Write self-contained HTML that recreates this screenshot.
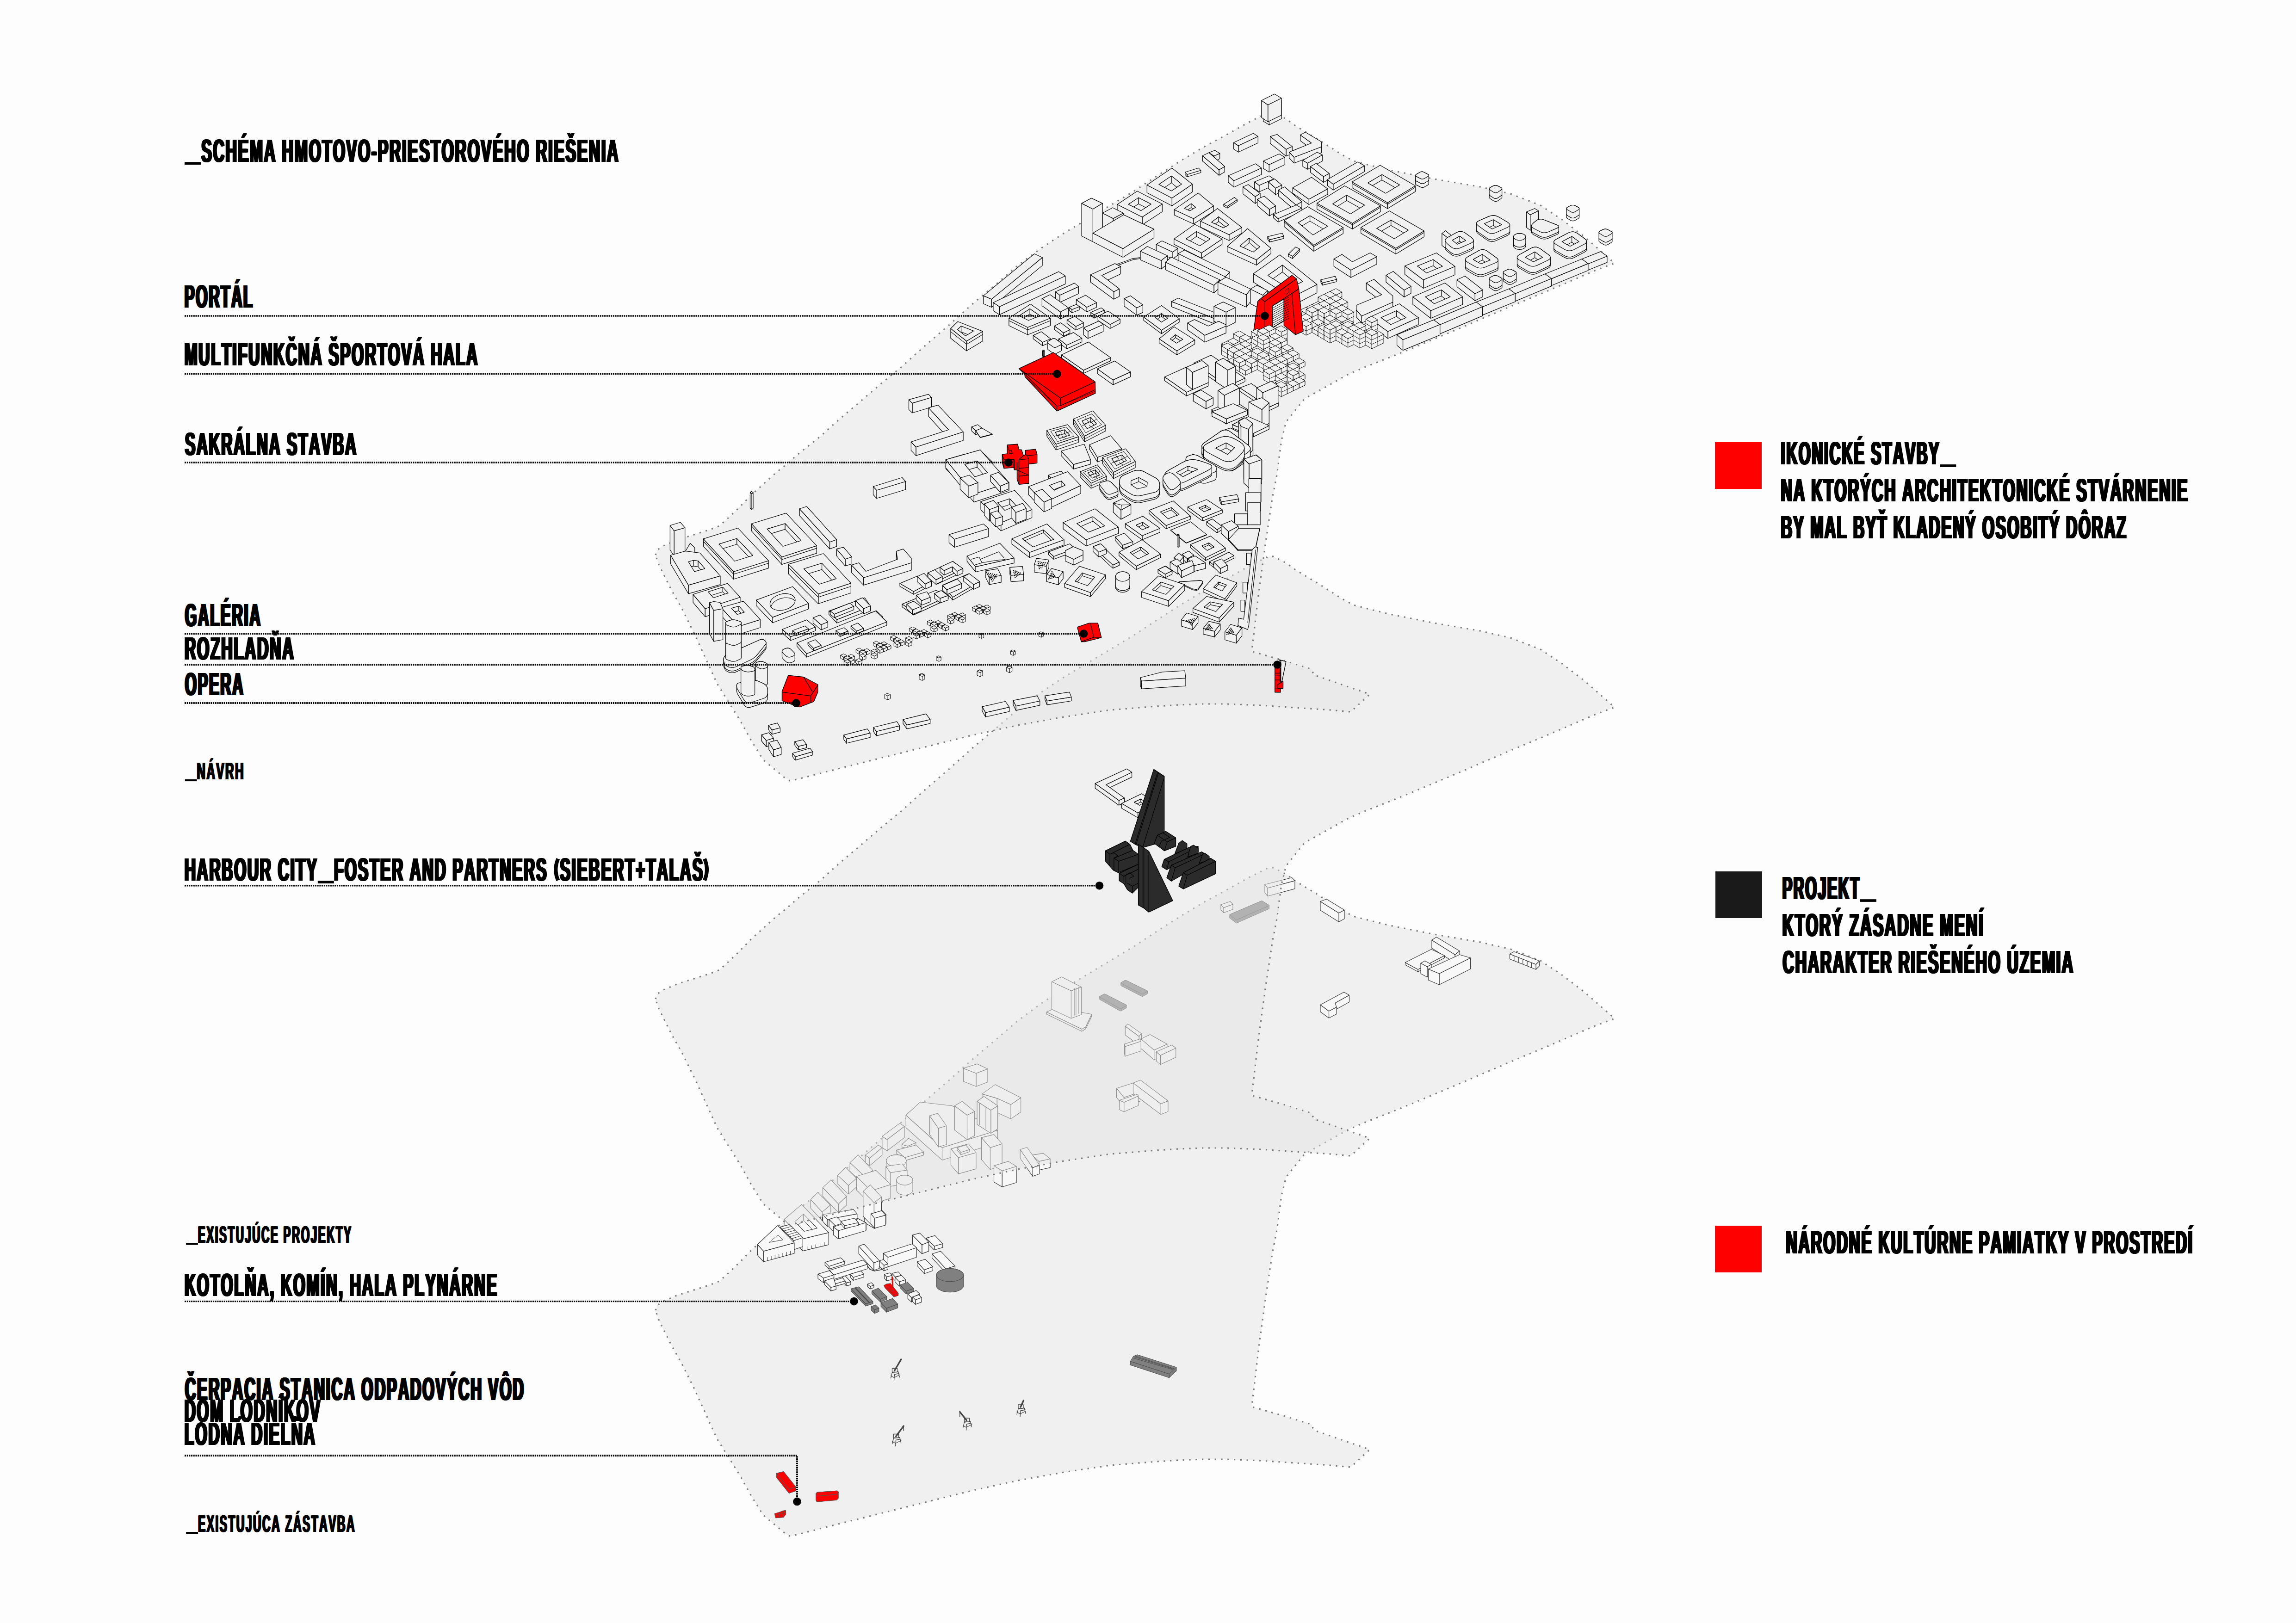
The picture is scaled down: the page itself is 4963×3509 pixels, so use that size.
<!DOCTYPE html><html><head><meta charset="utf-8"><title>Schema</title><style>html,body{margin:0;padding:0;background:#fff}svg{display:block}</style></head><body><svg xmlns="http://www.w3.org/2000/svg" width="4963" height="3509" viewBox="0 0 4963 3509" font-family="Liberation Sans, sans-serif" font-weight="bold" style="font-kerning:none" text-rendering="geometricPrecision">
<rect width="4963" height="3509" fill="#fdfdfd"/>
<g stroke-linejoin="round">
<polygon points="1417,2833 1421,2822 1432,2814 1465,2800 1500,2789 1535,2778 1555,2770 1575,2752 1600,2728 1625,2702 1650,2680 1675,2657 1700,2637 1725,2615 1750,2595 1775,2575 1800,2552 1835,2522 1870,2492 1905,2462 1950,2425 2000,2380 2050,2337 2100,2292 2150,2250 2200,2207 2250,2170 2300,2137 2350,2107 2400,2077 2450,2047 2500,2014 2550,1982 2600,1952 2650,1925 2700,1897 2740,1877 2752,1876 2780,1890 2800,1905 2850,1935 2900,1967 2925,1981 3000,2000 3100,2020 3200,2037 3265,2052 3330,2077 3375,2107 3425,2145 3490,2202 3450,2217 3350,2260 3250,2302 3150,2345 3050,2387 2950,2427 2915,2442 2820,2495 2780,2545 2770,2585 2760,2660 2750,2711 2735,2811 2720,2921 2707,3031 2707,3042 2775,3061 2835,3080 2840,3092 2900,3113 2961,3134 2940,3153 2920,3172 2875,3168 2800,3163 2725,3158 2650,3155 2600,3155 2548,3157 2500,3160 2400,3168 2300,3183 2200,3201 2100,3223 2000,3248 1900,3273 1800,3298 1750,3311 1718,3319 1707,3321 1698,3316 1680,3301 1650,3276 1625,3236 1600,3191 1575,3151 1550,3111 1525,3056 1500,3001 1475,2951 1450,2906 1425,2856" fill="rgb(227,227,227)" fill-opacity="0.5" stroke="none"/><polygon points="1417,2833 1421,2822 1432,2814 1465,2800 1500,2789 1535,2778 1555,2770 1575,2752 1600,2728 1625,2702 1650,2680 1675,2657 1700,2637 1725,2615 1750,2595 1775,2575 1800,2552 1835,2522 1870,2492 1905,2462 1950,2425 2000,2380 2050,2337 2100,2292 2150,2250 2200,2207 2250,2170 2300,2137 2350,2107 2400,2077 2450,2047 2500,2014 2550,1982 2600,1952 2650,1925 2700,1897 2740,1877 2752,1876 2780,1890 2800,1905 2850,1935 2900,1967 2925,1981 3000,2000 3100,2020 3200,2037 3265,2052 3330,2077 3375,2107 3425,2145 3490,2202 3450,2217 3350,2260 3250,2302 3150,2345 3050,2387 2950,2427 2915,2442 2820,2495 2780,2545 2770,2585 2760,2660 2750,2711 2735,2811 2720,2921 2707,3031 2707,3042 2775,3061 2835,3080 2840,3092 2900,3113 2961,3134 2940,3153 2920,3172 2875,3168 2800,3163 2725,3158 2650,3155 2600,3155 2548,3157 2500,3160 2400,3168 2300,3183 2200,3201 2100,3223 2000,3248 1900,3273 1800,3298 1750,3311 1718,3319 1707,3321 1698,3316 1680,3301 1650,3276 1625,3236 1600,3191 1575,3151 1550,3111 1525,3056 1500,3001 1475,2951 1450,2906 1425,2856" fill="none" stroke="#7a7a7a" stroke-width="3.2" stroke-dasharray="3.2 10.6" stroke-linejoin="round"/>
<polygon points="2799,1904 2740,1920 2740,1937.5 2799,1921.5" fill="#f8f8f8" stroke="#333" stroke-width="1.1" /><polygon points="2740,1920 2734,1912.5 2734,1930 2740,1937.5" fill="#f8f8f8" stroke="#333" stroke-width="1.1" /><polygon points="2734,1912.5 2792.5,1897.5 2799,1904 2740,1920" fill="#f8f8f8" stroke="#333" stroke-width="1.1" />
<polygon points="2665,1955 2645,1962.5 2645,1973.5 2665,1966" fill="#f8f8f8" stroke="#333" stroke-width="1.1" /><polygon points="2645,1962.5 2639,1956 2639,1967 2645,1973.5" fill="#f8f8f8" stroke="#333" stroke-width="1.1" /><polygon points="2639,1956 2659,1949 2665,1955 2645,1962.5" fill="#f8f8f8" stroke="#333" stroke-width="1.1" />
<polygon points="2658,1977.5 2657.9,1977.7 2657.9,1984.7 2658,1984.9 2658.3,1985.1 2671.7,1995.4 2672,1995.6 2672.4,1995.7 2672.7,1995.8 2673.1,1995.7 2673.4,1995.6 2743.1,1964.9 2743.4,1964.7 2743.5,1964.6 2743.5,1964.4 2743.5,1957.4 2743.4,1957.2 2743.1,1957 2728.4,1948 2728,1947.8 2727.7,1947.7 2727.3,1947.7 2726.9,1947.8 2726.6,1947.9 2658.4,1977.1 2658.1,1977.3" fill="#808080" stroke="#4d4d4d" stroke-width="1" stroke-linejoin="round"/><polygon points="2658.3,1978.1 2658,1977.9 2657.9,1977.7 2658,1977.5 2658.1,1977.3 2658.4,1977.1 2726.6,1947.9 2726.9,1947.8 2727.3,1947.7 2727.7,1947.7 2728,1947.8 2728.4,1948 2743.1,1957 2743.4,1957.2 2743.5,1957.4 2743.5,1957.6 2743.4,1957.7 2743.1,1957.9 2673.4,1988.6 2673.1,1988.7 2672.7,1988.8 2672.4,1988.7 2672,1988.6 2671.7,1988.4" fill="#808080" stroke="#4d4d4d" stroke-width="1" stroke-linejoin="round"/>
<polygon points="2906,1967.5 2894,1974 2894,1993 2906,1986.5" fill="#f8f8f8" stroke="#333" stroke-width="1.1" /><polygon points="2894,1974 2854,1949 2854,1968 2894,1993" fill="#f8f8f8" stroke="#333" stroke-width="1.1" /><polygon points="2854,1949 2867.5,1944 2906,1967.5 2894,1974" fill="#f8f8f8" stroke="#333" stroke-width="1.1" />
<polygon points="3155,2056 3145,2064 3145,2081.5 3155,2073.5" fill="#f8f8f8" stroke="#333" stroke-width="1.1" /><polygon points="3145,2064 3095,2032.5 3095,2050 3145,2081.5" fill="#f8f8f8" stroke="#333" stroke-width="1.1" /><polygon points="3095,2032.5 3105,2026 3155,2056 3145,2064" fill="#f8f8f8" stroke="#333" stroke-width="1.1" />
<polygon points="3122.5,2066 3065,2096 3065,2101 3122.5,2071" fill="#f8f8f8" stroke="#333" stroke-width="1.1" /><polygon points="3065,2096 3037.5,2081 3037.5,2086 3065,2101" fill="#f8f8f8" stroke="#333" stroke-width="1.1" /><polygon points="3037.5,2081 3094,2052.5 3122.5,2066 3065,2096" fill="#f8f8f8" stroke="#333" stroke-width="1.1" />
<polygon points="3327.5,2077.5 3320,2085 3320,2096 3327.5,2088.5" fill="#f8f8f8" stroke="#333" stroke-width="1.1" /><polygon points="3320,2085 3263.5,2062.5 3263.5,2073.5 3320,2096" fill="#f8f8f8" stroke="#333" stroke-width="1.1" /><polygon points="3263.5,2062.5 3272.5,2057.5 3327.5,2077.5 3320,2085" fill="#f8f8f8" stroke="#333" stroke-width="1.1" />
<line x1="3272.9" y1="2066.2" x2="3272.9" y2="2077.2" stroke="#333" stroke-width="1"/>
<line x1="3282.3" y1="2070" x2="3282.3" y2="2081" stroke="#333" stroke-width="1"/>
<line x1="3291.8" y1="2073.8" x2="3291.8" y2="2084.8" stroke="#333" stroke-width="1"/>
<line x1="3301.2" y1="2077.5" x2="3301.2" y2="2088.5" stroke="#333" stroke-width="1"/>
<line x1="3310.6" y1="2081.2" x2="3310.6" y2="2092.2" stroke="#333" stroke-width="1"/>
<polygon points="3094,2085 3085,2090 3085,2112.5 3094,2107.5" fill="#f8f8f8" stroke="#333" stroke-width="1.1" /><polygon points="3085,2090 3071,2082.5 3071,2105 3085,2112.5" fill="#f8f8f8" stroke="#333" stroke-width="1.1" /><polygon points="3071,2082.5 3080,2077.5 3094,2085 3085,2090" fill="#f8f8f8" stroke="#333" stroke-width="1.1" />
<polygon points="3178.5,2071 3111,2105 3111,2129 3178.5,2095" fill="#f8f8f8" stroke="#333" stroke-width="1.1" /><polygon points="3111,2105 3087.5,2095 3087.5,2119 3111,2129" fill="#f8f8f8" stroke="#333" stroke-width="1.1" /><polygon points="3087.5,2095 3155,2064 3178.5,2071 3111,2105" fill="#f8f8f8" stroke="#333" stroke-width="1.1" />
<polygon points="2423.6,2124.2 2423,2124.6 2422.8,2125 2422.8,2130.2 2422.8,2130.6 2423.1,2131 2423.6,2131.4 2467.6,2154 2468.3,2154.3 2469.1,2154.5 2469.8,2154.4 2470.5,2154.3 2471.1,2153.9 2479.6,2149 2480.2,2148.6 2480.4,2148.3 2480.4,2143 2480.4,2142.6 2480.1,2142.3 2479.6,2141.9 2434.5,2119.8 2433.8,2119.5 2433.1,2119.4 2432.4,2119.4 2431.7,2119.6 2431,2119.9" fill="#808080" stroke="#4d4d4d" stroke-width="1" stroke-linejoin="round"/><polygon points="2423.6,2126.1 2423.1,2125.7 2422.8,2125.4 2422.8,2125 2423,2124.6 2423.6,2124.2 2431,2119.9 2431.7,2119.6 2432.4,2119.4 2433.1,2119.4 2433.8,2119.5 2434.5,2119.8 2479.6,2141.9 2480.1,2142.3 2480.4,2142.6 2480.4,2143 2480.2,2143.4 2479.6,2143.8 2471.1,2148.7 2470.5,2149 2469.8,2149.2 2469.1,2149.2 2468.3,2149.1 2467.6,2148.8" fill="#808080" stroke="#4d4d4d" stroke-width="1" stroke-linejoin="round"/>
<polygon points="2377.5,2154 2377,2154.4 2376.7,2154.8 2376.7,2155.2 2376.7,2160.4 2376.9,2160.8 2377.5,2161.2 2420.5,2185.4 2421.2,2185.7 2421.9,2185.9 2422.6,2185.9 2423.3,2185.7 2424,2185.4 2434.2,2179.6 2434.7,2179.2 2435,2178.8 2435,2173.6 2435,2173.2 2434.7,2172.8 2434.1,2172.5 2389.5,2149.6 2388.8,2149.3 2388.1,2149.1 2387.4,2149.1 2386.6,2149.3 2385.9,2149.6" fill="#808080" stroke="#4d4d4d" stroke-width="1" stroke-linejoin="round"/><polygon points="2377.5,2155.9 2376.9,2155.5 2376.7,2155.2 2376.7,2154.8 2377,2154.4 2377.5,2154 2385.9,2149.6 2386.6,2149.3 2387.4,2149.1 2388.1,2149.1 2388.8,2149.3 2389.5,2149.6 2434.1,2172.5 2434.7,2172.8 2435,2173.2 2435,2173.6 2434.7,2174 2434.2,2174.4 2424,2180.1 2423.3,2180.5 2422.6,2180.6 2421.9,2180.6 2421.2,2180.5 2420.5,2180.2" fill="#808080" stroke="#4d4d4d" stroke-width="1" stroke-linejoin="round"/>
<polygon points="2916.5,2151.5 2886,2168.5 2886,2183.5 2916.5,2166.5" fill="#f8f8f8" stroke="#333" stroke-width="1.1" /><polygon points="2889,2177.5 2872.5,2186 2872.5,2201 2889,2192.5" fill="#f8f8f8" stroke="#333" stroke-width="1.1" /><polygon points="2872.5,2186 2854,2172.5 2854,2187.5 2872.5,2201" fill="#f8f8f8" stroke="#333" stroke-width="1.1" /><polygon points="2854,2172.5 2905,2145 2916.5,2151.5 2886,2168.5 2889,2177.5 2872.5,2186" fill="#f8f8f8" stroke="#333" stroke-width="1.1" />
<polygon points="2359.8,2192.7 2346.9,2219.9 2346.9,2224.5 2359.8,2197.3" fill="#f8f8f8" stroke="#333" stroke-width="1.1" /><polygon points="2346.9,2219.9 2338.5,2225.1 2338.5,2229.7 2346.9,2224.5" fill="#f8f8f8" stroke="#333" stroke-width="1.1" /><polygon points="2338.5,2225.1 2262.4,2188.1 2262.4,2192.7 2338.5,2229.7" fill="#f8f8f8" stroke="#333" stroke-width="1.1" /><polygon points="2262.4,2188.1 2281.9,2179 2359.8,2192.7 2346.9,2219.9 2338.5,2225.1" fill="#f8f8f8" stroke="#333" stroke-width="1.1" />
<polygon points="2337.4,2134 2315.4,2142 2315.4,2201.7 2337.4,2193.7" fill="#f8f8f8" stroke="#333" stroke-width="1.1" /><polygon points="2315.4,2142 2273.5,2122.5 2273.5,2182.2 2315.4,2201.7" fill="#f8f8f8" stroke="#333" stroke-width="1.1" /><polygon points="2273.5,2122.5 2294.9,2112 2337.4,2134 2315.4,2142" fill="#f8f8f8" stroke="#333" stroke-width="1.1" />
<polygon points="2467.3,2234.6 2462.1,2240.8 2462.1,2259.7 2467.3,2253.4" fill="#f8f8f8" stroke="#333" stroke-width="1.1" /><polygon points="2462.1,2240.8 2432.3,2218.8 2432.3,2237.7 2462.1,2259.7" fill="#f8f8f8" stroke="#333" stroke-width="1.1" /><polygon points="2432.3,2218.8 2438,2213.6 2467.3,2234.6 2462.1,2240.8" fill="#f8f8f8" stroke="#333" stroke-width="1.1" />
<line x1="2322.8" y1="2136.6" x2="2322.8" y2="2195.5" stroke="#333" stroke-width="0.9"/>
<line x1="2325.9" y1="2135.5" x2="2325.9" y2="2194" stroke="#333" stroke-width="0.9"/>
<line x1="2331.1" y1="2133.6" x2="2331.1" y2="2191.6" stroke="#333" stroke-width="0.9"/>
<polygon points="2522.8,2257.6 2494.6,2270.2 2494.6,2291.1 2522.8,2278.6" fill="#f8f8f8" stroke="#333" stroke-width="1.1" /><polygon points="2494.6,2270.2 2466.3,2246.1 2466.3,2267 2494.6,2291.1" fill="#f8f8f8" stroke="#333" stroke-width="1.1" /><polygon points="2466.3,2246.1 2486.2,2236.7 2522.8,2257.6 2494.6,2270.2" fill="#f8f8f8" stroke="#333" stroke-width="1.1" />
<polygon points="2466.3,2251.3 2431.7,2262.8 2431.7,2283.8 2466.3,2272.3" fill="#f8f8f8" stroke="#333" stroke-width="1.1" /><polygon points="2431.7,2262.8 2430.7,2257.2 2430.7,2278.1 2431.7,2283.8" fill="#f8f8f8" stroke="#333" stroke-width="1.1" /><polygon points="2430.7,2257.2 2465.2,2246.1 2466.3,2251.3 2431.7,2262.8" fill="#f8f8f8" stroke="#333" stroke-width="1.1" />
<polygon points="2541.7,2266 2508.2,2281.7 2508.2,2301.6 2541.7,2285.9" fill="#f8f8f8" stroke="#333" stroke-width="1.1" /><polygon points="2508.2,2281.7 2499.4,2274 2499.4,2293.9 2508.2,2301.6" fill="#f8f8f8" stroke="#333" stroke-width="1.1" /><polygon points="2499.4,2274 2533.3,2259.3 2541.7,2266 2508.2,2281.7" fill="#f8f8f8" stroke="#333" stroke-width="1.1" />
<polygon points="2135,2311.1 2109.9,2320.5 2109.9,2348.9 2135,2339.5" fill="#f8f8f8" stroke="#333" stroke-width="1.1" /><polygon points="2109.9,2320.5 2082.4,2309.7 2082.4,2338.1 2109.9,2348.9" fill="#f8f8f8" stroke="#333" stroke-width="1.1" /><polygon points="2082.4,2309.7 2112.1,2300.3 2135,2311.1 2109.9,2320.5" fill="#f8f8f8" stroke="#333" stroke-width="1.1" />
<polygon points="2466.3,2360.3 2429.6,2372.8 2429.6,2392.7 2466.3,2380.2" fill="#f8f8f8" stroke="#333" stroke-width="1.1" /><polygon points="2429.6,2372.8 2413.5,2352.9 2413.5,2372.8 2429.6,2392.7" fill="#f8f8f8" stroke="#333" stroke-width="1.1" /><polygon points="2413.5,2352.9 2449.5,2341.4 2466.3,2360.3 2429.6,2372.8" fill="#f8f8f8" stroke="#333" stroke-width="1.1" />
<polygon points="2524.9,2380.2 2509.2,2386.5 2509.2,2409.5 2524.9,2403.2" fill="#f8f8f8" stroke="#333" stroke-width="1.1" /><polygon points="2509.2,2386.5 2449.5,2341.4 2449.5,2364.5 2509.2,2409.5" fill="#f8f8f8" stroke="#333" stroke-width="1.1" /><polygon points="2449.5,2341.4 2465.2,2335.1 2524.9,2380.2 2509.2,2386.5" fill="#f8f8f8" stroke="#333" stroke-width="1.1" />
<polygon points="2460.4,2369.7 2429.6,2383.3 2429.6,2403.8 2460.4,2390.2" fill="#f8f8f8" stroke="#333" stroke-width="1.1" /><polygon points="2429.6,2383.3 2419.8,2378.7 2419.8,2399.2 2429.6,2403.8" fill="#f8f8f8" stroke="#333" stroke-width="1.1" /><polygon points="2419.8,2378.7 2459.6,2365.5 2460.4,2369.7 2429.6,2383.3" fill="#f8f8f8" stroke="#333" stroke-width="1.1" />
<polygon points="2155.3,2374.6 2122.9,2365.1 2122.9,2396.2 2155.3,2405.6" fill="#f8f8f8" stroke="#333" stroke-width="1.1" /><polygon points="2206.6,2373.2 2185,2388.1 2185,2419.1 2206.6,2404.3" fill="#f8f8f8" stroke="#333" stroke-width="1.1" /><polygon points="2185,2388.1 2155.3,2374.6 2155.3,2405.6 2185,2419.1" fill="#f8f8f8" stroke="#333" stroke-width="1.1" /><polygon points="2122.9,2365.1 2151.2,2344.9 2206.6,2373.2 2185,2388.1 2155.3,2374.6" fill="#f8f8f8" stroke="#333" stroke-width="1.1" />
<polygon points="1979.8,2401.8 1977,2403 1974.8,2404.5 1973.5,2406.4 1973,2408.3 1973,2432.6 1973.5,2434.6 1974.8,2436.4 1977,2438 1979.8,2439.2 1983,2439.9 1986.5,2440.2 1990,2439.9 1993.3,2439.2 1996.1,2438 1998.2,2436.4 1999.6,2434.6 2000,2432.6 2000,2408.3 1999.6,2406.4 1998.2,2404.5 1996.1,2403 1993.3,2401.8 1990,2401 1986.5,2400.8 1983,2401" fill="#f8f8f8" stroke="#333" stroke-width="1.1" stroke-linejoin="round"/><polygon points="2000,2408.3 1999.6,2410.3 1998.2,2412.1 1996.1,2413.7 1993.3,2414.9 1990,2415.6 1986.5,2415.9 1983,2415.6 1979.8,2414.9 1977,2413.7 1974.8,2412.1 1973.5,2410.3 1973,2408.3 1973.5,2406.4 1974.8,2404.5 1977,2403 1979.8,2401.8 1983,2401 1986.5,2400.8 1990,2401 1993.3,2401.8 1996.1,2403 1998.2,2404.5 1999.6,2406.4" fill="#f8f8f8" stroke="#333" stroke-width="1.1" stroke-linejoin="round"/>
<polygon points="2156.6,2443.4 2036.5,2481.2 2036.5,2508.2 2156.6,2470.4" fill="#f8f8f8" stroke="#333" stroke-width="1.1" /><polygon points="2036.5,2481.2 1958.2,2411 1958.2,2438 2036.5,2508.2" fill="#f8f8f8" stroke="#333" stroke-width="1.1" /><polygon points="1958.2,2411 1989.2,2382.7 2058.1,2390.8 2156.6,2443.4 2036.5,2481.2" fill="#f8f8f8" stroke="#333" stroke-width="1.1" />
<polygon points="2156.6,2390.8 2141.8,2400.2 2141.8,2450.2 2156.6,2440.7" fill="#f8f8f8" stroke="#333" stroke-width="1.1" /><polygon points="2141.8,2400.2 2112.1,2381.3 2112.1,2431.3 2141.8,2450.2" fill="#f8f8f8" stroke="#333" stroke-width="1.1" /><polygon points="2112.1,2381.3 2126.9,2370.5 2156.6,2390.8 2141.8,2400.2" fill="#f8f8f8" stroke="#333" stroke-width="1.1" />
<line x1="2068.9" y1="2394.8" x2="2068.9" y2="2443.4" stroke="#333" stroke-width="0.9"/>
<line x1="2074.3" y1="2397.5" x2="2074.3" y2="2448.8" stroke="#333" stroke-width="0.9"/>
<line x1="2095.9" y1="2408.3" x2="2095.9" y2="2459.6" stroke="#333" stroke-width="0.9"/>
<line x1="2101.3" y1="2405.6" x2="2101.3" y2="2456.9" stroke="#333" stroke-width="0.9"/>
<line x1="2014.9" y1="2416.4" x2="2014.9" y2="2456.9" stroke="#333" stroke-width="0.9"/>
<line x1="2020.3" y1="2419.1" x2="2020.3" y2="2462.3" stroke="#333" stroke-width="0.9"/>
<line x1="2117.5" y1="2384" x2="2117.5" y2="2432.6" stroke="#333" stroke-width="0.9"/>
<line x1="2131" y1="2393.5" x2="2131" y2="2440.7" stroke="#333" stroke-width="0.9"/>
<polygon points="1954.9,2435.3 1917.6,2463.7 1917.6,2488 1954.9,2459.6" fill="#f8f8f8" stroke="#333" stroke-width="1.1" /><polygon points="1917.6,2463.7 1906.8,2456.9 1906.8,2481.2 1917.6,2488" fill="#f8f8f8" stroke="#333" stroke-width="1.1" /><polygon points="1906.8,2456.9 1944.7,2428.6 1954.9,2435.3 1917.6,2463.7" fill="#f8f8f8" stroke="#333" stroke-width="1.1" />
<polygon points="1979.8,2470.4 1962.2,2478 1962.2,2483.4 1979.8,2475.8" fill="#f8f8f8" stroke="#333" stroke-width="1.1" /><polygon points="1962.2,2478 1949.5,2474.5 1949.5,2479.9 1962.2,2483.4" fill="#f8f8f8" stroke="#333" stroke-width="1.1" /><polygon points="1949.5,2474.5 1963.6,2461 1979.8,2470.4 1962.2,2478" fill="#f8f8f8" stroke="#333" stroke-width="1.1" />
<polygon points="2106.7,2402.9 2090.5,2411 2090.5,2463.7 2106.7,2455.6" fill="#f8f8f8" stroke="#333" stroke-width="1.1" /><polygon points="2090.5,2411 2063.5,2390.8 2063.5,2443.4 2090.5,2463.7" fill="#f8f8f8" stroke="#333" stroke-width="1.1" /><polygon points="2063.5,2390.8 2079.7,2381.3 2106.7,2402.9 2090.5,2411" fill="#f8f8f8" stroke="#333" stroke-width="1.1" />
<polygon points="1996.5,2490.7 1955.5,2502.8 1955.5,2509.6 1996.5,2497.4" fill="#f8f8f8" stroke="#333" stroke-width="1.1" /><polygon points="1955.5,2502.8 1937.9,2486.6 1937.9,2493.4 1955.5,2509.6" fill="#f8f8f8" stroke="#333" stroke-width="1.1" /><polygon points="1937.9,2486.6 1979.8,2475.8 1996.5,2490.7 1955.5,2502.8" fill="#f8f8f8" stroke="#333" stroke-width="1.1" />
<polygon points="2045.9,2434 2028.4,2439.4 2028.4,2479.9 2045.9,2474.5" fill="#f8f8f8" stroke="#333" stroke-width="1.1" /><polygon points="2028.4,2439.4 2009.5,2412.4 2009.5,2452.9 2028.4,2479.9" fill="#f8f8f8" stroke="#333" stroke-width="1.1" /><polygon points="2009.5,2412.4 2027,2407 2045.9,2434 2028.4,2439.4" fill="#f8f8f8" stroke="#333" stroke-width="1.1" />
<polygon points="1906.8,2481.2 1879.8,2504.2 1879.8,2520.4 1906.8,2497.4" fill="#f8f8f8" stroke="#333" stroke-width="1.1" /><polygon points="1879.8,2504.2 1870.4,2497.4 1870.4,2513.6 1879.8,2520.4" fill="#f8f8f8" stroke="#333" stroke-width="1.1" /><polygon points="1870.4,2497.4 1898.7,2475.8 1906.8,2481.2 1879.8,2504.2" fill="#f8f8f8" stroke="#333" stroke-width="1.1" />
<polygon points="1930.6,2500.3 1927.8,2501.5 1925.7,2503.1 1924.3,2504.9 1923.9,2506.9 1923.9,2509.6 1924.3,2511.5 1925.7,2513.4 1927.8,2514.9 1930.6,2516.1 1933.9,2516.9 1937.4,2517.1 1940.9,2516.9 1944.1,2516.1 1946.9,2514.9 1949.1,2513.4 1950.4,2511.5 1950.9,2509.6 1950.9,2506.9 1950.4,2504.9 1949.1,2503.1 1946.9,2501.5 1944.1,2500.3 1940.9,2499.6 1937.4,2499.3 1933.9,2499.6" fill="#f8f8f8" stroke="#333" stroke-width="1.1" stroke-linejoin="round"/><polygon points="1950.9,2506.9 1950.4,2508.8 1949.1,2510.7 1946.9,2512.2 1944.1,2513.4 1940.9,2514.2 1937.4,2514.4 1933.9,2514.2 1930.6,2513.4 1927.8,2512.2 1925.7,2510.7 1924.3,2508.8 1923.9,2506.9 1924.3,2504.9 1925.7,2503.1 1927.8,2501.5 1930.6,2500.3 1933.9,2499.6 1937.4,2499.3 1940.9,2499.6 1944.1,2500.3 1946.9,2501.5 1949.1,2503.1 1950.4,2504.9" fill="#f8f8f8" stroke="#333" stroke-width="1.1" stroke-linejoin="round"/>
<polygon points="2270.1,2505.5 2245.8,2510.9 2245.8,2529.8 2270.1,2524.4" fill="#f8f8f8" stroke="#333" stroke-width="1.1" /><polygon points="2245.8,2510.9 2230.9,2497.4 2230.9,2516.3 2245.8,2529.8" fill="#f8f8f8" stroke="#333" stroke-width="1.1" /><polygon points="2230.9,2497.4 2255.2,2493.4 2270.1,2505.5 2245.8,2510.9" fill="#f8f8f8" stroke="#333" stroke-width="1.1" />
<polygon points="2247.1,2519 2232.3,2524.4 2232.3,2543.3 2247.1,2537.9" fill="#f8f8f8" stroke="#333" stroke-width="1.1" /><polygon points="2232.3,2524.4 2205.2,2485.3 2205.2,2504.2 2232.3,2543.3" fill="#f8f8f8" stroke="#333" stroke-width="1.1" /><polygon points="2205.2,2485.3 2220.1,2480.7 2247.1,2519 2232.3,2524.4" fill="#f8f8f8" stroke="#333" stroke-width="1.1" />
<polygon points="2166.1,2473.1 2140.4,2481.2 2140.4,2528.5 2166.1,2520.4" fill="#f8f8f8" stroke="#333" stroke-width="1.1" /><polygon points="2140.4,2481.2 2121.5,2459.6 2121.5,2506.9 2140.4,2528.5" fill="#f8f8f8" stroke="#333" stroke-width="1.1" /><polygon points="2121.5,2459.6 2148.5,2452.9 2166.1,2473.1 2140.4,2481.2" fill="#f8f8f8" stroke="#333" stroke-width="1.1" />
<polygon points="1926.6,2498.4 1922.1,2500.4 1918.6,2503.1 1916.5,2506.2 1915.8,2509.6 1915.8,2525.8 1916.5,2529.1 1918.6,2532.3 1922.1,2535 1926.6,2537 1931.8,2538.3 1937.4,2538.7 1943,2538.3 1948.2,2537 1952.6,2535 1956.1,2532.3 1958.2,2529.1 1959,2525.8 1959,2509.6 1958.2,2506.2 1956.1,2503.1 1952.6,2500.4 1948.2,2498.4 1943,2497.1 1937.4,2496.6 1931.8,2497.1" fill="#f8f8f8" stroke="#333" stroke-width="1.1" stroke-linejoin="round"/><polygon points="1959,2509.6 1958.2,2512.9 1956.1,2516.1 1952.6,2518.7 1948.2,2520.8 1943,2522.1 1937.4,2522.5 1931.8,2522.1 1926.6,2520.8 1922.1,2518.7 1918.6,2516.1 1916.5,2512.9 1915.8,2509.6 1916.5,2506.2 1918.6,2503.1 1922.1,2500.4 1926.6,2498.4 1931.8,2497.1 1937.4,2496.6 1943,2497.1 1948.2,2498.4 1952.6,2500.4 1956.1,2503.1 1958.2,2506.2" fill="#f8f8f8" stroke="#333" stroke-width="1.1" stroke-linejoin="round"/>
<polygon points="2109.9,2492 2071.6,2502.8 2071.6,2537.9 2109.9,2527.1" fill="#f8f8f8" stroke="#333" stroke-width="1.1" /><polygon points="2071.6,2502.8 2055.4,2483.9 2055.4,2519 2071.6,2537.9" fill="#f8f8f8" stroke="#333" stroke-width="1.1" /><polygon points="2055.4,2483.9 2093.2,2473.1 2109.9,2492 2071.6,2502.8" fill="#f8f8f8" stroke="#333" stroke-width="1.1" />
<polygon points="1886.6,2530.4 1869,2543.3 1869,2562.2 1886.6,2549.3" fill="#f8f8f8" stroke="#333" stroke-width="1.1" /><polygon points="1869,2543.3 1837.2,2513.6 1837.2,2532.5 1869,2562.2" fill="#f8f8f8" stroke="#333" stroke-width="1.1" /><polygon points="1837.2,2513.6 1855,2496.9 1886.6,2530.4 1869,2543.3" fill="#f8f8f8" stroke="#333" stroke-width="1.1" />
<polygon points="2095.9,2485.3 2077,2491.5 2077,2496.4 2095.9,2490.1" fill="#f8f8f8" stroke="#333" stroke-width="1.1" /><polygon points="2077,2491.5 2068.9,2481.2 2068.9,2486.1 2077,2496.4" fill="#f8f8f8" stroke="#333" stroke-width="1.1" /><polygon points="2068.9,2481.2 2087.8,2475.8 2095.9,2485.3 2077,2491.5" fill="#f8f8f8" stroke="#333" stroke-width="1.1" />
<polygon points="1960.9,2529.8 1924.4,2535.2 1924.4,2564.9 1960.9,2559.5" fill="#f8f8f8" stroke="#333" stroke-width="1.1" /><polygon points="1924.4,2535.2 1914.9,2521.7 1914.9,2551.4 1924.4,2564.9" fill="#f8f8f8" stroke="#333" stroke-width="1.1" /><polygon points="1914.9,2521.7 1950.1,2516.3 1960.9,2529.8 1924.4,2535.2" fill="#f8f8f8" stroke="#333" stroke-width="1.1" />
<polygon points="1851.5,2547.4 1833.9,2562.8 1833.9,2581.7 1851.5,2566.3" fill="#f8f8f8" stroke="#333" stroke-width="1.1" /><polygon points="1833.9,2562.8 1811,2541.2 1811,2560.1 1833.9,2581.7" fill="#f8f8f8" stroke="#333" stroke-width="1.1" /><polygon points="1811,2541.2 1828,2523.9 1851.5,2547.4 1833.9,2562.8" fill="#f8f8f8" stroke="#333" stroke-width="1.1" />
<polygon points="2197.1,2521.7 2166.1,2531.2 2166.1,2566.3 2197.1,2556.8" fill="#f8f8f8" stroke="#333" stroke-width="1.1" /><polygon points="2166.1,2531.2 2148.5,2520.4 2148.5,2555.5 2166.1,2566.3" fill="#f8f8f8" stroke="#333" stroke-width="1.1" /><polygon points="2148.5,2520.4 2179.6,2510.9 2197.1,2521.7 2166.1,2531.2" fill="#f8f8f8" stroke="#333" stroke-width="1.1" />
<polygon points="1946.7,2542.1 1943,2543.8 1940.3,2546 1938.5,2548.6 1937.9,2551.4 1937.9,2573 1938.5,2575.8 1940.3,2578.4 1943,2580.7 1946.7,2582.4 1950.9,2583.5 1955.5,2583.8 1960,2583.5 1964.2,2582.4 1967.9,2580.7 1970.7,2578.4 1972.4,2575.8 1973,2573 1973,2551.4 1972.4,2548.6 1970.7,2546 1967.9,2543.8 1964.2,2542.1 1960,2541 1955.5,2540.6 1950.9,2541" fill="#f8f8f8" stroke="#333" stroke-width="1.1" stroke-linejoin="round"/><polygon points="1973,2551.4 1972.4,2554.2 1970.7,2556.8 1967.9,2559.1 1964.2,2560.8 1960,2561.9 1955.5,2562.2 1950.9,2561.9 1946.7,2560.8 1943,2559.1 1940.3,2556.8 1938.5,2554.2 1937.9,2551.4 1938.5,2548.6 1940.3,2546 1943,2543.8 1946.7,2542.1 1950.9,2541 1955.5,2540.6 1960,2541 1964.2,2542.1 1967.9,2543.8 1970.7,2546 1972.4,2548.6" fill="#f8f8f8" stroke="#333" stroke-width="1.1" stroke-linejoin="round"/>
<polygon points="1925.2,2560.9 1882.5,2574.4 1882.5,2604.1 1925.2,2590.6" fill="#f8f8f8" stroke="#333" stroke-width="1.1" /><polygon points="1882.5,2574.4 1851.5,2543.3 1851.5,2573 1882.5,2604.1" fill="#f8f8f8" stroke="#333" stroke-width="1.1" /><polygon points="1851.5,2543.3 1893.3,2530.4 1925.2,2560.9 1882.5,2574.4" fill="#f8f8f8" stroke="#333" stroke-width="1.1" />
<polygon points="1829.9,2586.5 1812.3,2602.8 1812.3,2621.7 1829.9,2605.5" fill="#f8f8f8" stroke="#333" stroke-width="1.1" /><polygon points="1812.3,2602.8 1778.6,2567.6 1778.6,2586.5 1812.3,2621.7" fill="#f8f8f8" stroke="#333" stroke-width="1.1" /><polygon points="1778.6,2567.6 1796.1,2550.9 1829.9,2586.5 1812.3,2602.8" fill="#f8f8f8" stroke="#333" stroke-width="1.1" />
<polygon points="1794.8,2605.5 1777.2,2620.3 1777.2,2639.2 1794.8,2624.4" fill="#f8f8f8" stroke="#333" stroke-width="1.1" /><polygon points="1777.2,2620.3 1752.4,2593.3 1752.4,2612.2 1777.2,2639.2" fill="#f8f8f8" stroke="#333" stroke-width="1.1" /><polygon points="1752.4,2593.3 1767.8,2577.9 1794.8,2605.5 1777.2,2620.3" fill="#f8f8f8" stroke="#333" stroke-width="1.1" />
<polygon points="1852.8,2624.4 1788,2636.5 1788,2651.4 1852.8,2639.2" fill="#f8f8f8" stroke="#333" stroke-width="1.1" /><polygon points="1788,2636.5 1778.6,2625.7 1778.6,2640.6 1788,2651.4" fill="#f8f8f8" stroke="#333" stroke-width="1.1" /><polygon points="1778.6,2625.7 1844.7,2614.9 1852.8,2624.4 1788,2636.5" fill="#f8f8f8" stroke="#333" stroke-width="1.1" />
<polygon points="1915.1,2625.6 1890,2636.5 1890,2656.1 1915.1,2645.2" fill="#f8f8f8" stroke="#333" stroke-width="1.2" /><polygon points="1890,2636.5 1868.3,2623.5 1868.3,2643.1 1890,2656.1" fill="#f8f8f8" stroke="#333" stroke-width="1.2" /><polygon points="1868.3,2623.5 1903.1,2613.7 1915.1,2625.6 1890,2636.5" fill="#f8f8f8" stroke="#333" stroke-width="1.2" />
<polygon points="1823.1,2646 1806.9,2651.4 1806.9,2667.6 1823.1,2662.2" fill="#f8f8f8" stroke="#333" stroke-width="1.1" /><polygon points="1806.9,2651.4 1792.1,2636.5 1792.1,2652.7 1806.9,2667.6" fill="#f8f8f8" stroke="#333" stroke-width="1.1" /><polygon points="1792.1,2636.5 1808.3,2631.1 1823.1,2646 1806.9,2651.4" fill="#f8f8f8" stroke="#333" stroke-width="1.1" />
<polygon points="1872.2,2644.2 1811.6,2662.7 1811.6,2677.9 1872.2,2659.4" fill="#f8f8f8" stroke="#333" stroke-width="1.2" /><polygon points="1811.6,2662.7 1801.8,2650.7 1801.8,2665.9 1811.6,2677.9" fill="#f8f8f8" stroke="#333" stroke-width="1.2" /><polygon points="1801.8,2650.7 1854.1,2634.4 1872.2,2644.2 1811.6,2662.7" fill="#f8f8f8" stroke="#333" stroke-width="1.2" />
<polygon points="1905.5,2587.9 1889.3,2600.1 1889.3,2654.1 1905.5,2641.9" fill="#f8f8f8" stroke="#333" stroke-width="1.1" /><polygon points="1889.3,2600.1 1865.8,2575.7 1865.8,2629.8 1889.3,2654.1" fill="#f8f8f8" stroke="#333" stroke-width="1.1" /><polygon points="1865.8,2575.7 1881.2,2561.7 1905.5,2587.9 1889.3,2600.1" fill="#f8f8f8" stroke="#333" stroke-width="1.1" />
<polygon points="1854.1,2640.9 1825.8,2649.2 1825.8,2652.4 1854.1,2644.2" fill="#f8f8f8" stroke="#333" stroke-width="1.2" /><polygon points="1825.8,2649.2 1820.3,2643.1 1820.3,2646.3 1825.8,2652.4" fill="#f8f8f8" stroke="#333" stroke-width="1.2" /><polygon points="1820.3,2643.1 1848.7,2635.4 1854.1,2640.9 1825.8,2649.2" fill="#f8f8f8" stroke="#333" stroke-width="1.2" />
<polygon points="1871.7,2643.3 1812.3,2660.8 1812.3,2678.4 1871.7,2660.8" fill="#f8f8f8" stroke="#333" stroke-width="1.1" /><polygon points="1812.3,2660.8 1801.5,2652.7 1801.5,2670.3 1812.3,2678.4" fill="#f8f8f8" stroke="#333" stroke-width="1.1" /><polygon points="1801.5,2652.7 1855.5,2635.2 1871.7,2643.3 1812.3,2660.8" fill="#f8f8f8" stroke="#333" stroke-width="1.1" />
<polygon points="1791.3,2664.9 1735.4,2678.4 1735.4,2704.6 1791.3,2691.1" fill="#f8f8f8" stroke="#333" stroke-width="1.1" /><polygon points="1735.4,2678.4 1694.9,2636.5 1694.9,2662.7 1735.4,2704.6" fill="#f8f8f8" stroke="#333" stroke-width="1.1" /><polygon points="1694.9,2636.5 1732.7,2604.1 1791.3,2664.9 1735.4,2678.4" fill="#f8f8f8" stroke="#333" stroke-width="1.1" /><polygon points="1718,2641.2 1736.9,2625 1766.2,2655.4 1738.3,2662.2" fill="#f8f8f8" stroke="#333" stroke-width="1.1" /><polygon points="1718,2641.2 1725.2,2648.6 1736.9,2638.5 1736.9,2625" fill="#f8f8f8" stroke="#333" stroke-width="1" /><polygon points="1736.9,2625 1736.9,2638.5 1755.7,2658 1766.2,2655.4" fill="#f8f8f8" stroke="#333" stroke-width="1" />
<polygon points="1735.4,2675.7 1715.8,2682.3 1715.8,2701.9 1735.4,2695.3" fill="#f8f8f8" stroke="#333" stroke-width="1.2" /><polygon points="1715.8,2682.3 1686.4,2652.9 1686.4,2672.5 1715.8,2701.9" fill="#f8f8f8" stroke="#333" stroke-width="1.2" /><polygon points="1686.4,2652.9 1707.1,2647.4 1735.4,2675.7 1715.8,2682.3" fill="#f8f8f8" stroke="#333" stroke-width="1.2" />
<polygon points="1914.4,2627.1 1890.6,2633.8 1890.6,2655.4 1914.4,2648.7" fill="#f8f8f8" stroke="#333" stroke-width="1.1" /><polygon points="1890.6,2633.8 1882.5,2624.4 1882.5,2646 1890.6,2655.4" fill="#f8f8f8" stroke="#333" stroke-width="1.1" /><polygon points="1882.5,2624.4 1905.5,2617.6 1914.4,2627.1 1890.6,2633.8" fill="#f8f8f8" stroke="#333" stroke-width="1.1" />
<polygon points="1855.5,2643.3 1825.8,2650 1825.8,2656 1855.5,2649.2" fill="#f8f8f8" stroke="#333" stroke-width="1.1" /><polygon points="1825.8,2650 1817.7,2640.6 1817.7,2646.5 1825.8,2656" fill="#f8f8f8" stroke="#333" stroke-width="1.1" /><polygon points="1817.7,2640.6 1847.4,2633.8 1855.5,2643.3 1825.8,2650" fill="#f8f8f8" stroke="#333" stroke-width="1.1" />
<polygon points="2037.7,2688.8 2019.6,2694.2 2019.6,2702.5 2037.7,2697.1" fill="#f8f8f8" stroke="#333" stroke-width="1.2" /><polygon points="2019.6,2694.2 2002.2,2676.8 2002.2,2685.1 2019.6,2702.5" fill="#f8f8f8" stroke="#333" stroke-width="1.2" /><polygon points="2002.2,2676.8 2021.1,2671.4 2037.7,2688.8 2019.6,2694.2" fill="#f8f8f8" stroke="#333" stroke-width="1.2" />
<polygon points="2007.6,2685.5 1992.8,2691 1992.8,2710.6 2007.6,2705.1" fill="#f8f8f8" stroke="#333" stroke-width="1.2" /><polygon points="1992.8,2691 1972.4,2670.3 1972.4,2689.9 1992.8,2710.6" fill="#f8f8f8" stroke="#333" stroke-width="1.2" /><polygon points="1972.4,2670.3 1988,2665.9 2007.6,2685.5 1992.8,2691" fill="#f8f8f8" stroke="#333" stroke-width="1.2" />
<line x1="1690.6" y1="2657.1" x2="1711.2" y2="2651.5" stroke="#333" stroke-width="1"/>
<line x1="1694.8" y1="2661.3" x2="1715.2" y2="2655.5" stroke="#333" stroke-width="1"/>
<line x1="1699" y1="2665.5" x2="1719.2" y2="2659.6" stroke="#333" stroke-width="1"/>
<line x1="1703.2" y1="2669.7" x2="1723.3" y2="2663.6" stroke="#333" stroke-width="1"/>
<line x1="1707.4" y1="2673.9" x2="1727.3" y2="2667.6" stroke="#333" stroke-width="1"/>
<line x1="1711.6" y1="2678.1" x2="1731.4" y2="2671.7" stroke="#333" stroke-width="1"/>
<polygon points="1716.9,2687.1 1650.5,2705.1 1650.5,2728 1716.9,2709.9" fill="#f8f8f8" stroke="#333" stroke-width="1.2" /><polygon points="1650.5,2705.1 1637.4,2690.5 1637.4,2713.4 1650.5,2728" fill="#f8f8f8" stroke="#333" stroke-width="1.2" /><polygon points="1637.4,2690.5 1681,2649.6 1716.9,2687.1 1650.5,2705.1" fill="#f8f8f8" stroke="#333" stroke-width="1.2" />
<line x1="1744.7" y1="2695" x2="1744.7" y2="2702.3" stroke="#333" stroke-width="1"/>
<line x1="1754" y1="2692.8" x2="1754" y2="2700.1" stroke="#333" stroke-width="1"/>
<line x1="1763.3" y1="2690.5" x2="1763.3" y2="2697.8" stroke="#333" stroke-width="1"/>
<line x1="1772.6" y1="2688.3" x2="1772.6" y2="2695.6" stroke="#333" stroke-width="1"/>
<line x1="1781.9" y1="2686" x2="1781.9" y2="2693.3" stroke="#333" stroke-width="1"/>
<polygon points="1981.1,2697.5 1919.4,2718.2 1919.4,2738.9 1981.1,2718.2" fill="#f8f8f8" stroke="#333" stroke-width="1.2" /><polygon points="1919.4,2718.2 1909.6,2709.5 1909.6,2730.2 1919.4,2738.9" fill="#f8f8f8" stroke="#333" stroke-width="1.2" /><polygon points="1909.6,2709.5 1971.7,2689.2 1981.1,2697.5 1919.4,2718.2" fill="#f8f8f8" stroke="#333" stroke-width="1.2" />
<polygon points="1900.9,2725.8 1888.9,2730.2 1888.9,2746.5 1900.9,2742.2" fill="#f8f8f8" stroke="#333" stroke-width="1.2" /><polygon points="1888.9,2730.2 1856.3,2694.2 1856.3,2710.6 1888.9,2746.5" fill="#f8f8f8" stroke="#333" stroke-width="1.2" /><polygon points="1856.3,2694.2 1867.8,2689.9 1900.9,2725.8 1888.9,2730.2" fill="#f8f8f8" stroke="#333" stroke-width="1.2" />
<polygon points="1662.5,2686.2 1681.4,2670.3 1693,2680.5" fill="#f8f8f8" stroke="#333" stroke-width="1" />
<line x1="1658.8" y1="2718.1" x2="1658.8" y2="2725.7" stroke="#333" stroke-width="1"/>
<line x1="1667.1" y1="2715.9" x2="1667.1" y2="2723.5" stroke="#333" stroke-width="1"/>
<line x1="1675.4" y1="2713.6" x2="1675.4" y2="2721.2" stroke="#333" stroke-width="1"/>
<line x1="1683.7" y1="2711.3" x2="1683.7" y2="2719" stroke="#333" stroke-width="1"/>
<line x1="1692" y1="2709.1" x2="1692" y2="2716.7" stroke="#333" stroke-width="1"/>
<line x1="1700.3" y1="2706.8" x2="1700.3" y2="2714.4" stroke="#333" stroke-width="1"/>
<line x1="1708.6" y1="2704.6" x2="1708.6" y2="2712.2" stroke="#333" stroke-width="1"/>
<polygon points="2064.3,2737.1 2044.7,2743.2 2044.7,2752 2064.3,2745.9" fill="#f8f8f8" stroke="#333" stroke-width="1.2" /><polygon points="2044.7,2743.2 2014.6,2711 2014.6,2719.7 2044.7,2752" fill="#f8f8f8" stroke="#333" stroke-width="1.2" /><polygon points="2014.6,2711 2033.3,2705.1 2064.3,2737.1 2044.7,2743.2" fill="#f8f8f8" stroke="#333" stroke-width="1.2" />
<polygon points="1825.8,2726.9 1792,2737.8 1792,2743.9 1825.8,2733" fill="#f8f8f8" stroke="#333" stroke-width="1.2" /><polygon points="1792,2737.8 1783.3,2729.1 1783.3,2735.2 1792,2743.9" fill="#f8f8f8" stroke="#333" stroke-width="1.2" /><polygon points="1783.3,2729.1 1817.1,2719.3 1825.8,2726.9 1792,2737.8" fill="#f8f8f8" stroke="#333" stroke-width="1.2" />
<polygon points="1919.4,2732.4 1910.7,2735.6 1910.7,2747.6 1919.4,2744.3" fill="#f8f8f8" stroke="#333" stroke-width="1.2" /><polygon points="1910.7,2735.6 1900.9,2725.8 1900.9,2737.8 1910.7,2747.6" fill="#f8f8f8" stroke="#333" stroke-width="1.2" /><polygon points="1900.9,2725.8 1909.6,2723.2 1919.4,2732.4 1910.7,2735.6" fill="#f8f8f8" stroke="#333" stroke-width="1.2" />
<polygon points="2016.3,2738.9 1997.8,2745.4 1997.8,2753.7 2016.3,2747.2" fill="#f8f8f8" stroke="#333" stroke-width="1.2" /><polygon points="1997.8,2745.4 1982.6,2728 1982.6,2736.3 1997.8,2753.7" fill="#f8f8f8" stroke="#333" stroke-width="1.2" /><polygon points="1982.6,2728 2000,2722.6 2016.3,2738.9 1997.8,2745.4" fill="#f8f8f8" stroke="#333" stroke-width="1.2" />
<polyline points="1874.8,2736.7 1880.2,2744.3 1890,2748 1903.1,2745.4 1919.4,2738.9" fill="none" stroke="#333" stroke-width="1.5"/>
<polygon points="1874.8,2733.4 1802.5,2756.3 1802.5,2766.1 1874.8,2743.2" fill="#f8f8f8" stroke="#333" stroke-width="1.2" /><polygon points="1802.5,2756.3 1793.1,2746.5 1793.1,2756.3 1802.5,2766.1" fill="#f8f8f8" stroke="#333" stroke-width="1.2" /><polygon points="1793.1,2746.5 1866.1,2724.1 1874.8,2733.4 1802.5,2756.3" fill="#f8f8f8" stroke="#333" stroke-width="1.2" />
<polygon points="1867.2,2754.6 1844.3,2761.8 1844.3,2768.3 1867.2,2761.1" fill="#f8f8f8" stroke="#333" stroke-width="1.2" /><polygon points="1844.3,2761.8 1838.2,2754.6 1838.2,2761.1 1844.3,2768.3" fill="#f8f8f8" stroke="#333" stroke-width="1.2" /><polygon points="1838.2,2754.6 1860.6,2748 1867.2,2754.6 1844.3,2761.8" fill="#f8f8f8" stroke="#333" stroke-width="1.2" />
<polygon points="1948.8,2757.4 1935.3,2760.7 1935.3,2769.4 1948.8,2766.1" fill="#f8f8f8" stroke="#333" stroke-width="1.2" /><polygon points="1935.3,2760.7 1928.1,2753 1928.1,2761.8 1935.3,2769.4" fill="#f8f8f8" stroke="#333" stroke-width="1.2" /><polygon points="1928.1,2753 1941.9,2749.8 1948.8,2757.4 1935.3,2760.7" fill="#f8f8f8" stroke="#333" stroke-width="1.2" />
<polygon points="1928.1,2757.4 1916.2,2760.7 1916.2,2769.4 1928.1,2766.1" fill="#f8f8f8" stroke="#333" stroke-width="1.2" /><polygon points="1916.2,2760.7 1911.8,2755.2 1911.8,2763.9 1916.2,2769.4" fill="#f8f8f8" stroke="#333" stroke-width="1.2" /><polygon points="1911.8,2755.2 1923.8,2752 1928.1,2757.4 1916.2,2760.7" fill="#f8f8f8" stroke="#333" stroke-width="1.2" />
<polygon points="1802.5,2756.3 1780.1,2763.3 1780.1,2773.1 1802.5,2766.1" fill="#f8f8f8" stroke="#333" stroke-width="1.2" /><polygon points="1780.1,2763.3 1768.1,2754.6 1768.1,2764.4 1780.1,2773.1" fill="#f8f8f8" stroke="#333" stroke-width="1.2" /><polygon points="1768.1,2754.6 1793.1,2747.2 1802.5,2756.3 1780.1,2763.3" fill="#f8f8f8" stroke="#333" stroke-width="1.2" />
<polygon points="1838.9,2771.1 1829.1,2773.7 1829.1,2780.3 1838.9,2777.6" fill="#f8f8f8" stroke="#333" stroke-width="1.2" /><polygon points="1829.1,2773.7 1820.3,2760.7 1820.3,2767.2 1829.1,2780.3" fill="#f8f8f8" stroke="#333" stroke-width="1.2" /><polygon points="1820.3,2760.7 1826.9,2758.5 1838.9,2771.1 1829.1,2773.7" fill="#f8f8f8" stroke="#333" stroke-width="1.2" />
<polygon points="1957.5,2766.8 1944,2771.1 1944,2780.9 1957.5,2776.6" fill="#f8f8f8" stroke="#333" stroke-width="1.2" /><polygon points="1944,2771.1 1934.7,2761.8 1934.7,2771.6 1944,2780.9" fill="#f8f8f8" stroke="#333" stroke-width="1.2" /><polygon points="1934.7,2761.8 1948.8,2757.4 1957.5,2766.8 1944,2771.1" fill="#f8f8f8" stroke="#333" stroke-width="1.2" />
<polygon points="1826.9,2769.4 1806.2,2775.5 1806.2,2780.9 1826.9,2774.8" fill="#f8f8f8" stroke="#333" stroke-width="1.2" /><polygon points="1806.2,2775.5 1800.7,2769.4 1800.7,2774.8 1806.2,2780.9" fill="#f8f8f8" stroke="#333" stroke-width="1.2" /><polygon points="1800.7,2769.4 1821.4,2762.8 1826.9,2769.4 1806.2,2775.5" fill="#f8f8f8" stroke="#333" stroke-width="1.2" />
<polygon points="2038.7,2744.5 2032.6,2746.7 2027.9,2749.7 2025,2753.1 2024,2756.7 2024,2779.6 2025,2783.3 2027.9,2786.7 2032.6,2789.6 2038.7,2791.9 2045.8,2793.3 2053.4,2793.8 2061,2793.3 2068.1,2791.9 2074.2,2789.6 2078.8,2786.7 2081.8,2783.3 2082.8,2779.6 2082.8,2756.7 2081.8,2753.1 2078.8,2749.7 2074.2,2746.7 2068.1,2744.5 2061,2743.1 2053.4,2742.6 2045.8,2743.1" fill="#808080" stroke="#4d4d4d" stroke-width="1.1" stroke-linejoin="round"/><polygon points="2082.8,2756.7 2081.8,2760.4 2078.8,2763.8 2074.2,2766.8 2068.1,2769 2061,2770.4 2053.4,2770.9 2045.8,2770.4 2038.7,2769 2032.6,2766.8 2027.9,2763.8 2025,2760.4 2024,2756.7 2025,2753.1 2027.9,2749.7 2032.6,2746.7 2038.7,2744.5 2045.8,2743.1 2053.4,2742.6 2061,2743.1 2068.1,2744.5 2074.2,2746.7 2078.8,2749.7 2081.8,2753.1" fill="#808080" stroke="#4d4d4d" stroke-width="1.1" stroke-linejoin="round"/>
<polygon points="1807.3,2780.3 1796,2783.5 1796,2791.1 1807.3,2787.9" fill="#f8f8f8" stroke="#333" stroke-width="1.2" /><polygon points="1796,2783.5 1782.2,2769.4 1782.2,2777 1796,2791.1" fill="#f8f8f8" stroke="#333" stroke-width="1.2" /><polygon points="1782.2,2769.4 1801.8,2762.8 1807.3,2780.3 1796,2783.5" fill="#f8f8f8" stroke="#333" stroke-width="1.2" />
<polygon points="1888.9,2778.5 1880.9,2781.4 1880.9,2786.8 1888.9,2784" fill="#f8f8f8" stroke="#333" stroke-width="1.2" /><polygon points="1880.9,2781.4 1875.2,2776.3 1875.2,2781.8 1880.9,2786.8" fill="#f8f8f8" stroke="#333" stroke-width="1.2" /><polygon points="1875.2,2776.3 1883.5,2773.3 1888.9,2778.5 1880.9,2781.4" fill="#f8f8f8" stroke="#333" stroke-width="1.2" />
<polygon points="1975,2785.7 1958.6,2791.6 1958.6,2797.7 1975,2791.8" fill="#808080" stroke="#4d4d4d" stroke-width="1.1" /><polygon points="1958.6,2791.6 1945.6,2778.1 1945.6,2784.2 1958.6,2797.7" fill="#808080" stroke="#4d4d4d" stroke-width="1.1" /><polygon points="1945.6,2778.1 1961.9,2772.6 1975,2785.7 1958.6,2791.6" fill="#808080" stroke="#4d4d4d" stroke-width="1.1" />
<polygon points="1916.6,2803.1 1903.1,2809 1903.1,2815.1 1916.6,2809.2" fill="#808080" stroke="#4d4d4d" stroke-width="1.1" /><polygon points="1903.1,2809 1884.6,2791.1 1884.6,2797.2 1903.1,2815.1" fill="#808080" stroke="#4d4d4d" stroke-width="1.1" /><polygon points="1884.6,2791.1 1898.7,2785.1 1916.6,2803.1 1903.1,2809" fill="#808080" stroke="#4d4d4d" stroke-width="1.1" />
<polygon points="1910.7,2779.2 1916.2,2775.9 1924.9,2774.8 1941.9,2795.9 1941.9,2800.9 1932.5,2804.2 1912.9,2784.6" fill="#ff0000" stroke="#555" stroke-width="1" />
<polyline points="1912.9,2780.3 1930.3,2798.8 1941.9,2795.9" fill="none" stroke="#555" stroke-width="0.9"/>
<polyline points="1930.3,2798.8 1932.5,2804.2" fill="none" stroke="#555" stroke-width="0.9"/>
<polyline points="1918.3,2778.1 1935.8,2797.2" fill="none" stroke="#555" stroke-width="0.9"/>
<polyline points="1917.3,2785.7 1924.9,2782.4" fill="none" stroke="#555" stroke-width="0.9"/>
<polyline points="1923.8,2792.2 1931.8,2789.4" fill="none" stroke="#555" stroke-width="0.9"/>
<polygon points="1927.7,2760.7 1929.9,2760.2 1930.8,2782.4 1928.6,2782.9" fill="#ff0000" stroke="#a00" stroke-width="0.8" />
<polygon points="1886.8,2814 1871.5,2819 1871.5,2823.8 1886.8,2818.8" fill="#808080" stroke="#4d4d4d" stroke-width="1.1" /><polygon points="1871.5,2819 1839.5,2786.4 1839.5,2791.1 1871.5,2823.8" fill="#808080" stroke="#4d4d4d" stroke-width="1.1" /><polygon points="1839.5,2786.4 1856.3,2782 1886.8,2814 1871.5,2819" fill="#808080" stroke="#4d4d4d" stroke-width="1.1" />
<polygon points="1988,2797.7 1970.2,2805.3 1970.2,2815.1 1988,2807.5" fill="#f8f8f8" stroke="#333" stroke-width="1.2" /><polygon points="1970.2,2805.3 1962.3,2797.7 1962.3,2807.5 1970.2,2815.1" fill="#f8f8f8" stroke="#333" stroke-width="1.2" /><polygon points="1962.3,2797.7 1980.4,2790.1 1988,2797.7 1970.2,2805.3" fill="#f8f8f8" stroke="#333" stroke-width="1.2" />
<polygon points="1992,2805.3 1978.9,2810.3 1978.9,2820.1 1992,2815.1" fill="#f8f8f8" stroke="#333" stroke-width="1.2" /><polygon points="1978.9,2810.3 1972.8,2804.2 1972.8,2814 1978.9,2820.1" fill="#f8f8f8" stroke="#333" stroke-width="1.2" /><polygon points="1972.8,2804.2 1985.9,2799.4 1992,2805.3 1978.9,2810.3" fill="#f8f8f8" stroke="#333" stroke-width="1.2" />
<polygon points="1940.6,2819.5 1916.2,2828.6 1916.2,2836.9 1940.6,2827.7" fill="#808080" stroke="#4d4d4d" stroke-width="1.1" /><polygon points="1916.2,2828.6 1904.2,2816.2 1904.2,2824.5 1916.2,2836.9" fill="#808080" stroke="#4d4d4d" stroke-width="1.1" /><polygon points="1904.2,2816.2 1929.2,2807.5 1940.6,2819.5 1916.2,2828.6" fill="#808080" stroke="#4d4d4d" stroke-width="1.1" />
<line x1="1848.2" y1="2784.2" x2="1879.1" y2="2816.4" stroke="#4d4d4d" stroke-width="2.5"/>
<polygon points="1899.8,2828.2 1890.5,2832.1 1890.5,2839.7 1899.8,2835.8" fill="#808080" stroke="#4d4d4d" stroke-width="1.1" /><polygon points="1890.5,2832.1 1883.1,2824.9 1883.1,2832.5 1890.5,2839.7" fill="#808080" stroke="#4d4d4d" stroke-width="1.1" /><polygon points="1883.1,2824.9 1892.2,2821.2 1899.8,2828.2 1890.5,2832.1" fill="#808080" stroke="#4d4d4d" stroke-width="1.1" />
<polygon points="2543,2956.1 2527.3,2970.7 2527.3,2978.7 2543,2964.1" fill="#808080" stroke="#4d4d4d" stroke-width="1" /><polygon points="2527.3,2970.7 2443.3,2943.2 2443.3,2951.2 2527.3,2978.7" fill="#808080" stroke="#4d4d4d" stroke-width="1" /><polygon points="2443.3,2943.2 2450,2932.1 2458.3,2928.9 2543,2956.1 2527.3,2970.7" fill="#808080" stroke="#4d4d4d" stroke-width="1" />
<line x1="2450" y1="2936.2" x2="2535.7" y2="2961.3" stroke="#4d4d4d" stroke-width="1"/>
<line x1="2451.4" y1="2933.4" x2="2536.4" y2="2959.9" stroke="#4d4d4d" stroke-width="1"/>
<line x1="2452.8" y1="2931.7" x2="2537.8" y2="2958.9" stroke="#4d4d4d" stroke-width="1"/>
<g stroke="#444" fill="none" stroke-width="1.3" stroke-linecap="round"><polyline points="1925.5,2979.5 1928.5,2967.5 1941.5,2965.5 1944.5,2977.5"/><polyline points="1932.5,2984.5 1933.5,2971.5 1943.5,2969.5"/><polyline points="1925.5,2974.5 1932.5,2978.5 1944.5,2972.5"/><rect x="1928.5" y="2958.5" width="11" height="8" fill="#f1f1f1"/><line x1="1933.5" y1="2963.5" x2="1947.8" y2="2939" stroke-width="3.4"/></g>
<g stroke="#444" fill="none" stroke-width="1.3" stroke-linecap="round"><polyline points="2198,3058 2201,3046 2214,3044 2217,3056"/><polyline points="2205,3063 2206,3050 2216,3048"/><polyline points="2198,3053 2205,3057 2217,3051"/><rect x="2201" y="3037" width="11" height="8" fill="#f1f1f1"/><line x1="2206" y1="3042" x2="2212.5" y2="3028" stroke-width="3.4"/></g>
<g stroke="#444" fill="none" stroke-width="1.3" stroke-linecap="round"><polyline points="2081.5,3087 2084.5,3075 2097.5,3073 2100.5,3085"/><polyline points="2088.5,3092 2089.5,3079 2099.5,3077"/><polyline points="2081.5,3082 2088.5,3086 2100.5,3080"/><rect x="2084.5" y="3066" width="11" height="8" fill="#f1f1f1"/><line x1="2089.5" y1="3071" x2="2074.8" y2="3052.5" stroke-width="3.4"/><line x1="2074.8" y1="3052.5" x2="2074.8" y2="3062.5" stroke-width="1.5"/></g>
<g stroke="#444" fill="none" stroke-width="1.3" stroke-linecap="round"><polyline points="1928.6,3121.5 1931.6,3109.5 1944.6,3107.5 1947.6,3119.5"/><polyline points="1935.6,3126.5 1936.6,3113.5 1946.6,3111.5"/><polyline points="1928.6,3116.5 1935.6,3120.5 1947.6,3114.5"/><rect x="1931.6" y="3100.5" width="11" height="8" fill="#f1f1f1"/><line x1="1936.6" y1="3105.5" x2="1953.3" y2="3083" stroke-width="3.4"/><line x1="1953.3" y1="3083" x2="1953.3" y2="3093" stroke-width="1.5"/></g>
<polygon points="1720.5,3214.8 1705.5,3219.8 1705.5,3228.5 1720.5,3223.5" fill="#ff0000" stroke="#555" stroke-width="1.1" /><polygon points="1705.5,3219.8 1678.3,3185.4 1678.3,3194.1 1705.5,3228.5" fill="#ff0000" stroke="#555" stroke-width="1.1" /><polygon points="1678.3,3185.4 1693.8,3181.5 1720.5,3214.8 1705.5,3219.8" fill="#ff0000" stroke="#555" stroke-width="1.1" />
<polygon points="1766.3,3226.9 1765.6,3227.3 1765,3227.7 1764.7,3227.9 1764.2,3228.5 1763.8,3229.1 1763.7,3229.7 1763.7,3242.1 1763.7,3242.8 1763.9,3243.5 1764.6,3245.3 1765,3246 1765.4,3246.5 1766,3246.8 1766.6,3247 1767.4,3247 1806.6,3243.5 1807.4,3243.4 1808.1,3243.1 1808.8,3242.8 1809.4,3242.3 1809.9,3241.8 1811.6,3239.9 1812,3239.2 1812.2,3238.7 1812.2,3226.2 1812.1,3225.7 1811.8,3225.1 1811.4,3224.6 1811.2,3224.5 1810.6,3224 1810,3223.6 1809.3,3223.4 1808.5,3223.3 1807.8,3223.3 1768.5,3226.3 1767.7,3226.4 1767,3226.6" fill="#ff0000" stroke="#555" stroke-width="1.1" stroke-linejoin="round"/><polygon points="1763.9,3231.1 1763.7,3230.4 1763.7,3229.7 1763.8,3229.1 1764.2,3228.5 1764.7,3227.9 1765,3227.7 1765.6,3227.3 1766.3,3226.9 1767,3226.6 1767.7,3226.4 1768.5,3226.3 1807.8,3223.3 1808.5,3223.3 1809.3,3223.4 1810,3223.6 1810.6,3224 1811.2,3224.5 1811.4,3224.6 1811.8,3225.1 1812.1,3225.7 1812.2,3226.2 1812,3226.8 1811.6,3227.4 1809.9,3229.4 1809.4,3229.9 1808.8,3230.4 1808.1,3230.7 1807.4,3230.9 1806.6,3231.1 1767.4,3234.6 1766.6,3234.6 1766,3234.4 1765.4,3234.1 1765,3233.6 1764.6,3232.9" fill="#ff0000" stroke="#555" stroke-width="1.1" stroke-linejoin="round"/>
<polygon points="1674.4,3272.5 1683.8,3269.7 1692.2,3266.4 1698.3,3265.3 1698.8,3274.2 1693.3,3280.8 1676.6,3281.9" fill="#ff0000" stroke="#555" stroke-width="1" />
<polyline points="1683.8,3269.7 1685,3281.9" fill="none" stroke="#555" stroke-width="0.9"/>
<polyline points="1692.2,3266.4 1693.3,3280.8" fill="none" stroke="#555" stroke-width="0.9"/>
<polyline points="1674.4,3276.4 1698.3,3269.7" fill="none" stroke="#555" stroke-width="0.9"/>
<polygon points="1417,2160 1421,2149 1432,2141 1465,2127 1500,2116 1535,2105 1555,2097 1575,2079 1600,2055 1625,2029 1650,2007 1675,1984 1700,1964 1725,1942 1750,1922 1775,1902 1800,1879 1835,1849 1870,1819 1905,1789 1950,1752 2000,1707 2050,1664 2100,1619 2150,1577 2200,1534 2250,1497 2300,1464 2350,1434 2400,1404 2450,1374 2500,1341 2550,1309 2600,1279 2650,1252 2700,1224 2740,1204 2752,1203 2780,1217 2800,1232 2850,1262 2900,1294 2925,1308 3000,1327 3100,1347 3200,1364 3265,1379 3330,1404 3375,1434 3425,1472 3490,1529 3450,1544 3350,1587 3250,1629 3150,1672 3050,1714 2950,1754 2915,1769 2820,1822 2780,1872 2770,1912 2760,1987 2750,2038 2735,2138 2720,2248 2707,2358 2707,2369 2775,2388 2835,2407 2840,2419 2900,2440 2961,2461 2940,2480 2920,2499 2875,2495 2800,2490 2725,2485 2650,2482 2600,2482 2548,2484 2500,2487 2400,2495 2300,2510 2200,2528 2100,2550 2000,2575 1900,2600 1800,2625 1750,2638 1718,2646 1707,2648 1698,2643 1680,2628 1650,2603 1625,2563 1600,2518 1575,2478 1550,2438 1525,2383 1500,2328 1475,2278 1450,2233 1425,2183" fill="rgb(227,227,227)" fill-opacity="0.5" stroke="none"/><polygon points="1417,2160 1421,2149 1432,2141 1465,2127 1500,2116 1535,2105 1555,2097 1575,2079 1600,2055 1625,2029 1650,2007 1675,1984 1700,1964 1725,1942 1750,1922 1775,1902 1800,1879 1835,1849 1870,1819 1905,1789 1950,1752 2000,1707 2050,1664 2100,1619 2150,1577 2200,1534 2250,1497 2300,1464 2350,1434 2400,1404 2450,1374 2500,1341 2550,1309 2600,1279 2650,1252 2700,1224 2740,1204 2752,1203 2780,1217 2800,1232 2850,1262 2900,1294 2925,1308 3000,1327 3100,1347 3200,1364 3265,1379 3330,1404 3375,1434 3425,1472 3490,1529 3450,1544 3350,1587 3250,1629 3150,1672 3050,1714 2950,1754 2915,1769 2820,1822 2780,1872 2770,1912 2760,1987 2750,2038 2735,2138 2720,2248 2707,2358 2707,2369 2775,2388 2835,2407 2840,2419 2900,2440 2961,2461 2940,2480 2920,2499 2875,2495 2800,2490 2725,2485 2650,2482 2600,2482 2548,2484 2500,2487 2400,2495 2300,2510 2200,2528 2100,2550 2000,2575 1900,2600 1800,2625 1750,2638 1718,2646 1707,2648 1698,2643 1680,2628 1650,2603 1625,2563 1600,2518 1575,2478 1550,2438 1525,2383 1500,2328 1475,2278 1450,2233 1425,2183" fill="none" stroke="#7a7a7a" stroke-width="3.2" stroke-dasharray="3.2 10.6" stroke-linejoin="round"/>
<polygon points="2446.6,1669.8 2390.6,1696.5 2390.6,1706.8 2446.6,1680.1" fill="#f1f1f1" stroke="#000" stroke-width="1.2" /><polygon points="2430.5,1725.2 2418.6,1730.6 2418.6,1740.9 2430.5,1735.5" fill="#f1f1f1" stroke="#000" stroke-width="1.2" /><polygon points="2418.6,1730.6 2367.3,1693.9 2367.3,1704.3 2418.6,1740.9" fill="#f1f1f1" stroke="#000" stroke-width="1.2" /><polygon points="2367.3,1693.9 2435.8,1662.2 2446.6,1669.8 2390.6,1696.5 2430.5,1725.2 2418.6,1730.6" fill="#f1f1f1" stroke="#000" stroke-width="1.2" />
<polygon points="2495.1,1734.9 2459.6,1757.5 2459.6,1767.9 2495.1,1745.2" fill="#f1f1f1" stroke="#000" stroke-width="1.2" /><polygon points="2459.6,1757.5 2424.6,1737 2424.6,1747.4 2459.6,1767.9" fill="#f1f1f1" stroke="#000" stroke-width="1.2" /><polygon points="2424.6,1737 2468.2,1715.9 2495.1,1734.9 2459.6,1757.5" fill="#f1f1f1" stroke="#000" stroke-width="1.2" /><polygon points="2451.8,1734.4 2466.1,1727.4 2475,1733.7 2463.3,1741.2" fill="#f1f1f1" stroke="#000" stroke-width="1.2" /><polygon points="2451.8,1734.4 2457.8,1737.9 2466.1,1733.9 2466.1,1727.4" fill="#f1f1f1" stroke="#000" stroke-width="1.1" /><polygon points="2466.1,1727.4 2466.1,1733.9 2470.2,1736.8 2475,1733.7" fill="#f1f1f1" stroke="#000" stroke-width="1.1" />
<polygon points="2494.1,1663.3 2516.7,1678.4 2516.7,1798.5 2495.1,1825.4 2472.5,1831.9 2455.3,1826.5 2443.4,1819" fill="#2b2b2b" stroke="#000" stroke-width="1.4" />
<polyline points="2504.4,1670.2 2455.7,1825.9" fill="none" stroke="#000" stroke-width="1.2"/>
<polyline points="2502.7,1668.5 2453.5,1825" fill="none" stroke="#000" stroke-width="1.2"/>
<polyline points="2516.7,1681 2470.4,1830.8" fill="none" stroke="#000" stroke-width="1.2"/>
<polyline points="2506.6,1672.3 2516.7,1679.2" fill="none" stroke="#000" stroke-width="1.2"/>
<polygon points="2495.1,1823.3 2501.6,1806 2519.9,1797.4 2541.5,1811.4 2541.5,1829.8 2516.7,1839.5" fill="#2b2b2b" stroke="#000" stroke-width="1.4" />
<polyline points="2501.6,1806 2523.2,1820.1 2541.5,1811.4" fill="none" stroke="#000" stroke-width="1.2"/>
<polyline points="2523.2,1820.1 2516.7,1839.5" fill="none" stroke="#000" stroke-width="1.2"/>
<polyline points="2513.5,1800.6 2528.6,1810.4 2510.2,1819 2505.9,1829.8" fill="none" stroke="#000" stroke-width="1.2"/>
<polygon points="2389.5,1839.5 2432.6,1818.5 2442.3,1825.4 2448.8,1838.4 2460.6,1847 2460.6,1868.6 2417.5,1886.9 2406.7,1881.5 2398.1,1871.8 2389.5,1862.1" fill="#2b2b2b" stroke="#000" stroke-width="1.4" />
<polyline points="2389.5,1839.5 2399.2,1847 2442.3,1825.4" fill="none" stroke="#000" stroke-width="1.2"/>
<polyline points="2399.2,1847 2399.2,1872.5" fill="none" stroke="#000" stroke-width="1.2"/>
<polyline points="2407.8,1855.6 2448.8,1838.4" fill="none" stroke="#000" stroke-width="1.2"/>
<polyline points="2407.8,1855.6 2407.8,1881.5" fill="none" stroke="#000" stroke-width="1.2"/>
<polyline points="2399.2,1847 2407.8,1843.8 2416.4,1850.2 2407.8,1855.6" fill="none" stroke="#000" stroke-width="1.2"/>
<polyline points="2418.2,1862.1 2460.6,1847" fill="none" stroke="#000" stroke-width="1.2"/>
<polyline points="2418.2,1862.1 2418.2,1886.9" fill="none" stroke="#000" stroke-width="1.2"/>
<polyline points="2407.8,1855.6 2418.2,1862.1" fill="none" stroke="#000" stroke-width="1.2"/>
<polygon points="2419.2,1888 2460.6,1868.6 2460.6,1918.2 2447.7,1931.1 2436.9,1923.6 2429.4,1910.6 2419.2,1904.2" fill="#2b2b2b" stroke="#000" stroke-width="1.4" />
<polyline points="2419.2,1888 2429.4,1894.4 2460.6,1879.4" fill="none" stroke="#000" stroke-width="1.2"/>
<polyline points="2429.4,1894.4 2429.4,1910.6" fill="none" stroke="#000" stroke-width="1.2"/>
<polyline points="2433.7,1891.2 2442.3,1886.9 2450.9,1894.4 2442.3,1898.8 2442.3,1907.4" fill="none" stroke="#000" stroke-width="1.2"/>
<polyline points="2433.7,1891.2 2433.7,1911.7" fill="none" stroke="#000" stroke-width="1.2"/>
<polyline points="2436.9,1909.5 2447.7,1916 2460.6,1909.5" fill="none" stroke="#000" stroke-width="1.2"/>
<polyline points="2447.7,1916 2447.7,1931.1" fill="none" stroke="#000" stroke-width="1.2"/>
<polygon points="2539.4,1845.9 2548,1823.3 2555.5,1817.3 2565.7,1824.4 2565.7,1836.2" fill="#2b2b2b" stroke="#000" stroke-width="1.4" />
<polygon points="2511.3,1874 2516.7,1857.8 2570.6,1831.9 2590,1829.8 2590,1841.6 2522.1,1880.4" fill="#2b2b2b" stroke="#000" stroke-width="1.4" />
<polyline points="2516.7,1857.8 2526.4,1863.2 2571.7,1840.5" fill="none" stroke="#000" stroke-width="1.2"/>
<polyline points="2526.4,1863.2 2522.1,1880.4" fill="none" stroke="#000" stroke-width="1.2"/>
<polygon points="2567.4,1852.4 2573.9,1829.8 2580.3,1827.2 2590,1834.1 2590,1844.9" fill="#2b2b2b" stroke="#000" stroke-width="1.4" />
<polygon points="2522.1,1897.7 2531.8,1870.7 2597.6,1841.6 2613.7,1852.4 2613.7,1857.8 2531.8,1905.2" fill="#2b2b2b" stroke="#000" stroke-width="1.4" />
<polyline points="2531.8,1870.7 2540.4,1876.1 2601.9,1847" fill="none" stroke="#000" stroke-width="1.2"/>
<polyline points="2540.4,1876.1 2531.8,1905.2" fill="none" stroke="#000" stroke-width="1.2"/>
<polygon points="2592.2,1866.4 2599.7,1847 2604,1844.4 2613.7,1851.3 2613.7,1859.9" fill="#2b2b2b" stroke="#000" stroke-width="1.4" />
<polygon points="2548,1916 2557.7,1886.9 2617,1855.6 2627.8,1862.1 2627.8,1889.1 2557.7,1922" fill="#2b2b2b" stroke="#000" stroke-width="1.4" />
<polyline points="2557.7,1886.9 2566.3,1892.3 2627.8,1862.1" fill="none" stroke="#000" stroke-width="1.2"/>
<polyline points="2566.3,1892.3 2557.7,1922" fill="none" stroke="#000" stroke-width="1.2"/>
<polygon points="2460.6,1825.4 2472.5,1833 2483.3,1840.5 2535,1947.3 2483.3,1972.1 2472.5,1963.5 2460.6,1957" fill="#2b2b2b" stroke="#000" stroke-width="1.4" />
<polyline points="2472.5,1833 2472.5,1963.5" fill="none" stroke="#000" stroke-width="1.2"/>
<polyline points="2483.3,1840.5 2483.3,1972.1" fill="none" stroke="#000" stroke-width="1.2"/>
<polyline points="2470.4,1831.9 2470.4,1962.4" fill="none" stroke="#000" stroke-width="0.8"/>
<polygon points="1417,1200 1421,1189 1432,1181 1465,1167 1500,1156 1535,1145 1555,1137 1575,1119 1600,1095 1625,1069 1650,1047 1675,1024 1700,1004 1725,982 1750,962 1775,942 1800,919 1835,889 1870,859 1905,829 1950,792 2000,747 2050,704 2100,659 2150,617 2200,574 2250,537 2300,504 2350,474 2400,444 2450,414 2500,381 2550,349 2600,319 2650,292 2700,264 2740,244 2752,243 2780,257 2800,272 2850,302 2900,334 2925,348 3000,367 3100,387 3200,404 3265,419 3330,444 3375,474 3425,512 3490,569 3450,584 3350,627 3250,669 3150,712 3050,754 2950,794 2915,809 2820,862 2780,912 2770,952 2760,1027 2750,1078 2735,1178 2720,1288 2707,1398 2707,1409 2775,1428 2835,1447 2840,1459 2900,1480 2961,1501 2940,1520 2920,1539 2875,1535 2800,1530 2725,1525 2650,1522 2600,1522 2548,1524 2500,1527 2400,1535 2300,1550 2200,1568 2100,1590 2000,1615 1900,1640 1800,1665 1750,1678 1718,1686 1707,1688 1698,1683 1680,1668 1650,1643 1625,1603 1600,1558 1575,1518 1550,1478 1525,1423 1500,1368 1475,1318 1450,1273 1425,1223" fill="rgb(227,227,227)" fill-opacity="0.5" stroke="none"/><polygon points="1417,1200 1421,1189 1432,1181 1465,1167 1500,1156 1535,1145 1555,1137 1575,1119 1600,1095 1625,1069 1650,1047 1675,1024 1700,1004 1725,982 1750,962 1775,942 1800,919 1835,889 1870,859 1905,829 1950,792 2000,747 2050,704 2100,659 2150,617 2200,574 2250,537 2300,504 2350,474 2400,444 2450,414 2500,381 2550,349 2600,319 2650,292 2700,264 2740,244 2752,243 2780,257 2800,272 2850,302 2900,334 2925,348 3000,367 3100,387 3200,404 3265,419 3330,444 3375,474 3425,512 3490,569 3450,584 3350,627 3250,669 3150,712 3050,754 2950,794 2915,809 2820,862 2780,912 2770,952 2760,1027 2750,1078 2735,1178 2720,1288 2707,1398 2707,1409 2775,1428 2835,1447 2840,1459 2900,1480 2961,1501 2940,1520 2920,1539 2875,1535 2800,1530 2725,1525 2650,1522 2600,1522 2548,1524 2500,1527 2400,1535 2300,1550 2200,1568 2100,1590 2000,1615 1900,1640 1800,1665 1750,1678 1718,1686 1707,1688 1698,1683 1680,1668 1650,1643 1625,1603 1600,1558 1575,1518 1550,1478 1525,1423 1500,1368 1475,1318 1450,1273 1425,1223" fill="none" stroke="#7a7a7a" stroke-width="3.2" stroke-dasharray="3.2 10.6" stroke-linejoin="round"/>
<polyline points="2412.5,571.7 2432.4,565 2447.3,559.2 2464.7,556.8" fill="none" stroke="#000" stroke-width="1.2"/>
<polyline points="2416.3,573.6 2434.9,566.7 2449.8,561.2 2464.7,559.2" fill="none" stroke="#000" stroke-width="1.2"/>
<polygon points="2770,217.3 2743.3,230.7 2743.3,270 2770,256.7" fill="#f1f1f1" stroke="#000" stroke-width="1.2" /><polygon points="2743.3,230.7 2730.7,222.7 2730.7,262 2743.3,270" fill="#f1f1f1" stroke="#000" stroke-width="1.2" /><polygon points="2730.7,222.7 2757.3,210 2770,217.3 2743.3,230.7" fill="#f1f1f1" stroke="#000" stroke-width="1.2" />
<polygon points="2770,212.3 2740.7,226.7 2740.7,263.3 2770,249" fill="#f1f1f1" stroke="#000" stroke-width="1.2" /><polygon points="2740.7,226.7 2726.7,217.3 2726.7,254 2740.7,263.3" fill="#f1f1f1" stroke="#000" stroke-width="1.2" /><polygon points="2726.7,217.3 2755,203.3 2770,212.3 2740.7,226.7" fill="#f1f1f1" stroke="#000" stroke-width="1.2" />
<polygon points="2719.3,295 2676.7,315 2676.7,329 2719.3,309" fill="#f1f1f1" stroke="#000" stroke-width="1.2" /><polygon points="2676.7,315 2666.7,308.3 2666.7,322.3 2676.7,329" fill="#f1f1f1" stroke="#000" stroke-width="1.2" /><polygon points="2666.7,308.3 2709.3,288.3 2719.3,295 2676.7,315" fill="#f1f1f1" stroke="#000" stroke-width="1.2" />
<polygon points="2793.3,316.7 2780,322.7 2780,337.7 2793.3,331.7" fill="#f1f1f1" stroke="#000" stroke-width="1.2" /><polygon points="2780,322.7 2745.7,295 2745.7,310 2780,337.7" fill="#f1f1f1" stroke="#000" stroke-width="1.2" /><polygon points="2745.7,295 2760.7,290.7 2793.3,316.7 2780,322.7" fill="#f1f1f1" stroke="#000" stroke-width="1.2" />
<polygon points="2835,309.3 2810.7,291.7 2810.7,304.3 2835,322" fill="#f1f1f1" stroke="#000" stroke-width="1.2" /><polygon points="2856.7,317.3 2797.3,340 2797.3,352.7 2856.7,330" fill="#f1f1f1" stroke="#000" stroke-width="1.2" /><polygon points="2797.3,340 2786.7,329 2786.7,341.7 2797.3,352.7" fill="#f1f1f1" stroke="#000" stroke-width="1.2" /><polygon points="2810.7,291.7 2821.7,285.7 2856.7,306.7 2856.7,317.3 2797.3,340 2786.7,329 2835,309.3" fill="#f1f1f1" stroke="#000" stroke-width="1.2" />
<polygon points="2636.7,331.7 2624,337.3 2624,349 2636.7,343.3" fill="#f1f1f1" stroke="#000" stroke-width="1.2" /><polygon points="2624,337.3 2613.3,330 2613.3,341.7 2624,349" fill="#f1f1f1" stroke="#000" stroke-width="1.2" /><polygon points="2613.3,330 2626,325 2636.7,331.7 2624,337.3" fill="#f1f1f1" stroke="#000" stroke-width="1.2" />
<polygon points="2858.3,335 2826.7,352.7 2826.7,366 2858.3,348.3" fill="#f1f1f1" stroke="#000" stroke-width="1.2" /><polygon points="2826.7,352.7 2816,346.7 2816,360 2826.7,366" fill="#f1f1f1" stroke="#000" stroke-width="1.2" /><polygon points="2816,346.7 2847.3,329 2858.3,335 2826.7,352.7" fill="#f1f1f1" stroke="#000" stroke-width="1.2" />
<polygon points="2647.3,360 2635,367.3 2635,379 2647.3,371.7" fill="#f1f1f1" stroke="#000" stroke-width="1.2" /><polygon points="2635,367.3 2599.3,336.7 2599.3,348.3 2635,379" fill="#f1f1f1" stroke="#000" stroke-width="1.2" /><polygon points="2599.3,336.7 2613.3,330 2647.3,360 2635,367.3" fill="#f1f1f1" stroke="#000" stroke-width="1.2" />
<polygon points="2777.3,340 2743.3,356 2743.3,372 2777.3,356" fill="#f1f1f1" stroke="#000" stroke-width="1.2" /><polygon points="2743.3,356 2730.7,348.3 2730.7,364.3 2743.3,372" fill="#f1f1f1" stroke="#000" stroke-width="1.2" /><polygon points="2730.7,348.3 2765,332.7 2777.3,340 2743.3,356" fill="#f1f1f1" stroke="#000" stroke-width="1.2" />
<polygon points="2595.7,368.3 2566,377.3 2566,382.3 2595.7,373.3" fill="#f1f1f1" stroke="#000" stroke-width="1.2" /><polygon points="2566,377.3 2561.7,372.3 2561.7,377.3 2566,382.3" fill="#f1f1f1" stroke="#000" stroke-width="1.2" /><polygon points="2561.7,372.3 2590.7,363.3 2595.7,368.3 2566,377.3" fill="#f1f1f1" stroke="#000" stroke-width="1.2" />
<polygon points="2873.3,375 2860.7,381.7 2860.7,394.3 2873.3,387.7" fill="#f1f1f1" stroke="#000" stroke-width="1.2" /><polygon points="2860.7,381.7 2832.7,360 2832.7,372.7 2860.7,394.3" fill="#f1f1f1" stroke="#000" stroke-width="1.2" /><polygon points="2832.7,360 2845,353.3 2873.3,375 2860.7,381.7" fill="#f1f1f1" stroke="#000" stroke-width="1.2" />
<polygon points="2726.7,363.3 2667.3,390.7 2667.3,404.7 2726.7,377.3" fill="#f1f1f1" stroke="#000" stroke-width="1.2" /><polygon points="2667.3,390.7 2655,380 2655,394 2667.3,404.7" fill="#f1f1f1" stroke="#000" stroke-width="1.2" /><polygon points="2655,380 2714,354 2726.7,363.3 2667.3,390.7" fill="#f1f1f1" stroke="#000" stroke-width="1.2" />
<polygon points="2949.3,358.3 2881.7,398.3 2881.7,411 2949.3,371" fill="#f1f1f1" stroke="#000" stroke-width="1.2" /><polygon points="2881.7,398.3 2869.3,388.3 2869.3,401 2881.7,411" fill="#f1f1f1" stroke="#000" stroke-width="1.2" /><polygon points="2869.3,388.3 2935,350 2949.3,358.3 2881.7,398.3" fill="#f1f1f1" stroke="#000" stroke-width="1.2" />
<polygon points="3070.7,371.7 3069,372.5 3061.7,376.8 3060.3,377.8 3059.6,378.8 3059.6,397.1 3059.6,398.1 3060.4,399 3061.8,399.9 3070.5,404.4 3072.3,405.1 3074.1,405.4 3075.8,405.4 3077.6,404.9 3079.3,404.1 3086.4,399.9 3087.7,398.9 3088.4,397.9 3088.4,379.6 3088.4,378.6 3087.7,377.6 3086.2,376.7 3077.8,372.3 3076,371.6 3074.2,371.2 3072.5,371.3" fill="#f1f1f1" stroke="#000" stroke-width="1.2" stroke-linejoin="round"/><line x1="3061.8" y1="391.6" x2="3060.4" y2="390.7" stroke="#000" stroke-width="1.2" stroke-linecap="round"/><line x1="3060.4" y1="390.7" x2="3059.6" y2="389.7" stroke="#000" stroke-width="1.2" stroke-linecap="round"/><line x1="3059.6" y1="389.7" x2="3059.6" y2="388.8" stroke="#000" stroke-width="1.2" stroke-linecap="round"/><line x1="3088.4" y1="389.6" x2="3087.7" y2="390.5" stroke="#000" stroke-width="1.2" stroke-linecap="round"/><line x1="3087.7" y1="390.5" x2="3086.4" y2="391.6" stroke="#000" stroke-width="1.2" stroke-linecap="round"/><line x1="3086.4" y1="391.6" x2="3079.3" y2="395.8" stroke="#000" stroke-width="1.2" stroke-linecap="round"/><line x1="3079.3" y1="395.8" x2="3077.6" y2="396.6" stroke="#000" stroke-width="1.2" stroke-linecap="round"/><line x1="3077.6" y1="396.6" x2="3075.8" y2="397" stroke="#000" stroke-width="1.2" stroke-linecap="round"/><line x1="3075.8" y1="397" x2="3074.1" y2="397.1" stroke="#000" stroke-width="1.2" stroke-linecap="round"/><line x1="3074.1" y1="397.1" x2="3072.3" y2="396.8" stroke="#000" stroke-width="1.2" stroke-linecap="round"/><line x1="3072.3" y1="396.8" x2="3070.5" y2="396.1" stroke="#000" stroke-width="1.2" stroke-linecap="round"/><line x1="3070.5" y1="396.1" x2="3061.8" y2="391.6" stroke="#000" stroke-width="1.2" stroke-linecap="round"/><polygon points="3061.8,381.6 3060.4,380.7 3059.6,379.7 3059.6,378.8 3060.3,377.8 3061.7,376.8 3069,372.5 3070.7,371.7 3072.5,371.3 3074.2,371.2 3076,371.6 3077.8,372.3 3086.2,376.7 3087.7,377.6 3088.4,378.6 3088.4,379.6 3087.7,380.5 3086.4,381.6 3079.3,385.8 3077.6,386.6 3075.8,387 3074.1,387.1 3072.3,386.8 3070.5,386.1" fill="#f1f1f1" stroke="#000" stroke-width="1.2" stroke-linejoin="round"/>
<polygon points="2753.3,386.7 2721.7,400.7 2721.7,414.7 2753.3,400.7" fill="#f1f1f1" stroke="#000" stroke-width="1.2" /><polygon points="2721.7,400.7 2711.7,393.3 2711.7,407.3 2721.7,414.7" fill="#f1f1f1" stroke="#000" stroke-width="1.2" /><polygon points="2711.7,393.3 2743.3,380 2753.3,386.7 2721.7,400.7" fill="#f1f1f1" stroke="#000" stroke-width="1.2" />
<polygon points="3059.3,401.7 2999.3,438.3 2999.3,451 3059.3,414.3" fill="#f1f1f1" stroke="#000" stroke-width="1.2" /><line x1="3059.3" y1="405" x2="2999.3" y2="441.7" stroke="#000" stroke-width="1.2"/><polygon points="2999.3,438.3 2922.7,393.3 2922.7,406 2999.3,451" fill="#f1f1f1" stroke="#000" stroke-width="1.2" /><line x1="2999.3" y1="441.7" x2="2922.7" y2="396.7" stroke="#000" stroke-width="1.2"/><polygon points="2922.7,393.3 2983.3,357.3 3059.3,401.7 2999.3,438.3" fill="#f1f1f1" stroke="#000" stroke-width="1.2" /><polygon points="2956.9,395.5 2987.2,377.5 3025.2,399.7 2995.2,418" fill="#f1f1f1" stroke="#000" stroke-width="1.2" /><polygon points="2956.9,395.5 2966.8,401.3 2987.2,389.2 2987.2,377.5" fill="#f1f1f1" stroke="#000" stroke-width="1.1" /><polygon points="2987.2,377.5 2987.2,389.2 3015.5,405.6 3025.2,399.7" fill="#f1f1f1" stroke="#000" stroke-width="1.1" />
<polygon points="2770.7,400 2757.3,406.7 2757.3,420.7 2770.7,414" fill="#f1f1f1" stroke="#000" stroke-width="1.2" /><polygon points="2757.3,406.7 2741.7,393.3 2741.7,407.3 2757.3,420.7" fill="#f1f1f1" stroke="#000" stroke-width="1.2" /><polygon points="2741.7,393.3 2755,386.7 2770.7,400 2757.3,406.7" fill="#f1f1f1" stroke="#000" stroke-width="1.2" />
<polygon points="2577.3,398.3 2533.3,428.3 2533.3,445 2577.3,415" fill="#f1f1f1" stroke="#000" stroke-width="1.2" /><polygon points="2533.3,428.3 2479.3,400 2479.3,416.7 2533.3,445" fill="#f1f1f1" stroke="#000" stroke-width="1.2" /><polygon points="2479.3,400 2533.3,363.3 2577.3,398.3 2533.3,428.3" fill="#f1f1f1" stroke="#000" stroke-width="1.2" /><polygon points="2505.1,398.8 2532.1,380.4 2554.1,397.9 2532.1,412.9" fill="#f1f1f1" stroke="#000" stroke-width="1.2" /><polygon points="2505.1,398.8 2517.5,405.3 2532.1,395.4 2532.1,380.4" fill="#f1f1f1" stroke="#000" stroke-width="1.1" /><polygon points="2532.1,380.4 2532.1,395.4 2543.9,404.8 2554.1,397.9" fill="#f1f1f1" stroke="#000" stroke-width="1.1" />
<polygon points="2870,408.3 2829.3,430.7 2829.3,442.3 2870,420" fill="#f1f1f1" stroke="#000" stroke-width="1.2" /><polygon points="2829.3,430.7 2794.3,406 2794.3,417.7 2829.3,442.3" fill="#f1f1f1" stroke="#000" stroke-width="1.2" /><polygon points="2794.3,406 2835,383.3 2870,408.3 2829.3,430.7" fill="#f1f1f1" stroke="#000" stroke-width="1.2" />
<polygon points="2724,418.3 2713.3,425 2713.3,440 2724,433.3" fill="#f1f1f1" stroke="#000" stroke-width="1.2" /><polygon points="2713.3,425 2686.7,404 2686.7,419 2713.3,440" fill="#f1f1f1" stroke="#000" stroke-width="1.2" /><polygon points="2686.7,404 2698.3,399 2724,418.3 2713.3,425" fill="#f1f1f1" stroke="#000" stroke-width="1.2" />
<polygon points="3229.4,401.3 3227.3,402.1 3221.8,405 3220.1,406.2 3219.2,407.3 3219.1,408.5 3219.1,427.1 3219.9,428.4 3221.5,429.7 3228,433.9 3230.1,434.9 3232.1,435.4 3234.1,435.4 3236.1,434.9 3238.1,433.8 3244.2,429.7 3245.8,428.4 3246.6,427.2 3246.6,408.6 3246.5,407.4 3245.6,406.2 3243.9,405.1 3237.9,402.1 3235.8,401.2 3233.7,400.8 3231.5,400.8" fill="#f1f1f1" stroke="#000" stroke-width="1.2" stroke-linejoin="round"/><line x1="3221.5" y1="423.5" x2="3219.9" y2="422.2" stroke="#000" stroke-width="1.2" stroke-linecap="round"/><line x1="3219.9" y1="422.2" x2="3219.1" y2="420.9" stroke="#000" stroke-width="1.2" stroke-linecap="round"/><line x1="3246.6" y1="421" x2="3245.8" y2="422.2" stroke="#000" stroke-width="1.2" stroke-linecap="round"/><line x1="3245.8" y1="422.2" x2="3244.2" y2="423.5" stroke="#000" stroke-width="1.2" stroke-linecap="round"/><line x1="3244.2" y1="423.5" x2="3238.1" y2="427.6" stroke="#000" stroke-width="1.2" stroke-linecap="round"/><line x1="3238.1" y1="427.6" x2="3236.1" y2="428.6" stroke="#000" stroke-width="1.2" stroke-linecap="round"/><line x1="3236.1" y1="428.6" x2="3234.1" y2="429.2" stroke="#000" stroke-width="1.2" stroke-linecap="round"/><line x1="3234.1" y1="429.2" x2="3232.1" y2="429.2" stroke="#000" stroke-width="1.2" stroke-linecap="round"/><line x1="3232.1" y1="429.2" x2="3230.1" y2="428.7" stroke="#000" stroke-width="1.2" stroke-linecap="round"/><line x1="3230.1" y1="428.7" x2="3228" y2="427.7" stroke="#000" stroke-width="1.2" stroke-linecap="round"/><line x1="3228" y1="427.7" x2="3221.5" y2="423.5" stroke="#000" stroke-width="1.2" stroke-linecap="round"/><polygon points="3221.5,411 3219.9,409.8 3219.1,408.5 3219.2,407.3 3220.1,406.2 3221.8,405 3227.3,402.1 3229.4,401.3 3231.5,400.8 3233.7,400.8 3235.8,401.2 3237.9,402.1 3243.9,405.1 3245.6,406.2 3246.5,407.4 3246.6,408.6 3245.8,409.8 3244.2,411.1 3238.1,415.2 3236.1,416.2 3234.1,416.8 3232.1,416.8 3230.1,416.3 3228,415.2" fill="#f1f1f1" stroke="#000" stroke-width="1.2" stroke-linejoin="round"/>
<polygon points="2814,436 2801.7,443.3 2801.7,456.7 2814,449.3" fill="#f1f1f1" stroke="#000" stroke-width="1.2" /><polygon points="2801.7,443.3 2763.3,410.7 2763.3,424 2801.7,456.7" fill="#f1f1f1" stroke="#000" stroke-width="1.2" /><polygon points="2763.3,410.7 2776.7,404 2814,436 2801.7,443.3" fill="#f1f1f1" stroke="#000" stroke-width="1.2" />
<polygon points="2674.3,431.7 2652.7,446 2652.7,450 2674.3,435.7" fill="#f1f1f1" stroke="#000" stroke-width="1.2" /><polygon points="2652.7,446 2645,441.7 2645,445.7 2652.7,450" fill="#f1f1f1" stroke="#000" stroke-width="1.2" /><polygon points="2645,441.7 2668.3,426.7 2674.3,431.7 2652.7,446" fill="#f1f1f1" stroke="#000" stroke-width="1.2" />
<polygon points="2757.3,445 2744,452.7 2744,466.7 2757.3,459" fill="#f1f1f1" stroke="#000" stroke-width="1.2" /><polygon points="2744,452.7 2717.7,430.7 2717.7,444.7 2744,466.7" fill="#f1f1f1" stroke="#000" stroke-width="1.2" /><polygon points="2717.7,430.7 2732.7,424 2757.3,445 2744,452.7" fill="#f1f1f1" stroke="#000" stroke-width="1.2" />
<polygon points="2984,445 2923.3,482.7 2923.3,495.3 2984,457.7" fill="#f1f1f1" stroke="#000" stroke-width="1.2" /><line x1="2984" y1="448.3" x2="2923.3" y2="486" stroke="#000" stroke-width="1.2"/><polygon points="2923.3,482.7 2846.7,439.3 2846.7,452 2923.3,495.3" fill="#f1f1f1" stroke="#000" stroke-width="1.2" /><line x1="2923.3" y1="486" x2="2846.7" y2="442.7" stroke="#000" stroke-width="1.2"/><polygon points="2846.7,439.3 2906.7,401.7 2984,445 2923.3,482.7" fill="#f1f1f1" stroke="#000" stroke-width="1.2" /><polygon points="2880.9,440.8 2910.9,421.9 2949.6,443.6 2919.2,462.4" fill="#f1f1f1" stroke="#000" stroke-width="1.2" /><polygon points="2880.9,440.8 2890.7,446.3 2910.9,433.6 2910.9,421.9" fill="#f1f1f1" stroke="#000" stroke-width="1.1" /><polygon points="2910.9,421.9 2910.9,433.6 2939.7,449.7 2949.6,443.6" fill="#f1f1f1" stroke="#000" stroke-width="1.1" />
<polygon points="2512.3,441 2469,469.3 2469,486 2512.3,457.7" fill="#f1f1f1" stroke="#000" stroke-width="1.2" /><polygon points="2469,469.3 2415,442 2415,458.7 2469,486" fill="#f1f1f1" stroke="#000" stroke-width="1.2" /><polygon points="2415,442 2458.3,413.3 2512.3,441 2469,469.3" fill="#f1f1f1" stroke="#000" stroke-width="1.2" /><polygon points="2439.3,441.7 2461,427.4 2488,441.2 2466.3,455.4" fill="#f1f1f1" stroke="#000" stroke-width="1.2" /><polygon points="2439.3,441.7 2450.8,447.5 2461,440.7 2461,427.4" fill="#f1f1f1" stroke="#000" stroke-width="1.1" /><polygon points="2461,427.4 2461,440.7 2476.6,448.7 2488,441.2" fill="#f1f1f1" stroke="#000" stroke-width="1.1" />
<polygon points="2623.3,445 2580,472.7 2580,484.3 2623.3,456.7" fill="#f1f1f1" stroke="#000" stroke-width="1.2" /><polygon points="2580,472.7 2538.3,453.3 2538.3,465 2580,484.3" fill="#f1f1f1" stroke="#000" stroke-width="1.2" /><polygon points="2538.3,453.3 2590,417.3 2623.3,445 2580,472.7" fill="#f1f1f1" stroke="#000" stroke-width="1.2" /><polygon points="2560.4,450.5 2574.9,440.4 2584.2,448.2 2572.1,455.9" fill="#f1f1f1" stroke="#000" stroke-width="1.2" /><polygon points="2560.4,450.5 2567.6,453.8 2574.9,448.8 2574.9,440.4" fill="#f1f1f1" stroke="#000" stroke-width="1.1" /><polygon points="2574.9,440.4 2574.9,448.8 2578.6,451.8 2584.2,448.2" fill="#f1f1f1" stroke="#000" stroke-width="1.1" />
<polygon points="2814,450 2762.7,472.7 2762.7,480 2814,457.3" fill="#f1f1f1" stroke="#000" stroke-width="1.2" /><polygon points="2762.7,472.7 2752.7,464 2752.7,471.3 2762.7,480" fill="#f1f1f1" stroke="#000" stroke-width="1.2" /><polygon points="2752.7,464 2801.7,443.3 2814,450 2762.7,472.7" fill="#f1f1f1" stroke="#000" stroke-width="1.2" />
<polygon points="3386,451.4 3386,470 3386.8,471.2 3388.4,472.5 3394.8,476.2 3396.8,477.2 3398.9,477.7 3400.9,477.7 3403,477.2 3405.1,476.2 3411.2,472.5 3412.8,471.3 3413.6,470 3413.6,451.4 3413.6,450.2 3412.7,449.1 3411,447.9 3405.2,444.9 3403.1,444 3401,443.5 3398.9,443.5 3396.7,444 3394.6,444.8 3388.6,448 3386.9,449.1 3386,450.2" fill="#f1f1f1" stroke="#000" stroke-width="1.2" stroke-linejoin="round"/><line x1="3388.4" y1="466.2" x2="3386.8" y2="465" stroke="#000" stroke-width="1.2" stroke-linecap="round"/><line x1="3386.8" y1="465" x2="3386" y2="463.8" stroke="#000" stroke-width="1.2" stroke-linecap="round"/><line x1="3413.6" y1="463.8" x2="3412.8" y2="465" stroke="#000" stroke-width="1.2" stroke-linecap="round"/><line x1="3412.8" y1="465" x2="3411.2" y2="466.3" stroke="#000" stroke-width="1.2" stroke-linecap="round"/><line x1="3411.2" y1="466.3" x2="3405.1" y2="470" stroke="#000" stroke-width="1.2" stroke-linecap="round"/><line x1="3405.1" y1="470" x2="3403" y2="471" stroke="#000" stroke-width="1.2" stroke-linecap="round"/><line x1="3403" y1="471" x2="3400.9" y2="471.5" stroke="#000" stroke-width="1.2" stroke-linecap="round"/><line x1="3400.9" y1="471.5" x2="3398.9" y2="471.5" stroke="#000" stroke-width="1.2" stroke-linecap="round"/><line x1="3398.9" y1="471.5" x2="3396.8" y2="471" stroke="#000" stroke-width="1.2" stroke-linecap="round"/><line x1="3396.8" y1="471" x2="3394.8" y2="470" stroke="#000" stroke-width="1.2" stroke-linecap="round"/><line x1="3394.8" y1="470" x2="3388.4" y2="466.2" stroke="#000" stroke-width="1.2" stroke-linecap="round"/><polygon points="3388.4,453.8 3386.8,452.6 3386,451.4 3386,450.2 3386.9,449.1 3388.6,448 3394.6,444.8 3396.7,444 3398.9,443.5 3401,443.5 3403.1,444 3405.2,444.9 3411,447.9 3412.7,449.1 3413.6,450.2 3413.6,451.4 3412.8,452.6 3411.2,453.9 3405.1,457.6 3403,458.6 3400.9,459.1 3398.9,459.1 3396.8,458.6 3394.8,457.6" fill="#f1f1f1" stroke="#000" stroke-width="1.2" stroke-linejoin="round"/>
<polygon points="3325.4,455.7 3307.6,464.4 3307.6,497.9 3325.4,489.2" fill="#f1f1f1" stroke="#000" stroke-width="1.2" /><polygon points="3307.6,464.4 3299.6,458.2 3299.6,491.7 3307.6,497.9" fill="#f1f1f1" stroke="#000" stroke-width="1.2" /><polygon points="3299.6,458.2 3317.5,450.8 3325.4,455.7 3307.6,464.4" fill="#f1f1f1" stroke="#000" stroke-width="1.2" />
<polygon points="2428.2,460.7 2406.3,472.4 2406.3,504.6 2428.2,493" fill="#f1f1f1" stroke="#000" stroke-width="1.2" /><polygon points="2406.3,472.4 2383.2,460.7 2383.2,493 2406.3,504.6" fill="#f1f1f1" stroke="#000" stroke-width="1.2" /><polygon points="2383.2,460.7 2405.1,449 2428.2,460.7 2406.3,472.4" fill="#f1f1f1" stroke="#000" stroke-width="1.2" />
<polygon points="2684.3,491.7 2656.7,507.3 2656.7,520 2684.3,504.3" fill="#f1f1f1" stroke="#000" stroke-width="1.2" /><polygon points="2656.7,507.3 2595,478.3 2595,491 2656.7,520" fill="#f1f1f1" stroke="#000" stroke-width="1.2" /><polygon points="2595,478.3 2631.7,450.7 2684.3,491.7 2656.7,507.3" fill="#f1f1f1" stroke="#000" stroke-width="1.2" /><polygon points="2618.9,480.5 2634.3,468.8 2656.4,486.1 2644.8,492.6" fill="#f1f1f1" stroke="#000" stroke-width="1.2" /><polygon points="2618.9,480.5 2627,484.3 2634.3,478.8 2634.3,468.8" fill="#f1f1f1" stroke="#000" stroke-width="1.1" /><polygon points="2634.3,468.8 2634.3,478.8 2649,490.3 2656.4,486.1" fill="#f1f1f1" stroke="#000" stroke-width="1.1" />
<polygon points="2903.3,491.7 2840,530 2840,543.3 2903.3,505" fill="#f1f1f1" stroke="#000" stroke-width="1.2" /><line x1="2903.3" y1="495" x2="2840" y2="533.3" stroke="#000" stroke-width="1.2"/><polygon points="2840,530 2776,476.7 2776,490 2840,543.3" fill="#f1f1f1" stroke="#000" stroke-width="1.2" /><line x1="2840" y1="533.3" x2="2776" y2="480" stroke="#000" stroke-width="1.2"/><polygon points="2776,476.7 2826.7,446.7 2903.3,491.7 2840,530" fill="#f1f1f1" stroke="#000" stroke-width="1.2" /><polygon points="2806.2,481.5 2831.6,466.5 2869.9,489 2838.2,508.1" fill="#f1f1f1" stroke="#000" stroke-width="1.2" /><polygon points="2806.2,481.5 2814.4,488.3 2831.6,478.1 2831.6,466.5" fill="#f1f1f1" stroke="#000" stroke-width="1.1" /><polygon points="2831.6,466.5 2831.6,478.1 2860.1,494.9 2869.9,489" fill="#f1f1f1" stroke="#000" stroke-width="1.1" />
<polygon points="3218.4,467.9 3197.4,477 3193.9,479 3191.9,481.2 3191.7,483.5 3191.7,500.9 3193.1,503.4 3196.2,506.1 3213.4,518.3 3217.3,520.6 3221.4,521.9 3225.5,522.3 3229.7,521.7 3234.1,520.2 3258.2,509.1 3261.7,507.1 3263.5,505 3263.6,502.7 3263.6,485.3 3262,483 3258.8,480.6 3239.7,469.3 3235.5,467.3 3231.3,466.1 3227.1,465.9 3222.7,466.5" fill="#f1f1f1" stroke="#000" stroke-width="1.2" stroke-linejoin="round"/><line x1="3196.2" y1="502.4" x2="3193.1" y2="499.7" stroke="#000" stroke-width="1.2" stroke-linecap="round"/><line x1="3193.1" y1="499.7" x2="3191.7" y2="497.2" stroke="#000" stroke-width="1.2" stroke-linecap="round"/><line x1="3263.6" y1="499" x2="3263.5" y2="501.2" stroke="#000" stroke-width="1.2" stroke-linecap="round"/><line x1="3263.5" y1="501.2" x2="3261.7" y2="503.4" stroke="#000" stroke-width="1.2" stroke-linecap="round"/><line x1="3261.7" y1="503.4" x2="3258.2" y2="505.4" stroke="#000" stroke-width="1.2" stroke-linecap="round"/><line x1="3258.2" y1="505.4" x2="3234.1" y2="516.5" stroke="#000" stroke-width="1.2" stroke-linecap="round"/><line x1="3234.1" y1="516.5" x2="3229.7" y2="518" stroke="#000" stroke-width="1.2" stroke-linecap="round"/><line x1="3229.7" y1="518" x2="3225.5" y2="518.6" stroke="#000" stroke-width="1.2" stroke-linecap="round"/><line x1="3225.5" y1="518.6" x2="3221.4" y2="518.2" stroke="#000" stroke-width="1.2" stroke-linecap="round"/><line x1="3221.4" y1="518.2" x2="3217.3" y2="516.9" stroke="#000" stroke-width="1.2" stroke-linecap="round"/><line x1="3217.3" y1="516.9" x2="3213.4" y2="514.6" stroke="#000" stroke-width="1.2" stroke-linecap="round"/><line x1="3213.4" y1="514.6" x2="3196.2" y2="502.4" stroke="#000" stroke-width="1.2" stroke-linecap="round"/><polygon points="3196.2,488.7 3193.1,486 3191.7,483.5 3191.9,481.2 3193.9,479 3197.4,477 3218.4,467.9 3222.7,466.5 3227.1,465.9 3231.3,466.1 3235.5,467.3 3239.7,469.3 3258.8,480.6 3262,483 3263.6,485.3 3263.5,487.6 3261.7,489.7 3258.2,491.8 3234.1,502.8 3229.7,504.4 3225.5,504.9 3221.4,504.6 3217.3,503.2 3213.4,500.9" fill="#f1f1f1" stroke="#000" stroke-width="1.2" stroke-linejoin="round"/>
<polygon points="3208.7,483.5 3228.1,475.1 3245.9,485.7 3225.3,495.2" fill="#f1f1f1" stroke="#000" stroke-width="1.2" /><polygon points="3208.7,483.5 3219.6,491.2 3228.1,487.5 3228.1,475.1" fill="#f1f1f1" stroke="#000" stroke-width="1.1" /><polygon points="3228.1,475.1 3228.1,487.5 3234.2,491.1 3245.9,485.7" fill="#f1f1f1" stroke="#000" stroke-width="1.1" />
<polygon points="3326.2,474.3 3322.9,475.6 3319.8,477.8 3314,482.8 3311.6,485.3 3310.5,487.6 3310.5,501.3 3310.7,503.5 3312.3,505.6 3315.2,507.5 3328.5,514.4 3332,515.9 3335.6,516.7 3339.3,516.9 3342.9,516.3 3346.6,515.1 3364.9,507.3 3367.8,505.7 3369.3,504.2 3369.3,490.6 3369.3,489 3367.8,487.5 3364.8,486.1 3336.7,475 3333.1,474 3329.6,473.7" fill="#f1f1f1" stroke="#000" stroke-width="1.2" stroke-linejoin="round"/><line x1="3315.2" y1="503.8" x2="3312.3" y2="501.9" stroke="#000" stroke-width="1.2" stroke-linecap="round"/><line x1="3312.3" y1="501.9" x2="3310.7" y2="499.8" stroke="#000" stroke-width="1.2" stroke-linecap="round"/><line x1="3310.7" y1="499.8" x2="3310.5" y2="497.6" stroke="#000" stroke-width="1.2" stroke-linecap="round"/><line x1="3369.3" y1="500.5" x2="3367.8" y2="502" stroke="#000" stroke-width="1.2" stroke-linecap="round"/><line x1="3367.8" y1="502" x2="3364.9" y2="503.6" stroke="#000" stroke-width="1.2" stroke-linecap="round"/><line x1="3364.9" y1="503.6" x2="3346.6" y2="511.4" stroke="#000" stroke-width="1.2" stroke-linecap="round"/><line x1="3346.6" y1="511.4" x2="3342.9" y2="512.6" stroke="#000" stroke-width="1.2" stroke-linecap="round"/><line x1="3342.9" y1="512.6" x2="3339.3" y2="513.2" stroke="#000" stroke-width="1.2" stroke-linecap="round"/><line x1="3339.3" y1="513.2" x2="3335.6" y2="513" stroke="#000" stroke-width="1.2" stroke-linecap="round"/><line x1="3335.6" y1="513" x2="3332" y2="512.2" stroke="#000" stroke-width="1.2" stroke-linecap="round"/><line x1="3332" y1="512.2" x2="3328.5" y2="510.7" stroke="#000" stroke-width="1.2" stroke-linecap="round"/><line x1="3328.5" y1="510.7" x2="3315.2" y2="503.8" stroke="#000" stroke-width="1.2" stroke-linecap="round"/><polygon points="3315.2,493.8 3312.3,491.9 3310.7,489.9 3310.5,487.6 3311.6,485.3 3314,482.8 3319.8,477.8 3322.9,475.6 3326.2,474.3 3329.6,473.7 3333.1,474 3336.7,475 3364.8,486.1 3367.8,487.5 3369.3,489 3369.3,490.6 3367.8,492.1 3364.9,493.6 3346.6,501.5 3342.9,502.7 3339.3,503.2 3335.6,503.1 3332,502.3 3328.5,500.8" fill="#f1f1f1" stroke="#000" stroke-width="1.2" stroke-linejoin="round"/>
<polygon points="3078.3,499.3 3017.3,536.7 3017.3,549.3 3078.3,512" fill="#f1f1f1" stroke="#000" stroke-width="1.2" /><line x1="3078.3" y1="502.7" x2="3017.3" y2="540" stroke="#000" stroke-width="1.2"/><polygon points="3017.3,536.7 2941.7,491.7 2941.7,504.3 3017.3,549.3" fill="#f1f1f1" stroke="#000" stroke-width="1.2" /><line x1="3017.3" y1="540" x2="2941.7" y2="495" stroke="#000" stroke-width="1.2"/><polygon points="2941.7,491.7 3003.3,456 3078.3,499.3 3017.3,536.7" fill="#f1f1f1" stroke="#000" stroke-width="1.2" /><polygon points="2975.9,493.8 3006.8,476 3044.2,497.6 3013.8,516.3" fill="#f1f1f1" stroke="#000" stroke-width="1.2" /><polygon points="2975.9,493.8 2985.9,499.7 3006.8,487.6 3006.8,476" fill="#f1f1f1" stroke="#000" stroke-width="1.1" /><polygon points="3006.8,476 3006.8,487.6 3034.4,503.6 3044.2,497.6" fill="#f1f1f1" stroke="#000" stroke-width="1.1" />
<polygon points="2383.2,439.6 2362.4,452 2362.4,522.8 2383.2,510.3" fill="#f1f1f1" stroke="#000" stroke-width="1.2" /><polygon points="2362.4,452 2338.1,439.6 2338.1,510.3 2362.4,522.8" fill="#f1f1f1" stroke="#000" stroke-width="1.2" /><polygon points="2338.1,439.6 2359.2,428.4 2383.2,439.6 2362.4,452" fill="#f1f1f1" stroke="#000" stroke-width="1.2" />
<polygon points="2775,510.7 2744,518.3 2744,523.3 2775,515.7" fill="#f1f1f1" stroke="#000" stroke-width="1.2" /><polygon points="2744,518.3 2740,511.7 2740,516.7 2744,523.3" fill="#f1f1f1" stroke="#000" stroke-width="1.2" /><polygon points="2740,511.7 2771.7,504 2775,510.7 2744,518.3" fill="#f1f1f1" stroke="#000" stroke-width="1.2" />
<polygon points="2494.5,495.4 2427.4,537.6 2427.4,556.3 2494.5,514.1" fill="#f1f1f1" stroke="#000" stroke-width="1.2" /><polygon points="2427.4,537.6 2362.4,504.1 2362.4,522.8 2427.4,556.3" fill="#f1f1f1" stroke="#000" stroke-width="1.2" /><polygon points="2362.4,504.1 2428.7,464.4 2494.5,495.4 2427.4,537.6" fill="#f1f1f1" stroke="#000" stroke-width="1.2" />
<polygon points="3467,495.6 3464.8,496.4 3458.9,499.4 3457.2,500.5 3456.3,501.7 3456.2,502.8 3456.2,521.5 3457,522.7 3458.7,523.9 3465.8,528.3 3467.9,529.3 3469.9,529.8 3472,529.8 3474,529.3 3476.1,528.4 3482.4,524.6 3484,523.4 3484.9,522.2 3484.9,503.5 3484.8,502.4 3484,501.2 3482.3,500.1 3475.5,496.5 3473.4,495.6 3471.2,495.1 3469.1,495.1" fill="#f1f1f1" stroke="#000" stroke-width="1.2" stroke-linejoin="round"/><line x1="3458.7" y1="517.7" x2="3457" y2="516.5" stroke="#000" stroke-width="1.2" stroke-linecap="round"/><line x1="3457" y1="516.5" x2="3456.2" y2="515.3" stroke="#000" stroke-width="1.2" stroke-linecap="round"/><line x1="3484.9" y1="516" x2="3484" y2="517.2" stroke="#000" stroke-width="1.2" stroke-linecap="round"/><line x1="3484" y1="517.2" x2="3482.4" y2="518.4" stroke="#000" stroke-width="1.2" stroke-linecap="round"/><line x1="3482.4" y1="518.4" x2="3476.1" y2="522.2" stroke="#000" stroke-width="1.2" stroke-linecap="round"/><line x1="3476.1" y1="522.2" x2="3474" y2="523.1" stroke="#000" stroke-width="1.2" stroke-linecap="round"/><line x1="3474" y1="523.1" x2="3472" y2="523.6" stroke="#000" stroke-width="1.2" stroke-linecap="round"/><line x1="3472" y1="523.6" x2="3469.9" y2="523.6" stroke="#000" stroke-width="1.2" stroke-linecap="round"/><line x1="3469.9" y1="523.6" x2="3467.9" y2="523.1" stroke="#000" stroke-width="1.2" stroke-linecap="round"/><line x1="3467.9" y1="523.1" x2="3465.8" y2="522.1" stroke="#000" stroke-width="1.2" stroke-linecap="round"/><line x1="3465.8" y1="522.1" x2="3458.7" y2="517.7" stroke="#000" stroke-width="1.2" stroke-linecap="round"/><polygon points="3458.7,505.3 3457,504 3456.2,502.8 3456.3,501.7 3457.2,500.5 3458.9,499.4 3464.8,496.4 3467,495.6 3469.1,495.1 3471.2,495.1 3473.4,495.6 3475.5,496.5 3482.3,500.1 3484,501.2 3484.8,502.4 3484.9,503.5 3484,504.7 3482.4,506 3476.1,509.7 3474,510.7 3472,511.2 3469.9,511.2 3467.9,510.7 3465.8,509.7" fill="#f1f1f1" stroke="#000" stroke-width="1.2" stroke-linejoin="round"/>
<polygon points="2641.7,516.7 2597.3,546.7 2597.3,558.3 2641.7,528.3" fill="#f1f1f1" stroke="#000" stroke-width="1.2" /><polygon points="2597.3,546.7 2537.7,516.7 2537.7,528.3 2597.3,558.3" fill="#f1f1f1" stroke="#000" stroke-width="1.2" /><polygon points="2537.7,516.7 2582.7,485 2641.7,516.7 2597.3,546.7" fill="#f1f1f1" stroke="#000" stroke-width="1.2" /><polygon points="2563.8,516.5 2586.2,500.6 2615.8,516.5 2593.6,531.5" fill="#f1f1f1" stroke="#000" stroke-width="1.2" /><polygon points="2563.8,516.5 2572.6,520.9 2586.2,511.3 2586.2,500.6" fill="#f1f1f1" stroke="#000" stroke-width="1.1" /><polygon points="2586.2,500.6 2586.2,511.3 2607,522.4 2615.8,516.5" fill="#f1f1f1" stroke="#000" stroke-width="1.1" />
<polygon points="3278.1,505.6 3275.4,506.8 3273.3,508.4 3272,510.1 3271.6,512.1 3271.6,531.9 3272,533.9 3273.3,535.7 3275.4,537.2 3278.1,538.4 3281.3,539.1 3284.7,539.4 3288.1,539.1 3291.3,538.4 3294,537.2 3296.1,535.7 3297.4,533.9 3297.9,531.9 3297.9,512.1 3297.4,510.1 3296.1,508.4 3294,506.8 3291.3,505.6 3288.1,504.9 3284.7,504.6 3281.3,504.9" fill="#f1f1f1" stroke="#000" stroke-width="1.2" stroke-linejoin="round"/><line x1="3297.9" y1="527" x2="3297.4" y2="528.9" stroke="#000" stroke-width="1.2" stroke-linecap="round"/><line x1="3297.4" y1="528.9" x2="3296.1" y2="530.7" stroke="#000" stroke-width="1.2" stroke-linecap="round"/><line x1="3296.1" y1="530.7" x2="3294" y2="532.2" stroke="#000" stroke-width="1.2" stroke-linecap="round"/><line x1="3294" y1="532.2" x2="3291.3" y2="533.4" stroke="#000" stroke-width="1.2" stroke-linecap="round"/><line x1="3291.3" y1="533.4" x2="3288.1" y2="534.2" stroke="#000" stroke-width="1.2" stroke-linecap="round"/><line x1="3288.1" y1="534.2" x2="3284.7" y2="534.4" stroke="#000" stroke-width="1.2" stroke-linecap="round"/><line x1="3284.7" y1="534.4" x2="3281.3" y2="534.2" stroke="#000" stroke-width="1.2" stroke-linecap="round"/><line x1="3281.3" y1="534.2" x2="3278.1" y2="533.4" stroke="#000" stroke-width="1.2" stroke-linecap="round"/><line x1="3278.1" y1="533.4" x2="3275.4" y2="532.2" stroke="#000" stroke-width="1.2" stroke-linecap="round"/><line x1="3275.4" y1="532.2" x2="3273.3" y2="530.7" stroke="#000" stroke-width="1.2" stroke-linecap="round"/><line x1="3273.3" y1="530.7" x2="3272" y2="528.9" stroke="#000" stroke-width="1.2" stroke-linecap="round"/><line x1="3272" y1="528.9" x2="3271.6" y2="527" stroke="#000" stroke-width="1.2" stroke-linecap="round"/><polygon points="3297.9,512.1 3297.4,514 3296.1,515.8 3294,517.3 3291.3,518.5 3288.1,519.3 3284.7,519.5 3281.3,519.3 3278.1,518.5 3275.4,517.3 3273.3,515.8 3272,514 3271.6,512.1 3272,510.1 3273.3,508.4 3275.4,506.8 3278.1,505.6 3281.3,504.9 3284.7,504.6 3288.1,504.9 3291.3,505.6 3294,506.8 3296.1,508.4 3297.4,510.1" fill="#f1f1f1" stroke="#000" stroke-width="1.2" stroke-linejoin="round"/>
<polygon points="3140,511.1 3132.5,516.5 3132.5,542.6 3140,537.1" fill="#f1f1f1" stroke="#000" stroke-width="1.2" /><polygon points="3132.5,516.5 3116.9,504.6 3116.9,530.7 3132.5,542.6" fill="#f1f1f1" stroke="#000" stroke-width="1.2" /><polygon points="3116.9,504.6 3124.3,498.7 3140,511.1 3132.5,516.5" fill="#f1f1f1" stroke="#000" stroke-width="1.2" />
<polygon points="3129.4,513.2 3126,515.6 3124.1,518.2 3123.9,520.9 3123.9,537 3125.2,539.9 3128.1,542.9 3135.8,549.3 3139.5,551.9 3143.4,553.5 3147.4,554 3151.6,553.6 3156,552.2 3179.4,542 3183,539.9 3184.9,537.7 3185.2,535.3 3185.2,519.2 3183.8,516.6 3180.8,513.8 3168.2,504.4 3164.3,502 3160.4,500.7 3156.4,500.4 3152.3,501.2 3148.1,503" fill="#f1f1f1" stroke="#000" stroke-width="1.2" stroke-linejoin="round"/><line x1="3128.1" y1="539.1" x2="3125.2" y2="536.1" stroke="#000" stroke-width="1.2" stroke-linecap="round"/><line x1="3125.2" y1="536.1" x2="3123.9" y2="533.3" stroke="#000" stroke-width="1.2" stroke-linecap="round"/><line x1="3185.2" y1="531.6" x2="3184.9" y2="534" stroke="#000" stroke-width="1.2" stroke-linecap="round"/><line x1="3184.9" y1="534" x2="3183" y2="536.2" stroke="#000" stroke-width="1.2" stroke-linecap="round"/><line x1="3183" y1="536.2" x2="3179.4" y2="538.2" stroke="#000" stroke-width="1.2" stroke-linecap="round"/><line x1="3179.4" y1="538.2" x2="3156" y2="548.5" stroke="#000" stroke-width="1.2" stroke-linecap="round"/><line x1="3156" y1="548.5" x2="3151.6" y2="549.9" stroke="#000" stroke-width="1.2" stroke-linecap="round"/><line x1="3151.6" y1="549.9" x2="3147.4" y2="550.3" stroke="#000" stroke-width="1.2" stroke-linecap="round"/><line x1="3147.4" y1="550.3" x2="3143.4" y2="549.7" stroke="#000" stroke-width="1.2" stroke-linecap="round"/><line x1="3143.4" y1="549.7" x2="3139.5" y2="548.2" stroke="#000" stroke-width="1.2" stroke-linecap="round"/><line x1="3139.5" y1="548.2" x2="3135.8" y2="545.6" stroke="#000" stroke-width="1.2" stroke-linecap="round"/><line x1="3135.8" y1="545.6" x2="3128.1" y2="539.1" stroke="#000" stroke-width="1.2" stroke-linecap="round"/><polygon points="3128.1,526.7 3125.2,523.7 3123.9,520.9 3124.1,518.2 3126,515.6 3129.4,513.2 3148.1,503 3152.3,501.2 3156.4,500.4 3160.4,500.7 3164.3,502 3168.2,504.4 3180.8,513.8 3183.8,516.6 3185.2,519.2 3184.9,521.6 3183,523.8 3179.4,525.8 3156,536.1 3151.6,537.5 3147.4,537.9 3143.4,537.3 3139.5,535.7 3135.8,533.2" fill="#f1f1f1" stroke="#000" stroke-width="1.2" stroke-linejoin="round"/>
<polygon points="3139.5,519.3 3155.4,510.6 3168.1,520.1 3149.9,528.1" fill="#f1f1f1" stroke="#000" stroke-width="1.2" /><polygon points="3139.5,519.3 3147.5,526.1 3155.4,521.8 3155.4,510.6" fill="#f1f1f1" stroke="#000" stroke-width="1.1" /><polygon points="3155.4,510.6 3155.4,521.8 3158.7,524.2 3168.1,520.1" fill="#f1f1f1" stroke="#000" stroke-width="1.1" />
<polygon points="3359,521.7 3358.9,524 3358.9,541.4 3360.6,543.8 3363.9,546.2 3381.6,556.4 3385.8,558.4 3389.9,559.4 3394.1,559.5 3398.4,558.7 3402.6,556.9 3424,545.7 3427.5,543.4 3429.3,541 3429.5,538.5 3429.5,521.1 3428,518.4 3425,515.7 3410.4,505 3406.4,502.7 3402.5,501.4 3398.4,501.1 3394.3,501.8 3390,503.5 3364.1,517.2 3360.7,519.4" fill="#f1f1f1" stroke="#000" stroke-width="1.2" stroke-linejoin="round"/><line x1="3363.9" y1="542.4" x2="3360.6" y2="540" stroke="#000" stroke-width="1.2" stroke-linecap="round"/><line x1="3360.6" y1="540" x2="3358.9" y2="537.7" stroke="#000" stroke-width="1.2" stroke-linecap="round"/><line x1="3429.5" y1="534.7" x2="3429.3" y2="537.3" stroke="#000" stroke-width="1.2" stroke-linecap="round"/><line x1="3429.3" y1="537.3" x2="3427.5" y2="539.7" stroke="#000" stroke-width="1.2" stroke-linecap="round"/><line x1="3427.5" y1="539.7" x2="3424" y2="542" stroke="#000" stroke-width="1.2" stroke-linecap="round"/><line x1="3424" y1="542" x2="3402.6" y2="553.2" stroke="#000" stroke-width="1.2" stroke-linecap="round"/><line x1="3402.6" y1="553.2" x2="3398.4" y2="554.9" stroke="#000" stroke-width="1.2" stroke-linecap="round"/><line x1="3398.4" y1="554.9" x2="3394.1" y2="555.8" stroke="#000" stroke-width="1.2" stroke-linecap="round"/><line x1="3394.1" y1="555.8" x2="3389.9" y2="555.7" stroke="#000" stroke-width="1.2" stroke-linecap="round"/><line x1="3389.9" y1="555.7" x2="3385.8" y2="554.7" stroke="#000" stroke-width="1.2" stroke-linecap="round"/><line x1="3385.8" y1="554.7" x2="3381.6" y2="552.7" stroke="#000" stroke-width="1.2" stroke-linecap="round"/><line x1="3381.6" y1="552.7" x2="3363.9" y2="542.4" stroke="#000" stroke-width="1.2" stroke-linecap="round"/><polygon points="3363.9,528.8 3360.6,526.4 3358.9,524 3359,521.7 3360.7,519.4 3364.1,517.2 3390,503.5 3394.3,501.8 3398.4,501.1 3402.5,501.4 3406.4,502.7 3410.4,505 3425,515.7 3428,518.4 3429.5,521.1 3429.3,523.6 3427.5,526 3424,528.3 3402.6,539.5 3398.4,541.3 3394.1,542.1 3389.9,542 3385.8,541 3381.6,539.1" fill="#f1f1f1" stroke="#000" stroke-width="1.2" stroke-linejoin="round"/>
<polygon points="3376.4,522.4 3397.7,511.2 3413,522.4 3393.8,532.5" fill="#f1f1f1" stroke="#000" stroke-width="1.2" /><polygon points="3376.4,522.4 3387.6,528.9 3397.7,523.7 3397.7,511.2" fill="#f1f1f1" stroke="#000" stroke-width="1.1" /><polygon points="3397.7,511.2 3397.7,523.7 3403.1,527.6 3413,522.4" fill="#f1f1f1" stroke="#000" stroke-width="1.1" />
<polygon points="2747.3,536.7 2716,561.7 2716,573.3 2747.3,548.3" fill="#f1f1f1" stroke="#000" stroke-width="1.2" /><polygon points="2716,561.7 2652.7,532.7 2652.7,544.3 2716,573.3" fill="#f1f1f1" stroke="#000" stroke-width="1.2" /><polygon points="2652.7,532.7 2696.7,494.3 2747.3,536.7 2716,561.7" fill="#f1f1f1" stroke="#000" stroke-width="1.2" /><polygon points="2680.4,531.9 2700.2,514.7 2723,533.7 2708.9,545" fill="#f1f1f1" stroke="#000" stroke-width="1.2" /><polygon points="2680.4,531.9 2688,535.4 2700.2,524.7 2700.2,514.7" fill="#f1f1f1" stroke="#000" stroke-width="1.1" /><polygon points="2700.2,514.7 2700.2,524.7 2716.9,538.6 2723,533.7" fill="#f1f1f1" stroke="#000" stroke-width="1.1" />
<polygon points="2546,536.7 2535,545 2535,560 2546,551.7" fill="#f1f1f1" stroke="#000" stroke-width="1.2" /><polygon points="2535,545 2499.3,528.3 2499.3,543.3 2535,560" fill="#f1f1f1" stroke="#000" stroke-width="1.2" /><polygon points="2499.3,528.3 2511.7,520.7 2546,536.7 2535,545" fill="#f1f1f1" stroke="#000" stroke-width="1.2" />
<polygon points="2809.3,538.3 2794,554 2794,559 2809.3,543.3" fill="#f1f1f1" stroke="#000" stroke-width="1.2" /><polygon points="2794,554 2785,549.3 2785,554.3 2794,559" fill="#f1f1f1" stroke="#000" stroke-width="1.2" /><polygon points="2785,549.3 2800.7,534 2809.3,538.3 2794,554" fill="#f1f1f1" stroke="#000" stroke-width="1.2" />
<polygon points="2523.3,552.7 2510,563.3 2510,581.7 2523.3,571" fill="#f1f1f1" stroke="#000" stroke-width="1.2" /><polygon points="2510,563.3 2465,543.3 2465,561.7 2510,581.7" fill="#f1f1f1" stroke="#000" stroke-width="1.2" /><polygon points="2465,543.3 2480,532.7 2523.3,552.7 2510,563.3" fill="#f1f1f1" stroke="#000" stroke-width="1.2" />
<polygon points="3473.9,553.8 3432.2,570.7 3432.2,584.3 3473.9,567.4" fill="#f1f1f1" stroke="#000" stroke-width="1.2" /><polygon points="3432.2,570.7 3419.3,560 3419.3,573.6 3432.2,584.3" fill="#f1f1f1" stroke="#000" stroke-width="1.2" /><polygon points="3419.3,560 3460.2,543.9 3473.9,553.8 3432.2,570.7" fill="#f1f1f1" stroke="#000" stroke-width="1.2" />
<polygon points="3279.5,555.1 3279.5,557.5 3279.5,574.9 3281.1,577.3 3284.4,579.7 3302.2,590 3306.3,591.9 3310.5,593 3314.8,593.2 3319,592.4 3323.3,590.8 3345.7,580.1 3349.2,577.9 3351,575.6 3351.3,573.2 3351.3,555.8 3349.8,553.2 3346.8,550.4 3329.7,538 3325.8,535.7 3321.8,534.4 3317.7,534.2 3313.6,534.9 3309.5,536.7 3284.6,550.5 3281.2,552.8" fill="#f1f1f1" stroke="#000" stroke-width="1.2" stroke-linejoin="round"/><line x1="3284.4" y1="575.9" x2="3281.1" y2="573.5" stroke="#000" stroke-width="1.2" stroke-linecap="round"/><line x1="3281.1" y1="573.5" x2="3279.5" y2="571.2" stroke="#000" stroke-width="1.2" stroke-linecap="round"/><line x1="3351.3" y1="569.5" x2="3351" y2="571.9" stroke="#000" stroke-width="1.2" stroke-linecap="round"/><line x1="3351" y1="571.9" x2="3349.2" y2="574.2" stroke="#000" stroke-width="1.2" stroke-linecap="round"/><line x1="3349.2" y1="574.2" x2="3345.7" y2="576.4" stroke="#000" stroke-width="1.2" stroke-linecap="round"/><line x1="3345.7" y1="576.4" x2="3323.3" y2="587.1" stroke="#000" stroke-width="1.2" stroke-linecap="round"/><line x1="3323.3" y1="587.1" x2="3319" y2="588.7" stroke="#000" stroke-width="1.2" stroke-linecap="round"/><line x1="3319" y1="588.7" x2="3314.8" y2="589.4" stroke="#000" stroke-width="1.2" stroke-linecap="round"/><line x1="3314.8" y1="589.4" x2="3310.5" y2="589.3" stroke="#000" stroke-width="1.2" stroke-linecap="round"/><line x1="3310.5" y1="589.3" x2="3306.3" y2="588.2" stroke="#000" stroke-width="1.2" stroke-linecap="round"/><line x1="3306.3" y1="588.2" x2="3302.2" y2="586.2" stroke="#000" stroke-width="1.2" stroke-linecap="round"/><line x1="3302.2" y1="586.2" x2="3284.4" y2="575.9" stroke="#000" stroke-width="1.2" stroke-linecap="round"/><polygon points="3284.4,562.3 3281.1,559.9 3279.5,557.5 3279.5,555.1 3281.2,552.8 3284.6,550.5 3309.5,536.7 3313.6,534.9 3317.7,534.2 3321.8,534.4 3325.8,535.7 3329.7,538 3346.8,550.4 3349.8,553.2 3351.3,555.8 3351,558.2 3349.2,560.5 3345.7,562.7 3323.3,573.4 3319,575 3314.8,575.8 3310.5,575.6 3306.3,574.5 3302.2,572.6" fill="#f1f1f1" stroke="#000" stroke-width="1.2" stroke-linejoin="round"/>
<polygon points="3297,556 3317.7,544.6 3334.1,556.6 3314.3,566.1" fill="#f1f1f1" stroke="#000" stroke-width="1.2" /><polygon points="3297,556 3308,562.4 3317.7,557 3317.7,544.6" fill="#f1f1f1" stroke="#000" stroke-width="1.1" /><polygon points="3317.7,544.6 3317.7,557 3323.8,561.5 3334.1,556.6" fill="#f1f1f1" stroke="#000" stroke-width="1.1" />
<polygon points="2976,555 2920,584 2920,600 2976,571" fill="#f1f1f1" stroke="#000" stroke-width="1.2" /><polygon points="2920,584 2883.3,560 2883.3,576 2920,600" fill="#f1f1f1" stroke="#000" stroke-width="1.2" /><polygon points="2883.3,560 2900.7,550 2923.3,566 2961.7,546.7 2976,555 2920,584" fill="#f1f1f1" stroke="#000" stroke-width="1.2" />
<polygon points="3195.4,542.4 3172.8,555.3 3169.4,557.7 3167.7,560 3167.7,562.4 3167.7,581.1 3169.4,583.5 3172.7,585.9 3188.4,594.9 3192.6,596.9 3196.9,598.1 3201.2,598.3 3205.5,597.8 3209.9,596.3 3232.4,586.9 3236,585 3238,582.9 3238.2,580.5 3238.2,561.9 3236.9,559.4 3233.8,556.7 3215.5,543.4 3211.6,541.1 3207.6,539.9 3203.6,539.7 3199.5,540.5" fill="#f1f1f1" stroke="#000" stroke-width="1.2" stroke-linejoin="round"/><line x1="3172.7" y1="581.6" x2="3169.4" y2="579.2" stroke="#000" stroke-width="1.2" stroke-linecap="round"/><line x1="3169.4" y1="579.2" x2="3167.7" y2="576.8" stroke="#000" stroke-width="1.2" stroke-linecap="round"/><line x1="3238.2" y1="576.3" x2="3238" y2="578.6" stroke="#000" stroke-width="1.2" stroke-linecap="round"/><line x1="3238" y1="578.6" x2="3236" y2="580.8" stroke="#000" stroke-width="1.2" stroke-linecap="round"/><line x1="3236" y1="580.8" x2="3232.4" y2="582.7" stroke="#000" stroke-width="1.2" stroke-linecap="round"/><line x1="3232.4" y1="582.7" x2="3209.9" y2="592.1" stroke="#000" stroke-width="1.2" stroke-linecap="round"/><line x1="3209.9" y1="592.1" x2="3205.5" y2="593.5" stroke="#000" stroke-width="1.2" stroke-linecap="round"/><line x1="3205.5" y1="593.5" x2="3201.2" y2="594.1" stroke="#000" stroke-width="1.2" stroke-linecap="round"/><line x1="3201.2" y1="594.1" x2="3196.9" y2="593.8" stroke="#000" stroke-width="1.2" stroke-linecap="round"/><line x1="3196.9" y1="593.8" x2="3192.6" y2="592.7" stroke="#000" stroke-width="1.2" stroke-linecap="round"/><line x1="3192.6" y1="592.7" x2="3188.4" y2="590.7" stroke="#000" stroke-width="1.2" stroke-linecap="round"/><line x1="3188.4" y1="590.7" x2="3172.7" y2="581.6" stroke="#000" stroke-width="1.2" stroke-linecap="round"/><polygon points="3172.7,567.2 3169.4,564.8 3167.7,562.4 3167.7,560 3169.4,557.7 3172.8,555.3 3195.4,542.4 3199.5,540.5 3203.6,539.7 3207.6,539.9 3211.6,541.1 3215.5,543.4 3233.8,556.7 3236.9,559.4 3238.2,561.9 3238,564.2 3236,566.4 3232.4,568.3 3209.9,577.7 3205.5,579.1 3201.2,579.7 3196.9,579.4 3192.6,578.3 3188.4,576.3" fill="#f1f1f1" stroke="#000" stroke-width="1.2" stroke-linejoin="round"/>
<polygon points="3184.5,561.1 3204,549.9 3221,562.2 3200.9,570.6" fill="#f1f1f1" stroke="#000" stroke-width="1.2" /><polygon points="3184.5,561.1 3195.3,567.3 3204,562.3 3204,549.9" fill="#f1f1f1" stroke="#000" stroke-width="1.1" /><polygon points="3204,549.9 3204,562.3 3210.1,566.7 3221,562.2" fill="#f1f1f1" stroke="#000" stroke-width="1.1" />
<polygon points="2658.3,588.3 2648.3,598.3 2648.3,613.3 2658.3,603.3" fill="#f1f1f1" stroke="#000" stroke-width="1.2" /><polygon points="2648.3,598.3 2546.7,548.3 2546.7,563.3 2648.3,613.3" fill="#f1f1f1" stroke="#000" stroke-width="1.2" /><polygon points="2546.7,548.3 2560,540.7 2658.3,588.3 2648.3,598.3" fill="#f1f1f1" stroke="#000" stroke-width="1.2" />
<polygon points="3145,576 3076.7,605 3076.7,623.3 3145,594.3" fill="#f1f1f1" stroke="#000" stroke-width="1.2" /><polygon points="3076.7,605 3036.7,575 3036.7,593.3 3076.7,623.3" fill="#f1f1f1" stroke="#000" stroke-width="1.2" /><polygon points="3036.7,575 3105,546.7 3145,576 3076.7,605" fill="#f1f1f1" stroke="#000" stroke-width="1.2" /><polygon points="3063.8,575.3 3097.9,561.2 3117.9,575.8 3083.8,590.3" fill="#f1f1f1" stroke="#000" stroke-width="1.2" /><polygon points="3063.8,575.3 3075.2,583.9 3097.9,574.5 3097.9,561.2" fill="#f1f1f1" stroke="#000" stroke-width="1.1" /><polygon points="3097.9,561.2 3097.9,574.5 3106.4,580.7 3117.9,575.8" fill="#f1f1f1" stroke="#000" stroke-width="1.1" />
<polygon points="3432.9,569.9 3352.8,602.9 3352.8,617.8 3432.9,584.8" fill="#f1f1f1" stroke="#000" stroke-width="1.2" /><polygon points="3352.8,602.9 3339.8,592.3 3339.8,607.2 3352.8,617.8" fill="#f1f1f1" stroke="#000" stroke-width="1.2" /><polygon points="3339.8,592.3 3419.3,560 3432.9,569.9 3352.8,602.9" fill="#f1f1f1" stroke="#000" stroke-width="1.2" />
<polygon points="2636.7,605 2624,616.7 2624,633.3 2636.7,621.7" fill="#f1f1f1" stroke="#000" stroke-width="1.2" /><polygon points="2624,616.7 2519.3,566.7 2519.3,583.3 2624,633.3" fill="#f1f1f1" stroke="#000" stroke-width="1.2" /><polygon points="2519.3,566.7 2531.7,556 2636.7,605 2624,616.7" fill="#f1f1f1" stroke="#000" stroke-width="1.2" />
<polygon points="3260.1,582.4 3258,583.2 3252.2,586 3250.4,587 3249.5,588.1 3249.4,589.3 3249.4,606.7 3250.1,608 3251.7,609.3 3258.4,613.7 3260.4,614.8 3262.4,615.4 3264.4,615.5 3266.5,615 3268.5,614 3275.1,610.2 3276.7,609 3277.6,607.8 3277.6,590.4 3277.5,589.2 3276.7,588.1 3275,586.9 3268.6,583.5 3266.5,582.5 3264.4,582 3262.3,582" fill="#f1f1f1" stroke="#000" stroke-width="1.2" stroke-linejoin="round"/><line x1="3251.7" y1="604.3" x2="3250.1" y2="603" stroke="#000" stroke-width="1.2" stroke-linecap="round"/><line x1="3250.1" y1="603" x2="3249.4" y2="601.7" stroke="#000" stroke-width="1.2" stroke-linecap="round"/><line x1="3277.6" y1="602.8" x2="3276.7" y2="604" stroke="#000" stroke-width="1.2" stroke-linecap="round"/><line x1="3276.7" y1="604" x2="3275.1" y2="605.2" stroke="#000" stroke-width="1.2" stroke-linecap="round"/><line x1="3275.1" y1="605.2" x2="3268.5" y2="609.1" stroke="#000" stroke-width="1.2" stroke-linecap="round"/><line x1="3268.5" y1="609.1" x2="3266.5" y2="610" stroke="#000" stroke-width="1.2" stroke-linecap="round"/><line x1="3266.5" y1="610" x2="3264.4" y2="610.5" stroke="#000" stroke-width="1.2" stroke-linecap="round"/><line x1="3264.4" y1="610.5" x2="3262.4" y2="610.4" stroke="#000" stroke-width="1.2" stroke-linecap="round"/><line x1="3262.4" y1="610.4" x2="3260.4" y2="609.9" stroke="#000" stroke-width="1.2" stroke-linecap="round"/><line x1="3260.4" y1="609.9" x2="3258.4" y2="608.8" stroke="#000" stroke-width="1.2" stroke-linecap="round"/><line x1="3258.4" y1="608.8" x2="3251.7" y2="604.3" stroke="#000" stroke-width="1.2" stroke-linecap="round"/><polygon points="3251.7,591.9 3250.1,590.6 3249.4,589.3 3249.5,588.1 3250.4,587 3252.2,586 3258,583.2 3260.1,582.4 3262.3,582 3264.4,582 3266.5,582.5 3268.6,583.5 3275,586.9 3276.7,588.1 3277.5,589.2 3277.6,590.4 3276.7,591.6 3275.1,592.8 3268.5,596.7 3266.5,597.6 3264.4,598.1 3262.4,598 3260.4,597.4 3258.4,596.4" fill="#f1f1f1" stroke="#000" stroke-width="1.2" stroke-linejoin="round"/>
<polygon points="2889.3,604 2858.3,611.7 2858.3,616.7 2889.3,609" fill="#f1f1f1" stroke="#000" stroke-width="1.2" /><polygon points="2858.3,611.7 2855,605 2855,610 2858.3,616.7" fill="#f1f1f1" stroke="#000" stroke-width="1.2" /><polygon points="2855,605 2886,597.3 2889.3,604 2858.3,611.7" fill="#f1f1f1" stroke="#000" stroke-width="1.2" />
<polygon points="2422.5,576.1 2381.5,595.5 2381.5,611.6 2422.5,592.3" fill="#f1f1f1" stroke="#000" stroke-width="1.2" /><polygon points="2419.5,624.5 2407.6,630.7 2407.6,646.9 2419.5,640.7" fill="#f1f1f1" stroke="#000" stroke-width="1.2" /><polygon points="2407.6,630.7 2357.4,594 2357.4,610.1 2407.6,646.9" fill="#f1f1f1" stroke="#000" stroke-width="1.2" /><polygon points="2357.4,594 2410,569.9 2422.5,576.1 2381.5,595.5 2419.5,624.5 2407.6,630.7" fill="#f1f1f1" stroke="#000" stroke-width="1.2" />
<polygon points="2253.1,556.8 2143.2,646.9 2143.2,664.3 2253.1,574.1" fill="#f1f1f1" stroke="#000" stroke-width="1.2" /><polygon points="2143.2,646.9 2125.8,639.4 2125.8,656.8 2143.2,664.3" fill="#f1f1f1" stroke="#000" stroke-width="1.2" /><polygon points="2125.8,639.4 2235.8,548.8 2253.1,556.8 2143.2,646.9" fill="#f1f1f1" stroke="#000" stroke-width="1.2" />
<polygon points="2846.7,615 2791.7,643.3 2791.7,661.7 2846.7,633.3" fill="#f1f1f1" stroke="#000" stroke-width="1.2" /><polygon points="2791.7,643.3 2709.3,591.7 2709.3,610 2791.7,661.7" fill="#f1f1f1" stroke="#000" stroke-width="1.2" /><polygon points="2709.3,591.7 2766.7,551 2846.7,615 2791.7,643.3" fill="#f1f1f1" stroke="#000" stroke-width="1.2" /><polygon points="2740.5,595.5 2772,573.2 2816,608.4 2785.8,623.9" fill="#f1f1f1" stroke="#000" stroke-width="1.2" /><polygon points="2740.5,595.5 2751.7,602.6 2772,588.2 2772,573.2" fill="#f1f1f1" stroke="#000" stroke-width="1.1" /><polygon points="2772,573.2 2772,588.2 2804.6,614.2 2816,608.4" fill="#f1f1f1" stroke="#000" stroke-width="1.1" />
<polygon points="3229.4,595.9 3227.2,596.7 3221.8,599.5 3220.1,600.6 3219.2,601.7 3219.1,602.9 3219.1,620.3 3219.9,621.5 3221.5,622.8 3228,627 3230.1,628.1 3232.1,628.6 3234.2,628.7 3236.2,628.2 3238.3,627.3 3244.3,623.8 3245.9,622.6 3246.8,621.4 3246.8,604 3246.8,602.9 3245.9,601.7 3244.2,600.5 3237.8,596.9 3235.7,596 3233.6,595.5 3231.5,595.4" fill="#f1f1f1" stroke="#000" stroke-width="1.2" stroke-linejoin="round"/><line x1="3221.5" y1="617.8" x2="3219.9" y2="616.6" stroke="#000" stroke-width="1.2" stroke-linecap="round"/><line x1="3219.9" y1="616.6" x2="3219.1" y2="615.3" stroke="#000" stroke-width="1.2" stroke-linecap="round"/><line x1="3246.8" y1="616.5" x2="3245.9" y2="617.6" stroke="#000" stroke-width="1.2" stroke-linecap="round"/><line x1="3245.9" y1="617.6" x2="3244.3" y2="618.8" stroke="#000" stroke-width="1.2" stroke-linecap="round"/><line x1="3244.3" y1="618.8" x2="3238.3" y2="622.3" stroke="#000" stroke-width="1.2" stroke-linecap="round"/><line x1="3238.3" y1="622.3" x2="3236.2" y2="623.2" stroke="#000" stroke-width="1.2" stroke-linecap="round"/><line x1="3236.2" y1="623.2" x2="3234.2" y2="623.7" stroke="#000" stroke-width="1.2" stroke-linecap="round"/><line x1="3234.2" y1="623.7" x2="3232.1" y2="623.6" stroke="#000" stroke-width="1.2" stroke-linecap="round"/><line x1="3232.1" y1="623.6" x2="3230.1" y2="623.1" stroke="#000" stroke-width="1.2" stroke-linecap="round"/><line x1="3230.1" y1="623.1" x2="3228" y2="622" stroke="#000" stroke-width="1.2" stroke-linecap="round"/><line x1="3228" y1="622" x2="3221.5" y2="617.8" stroke="#000" stroke-width="1.2" stroke-linecap="round"/><polygon points="3221.5,605.4 3219.9,604.2 3219.1,602.9 3219.2,601.7 3220.1,600.6 3221.8,599.5 3227.2,596.7 3229.4,595.9 3231.5,595.4 3233.6,595.5 3235.7,596 3237.8,596.9 3244.2,600.5 3245.9,601.7 3246.8,602.9 3246.8,604 3245.9,605.2 3244.3,606.4 3238.3,609.9 3236.2,610.8 3234.2,611.3 3232.1,611.2 3230.1,610.7 3228,609.6" fill="#f1f1f1" stroke="#000" stroke-width="1.2" stroke-linejoin="round"/>
<polygon points="3050,619.3 3035,627.3 3035,642.3 3050,634.3" fill="#f1f1f1" stroke="#000" stroke-width="1.2" /><polygon points="3035,627.3 2996,595 2996,610 3035,642.3" fill="#f1f1f1" stroke="#000" stroke-width="1.2" /><polygon points="2996,595 3011.7,586.7 3050,619.3 3035,627.3" fill="#f1f1f1" stroke="#000" stroke-width="1.2" />
<polygon points="3353.5,602.2 3274.5,635.2 3274.5,651.6 3353.5,618.6" fill="#f1f1f1" stroke="#000" stroke-width="1.2" /><polygon points="3274.5,635.2 3261.6,624.5 3261.6,640.9 3274.5,651.6" fill="#f1f1f1" stroke="#000" stroke-width="1.2" /><polygon points="3261.6,624.5 3339.8,592.3 3353.5,602.2 3274.5,635.2" fill="#f1f1f1" stroke="#000" stroke-width="1.2" />
<polygon points="3205,626.7 3188.3,635 3188.3,650 3205,641.7" fill="#f1f1f1" stroke="#000" stroke-width="1.2" /><polygon points="3188.3,635 3149.3,605 3149.3,620 3188.3,650" fill="#f1f1f1" stroke="#000" stroke-width="1.2" /><polygon points="3149.3,605 3166.7,596.7 3205,626.7 3188.3,635" fill="#f1f1f1" stroke="#000" stroke-width="1.2" />
<polygon points="2331.4,619.6 2290.9,638.2 2290.9,653.6 2331.4,635" fill="#f1f1f1" stroke="#000" stroke-width="1.2" /><polygon points="2290.9,638.2 2281.7,630.7 2281.7,646.1 2290.9,653.6" fill="#f1f1f1" stroke="#000" stroke-width="1.2" /><polygon points="2281.7,630.7 2322.7,612.1 2331.4,619.6 2290.9,638.2" fill="#f1f1f1" stroke="#000" stroke-width="1.2" />
<polygon points="2302.8,596.5 2160.5,663 2160.5,680.4 2302.8,613.9" fill="#f1f1f1" stroke="#000" stroke-width="1.2" /><polygon points="2160.5,663 2146.9,654.3 2146.9,671.7 2160.5,680.4" fill="#f1f1f1" stroke="#000" stroke-width="1.2" /><polygon points="2146.9,654.3 2288.4,587.3 2302.8,596.5 2160.5,663" fill="#f1f1f1" stroke="#000" stroke-width="1.2" />
<polygon points="2703.3,625 2694,637.3 2694,664 2703.3,651.7" fill="#f1f1f1" stroke="#000" stroke-width="1.2" /><polygon points="2694,637.3 2632.7,610 2632.7,636.7 2694,664" fill="#f1f1f1" stroke="#000" stroke-width="1.2" /><polygon points="2632.7,610 2650,599.3 2703.3,625 2694,637.3" fill="#f1f1f1" stroke="#000" stroke-width="1.2" />
<polygon points="3161.7,641.7 3092.7,671.7 3092.7,688.3 3161.7,658.3" fill="#f1f1f1" stroke="#000" stroke-width="1.2" /><polygon points="3092.7,671.7 3054,641.7 3054,658.3 3092.7,688.3" fill="#f1f1f1" stroke="#000" stroke-width="1.2" /><polygon points="3054,641.7 3123.3,611.7 3161.7,641.7 3092.7,671.7" fill="#f1f1f1" stroke="#000" stroke-width="1.2" /><polygon points="3081,641.7 3115.6,626.7 3134.8,641.7 3100.3,656.7" fill="#f1f1f1" stroke="#000" stroke-width="1.2" /><polygon points="3081,641.7 3092,650.2 3115.6,640 3115.6,626.7" fill="#f1f1f1" stroke="#000" stroke-width="1.1" /><polygon points="3115.6,626.7 3115.6,640 3123.8,646.4 3134.8,641.7" fill="#f1f1f1" stroke="#000" stroke-width="1.1" />
<polygon points="2740,628.3 2730,638.3 2730,670 2740,660" fill="#f1f1f1" stroke="#000" stroke-width="1.2" /><polygon points="2730,638.3 2702.7,625 2702.7,656.7 2730,670" fill="#f1f1f1" stroke="#000" stroke-width="1.2" /><polygon points="2702.7,625 2716.7,616.7 2740,628.3 2730,638.3" fill="#f1f1f1" stroke="#000" stroke-width="1.2" />
<polygon points="2900.7,631.6 2887.8,637.8 2887.8,666.1 2900.7,659.9" fill="#f1f1f1" stroke="#000" stroke-width="1" /><polygon points="2887.8,637.8 2874.9,630.1 2874.9,658.4 2887.8,666.1" fill="#f1f1f1" stroke="#000" stroke-width="1" /><polygon points="2874.9,630.1 2887.8,623.9 2900.7,631.6 2887.8,637.8" fill="#f1f1f1" stroke="#000" stroke-width="1" />
<polyline points="2874.9,639.5 2887.8,647.2 2900.7,641" fill="none" stroke="#000" stroke-width="0.9"/>
<polyline points="2874.9,648.9 2887.8,656.6 2900.7,650.4" fill="none" stroke="#000" stroke-width="0.9"/>
<polygon points="2986.7,637.3 2953.3,611.7 2953.3,626.7 2986.7,652.3" fill="#f1f1f1" stroke="#000" stroke-width="1.2" /><polygon points="3010.7,653.3 2943.3,683.3 2943.3,698.3 3010.7,668.3" fill="#f1f1f1" stroke="#000" stroke-width="1.2" /><polygon points="2943.3,683.3 2931.7,670 2931.7,685 2943.3,698.3" fill="#f1f1f1" stroke="#000" stroke-width="1.2" /><polygon points="2953.3,611.7 2970,604 3010.7,640 3010.7,653.3 2943.3,683.3 2931.7,670 2931.7,660 2986.7,637.3" fill="#f1f1f1" stroke="#000" stroke-width="1.2" />
<polygon points="2370.3,654.3 2349.2,664.3 2349.2,674.2 2370.3,664.3" fill="#f1f1f1" stroke="#000" stroke-width="1.2" /><polygon points="2349.2,664.3 2326.4,648.1 2326.4,658.1 2349.2,674.2" fill="#f1f1f1" stroke="#000" stroke-width="1.2" /><polygon points="2326.4,648.1 2346.7,638.2 2370.3,654.3 2349.2,664.3" fill="#f1f1f1" stroke="#000" stroke-width="1.2" />
<polygon points="3275.3,634.5 3203.8,663.8 3203.8,681.6 3275.3,652.3" fill="#f1f1f1" stroke="#000" stroke-width="1.2" /><polygon points="3203.8,663.8 3190.9,653.1 3190.9,671 3203.8,681.6" fill="#f1f1f1" stroke="#000" stroke-width="1.2" /><polygon points="3190.9,653.1 3261.6,624.5 3275.3,634.5 3203.8,663.8" fill="#f1f1f1" stroke="#000" stroke-width="1.2" />
<polygon points="2887.8,637.8 2874.9,644 2874.9,672.3 2887.8,666.1" fill="#f1f1f1" stroke="#000" stroke-width="1" /><polygon points="2874.9,644 2862,636.3 2862,664.6 2874.9,672.3" fill="#f1f1f1" stroke="#000" stroke-width="1" /><polygon points="2862,636.3 2874.9,630.1 2887.8,637.8 2874.9,644" fill="#f1f1f1" stroke="#000" stroke-width="1" />
<polyline points="2862,645.7 2874.9,653.4 2887.8,647.2" fill="none" stroke="#000" stroke-width="0.9"/>
<polyline points="2862,655.1 2874.9,662.8 2887.8,656.6" fill="none" stroke="#000" stroke-width="0.9"/>
<polygon points="2470.4,659.3 2457.2,665.5 2457.2,681.6 2470.4,675.4" fill="#f1f1f1" stroke="#000" stroke-width="1.2" /><polygon points="2457.2,665.5 2429.9,645.6 2429.9,661.8 2457.2,681.6" fill="#f1f1f1" stroke="#000" stroke-width="1.2" /><polygon points="2429.9,645.6 2443.6,639.4 2470.4,659.3 2457.2,665.5" fill="#f1f1f1" stroke="#000" stroke-width="1.2" />
<polygon points="2333.1,663 2317,669.2 2317,676.2 2333.1,670" fill="#f1f1f1" stroke="#000" stroke-width="1.2" /><polygon points="2317,669.2 2311.2,664.3 2311.2,671.2 2317,676.2" fill="#f1f1f1" stroke="#000" stroke-width="1.2" /><polygon points="2311.2,664.3 2326.9,658.1 2333.1,663 2317,669.2" fill="#f1f1f1" stroke="#000" stroke-width="1.2" />
<polygon points="2309.5,665.5 2292.1,674.2 2292.1,689.6 2309.5,680.9" fill="#f1f1f1" stroke="#000" stroke-width="1.2" /><polygon points="2292.1,674.2 2252.4,645.6 2252.4,661 2292.1,689.6" fill="#f1f1f1" stroke="#000" stroke-width="1.2" /><polygon points="2252.4,645.6 2269.8,637 2309.5,665.5 2292.1,674.2" fill="#f1f1f1" stroke="#000" stroke-width="1.2" />
<polygon points="2874.9,644 2862,650.2 2862,678.5 2874.9,672.3" fill="#f1f1f1" stroke="#000" stroke-width="1" /><polygon points="2862,650.2 2849.1,642.5 2849.1,670.8 2862,678.5" fill="#f1f1f1" stroke="#000" stroke-width="1" /><polygon points="2849.1,642.5 2862,636.3 2874.9,644 2862,650.2" fill="#f1f1f1" stroke="#000" stroke-width="1" />
<polyline points="2849.1,651.9 2862,659.6 2874.9,653.4" fill="none" stroke="#000" stroke-width="0.9"/>
<polyline points="2849.1,661.4 2862,669 2874.9,662.8" fill="none" stroke="#000" stroke-width="0.9"/>
<polygon points="2900.7,645.5 2887.8,651.7 2887.8,680 2900.7,673.8" fill="#f1f1f1" stroke="#000" stroke-width="1" /><polygon points="2887.8,651.7 2874.9,644 2874.9,672.3 2887.8,680" fill="#f1f1f1" stroke="#000" stroke-width="1" /><polygon points="2874.9,644 2887.8,637.8 2900.7,645.5 2887.8,651.7" fill="#f1f1f1" stroke="#000" stroke-width="1" />
<polyline points="2874.9,653.4 2887.8,661.1 2900.7,654.9" fill="none" stroke="#000" stroke-width="0.9"/>
<polyline points="2874.9,662.8 2887.8,670.5 2900.7,664.3" fill="none" stroke="#000" stroke-width="0.9"/>
<polygon points="2639,681 2624.1,688.4 2624.1,699.6 2639,692.1" fill="#f1f1f1" stroke="#000" stroke-width="1.2" /><polygon points="2624.1,688.4 2532.3,651.9 2532.3,663.1 2624.1,699.6" fill="#f1f1f1" stroke="#000" stroke-width="1.2" /><polygon points="2532.3,651.9 2546.7,644.5 2639,681 2624.1,688.4" fill="#f1f1f1" stroke="#000" stroke-width="1.2" />
<polygon points="2862,659.6 2849.1,665.8 2849.1,684.7 2862,678.5" fill="#f1f1f1" stroke="#000" stroke-width="1" /><polygon points="2849.1,665.8 2836.1,658.1 2836.1,677 2849.1,684.7" fill="#f1f1f1" stroke="#000" stroke-width="1" /><polygon points="2836.1,658.1 2849.1,651.9 2862,659.6 2849.1,665.8" fill="#f1f1f1" stroke="#000" stroke-width="1" />
<polyline points="2836.1,667.6 2849.1,675.3 2862,669" fill="none" stroke="#000" stroke-width="0.9"/>
<polygon points="2887.8,651.7 2874.9,657.9 2874.9,686.2 2887.8,680" fill="#f1f1f1" stroke="#000" stroke-width="1" /><polygon points="2874.9,657.9 2862,650.2 2862,678.5 2874.9,686.2" fill="#f1f1f1" stroke="#000" stroke-width="1" /><polygon points="2862,650.2 2874.9,644 2887.8,651.7 2874.9,657.9" fill="#f1f1f1" stroke="#000" stroke-width="1" />
<polyline points="2862,659.6 2874.9,667.3 2887.8,661.1" fill="none" stroke="#000" stroke-width="0.9"/>
<polyline points="2862,669 2874.9,676.7 2887.8,670.5" fill="none" stroke="#000" stroke-width="0.9"/>
<polygon points="2387.2,670.5 2364.9,680.4 2364.9,687.8 2387.2,677.9" fill="#f1f1f1" stroke="#000" stroke-width="1.2" /><polygon points="2364.9,680.4 2357.9,675.4 2357.9,682.9 2364.9,687.8" fill="#f1f1f1" stroke="#000" stroke-width="1.2" /><polygon points="2357.9,675.4 2380.3,665.5 2387.2,670.5 2364.9,680.4" fill="#f1f1f1" stroke="#000" stroke-width="1.2" />
<polygon points="2913.6,653.2 2900.7,659.4 2900.7,687.7 2913.6,681.5" fill="#f1f1f1" stroke="#000" stroke-width="1" /><polygon points="2900.7,659.4 2887.8,651.7 2887.8,680 2900.7,687.7" fill="#f1f1f1" stroke="#000" stroke-width="1" /><polygon points="2887.8,651.7 2900.7,645.5 2913.6,653.2 2900.7,659.4" fill="#f1f1f1" stroke="#000" stroke-width="1" />
<polyline points="2887.8,661.1 2900.7,668.8 2913.6,662.6" fill="none" stroke="#000" stroke-width="0.9"/>
<polyline points="2887.8,670.5 2900.7,678.2 2913.6,672" fill="none" stroke="#000" stroke-width="0.9"/>
<polygon points="2849.1,665.8 2836.1,672 2836.1,690.9 2849.1,684.7" fill="#f1f1f1" stroke="#000" stroke-width="1" /><polygon points="2836.1,672 2823.2,664.3 2823.2,683.2 2836.1,690.9" fill="#f1f1f1" stroke="#000" stroke-width="1" /><polygon points="2823.2,664.3 2836.1,658.1 2849.1,665.8 2836.1,672" fill="#f1f1f1" stroke="#000" stroke-width="1" />
<polyline points="2823.2,673.8 2836.1,681.5 2849.1,675.3" fill="none" stroke="#000" stroke-width="0.9"/>
<polygon points="2874.9,657.9 2862,664.1 2862,692.4 2874.9,686.2" fill="#f1f1f1" stroke="#000" stroke-width="1" /><polygon points="2862,664.1 2849.1,656.4 2849.1,684.7 2862,692.4" fill="#f1f1f1" stroke="#000" stroke-width="1" /><polygon points="2849.1,656.4 2862,650.2 2874.9,657.9 2862,664.1" fill="#f1f1f1" stroke="#000" stroke-width="1" />
<polyline points="2849.1,665.8 2862,673.5 2874.9,667.3" fill="none" stroke="#000" stroke-width="0.9"/>
<polyline points="2849.1,675.3 2862,682.9 2874.9,676.7" fill="none" stroke="#000" stroke-width="0.9"/>
<polygon points="2900.7,659.4 2887.8,665.6 2887.8,693.9 2900.7,687.7" fill="#f1f1f1" stroke="#000" stroke-width="1" /><polygon points="2887.8,665.6 2874.9,657.9 2874.9,686.2 2887.8,693.9" fill="#f1f1f1" stroke="#000" stroke-width="1" /><polygon points="2874.9,657.9 2887.8,651.7 2900.7,659.4 2887.8,665.6" fill="#f1f1f1" stroke="#000" stroke-width="1" />
<polyline points="2874.9,667.3 2887.8,675 2900.7,668.8" fill="none" stroke="#000" stroke-width="0.9"/>
<polyline points="2874.9,676.7 2887.8,684.4 2900.7,678.2" fill="none" stroke="#000" stroke-width="0.9"/>
<polygon points="2836.1,672 2823.2,678.2 2823.2,697.1 2836.1,690.9" fill="#f1f1f1" stroke="#000" stroke-width="1" /><polygon points="2823.2,678.2 2810.3,670.5 2810.3,689.4 2823.2,697.1" fill="#f1f1f1" stroke="#000" stroke-width="1" /><polygon points="2810.3,670.5 2823.2,664.3 2836.1,672 2823.2,678.2" fill="#f1f1f1" stroke="#000" stroke-width="1" />
<polyline points="2810.3,680 2823.2,687.7 2836.1,681.5" fill="none" stroke="#000" stroke-width="0.9"/>
<polygon points="2862,664.1 2849.1,670.3 2849.1,698.6 2862,692.4" fill="#f1f1f1" stroke="#000" stroke-width="1" /><polygon points="2849.1,670.3 2836.1,662.6 2836.1,690.9 2849.1,698.6" fill="#f1f1f1" stroke="#000" stroke-width="1" /><polygon points="2836.1,662.6 2849.1,656.4 2862,664.1 2849.1,670.3" fill="#f1f1f1" stroke="#000" stroke-width="1" />
<polyline points="2836.1,672 2849.1,679.7 2862,673.5" fill="none" stroke="#000" stroke-width="0.9"/>
<polyline points="2836.1,681.5 2849.1,689.2 2862,682.9" fill="none" stroke="#000" stroke-width="0.9"/>
<polygon points="2887.8,675 2874.9,681.2 2874.9,700.1 2887.8,693.9" fill="#f1f1f1" stroke="#000" stroke-width="1" /><polygon points="2874.9,681.2 2862,673.5 2862,692.4 2874.9,700.1" fill="#f1f1f1" stroke="#000" stroke-width="1" /><polygon points="2862,673.5 2874.9,667.3 2887.8,675 2874.9,681.2" fill="#f1f1f1" stroke="#000" stroke-width="1" />
<polyline points="2862,682.9 2874.9,690.6 2887.8,684.4" fill="none" stroke="#000" stroke-width="0.9"/>
<polygon points="2913.6,667.1 2900.7,673.3 2900.7,701.6 2913.6,695.4" fill="#f1f1f1" stroke="#000" stroke-width="1" /><polygon points="2900.7,673.3 2887.8,665.6 2887.8,693.9 2900.7,701.6" fill="#f1f1f1" stroke="#000" stroke-width="1" /><polygon points="2887.8,665.6 2900.7,659.4 2913.6,667.1 2900.7,673.3" fill="#f1f1f1" stroke="#000" stroke-width="1" />
<polyline points="2887.8,675 2900.7,682.7 2913.6,676.5" fill="none" stroke="#000" stroke-width="0.9"/>
<polyline points="2887.8,684.4 2900.7,692.1 2913.6,685.9" fill="none" stroke="#000" stroke-width="0.9"/>
<polygon points="2549.1,689.1 2510.6,713.9 2510.6,721.4 2549.1,696.5" fill="#f1f1f1" stroke="#000" stroke-width="1.2" /><polygon points="2510.6,713.9 2472.1,685.4 2472.1,692.8 2510.6,721.4" fill="#f1f1f1" stroke="#000" stroke-width="1.2" /><polygon points="2472.1,685.4 2510.6,660.5 2549.1,689.1 2510.6,713.9" fill="#f1f1f1" stroke="#000" stroke-width="1.2" /><polygon points="2497.1,686.6 2510.6,677.9 2524.1,687.9 2510.6,696.6" fill="#f1f1f1" stroke="#000" stroke-width="1.2" /><polygon points="2497.1,686.6 2501.6,689.9 2510.6,684.1 2510.6,677.9" fill="#f1f1f1" stroke="#000" stroke-width="1.1" /><polygon points="2510.6,677.9 2510.6,684.1 2519.6,690.8 2524.1,687.9" fill="#f1f1f1" stroke="#000" stroke-width="1.1" />
<polygon points="2421.2,690.3 2399.6,701.5 2399.6,710.2 2421.2,699" fill="#f1f1f1" stroke="#000" stroke-width="1.2" /><polygon points="2399.6,701.5 2373.3,684.1 2373.3,692.8 2399.6,710.2" fill="#f1f1f1" stroke="#000" stroke-width="1.2" /><polygon points="2373.3,684.1 2395.2,672.5 2421.2,690.3 2399.6,701.5" fill="#f1f1f1" stroke="#000" stroke-width="1.2" />
<polygon points="2670.1,664.8 2650.2,674.8 2650.2,707 2670.1,697.1" fill="#f1f1f1" stroke="#000" stroke-width="1.2" /><polygon points="2650.2,674.8 2624.1,662.3 2624.1,694.6 2650.2,707" fill="#f1f1f1" stroke="#000" stroke-width="1.2" /><polygon points="2624.1,662.3 2644,652.9 2670.1,664.8 2650.2,674.8" fill="#f1f1f1" stroke="#000" stroke-width="1.2" />
<polygon points="3204.5,663 3111.9,702.2 3111.9,722.1 3204.5,682.9" fill="#f1f1f1" stroke="#000" stroke-width="1.2" /><polygon points="3111.9,702.2 3099,691.6 3099,711.4 3111.9,722.1" fill="#f1f1f1" stroke="#000" stroke-width="1.2" /><polygon points="3099,691.6 3190.9,653.1 3204.5,663 3111.9,702.2" fill="#f1f1f1" stroke="#000" stroke-width="1.2" />
<polygon points="2849.1,670.3 2836.1,676.5 2836.1,704.8 2849.1,698.6" fill="#f1f1f1" stroke="#000" stroke-width="1" /><polygon points="2836.1,676.5 2823.2,668.8 2823.2,697.1 2836.1,704.8" fill="#f1f1f1" stroke="#000" stroke-width="1" /><polygon points="2823.2,668.8 2836.1,662.6 2849.1,670.3 2836.1,676.5" fill="#f1f1f1" stroke="#000" stroke-width="1" />
<polyline points="2823.2,678.2 2836.1,685.9 2849.1,679.7" fill="none" stroke="#000" stroke-width="0.9"/>
<polyline points="2823.2,687.7 2836.1,695.4 2849.1,689.2" fill="none" stroke="#000" stroke-width="0.9"/>
<polygon points="2874.9,671.8 2862,678 2862,706.3 2874.9,700.1" fill="#f1f1f1" stroke="#000" stroke-width="1" /><polygon points="2862,678 2849.1,670.3 2849.1,698.6 2862,706.3" fill="#f1f1f1" stroke="#000" stroke-width="1" /><polygon points="2849.1,670.3 2862,664.1 2874.9,671.8 2862,678" fill="#f1f1f1" stroke="#000" stroke-width="1" />
<polyline points="2849.1,679.7 2862,687.4 2874.9,681.2" fill="none" stroke="#000" stroke-width="0.9"/>
<polyline points="2849.1,689.2 2862,696.9 2874.9,690.6" fill="none" stroke="#000" stroke-width="0.9"/>
<polygon points="2900.7,673.3 2887.8,679.5 2887.8,707.8 2900.7,701.6" fill="#f1f1f1" stroke="#000" stroke-width="1" /><polygon points="2887.8,679.5 2874.9,671.8 2874.9,700.1 2887.8,707.8" fill="#f1f1f1" stroke="#000" stroke-width="1" /><polygon points="2874.9,671.8 2887.8,665.6 2900.7,673.3 2887.8,679.5" fill="#f1f1f1" stroke="#000" stroke-width="1" />
<polyline points="2874.9,681.2 2887.8,688.9 2900.7,682.7" fill="none" stroke="#000" stroke-width="0.9"/>
<polyline points="2874.9,690.6 2887.8,698.3 2900.7,692.1" fill="none" stroke="#000" stroke-width="0.9"/>
<polygon points="2270.5,687.8 2221.4,707.7 2221.4,723.8 2270.5,704" fill="#f1f1f1" stroke="#000" stroke-width="1.2" /><line x1="2270.5" y1="693.3" x2="2221.4" y2="713.2" stroke="#000" stroke-width="1.2"/><polygon points="2221.4,707.7 2180.9,687.8 2180.9,704 2221.4,723.8" fill="#f1f1f1" stroke="#000" stroke-width="1.2" /><line x1="2221.4" y1="713.2" x2="2180.9" y2="693.3" stroke="#000" stroke-width="1.2"/><polygon points="2180.9,687.8 2227.6,657.6 2270.5,687.8 2221.4,707.7" fill="#f1f1f1" stroke="#000" stroke-width="1.2" /><polygon points="2203,682.8 2226.3,667.7 2247.8,682.8 2223.2,692.7" fill="#f1f1f1" stroke="#000" stroke-width="1.2" /><polygon points="2203,682.8 2212.8,687.6 2226.3,678.8 2226.3,667.7" fill="#f1f1f1" stroke="#000" stroke-width="1.1" /><polygon points="2226.3,667.7 2226.3,678.8 2237.7,686.9 2247.8,682.8" fill="#f1f1f1" stroke="#000" stroke-width="1.1" />
<polygon points="3066,686.7 3000,716.7 3000,731.7 3066,701.7" fill="#f1f1f1" stroke="#000" stroke-width="1.2" /><polygon points="3000,716.7 2958.3,686.7 2958.3,701.7 3000,731.7" fill="#f1f1f1" stroke="#000" stroke-width="1.2" /><polygon points="2958.3,686.7 3025,656.7 3066,686.7 3000,716.7" fill="#f1f1f1" stroke="#000" stroke-width="1.2" /><polygon points="2985.3,686.7 3018.7,671.7 3039.2,686.7 3006.2,701.7" fill="#f1f1f1" stroke="#000" stroke-width="1.2" /><polygon points="2985.3,686.7 2996.2,694.5 3018.7,684.3 3018.7,671.7" fill="#f1f1f1" stroke="#000" stroke-width="1.1" /><polygon points="3018.7,671.7 3018.7,684.3 3028.5,691.5 3039.2,686.7" fill="#f1f1f1" stroke="#000" stroke-width="1.1" />
<polygon points="2926.5,674.8 2913.6,681 2913.6,709.3 2926.5,703.1" fill="#f1f1f1" stroke="#000" stroke-width="1" /><polygon points="2913.6,681 2900.7,673.3 2900.7,701.6 2913.6,709.3" fill="#f1f1f1" stroke="#000" stroke-width="1" /><polygon points="2900.7,673.3 2913.6,667.1 2926.5,674.8 2913.6,681" fill="#f1f1f1" stroke="#000" stroke-width="1" />
<polyline points="2900.7,682.7 2913.6,690.4 2926.5,684.2" fill="none" stroke="#000" stroke-width="0.9"/>
<polyline points="2900.7,692.1 2913.6,699.8 2926.5,693.6" fill="none" stroke="#000" stroke-width="0.9"/>
<polygon points="2342.3,697.8 2325.6,705.7 2325.6,713.7 2342.3,705.7" fill="#f1f1f1" stroke="#000" stroke-width="1.2" /><polygon points="2325.6,705.7 2306.5,691.6 2306.5,699.5 2325.6,713.7" fill="#f1f1f1" stroke="#000" stroke-width="1.2" /><polygon points="2306.5,691.6 2323.2,684.1 2342.3,697.8 2325.6,705.7" fill="#f1f1f1" stroke="#000" stroke-width="1.2" />
<polygon points="2836.1,685.9 2823.2,692.1 2823.2,711 2836.1,704.8" fill="#f1f1f1" stroke="#000" stroke-width="1" /><polygon points="2823.2,692.1 2810.3,684.4 2810.3,703.3 2823.2,711" fill="#f1f1f1" stroke="#000" stroke-width="1" /><polygon points="2810.3,684.4 2823.2,678.2 2836.1,685.9 2823.2,692.1" fill="#f1f1f1" stroke="#000" stroke-width="1" />
<polyline points="2810.3,693.9 2823.2,701.6 2836.1,695.4" fill="none" stroke="#000" stroke-width="0.9"/>
<polygon points="2862,696.9 2849.1,703.1 2849.1,712.5 2862,706.3" fill="#f1f1f1" stroke="#000" stroke-width="1" /><polygon points="2849.1,703.1 2836.1,695.4 2836.1,704.8 2849.1,712.5" fill="#f1f1f1" stroke="#000" stroke-width="1" /><polygon points="2836.1,695.4 2849.1,689.2 2862,696.9 2849.1,703.1" fill="#f1f1f1" stroke="#000" stroke-width="1" />
<polygon points="2887.8,688.9 2874.9,695.1 2874.9,714 2887.8,707.8" fill="#f1f1f1" stroke="#000" stroke-width="1" /><polygon points="2874.9,695.1 2862,687.4 2862,706.3 2874.9,714" fill="#f1f1f1" stroke="#000" stroke-width="1" /><polygon points="2862,687.4 2874.9,681.2 2887.8,688.9 2874.9,695.1" fill="#f1f1f1" stroke="#000" stroke-width="1" />
<polyline points="2862,696.9 2874.9,704.5 2887.8,698.3" fill="none" stroke="#000" stroke-width="0.9"/>
<polygon points="2913.6,690.4 2900.7,696.6 2900.7,715.5 2913.6,709.3" fill="#f1f1f1" stroke="#000" stroke-width="1" /><polygon points="2900.7,696.6 2887.8,688.9 2887.8,707.8 2900.7,715.5" fill="#f1f1f1" stroke="#000" stroke-width="1" /><polygon points="2887.8,688.9 2900.7,682.7 2913.6,690.4 2900.7,696.6" fill="#f1f1f1" stroke="#000" stroke-width="1" />
<polyline points="2887.8,698.3 2900.7,706 2913.6,699.8" fill="none" stroke="#000" stroke-width="0.9"/>
<polygon points="2849.1,703.1 2836.1,709.3 2836.1,718.7 2849.1,712.5" fill="#f1f1f1" stroke="#000" stroke-width="1" /><polygon points="2836.1,709.3 2823.2,701.6 2823.2,711 2836.1,718.7" fill="#f1f1f1" stroke="#000" stroke-width="1" /><polygon points="2823.2,701.6 2836.1,695.4 2849.1,703.1 2836.1,709.3" fill="#f1f1f1" stroke="#000" stroke-width="1" />
<polygon points="2900.7,706 2887.8,712.2 2887.8,721.7 2900.7,715.5" fill="#f1f1f1" stroke="#000" stroke-width="1" /><polygon points="2887.8,712.2 2874.9,704.5 2874.9,714 2887.8,721.7" fill="#f1f1f1" stroke="#000" stroke-width="1" /><polygon points="2874.9,704.5 2887.8,698.3 2900.7,706 2887.8,712.2" fill="#f1f1f1" stroke="#000" stroke-width="1" />
<polygon points="2312.7,712.7 2298.8,719.6 2298.8,727.1 2312.7,720.1" fill="#f1f1f1" stroke="#000" stroke-width="1.2" /><polygon points="2298.8,719.6 2279.2,704.7 2279.2,712.2 2298.8,727.1" fill="#f1f1f1" stroke="#000" stroke-width="1.2" /><polygon points="2279.2,704.7 2292.9,697.8 2312.7,712.7 2298.8,719.6" fill="#f1f1f1" stroke="#000" stroke-width="1.2" />
<polygon points="2926.5,698.1 2913.6,704.3 2913.6,723.2 2926.5,717" fill="#f1f1f1" stroke="#000" stroke-width="1" /><polygon points="2913.6,704.3 2900.7,696.6 2900.7,715.5 2913.6,723.2" fill="#f1f1f1" stroke="#000" stroke-width="1" /><polygon points="2900.7,696.6 2913.6,690.4 2926.5,698.1 2913.6,704.3" fill="#f1f1f1" stroke="#000" stroke-width="1" />
<polyline points="2900.7,706 2913.6,713.7 2926.5,707.5" fill="none" stroke="#000" stroke-width="0.9"/>
<polygon points="2952.3,709 2939.4,715.2 2939.4,724.7 2952.3,718.5" fill="#f1f1f1" stroke="#000" stroke-width="1" /><polygon points="2939.4,715.2 2926.5,707.5 2926.5,717 2939.4,724.7" fill="#f1f1f1" stroke="#000" stroke-width="1" /><polygon points="2926.5,707.5 2939.4,701.3 2952.3,709 2939.4,715.2" fill="#f1f1f1" stroke="#000" stroke-width="1" />
<polygon points="2650.2,705 2604.3,724.9 2604.3,739.8 2650.2,719.9" fill="#f1f1f1" stroke="#000" stroke-width="1.2" /><polygon points="2604.3,724.9 2567,698.3 2567,713.2 2604.3,739.8" fill="#f1f1f1" stroke="#000" stroke-width="1.2" /><polygon points="2567,698.3 2581.9,690.9 2611.7,705 2634.1,694.6 2650.2,702.1 2650.2,705 2604.3,724.9" fill="#f1f1f1" stroke="#000" stroke-width="1.2" />
<polygon points="2836.1,699.8 2823.2,706 2823.2,724.9 2836.1,718.7" fill="#f1f1f1" stroke="#000" stroke-width="1" /><polygon points="2823.2,706 2810.3,698.3 2810.3,717.2 2823.2,724.9" fill="#f1f1f1" stroke="#000" stroke-width="1" /><polygon points="2810.3,698.3 2823.2,692.1 2836.1,699.8 2823.2,706" fill="#f1f1f1" stroke="#000" stroke-width="1" />
<polyline points="2810.3,707.8 2823.2,715.5 2836.1,709.3" fill="none" stroke="#000" stroke-width="0.9"/>
<polygon points="2750.4,661.5 2775.4,646.5 2775.4,693.1 2750.4,708.7" fill="#f1f1f1" stroke="#000" stroke-width="1.4" />
<polyline points="2750.4,666.5 2775.4,652.6" fill="none" stroke="#000" stroke-width="1"/>
<polyline points="2750.4,671.2 2775.4,657.3" fill="none" stroke="#000" stroke-width="1"/>
<polyline points="2750.4,675.8 2775.4,662" fill="none" stroke="#000" stroke-width="1"/>
<polyline points="2750.4,680.5 2775.4,666.6" fill="none" stroke="#000" stroke-width="1"/>
<polyline points="2750.4,685.1 2775.4,671.3" fill="none" stroke="#000" stroke-width="1"/>
<polyline points="2750.4,689.8 2775.4,675.9" fill="none" stroke="#000" stroke-width="1"/>
<polyline points="2750.4,694.5 2775.4,680.6" fill="none" stroke="#000" stroke-width="1"/>
<polyline points="2750.4,699.1 2775.4,685.3" fill="none" stroke="#000" stroke-width="1"/>
<polyline points="2750.4,703.8 2775.4,689.9" fill="none" stroke="#000" stroke-width="1"/>
<polyline points="2750.4,708.4 2775.4,694.6" fill="none" stroke="#000" stroke-width="1"/>
<polygon points="2725.4,645.4 2792.6,595.3 2802.5,602.7 2805.3,614.4 2807.5,624.4 2817,716.4 2800.3,723.6 2775.4,703.7 2775.4,646.5 2750.4,661.5 2750.4,727.5 2733.8,734.2 2707.7,730.8 2717.7,658.7 2718.8,651.5" fill="#ff0000" stroke="#000" stroke-width="1.4" />
<polyline points="2725.4,645.4 2733.8,652.1 2802.5,602.7" fill="none" stroke="#000" stroke-width="1.3"/>
<polyline points="2733.8,652.1 2733.8,734.2" fill="none" stroke="#000" stroke-width="1.3"/>
<polyline points="2750.4,661.5 2792.6,634.3 2800.3,723.6" fill="none" stroke="#000" stroke-width="1.3"/>
<polyline points="2792.6,634.3 2807.5,624.4" fill="none" stroke="#000" stroke-width="1.3"/>
<polyline points="2775.4,647.6 2786.5,642.1" fill="none" stroke="#000" stroke-width="1"/>
<polyline points="2775.4,652.8 2786.5,647.2" fill="none" stroke="#000" stroke-width="1"/>
<polyline points="2775.4,657.9 2786.5,652.3" fill="none" stroke="#000" stroke-width="1"/>
<polyline points="2775.4,663 2786.5,657.4" fill="none" stroke="#000" stroke-width="1"/>
<polyline points="2775.4,668.1 2786.5,662.5" fill="none" stroke="#000" stroke-width="1"/>
<polyline points="2775.4,673.2 2786.5,667.6" fill="none" stroke="#000" stroke-width="1"/>
<polyline points="2775.4,678.3 2786.5,672.7" fill="none" stroke="#000" stroke-width="1"/>
<polyline points="2775.4,683.4 2786.5,677.8" fill="none" stroke="#000" stroke-width="1"/>
<polyline points="2775.4,688.5 2786.5,682.9" fill="none" stroke="#000" stroke-width="1"/>
<polyline points="2775.4,693.6 2786.5,688" fill="none" stroke="#000" stroke-width="1"/>
<polyline points="2779.2,627.7 2785.3,623.2 2786.5,632.1 2779.8,636.6 2779.2,627.7" fill="none" stroke="#000" stroke-width="1"/>
<polygon points="2978.2,691.6 2965.2,697.8 2965.2,726.1 2978.2,719.9" fill="#f1f1f1" stroke="#000" stroke-width="1" /><polygon points="2965.2,697.8 2952.3,690.1 2952.3,718.5 2965.2,726.1" fill="#f1f1f1" stroke="#000" stroke-width="1" /><polygon points="2952.3,690.1 2965.2,683.9 2978.2,691.6 2965.2,697.8" fill="#f1f1f1" stroke="#000" stroke-width="1" />
<polyline points="2952.3,699.6 2965.2,707.3 2978.2,701.1" fill="none" stroke="#000" stroke-width="0.9"/>
<polyline points="2952.3,709 2965.2,716.7 2978.2,710.5" fill="none" stroke="#000" stroke-width="0.9"/>
<polygon points="2862,710.8 2849.1,717 2849.1,726.4 2862,720.2" fill="#f1f1f1" stroke="#000" stroke-width="1" /><polygon points="2849.1,717 2836.1,709.3 2836.1,718.7 2849.1,726.4" fill="#f1f1f1" stroke="#000" stroke-width="1" /><polygon points="2836.1,709.3 2849.1,703.1 2862,710.8 2849.1,717" fill="#f1f1f1" stroke="#000" stroke-width="1" />
<polygon points="2384.7,701.5 2351.7,716.4 2351.7,731.8 2384.7,716.9" fill="#f1f1f1" stroke="#000" stroke-width="1.2" /><polygon points="2351.7,716.4 2342.3,708.9 2342.3,724.3 2351.7,731.8" fill="#f1f1f1" stroke="#000" stroke-width="1.2" /><polygon points="2342.3,708.9 2375.3,694.1 2384.7,701.5 2351.7,716.4" fill="#f1f1f1" stroke="#000" stroke-width="1.2" />
<polygon points="2887.8,712.2 2874.9,718.5 2874.9,727.9 2887.8,721.7" fill="#f1f1f1" stroke="#000" stroke-width="1" /><polygon points="2874.9,718.5 2862,710.8 2862,720.2 2874.9,727.9" fill="#f1f1f1" stroke="#000" stroke-width="1" /><polygon points="2862,710.8 2874.9,704.5 2887.8,712.2 2874.9,718.5" fill="#f1f1f1" stroke="#000" stroke-width="1" />
<polygon points="2913.6,704.3 2900.7,710.5 2900.7,729.4 2913.6,723.2" fill="#f1f1f1" stroke="#000" stroke-width="1" /><polygon points="2900.7,710.5 2887.8,702.8 2887.8,721.7 2900.7,729.4" fill="#f1f1f1" stroke="#000" stroke-width="1" /><polygon points="2887.8,702.8 2900.7,696.6 2913.6,704.3 2900.7,710.5" fill="#f1f1f1" stroke="#000" stroke-width="1" />
<polyline points="2887.8,712.2 2900.7,719.9 2913.6,713.7" fill="none" stroke="#000" stroke-width="0.9"/>
<polygon points="2939.4,715.2 2926.5,721.4 2926.5,730.9 2939.4,724.7" fill="#f1f1f1" stroke="#000" stroke-width="1" /><polygon points="2926.5,721.4 2913.6,713.7 2913.6,723.2 2926.5,730.9" fill="#f1f1f1" stroke="#000" stroke-width="1" /><polygon points="2913.6,713.7 2926.5,707.5 2939.4,715.2 2926.5,721.4" fill="#f1f1f1" stroke="#000" stroke-width="1" />
<polygon points="2965.2,707.3 2952.3,713.5 2952.3,732.4 2965.2,726.1" fill="#f1f1f1" stroke="#000" stroke-width="1" /><polygon points="2952.3,713.5 2939.4,705.8 2939.4,724.7 2952.3,732.4" fill="#f1f1f1" stroke="#000" stroke-width="1" /><polygon points="2939.4,705.8 2952.3,699.6 2965.2,707.3 2952.3,713.5" fill="#f1f1f1" stroke="#000" stroke-width="1" />
<polyline points="2939.4,715.2 2952.3,722.9 2965.2,716.7" fill="none" stroke="#000" stroke-width="0.9"/>
<polygon points="2874.9,709 2862,715.2 2862,734.1 2874.9,727.9" fill="#f1f1f1" stroke="#000" stroke-width="1" /><polygon points="2862,715.2 2849.1,707.5 2849.1,726.4 2862,734.1" fill="#f1f1f1" stroke="#000" stroke-width="1" /><polygon points="2849.1,707.5 2862,701.3 2874.9,709 2862,715.2" fill="#f1f1f1" stroke="#000" stroke-width="1" />
<polyline points="2849.1,717 2862,724.7 2874.9,718.5" fill="none" stroke="#000" stroke-width="0.9"/>
<polygon points="2900.7,701.1 2887.8,707.3 2887.8,735.6 2900.7,729.4" fill="#f1f1f1" stroke="#000" stroke-width="1" /><polygon points="2887.8,707.3 2874.9,699.6 2874.9,727.9 2887.8,735.6" fill="#f1f1f1" stroke="#000" stroke-width="1" /><polygon points="2874.9,699.6 2887.8,693.4 2900.7,701.1 2887.8,707.3" fill="#f1f1f1" stroke="#000" stroke-width="1" />
<polyline points="2874.9,709 2887.8,716.7 2900.7,710.5" fill="none" stroke="#000" stroke-width="0.9"/>
<polyline points="2874.9,718.5 2887.8,726.1 2900.7,719.9" fill="none" stroke="#000" stroke-width="0.9"/>
<polygon points="2926.5,702.6 2913.6,708.8 2913.6,737.1 2926.5,730.9" fill="#f1f1f1" stroke="#000" stroke-width="1" /><polygon points="2913.6,708.8 2900.7,701.1 2900.7,729.4 2913.6,737.1" fill="#f1f1f1" stroke="#000" stroke-width="1" /><polygon points="2900.7,701.1 2913.6,694.9 2926.5,702.6 2913.6,708.8" fill="#f1f1f1" stroke="#000" stroke-width="1" />
<polyline points="2900.7,710.5 2913.6,718.2 2926.5,712" fill="none" stroke="#000" stroke-width="0.9"/>
<polyline points="2900.7,719.9 2913.6,727.6 2926.5,721.4" fill="none" stroke="#000" stroke-width="0.9"/>
<polygon points="2952.3,704.1 2939.4,710.3 2939.4,738.6 2952.3,732.4" fill="#f1f1f1" stroke="#000" stroke-width="1" /><polygon points="2939.4,710.3 2926.5,702.6 2926.5,730.9 2939.4,738.6" fill="#f1f1f1" stroke="#000" stroke-width="1" /><polygon points="2926.5,702.6 2939.4,696.4 2952.3,704.1 2939.4,710.3" fill="#f1f1f1" stroke="#000" stroke-width="1" />
<polyline points="2926.5,712 2939.4,719.7 2952.3,713.5" fill="none" stroke="#000" stroke-width="0.9"/>
<polyline points="2926.5,721.4 2939.4,729.1 2952.3,722.9" fill="none" stroke="#000" stroke-width="0.9"/>
<polygon points="2769.4,713.6 2756.5,719.8 2756.5,738.7 2769.4,732.5" fill="#f1f1f1" stroke="#000" stroke-width="1" /><polygon points="2756.5,719.8 2743.5,712.1 2743.5,731 2756.5,738.7" fill="#f1f1f1" stroke="#000" stroke-width="1" /><polygon points="2743.5,712.1 2756.5,705.9 2769.4,713.6 2756.5,719.8" fill="#f1f1f1" stroke="#000" stroke-width="1" />
<polyline points="2743.5,721.6 2756.5,729.3 2769.4,723" fill="none" stroke="#000" stroke-width="0.9"/>
<polygon points="2978.2,724.4 2965.2,730.6 2965.2,740 2978.2,733.8" fill="#f1f1f1" stroke="#000" stroke-width="1" /><polygon points="2965.2,730.6 2952.3,722.9 2952.3,732.4 2965.2,740" fill="#f1f1f1" stroke="#000" stroke-width="1" /><polygon points="2952.3,722.9 2965.2,716.7 2978.2,724.4 2965.2,730.6" fill="#f1f1f1" stroke="#000" stroke-width="1" />
<polygon points="2887.8,707.3 2874.9,713.5 2874.9,741.8 2887.8,735.6" fill="#f1f1f1" stroke="#000" stroke-width="1" /><polygon points="2874.9,713.5 2862,705.8 2862,734.1 2874.9,741.8" fill="#f1f1f1" stroke="#000" stroke-width="1" /><polygon points="2862,705.8 2874.9,699.6 2887.8,707.3 2874.9,713.5" fill="#f1f1f1" stroke="#000" stroke-width="1" />
<polyline points="2862,715.2 2874.9,722.9 2887.8,716.7" fill="none" stroke="#000" stroke-width="0.9"/>
<polyline points="2862,724.7 2874.9,732.4 2887.8,726.1" fill="none" stroke="#000" stroke-width="0.9"/>
<polygon points="3112.7,701.5 3032.5,734.5 3032.5,757.4 3112.7,724.3" fill="#f1f1f1" stroke="#000" stroke-width="1.2" /><polygon points="3032.5,734.5 3019.6,723.8 3019.6,746.7 3032.5,757.4" fill="#f1f1f1" stroke="#000" stroke-width="1.2" /><polygon points="3019.6,723.8 3099,691.6 3112.7,701.5 3032.5,734.5" fill="#f1f1f1" stroke="#000" stroke-width="1.2" />
<polygon points="2124.1,716.4 2089.3,737.5 2089.3,758.6 2124.1,737.5" fill="#f1f1f1" stroke="#000" stroke-width="1.2" /><line x1="2124.1" y1="723.3" x2="2089.3" y2="744.4" stroke="#000" stroke-width="1.2"/><polygon points="2089.3,737.5 2055,710.2 2055,731.3 2089.3,758.6" fill="#f1f1f1" stroke="#000" stroke-width="1.2" /><line x1="2089.3" y1="744.4" x2="2055" y2="717.1" stroke="#000" stroke-width="1.2"/><polygon points="2055,710.2 2070.4,695.3 2124.1,716.4 2089.3,737.5" fill="#f1f1f1" stroke="#000" stroke-width="1.2" /><polygon points="2069.9,712.5 2077.6,705.1 2104.4,715.6 2087,726.2" fill="#f1f1f1" stroke="#000" stroke-width="1.2" /><polygon points="2069.9,712.5 2076.9,718.1 2077.6,717.5 2077.6,705.1" fill="#f1f1f1" stroke="#000" stroke-width="1.1" /><polygon points="2077.6,705.1 2077.6,717.5 2092,723.2 2104.4,715.6" fill="#f1f1f1" stroke="#000" stroke-width="1.1" />
<polygon points="2271,732.5 2253.6,740 2253.6,747.4 2271,740" fill="#f1f1f1" stroke="#000" stroke-width="1.2" /><polygon points="2253.6,740 2233.3,725.1 2233.3,732.5 2253.6,747.4" fill="#f1f1f1" stroke="#000" stroke-width="1.2" /><polygon points="2233.3,725.1 2250.7,717.1 2271,732.5 2253.6,740" fill="#f1f1f1" stroke="#000" stroke-width="1.2" />
<polygon points="2913.6,718.2 2900.7,724.4 2900.7,743.3 2913.6,737.1" fill="#f1f1f1" stroke="#000" stroke-width="1" /><polygon points="2900.7,724.4 2887.8,716.7 2887.8,735.6 2900.7,743.3" fill="#f1f1f1" stroke="#000" stroke-width="1" /><polygon points="2887.8,716.7 2900.7,710.5 2913.6,718.2 2900.7,724.4" fill="#f1f1f1" stroke="#000" stroke-width="1" />
<polyline points="2887.8,726.1 2900.7,733.8 2913.6,727.6" fill="none" stroke="#000" stroke-width="0.9"/>
<polygon points="2730.6,718.3 2717.7,724.5 2717.7,743.4 2730.6,737.2" fill="#f1f1f1" stroke="#000" stroke-width="1" /><polygon points="2717.7,724.5 2704.8,716.8 2704.8,735.7 2717.7,743.4" fill="#f1f1f1" stroke="#000" stroke-width="1" /><polygon points="2704.8,716.8 2717.7,710.6 2730.6,718.3 2717.7,724.5" fill="#f1f1f1" stroke="#000" stroke-width="1" />
<polyline points="2704.8,726.3 2717.7,734 2730.6,727.8" fill="none" stroke="#000" stroke-width="0.9"/>
<polygon points="2939.4,710.3 2926.5,716.5 2926.5,744.8 2939.4,738.6" fill="#f1f1f1" stroke="#000" stroke-width="1" /><polygon points="2926.5,716.5 2913.6,708.8 2913.6,737.1 2926.5,744.8" fill="#f1f1f1" stroke="#000" stroke-width="1" /><polygon points="2913.6,708.8 2926.5,702.6 2939.4,710.3 2926.5,716.5" fill="#f1f1f1" stroke="#000" stroke-width="1" />
<polyline points="2913.6,718.2 2926.5,725.9 2939.4,719.7" fill="none" stroke="#000" stroke-width="0.9"/>
<polyline points="2913.6,727.6 2926.5,735.3 2939.4,729.1" fill="none" stroke="#000" stroke-width="0.9"/>
<polygon points="2756.5,710.4 2743.5,716.6 2743.5,744.9 2756.5,738.7" fill="#f1f1f1" stroke="#000" stroke-width="1" /><polygon points="2743.5,716.6 2730.6,708.9 2730.6,737.2 2743.5,744.9" fill="#f1f1f1" stroke="#000" stroke-width="1" /><polygon points="2730.6,708.9 2743.5,702.7 2756.5,710.4 2743.5,716.6" fill="#f1f1f1" stroke="#000" stroke-width="1" />
<polyline points="2730.6,718.3 2743.5,726 2756.5,719.8" fill="none" stroke="#000" stroke-width="0.9"/>
<polyline points="2730.6,727.8 2743.5,735.5 2756.5,729.3" fill="none" stroke="#000" stroke-width="0.9"/>
<polygon points="2965.2,721.2 2952.3,727.4 2952.3,746.3 2965.2,740" fill="#f1f1f1" stroke="#000" stroke-width="1" /><polygon points="2952.3,727.4 2939.4,719.7 2939.4,738.6 2952.3,746.3" fill="#f1f1f1" stroke="#000" stroke-width="1" /><polygon points="2939.4,719.7 2952.3,713.5 2965.2,721.2 2952.3,727.4" fill="#f1f1f1" stroke="#000" stroke-width="1" />
<polyline points="2939.4,729.1 2952.3,736.8 2965.2,730.6" fill="none" stroke="#000" stroke-width="0.9"/>
<polygon points="2782.3,711.9 2769.4,718.1 2769.4,746.4 2782.3,740.2" fill="#f1f1f1" stroke="#000" stroke-width="1" /><polygon points="2769.4,718.1 2756.5,710.4 2756.5,738.7 2769.4,746.4" fill="#f1f1f1" stroke="#000" stroke-width="1" /><polygon points="2756.5,710.4 2769.4,704.2 2782.3,711.9 2769.4,718.1" fill="#f1f1f1" stroke="#000" stroke-width="1" />
<polyline points="2756.5,719.8 2769.4,727.5 2782.3,721.3" fill="none" stroke="#000" stroke-width="0.9"/>
<polyline points="2756.5,729.3 2769.4,736.9 2782.3,730.7" fill="none" stroke="#000" stroke-width="0.9"/>
<polygon points="2338.6,731.3 2305.8,746.2 2305.8,754.1 2338.6,739.2" fill="#f1f1f1" stroke="#000" stroke-width="1.2" /><polygon points="2305.8,746.2 2288.4,732.5 2288.4,740.5 2305.8,754.1" fill="#f1f1f1" stroke="#000" stroke-width="1.2" /><polygon points="2288.4,732.5 2320.7,718.9 2338.6,731.3 2305.8,746.2" fill="#f1f1f1" stroke="#000" stroke-width="1.2" />
<polygon points="2991.1,722.7 2978.2,728.9 2978.2,747.7 2991.1,741.5" fill="#f1f1f1" stroke="#000" stroke-width="1" /><polygon points="2978.2,728.9 2965.2,721.2 2965.2,740 2978.2,747.7" fill="#f1f1f1" stroke="#000" stroke-width="1" /><polygon points="2965.2,721.2 2978.2,715 2991.1,722.7 2978.2,728.9" fill="#f1f1f1" stroke="#000" stroke-width="1" />
<polyline points="2965.2,730.6 2978.2,738.3 2991.1,732.1" fill="none" stroke="#000" stroke-width="0.9"/>
<polygon points="2691.9,723 2679,729.3 2679,748.1 2691.9,741.9" fill="#f1f1f1" stroke="#000" stroke-width="1" /><polygon points="2679,729.3 2666.1,721.6 2666.1,740.4 2679,748.1" fill="#f1f1f1" stroke="#000" stroke-width="1" /><polygon points="2666.1,721.6 2679,715.3 2691.9,723 2679,729.3" fill="#f1f1f1" stroke="#000" stroke-width="1" />
<polyline points="2666.1,731 2679,738.7 2691.9,732.5" fill="none" stroke="#000" stroke-width="0.9"/>
<polygon points="2582.6,735 2544.1,758.6 2544.1,767.3 2582.6,743.7" fill="#f1f1f1" stroke="#000" stroke-width="1.2" /><polygon points="2544.1,758.6 2505.6,732.5 2505.6,741.2 2544.1,767.3" fill="#f1f1f1" stroke="#000" stroke-width="1.2" /><polygon points="2505.6,732.5 2537.9,706.5 2582.6,735 2544.1,758.6" fill="#f1f1f1" stroke="#000" stroke-width="1.2" /><polygon points="2529.6,732.9 2540.9,723.8 2556.6,733.8 2543.1,742.1" fill="#f1f1f1" stroke="#000" stroke-width="1.2" /><polygon points="2529.6,732.9 2533.8,735.8 2540.9,730 2540.9,723.8" fill="#f1f1f1" stroke="#000" stroke-width="1.1" /><polygon points="2540.9,723.8 2540.9,730 2551.6,736.8 2556.6,733.8" fill="#f1f1f1" stroke="#000" stroke-width="1.1" />
<polygon points="2717.7,734 2704.8,740.2 2704.8,749.6 2717.7,743.4" fill="#f1f1f1" stroke="#000" stroke-width="1" /><polygon points="2704.8,740.2 2691.9,732.5 2691.9,741.9 2704.8,749.6" fill="#f1f1f1" stroke="#000" stroke-width="1" /><polygon points="2691.9,732.5 2704.8,726.3 2717.7,734 2704.8,740.2" fill="#f1f1f1" stroke="#000" stroke-width="1" />
<polygon points="2926.5,725.9 2913.6,732.1 2913.6,751 2926.5,744.8" fill="#f1f1f1" stroke="#000" stroke-width="1" /><polygon points="2913.6,732.1 2900.7,724.4 2900.7,743.3 2913.6,751" fill="#f1f1f1" stroke="#000" stroke-width="1" /><polygon points="2900.7,724.4 2913.6,718.2 2926.5,725.9 2913.6,732.1" fill="#f1f1f1" stroke="#000" stroke-width="1" />
<polyline points="2900.7,733.8 2913.6,741.5 2926.5,735.3" fill="none" stroke="#000" stroke-width="0.9"/>
<polygon points="2743.5,716.6 2730.6,722.8 2730.6,751.1 2743.5,744.9" fill="#f1f1f1" stroke="#000" stroke-width="1" /><polygon points="2730.6,722.8 2717.7,715.1 2717.7,743.4 2730.6,751.1" fill="#f1f1f1" stroke="#000" stroke-width="1" /><polygon points="2717.7,715.1 2730.6,708.9 2743.5,716.6 2730.6,722.8" fill="#f1f1f1" stroke="#000" stroke-width="1" />
<polyline points="2717.7,724.5 2730.6,732.2 2743.5,726" fill="none" stroke="#000" stroke-width="0.9"/>
<polyline points="2717.7,734 2730.6,741.7 2743.5,735.5" fill="none" stroke="#000" stroke-width="0.9"/>
<polygon points="2952.3,718 2939.4,724.2 2939.4,752.5 2952.3,746.3" fill="#f1f1f1" stroke="#000" stroke-width="1" /><polygon points="2939.4,724.2 2926.5,716.5 2926.5,744.8 2939.4,752.5" fill="#f1f1f1" stroke="#000" stroke-width="1" /><polygon points="2926.5,716.5 2939.4,710.3 2952.3,718 2939.4,724.2" fill="#f1f1f1" stroke="#000" stroke-width="1" />
<polyline points="2926.5,725.9 2939.4,733.6 2952.3,727.4" fill="none" stroke="#000" stroke-width="0.9"/>
<polyline points="2926.5,735.3 2939.4,743 2952.3,736.8" fill="none" stroke="#000" stroke-width="0.9"/>
<polygon points="2769.4,727.5 2756.5,733.7 2756.5,752.6 2769.4,746.4" fill="#f1f1f1" stroke="#000" stroke-width="1" /><polygon points="2756.5,733.7 2743.5,726 2743.5,744.9 2756.5,752.6" fill="#f1f1f1" stroke="#000" stroke-width="1" /><polygon points="2743.5,726 2756.5,719.8 2769.4,727.5 2756.5,733.7" fill="#f1f1f1" stroke="#000" stroke-width="1" />
<polyline points="2743.5,735.5 2756.5,743.2 2769.4,736.9" fill="none" stroke="#000" stroke-width="0.9"/>
<polygon points="2978.2,719.4 2965.2,725.7 2965.2,754 2978.2,747.7" fill="#f1f1f1" stroke="#000" stroke-width="1" /><polygon points="2965.2,725.7 2952.3,718 2952.3,746.3 2965.2,754" fill="#f1f1f1" stroke="#000" stroke-width="1" /><polygon points="2952.3,718 2965.2,711.7 2978.2,719.4 2965.2,725.7" fill="#f1f1f1" stroke="#000" stroke-width="1" />
<polyline points="2952.3,727.4 2965.2,735.1 2978.2,728.9" fill="none" stroke="#000" stroke-width="0.9"/>
<polyline points="2952.3,736.8 2965.2,744.5 2978.2,738.3" fill="none" stroke="#000" stroke-width="0.9"/>
<polygon points="2679,738.7 2666.1,744.9 2666.1,754.3 2679,748.1" fill="#f1f1f1" stroke="#000" stroke-width="1" /><polygon points="2666.1,744.9 2653.2,737.2 2653.2,746.6 2666.1,754.3" fill="#f1f1f1" stroke="#000" stroke-width="1" /><polygon points="2653.2,737.2 2666.1,731 2679,738.7 2666.1,744.9" fill="#f1f1f1" stroke="#000" stroke-width="1" />
<polygon points="2704.8,730.7 2691.9,736.9 2691.9,755.8 2704.8,749.6" fill="#f1f1f1" stroke="#000" stroke-width="1" /><polygon points="2691.9,736.9 2679,729.3 2679,748.1 2691.9,755.8" fill="#f1f1f1" stroke="#000" stroke-width="1" /><polygon points="2679,729.3 2691.9,723 2704.8,730.7 2691.9,736.9" fill="#f1f1f1" stroke="#000" stroke-width="1" />
<polyline points="2679,738.7 2691.9,746.4 2704.8,740.2" fill="none" stroke="#000" stroke-width="0.9"/>
<polygon points="2730.6,732.2 2717.7,738.4 2717.7,757.3 2730.6,751.1" fill="#f1f1f1" stroke="#000" stroke-width="1" /><polygon points="2717.7,738.4 2704.8,730.7 2704.8,749.6 2717.7,757.3" fill="#f1f1f1" stroke="#000" stroke-width="1" /><polygon points="2704.8,730.7 2717.7,724.5 2730.6,732.2 2717.7,738.4" fill="#f1f1f1" stroke="#000" stroke-width="1" />
<polyline points="2704.8,740.2 2717.7,747.9 2730.6,741.7" fill="none" stroke="#000" stroke-width="0.9"/>
<polygon points="2756.5,733.7 2743.5,739.9 2743.5,758.8 2756.5,752.6" fill="#f1f1f1" stroke="#000" stroke-width="1" /><polygon points="2743.5,739.9 2730.6,732.2 2730.6,751.1 2743.5,758.8" fill="#f1f1f1" stroke="#000" stroke-width="1" /><polygon points="2730.6,732.2 2743.5,726 2756.5,733.7 2743.5,739.9" fill="#f1f1f1" stroke="#000" stroke-width="1" />
<polyline points="2730.6,741.7 2743.5,749.4 2756.5,743.2" fill="none" stroke="#000" stroke-width="0.9"/>
<polygon points="2782.3,735.2 2769.4,741.4 2769.4,760.3 2782.3,754.1" fill="#f1f1f1" stroke="#000" stroke-width="1" /><polygon points="2769.4,741.4 2756.5,733.7 2756.5,752.6 2769.4,760.3" fill="#f1f1f1" stroke="#000" stroke-width="1" /><polygon points="2756.5,733.7 2769.4,727.5 2782.3,735.2 2769.4,741.4" fill="#f1f1f1" stroke="#000" stroke-width="1" />
<polyline points="2756.5,743.2 2769.4,750.8 2782.3,744.6" fill="none" stroke="#000" stroke-width="0.9"/>
<polygon points="2666.1,744.9 2653.2,751.1 2653.2,760.5 2666.1,754.3" fill="#f1f1f1" stroke="#000" stroke-width="1" /><polygon points="2653.2,751.1 2640.3,743.4 2640.3,752.8 2653.2,760.5" fill="#f1f1f1" stroke="#000" stroke-width="1" /><polygon points="2640.3,743.4 2653.2,737.2 2666.1,744.9 2653.2,751.1" fill="#f1f1f1" stroke="#000" stroke-width="1" />
<polygon points="2691.9,746.4 2679,752.6 2679,762 2691.9,755.8" fill="#f1f1f1" stroke="#000" stroke-width="1" /><polygon points="2679,752.6 2666.1,744.9 2666.1,754.3 2679,762" fill="#f1f1f1" stroke="#000" stroke-width="1" /><polygon points="2666.1,744.9 2679,738.7 2691.9,746.4 2679,752.6" fill="#f1f1f1" stroke="#000" stroke-width="1" />
<polygon points="2276.4,731.9 2275,732.6 2265.8,738 2264.7,738.8 2264.1,739.6 2264.1,740.5 2264.1,754.1 2264.6,755 2265.6,756 2276.5,763.7 2277.8,764.5 2279.1,764.9 2280.5,765 2281.9,764.8 2283.3,764.2 2292.8,759.2 2293.9,758.4 2294.6,757.6 2294.6,756.8 2294.6,743.1 2294.1,742.3 2293.1,741.3 2281.7,732.9 2280.4,732.1 2279.1,731.7 2277.7,731.7" fill="#f1f1f1" stroke="#000" stroke-width="1.2" stroke-linejoin="round"/><polygon points="2265.6,742.3 2264.6,741.4 2264.1,740.5 2264.1,739.6 2264.7,738.8 2265.8,738 2275,732.6 2276.4,731.9 2277.7,731.7 2279.1,731.7 2280.4,732.1 2281.7,732.9 2293.1,741.3 2294.1,742.3 2294.6,743.1 2294.6,744 2293.9,744.8 2292.8,745.6 2283.3,750.5 2281.9,751.1 2280.5,751.4 2279.1,751.3 2277.8,750.8 2276.5,750.1" fill="#f1f1f1" stroke="#000" stroke-width="1.2" stroke-linejoin="round"/>
<polygon points="2717.7,747.9 2704.8,754.1 2704.8,763.5 2717.7,757.3" fill="#f1f1f1" stroke="#000" stroke-width="1" /><polygon points="2704.8,754.1 2691.9,746.4 2691.9,755.8 2704.8,763.5" fill="#f1f1f1" stroke="#000" stroke-width="1" /><polygon points="2691.9,746.4 2704.8,740.2 2717.7,747.9 2704.8,754.1" fill="#f1f1f1" stroke="#000" stroke-width="1" />
<polygon points="2743.5,730.5 2730.6,736.7 2730.6,765 2743.5,758.8" fill="#f1f1f1" stroke="#000" stroke-width="1" /><polygon points="2730.6,736.7 2717.7,729 2717.7,757.3 2730.6,765" fill="#f1f1f1" stroke="#000" stroke-width="1" /><polygon points="2717.7,729 2730.6,722.8 2743.5,730.5 2730.6,736.7" fill="#f1f1f1" stroke="#000" stroke-width="1" />
<polyline points="2717.7,738.4 2730.6,746.1 2743.5,739.9" fill="none" stroke="#000" stroke-width="0.9"/>
<polyline points="2717.7,747.9 2730.6,755.6 2743.5,749.4" fill="none" stroke="#000" stroke-width="0.9"/>
<polygon points="2769.4,741.4 2756.5,747.6 2756.5,766.5 2769.4,760.3" fill="#f1f1f1" stroke="#000" stroke-width="1" /><polygon points="2756.5,747.6 2743.5,739.9 2743.5,758.8 2756.5,766.5" fill="#f1f1f1" stroke="#000" stroke-width="1" /><polygon points="2743.5,739.9 2756.5,733.7 2769.4,741.4 2756.5,747.6" fill="#f1f1f1" stroke="#000" stroke-width="1" />
<polyline points="2743.5,749.4 2756.5,757.1 2769.4,750.8" fill="none" stroke="#000" stroke-width="0.9"/>
<polygon points="2795.2,752.3 2782.3,758.5 2782.3,768 2795.2,761.8" fill="#f1f1f1" stroke="#000" stroke-width="1" /><polygon points="2782.3,758.5 2769.4,750.8 2769.4,760.3 2782.3,768" fill="#f1f1f1" stroke="#000" stroke-width="1" /><polygon points="2769.4,750.8 2782.3,744.6 2795.2,752.3 2782.3,758.5" fill="#f1f1f1" stroke="#000" stroke-width="1" />
<polygon points="2679,752.6 2666.1,758.8 2666.1,768.2 2679,762" fill="#f1f1f1" stroke="#000" stroke-width="1" /><polygon points="2666.1,758.8 2653.2,751.1 2653.2,760.5 2666.1,768.2" fill="#f1f1f1" stroke="#000" stroke-width="1" /><polygon points="2653.2,751.1 2666.1,744.9 2679,752.6 2666.1,758.8" fill="#f1f1f1" stroke="#000" stroke-width="1" />
<polygon points="2704.8,744.6 2691.9,750.8 2691.9,769.7 2704.8,763.5" fill="#f1f1f1" stroke="#000" stroke-width="1" /><polygon points="2691.9,750.8 2679,743.2 2679,762 2691.9,769.7" fill="#f1f1f1" stroke="#000" stroke-width="1" /><polygon points="2679,743.2 2691.9,736.9 2704.8,744.6 2691.9,750.8" fill="#f1f1f1" stroke="#000" stroke-width="1" />
<polyline points="2679,752.6 2691.9,760.3 2704.8,754.1" fill="none" stroke="#000" stroke-width="0.9"/>
<polygon points="2730.6,755.6 2717.7,761.8 2717.7,771.2 2730.6,765" fill="#f1f1f1" stroke="#000" stroke-width="1" /><polygon points="2717.7,761.8 2704.8,754.1 2704.8,763.5 2717.7,771.2" fill="#f1f1f1" stroke="#000" stroke-width="1" /><polygon points="2704.8,754.1 2717.7,747.9 2730.6,755.6 2717.7,761.8" fill="#f1f1f1" stroke="#000" stroke-width="1" />
<polygon points="2756.5,757.1 2743.5,763.3 2743.5,772.7 2756.5,766.5" fill="#f1f1f1" stroke="#000" stroke-width="1" /><polygon points="2743.5,763.3 2730.6,755.6 2730.6,765 2743.5,772.7" fill="#f1f1f1" stroke="#000" stroke-width="1" /><polygon points="2730.6,755.6 2743.5,749.4 2756.5,757.1 2743.5,763.3" fill="#f1f1f1" stroke="#000" stroke-width="1" />
<polygon points="2666.1,749.4 2653.2,755.6 2653.2,774.4 2666.1,768.2" fill="#f1f1f1" stroke="#000" stroke-width="1" /><polygon points="2653.2,755.6 2640.3,747.9 2640.3,766.7 2653.2,774.4" fill="#f1f1f1" stroke="#000" stroke-width="1" /><polygon points="2640.3,747.9 2653.2,741.7 2666.1,749.4 2653.2,755.6" fill="#f1f1f1" stroke="#000" stroke-width="1" />
<polyline points="2640.3,757.3 2653.2,765 2666.1,758.8" fill="none" stroke="#000" stroke-width="0.9"/>
<polygon points="2691.9,750.8 2679,757.1 2679,775.9 2691.9,769.7" fill="#f1f1f1" stroke="#000" stroke-width="1" /><polygon points="2679,757.1 2666.1,749.4 2666.1,768.2 2679,775.9" fill="#f1f1f1" stroke="#000" stroke-width="1" /><polygon points="2666.1,749.4 2679,743.2 2691.9,750.8 2679,757.1" fill="#f1f1f1" stroke="#000" stroke-width="1" />
<polyline points="2666.1,758.8 2679,766.5 2691.9,760.3" fill="none" stroke="#000" stroke-width="0.9"/>
<polygon points="2257.9,758.2 2255.9,759.2 2255.9,771 2257.9,770.1" fill="#f1f1f1" stroke="#000" stroke-width="1.2" /><polygon points="2255.9,759.2 2253.4,758.2 2253.4,770.1 2255.9,771" fill="#f1f1f1" stroke="#000" stroke-width="1.2" /><polygon points="2253.4,758.2 2255.4,757.2 2257.9,758.2 2255.9,759.2" fill="#f1f1f1" stroke="#000" stroke-width="1.2" />
<polygon points="2717.7,761.8 2704.8,768 2704.8,777.4 2717.7,771.2" fill="#f1f1f1" stroke="#000" stroke-width="1" /><polygon points="2704.8,768 2691.9,760.3 2691.9,769.7 2704.8,777.4" fill="#f1f1f1" stroke="#000" stroke-width="1" /><polygon points="2691.9,760.3 2704.8,754.1 2717.7,761.8 2704.8,768" fill="#f1f1f1" stroke="#000" stroke-width="1" />
<polygon points="2769.4,755.3 2756.5,761.5 2756.5,780.4 2769.4,774.2" fill="#f1f1f1" stroke="#000" stroke-width="1" /><polygon points="2756.5,761.5 2743.5,753.8 2743.5,772.7 2756.5,780.4" fill="#f1f1f1" stroke="#000" stroke-width="1" /><polygon points="2743.5,753.8 2756.5,747.6 2769.4,755.3 2756.5,761.5" fill="#f1f1f1" stroke="#000" stroke-width="1" />
<polyline points="2743.5,763.3 2756.5,771 2769.4,764.8" fill="none" stroke="#000" stroke-width="0.9"/>
<polygon points="2795.2,766.2 2782.3,772.4 2782.3,781.9 2795.2,775.7" fill="#f1f1f1" stroke="#000" stroke-width="1" /><polygon points="2782.3,772.4 2769.4,764.8 2769.4,774.2 2782.3,781.9" fill="#f1f1f1" stroke="#000" stroke-width="1" /><polygon points="2769.4,764.8 2782.3,758.5 2795.2,766.2 2782.3,772.4" fill="#f1f1f1" stroke="#000" stroke-width="1" />
<polygon points="2679,757.1 2666.1,763.3 2666.1,782.1 2679,775.9" fill="#f1f1f1" stroke="#000" stroke-width="1" /><polygon points="2666.1,763.3 2653.2,755.6 2653.2,774.4 2666.1,782.1" fill="#f1f1f1" stroke="#000" stroke-width="1" /><polygon points="2653.2,755.6 2666.1,749.4 2679,757.1 2666.1,763.3" fill="#f1f1f1" stroke="#000" stroke-width="1" />
<polyline points="2653.2,765 2666.1,772.7 2679,766.5" fill="none" stroke="#000" stroke-width="0.9"/>
<polygon points="2704.8,758.5 2691.9,764.8 2691.9,783.6 2704.8,777.4" fill="#f1f1f1" stroke="#000" stroke-width="1" /><polygon points="2691.9,764.8 2679,757.1 2679,775.9 2691.9,783.6" fill="#f1f1f1" stroke="#000" stroke-width="1" /><polygon points="2679,757.1 2691.9,750.8 2704.8,758.5 2691.9,764.8" fill="#f1f1f1" stroke="#000" stroke-width="1" />
<polyline points="2679,766.5 2691.9,774.2 2704.8,768" fill="none" stroke="#000" stroke-width="0.9"/>
<polygon points="2400.8,773.3 2342.2,800.4 2342.2,807.2 2400.8,780.1" fill="#f1f1f1" stroke="#000" stroke-width="1.2" /><polygon points="2342.2,800.4 2294.5,767.2 2294.5,773.9 2342.2,807.2" fill="#f1f1f1" stroke="#000" stroke-width="1.2" /><polygon points="2294.5,767.2 2352.7,739.4 2400.8,773.3 2342.2,800.4" fill="#f1f1f1" stroke="#000" stroke-width="1.2" />
<polygon points="2730.6,760 2717.7,766.2 2717.7,785.1 2730.6,778.9" fill="#f1f1f1" stroke="#000" stroke-width="1" /><polygon points="2717.7,766.2 2704.8,758.5 2704.8,777.4 2717.7,785.1" fill="#f1f1f1" stroke="#000" stroke-width="1" /><polygon points="2704.8,758.5 2717.7,752.3 2730.6,760 2717.7,766.2" fill="#f1f1f1" stroke="#000" stroke-width="1" />
<polyline points="2704.8,768 2717.7,775.7 2730.6,769.5" fill="none" stroke="#000" stroke-width="0.9"/>
<polygon points="2756.5,771 2743.5,777.2 2743.5,786.6 2756.5,780.4" fill="#f1f1f1" stroke="#000" stroke-width="1" /><polygon points="2743.5,777.2 2730.6,769.5 2730.6,778.9 2743.5,786.6" fill="#f1f1f1" stroke="#000" stroke-width="1" /><polygon points="2730.6,769.5 2743.5,763.3 2756.5,771 2743.5,777.2" fill="#f1f1f1" stroke="#000" stroke-width="1" />
<polygon points="2782.3,772.4 2769.4,778.7 2769.4,788.1 2782.3,781.9" fill="#f1f1f1" stroke="#000" stroke-width="1" /><polygon points="2769.4,778.7 2756.5,771 2756.5,780.4 2769.4,788.1" fill="#f1f1f1" stroke="#000" stroke-width="1" /><polygon points="2756.5,771 2769.4,764.8 2782.3,772.4 2769.4,778.7" fill="#f1f1f1" stroke="#000" stroke-width="1" />
<polygon points="2808.1,764.5 2795.2,770.7 2795.2,789.6 2808.1,783.4" fill="#f1f1f1" stroke="#000" stroke-width="1" /><polygon points="2795.2,770.7 2782.3,763 2782.3,781.9 2795.2,789.6" fill="#f1f1f1" stroke="#000" stroke-width="1" /><polygon points="2782.3,763 2795.2,756.8 2808.1,764.5 2795.2,770.7" fill="#f1f1f1" stroke="#000" stroke-width="1" />
<polyline points="2782.3,772.4 2795.2,780.1 2808.1,773.9" fill="none" stroke="#000" stroke-width="0.9"/>
<polygon points="2691.9,764.8 2679,771 2679,789.8 2691.9,783.6" fill="#f1f1f1" stroke="#000" stroke-width="1" /><polygon points="2679,771 2666.1,763.3 2666.1,782.1 2679,789.8" fill="#f1f1f1" stroke="#000" stroke-width="1" /><polygon points="2666.1,763.3 2679,757.1 2691.9,764.8 2679,771" fill="#f1f1f1" stroke="#000" stroke-width="1" />
<polyline points="2666.1,772.7 2679,780.4 2691.9,774.2" fill="none" stroke="#000" stroke-width="0.9"/>
<polygon points="2743.5,767.7 2730.6,773.9 2730.6,792.8 2743.5,786.6" fill="#f1f1f1" stroke="#000" stroke-width="1" /><polygon points="2730.6,773.9 2717.7,766.2 2717.7,785.1 2730.6,792.8" fill="#f1f1f1" stroke="#000" stroke-width="1" /><polygon points="2717.7,766.2 2730.6,760 2743.5,767.7 2730.6,773.9" fill="#f1f1f1" stroke="#000" stroke-width="1" />
<polyline points="2717.7,775.7 2730.6,783.4 2743.5,777.2" fill="none" stroke="#000" stroke-width="0.9"/>
<polygon points="2769.4,778.7 2756.5,784.9 2756.5,794.3 2769.4,788.1" fill="#f1f1f1" stroke="#000" stroke-width="1" /><polygon points="2756.5,784.9 2743.5,777.2 2743.5,786.6 2756.5,794.3" fill="#f1f1f1" stroke="#000" stroke-width="1" /><polygon points="2743.5,777.2 2756.5,771 2769.4,778.7 2756.5,784.9" fill="#f1f1f1" stroke="#000" stroke-width="1" />
<polygon points="2795.2,770.7 2782.3,776.9 2782.3,795.8 2795.2,789.6" fill="#f1f1f1" stroke="#000" stroke-width="1" /><polygon points="2782.3,776.9 2769.4,769.2 2769.4,788.1 2782.3,795.8" fill="#f1f1f1" stroke="#000" stroke-width="1" /><polygon points="2769.4,769.2 2782.3,763 2795.2,770.7 2782.3,776.9" fill="#f1f1f1" stroke="#000" stroke-width="1" />
<polyline points="2769.4,778.7 2782.3,786.4 2795.2,780.1" fill="none" stroke="#000" stroke-width="0.9"/>
<polygon points="2679,780.4 2666.1,786.6 2666.1,796 2679,789.8" fill="#f1f1f1" stroke="#000" stroke-width="1" /><polygon points="2666.1,786.6 2653.2,778.9 2653.2,788.3 2666.1,796" fill="#f1f1f1" stroke="#000" stroke-width="1" /><polygon points="2653.2,778.9 2666.1,772.7 2679,780.4 2666.1,786.6" fill="#f1f1f1" stroke="#000" stroke-width="1" />
<polygon points="2821,781.6 2808.1,787.8 2808.1,797.3 2821,791.1" fill="#f1f1f1" stroke="#000" stroke-width="1" /><polygon points="2808.1,787.8 2795.2,780.1 2795.2,789.6 2808.1,797.3" fill="#f1f1f1" stroke="#000" stroke-width="1" /><polygon points="2795.2,780.1 2808.1,773.9 2821,781.6 2808.1,787.8" fill="#f1f1f1" stroke="#000" stroke-width="1" />
<polygon points="2704.8,772.4 2691.9,778.7 2691.9,797.5 2704.8,791.3" fill="#f1f1f1" stroke="#000" stroke-width="1" /><polygon points="2691.9,778.7 2679,771 2679,789.8 2691.9,797.5" fill="#f1f1f1" stroke="#000" stroke-width="1" /><polygon points="2679,771 2691.9,764.8 2704.8,772.4 2691.9,778.7" fill="#f1f1f1" stroke="#000" stroke-width="1" />
<polyline points="2679,780.4 2691.9,788.1 2704.8,781.9" fill="none" stroke="#000" stroke-width="0.9"/>
<polygon points="2730.6,783.4 2717.7,789.6 2717.7,799 2730.6,792.8" fill="#f1f1f1" stroke="#000" stroke-width="1" /><polygon points="2717.7,789.6 2704.8,781.9 2704.8,791.3 2717.7,799" fill="#f1f1f1" stroke="#000" stroke-width="1" /><polygon points="2704.8,781.9 2717.7,775.7 2730.6,783.4 2717.7,789.6" fill="#f1f1f1" stroke="#000" stroke-width="1" />
<polygon points="2782.3,776.9 2769.4,783.1 2769.4,802 2782.3,795.8" fill="#f1f1f1" stroke="#000" stroke-width="1" /><polygon points="2769.4,783.1 2756.5,775.4 2756.5,794.3 2769.4,802" fill="#f1f1f1" stroke="#000" stroke-width="1" /><polygon points="2756.5,775.4 2769.4,769.2 2782.3,776.9 2769.4,783.1" fill="#f1f1f1" stroke="#000" stroke-width="1" />
<polyline points="2756.5,784.9 2769.4,792.6 2782.3,786.4" fill="none" stroke="#000" stroke-width="0.9"/>
<polygon points="2808.1,787.8 2795.2,794 2795.2,803.5 2808.1,797.3" fill="#f1f1f1" stroke="#000" stroke-width="1" /><polygon points="2795.2,794 2782.3,786.4 2782.3,795.8 2795.2,803.5" fill="#f1f1f1" stroke="#000" stroke-width="1" /><polygon points="2782.3,786.4 2795.2,780.1 2808.1,787.8 2795.2,794" fill="#f1f1f1" stroke="#000" stroke-width="1" />
<polygon points="2691.9,778.7 2679,784.9 2679,803.7 2691.9,797.5" fill="#f1f1f1" stroke="#000" stroke-width="1" /><polygon points="2679,784.9 2666.1,777.2 2666.1,796 2679,803.7" fill="#f1f1f1" stroke="#000" stroke-width="1" /><polygon points="2666.1,777.2 2679,771 2691.9,778.7 2679,784.9" fill="#f1f1f1" stroke="#000" stroke-width="1" />
<polyline points="2666.1,786.6 2679,794.3 2691.9,788.1" fill="none" stroke="#000" stroke-width="0.9"/>
<polygon points="2717.7,780.1 2704.8,786.4 2704.8,805.2 2717.7,799" fill="#f1f1f1" stroke="#000" stroke-width="1" /><polygon points="2704.8,786.4 2691.9,778.7 2691.9,797.5 2704.8,805.2" fill="#f1f1f1" stroke="#000" stroke-width="1" /><polygon points="2691.9,778.7 2704.8,772.4 2717.7,780.1 2704.8,786.4" fill="#f1f1f1" stroke="#000" stroke-width="1" />
<polyline points="2691.9,788.1 2704.8,795.8 2717.7,789.6" fill="none" stroke="#000" stroke-width="0.9"/>
<polygon points="2743.5,781.6 2730.6,787.8 2730.6,806.7 2743.5,800.5" fill="#f1f1f1" stroke="#000" stroke-width="1" /><polygon points="2730.6,787.8 2717.7,780.1 2717.7,799 2730.6,806.7" fill="#f1f1f1" stroke="#000" stroke-width="1" /><polygon points="2717.7,780.1 2730.6,773.9 2743.5,781.6 2730.6,787.8" fill="#f1f1f1" stroke="#000" stroke-width="1" />
<polyline points="2717.7,789.6 2730.6,797.3 2743.5,791.1" fill="none" stroke="#000" stroke-width="0.9"/>
<polygon points="2769.4,783.1 2756.5,789.3 2756.5,808.2 2769.4,802" fill="#f1f1f1" stroke="#000" stroke-width="1" /><polygon points="2756.5,789.3 2743.5,781.6 2743.5,800.5 2756.5,808.2" fill="#f1f1f1" stroke="#000" stroke-width="1" /><polygon points="2743.5,781.6 2756.5,775.4 2769.4,783.1 2756.5,789.3" fill="#f1f1f1" stroke="#000" stroke-width="1" />
<polyline points="2743.5,791.1 2756.5,798.8 2769.4,792.6" fill="none" stroke="#000" stroke-width="0.9"/>
<polygon points="2704.8,795.8 2691.9,802 2691.9,811.4 2704.8,805.2" fill="#f1f1f1" stroke="#000" stroke-width="1" /><polygon points="2691.9,802 2679,794.3 2679,803.7 2691.9,811.4" fill="#f1f1f1" stroke="#000" stroke-width="1" /><polygon points="2679,794.3 2691.9,788.1 2704.8,795.8 2691.9,802" fill="#f1f1f1" stroke="#000" stroke-width="1" />
<polygon points="2756.5,789.3 2743.5,795.5 2743.5,814.4 2756.5,808.2" fill="#f1f1f1" stroke="#000" stroke-width="1" /><polygon points="2743.5,795.5 2730.6,787.8 2730.6,806.7 2743.5,814.4" fill="#f1f1f1" stroke="#000" stroke-width="1" /><polygon points="2730.6,787.8 2743.5,781.6 2756.5,789.3 2743.5,795.5" fill="#f1f1f1" stroke="#000" stroke-width="1" />
<polyline points="2730.6,797.3 2743.5,805 2756.5,798.8" fill="none" stroke="#000" stroke-width="0.9"/>
<polygon points="2691.2,817.5 2653.9,834.9 2653.9,842.3 2691.2,825" fill="#f1f1f1" stroke="#000" stroke-width="1.2" /><polygon points="2653.9,834.9 2580.7,784.7 2580.7,792.2 2653.9,842.3" fill="#f1f1f1" stroke="#000" stroke-width="1.2" /><polygon points="2580.7,784.7 2617.9,767.9 2691.2,817.5 2653.9,834.9" fill="#f1f1f1" stroke="#000" stroke-width="1.2" />
<polygon points="2782.3,790.8 2769.4,797 2769.4,815.9 2782.3,809.7" fill="#f1f1f1" stroke="#000" stroke-width="1" /><polygon points="2769.4,797 2756.5,789.3 2756.5,808.2 2769.4,815.9" fill="#f1f1f1" stroke="#000" stroke-width="1" /><polygon points="2756.5,789.3 2769.4,783.1 2782.3,790.8 2769.4,797" fill="#f1f1f1" stroke="#000" stroke-width="1" />
<polyline points="2756.5,798.8 2769.4,806.5 2782.3,800.3" fill="none" stroke="#000" stroke-width="0.9"/>
<polygon points="2808.1,792.3 2795.2,798.5 2795.2,817.4 2808.1,811.2" fill="#f1f1f1" stroke="#000" stroke-width="1" /><polygon points="2795.2,798.5 2782.3,790.8 2782.3,809.7 2795.2,817.4" fill="#f1f1f1" stroke="#000" stroke-width="1" /><polygon points="2782.3,790.8 2795.2,784.6 2808.1,792.3 2795.2,798.5" fill="#f1f1f1" stroke="#000" stroke-width="1" />
<polyline points="2782.3,800.3 2795.2,807.9 2808.1,801.7" fill="none" stroke="#000" stroke-width="0.9"/>
<polygon points="2443.7,804.1 2406,821.4 2406,831.9 2443.7,814.6" fill="#f1f1f1" stroke="#000" stroke-width="1.2" /><polygon points="2406,821.4 2372.2,797.4 2372.2,807.8 2406,831.9" fill="#f1f1f1" stroke="#000" stroke-width="1.2" /><polygon points="2372.2,797.4 2409.7,780.4 2443.7,804.1 2406,821.4" fill="#f1f1f1" stroke="#000" stroke-width="1.2" />
<polygon points="2769.4,797 2756.5,803.2 2756.5,822.1 2769.4,815.9" fill="#f1f1f1" stroke="#000" stroke-width="1" /><polygon points="2756.5,803.2 2743.5,795.5 2743.5,814.4 2756.5,822.1" fill="#f1f1f1" stroke="#000" stroke-width="1" /><polygon points="2743.5,795.5 2756.5,789.3 2769.4,797 2756.5,803.2" fill="#f1f1f1" stroke="#000" stroke-width="1" />
<polyline points="2743.5,805 2756.5,812.7 2769.4,806.5" fill="none" stroke="#000" stroke-width="0.9"/>
<polygon points="2821,809.4 2808.1,815.6 2808.1,825.1 2821,818.9" fill="#f1f1f1" stroke="#000" stroke-width="1" /><polygon points="2808.1,815.6 2795.2,807.9 2795.2,817.4 2808.1,825.1" fill="#f1f1f1" stroke="#000" stroke-width="1" /><polygon points="2795.2,807.9 2808.1,801.7 2821,809.4 2808.1,815.6" fill="#f1f1f1" stroke="#000" stroke-width="1" />
<polygon points="2756.5,803.2 2743.5,809.4 2743.5,828.3 2756.5,822.1" fill="#f1f1f1" stroke="#000" stroke-width="1" /><polygon points="2743.5,809.4 2730.6,801.7 2730.6,820.6 2743.5,828.3" fill="#f1f1f1" stroke="#000" stroke-width="1" /><polygon points="2730.6,801.7 2743.5,795.5 2756.5,803.2 2743.5,809.4" fill="#f1f1f1" stroke="#000" stroke-width="1" />
<polyline points="2730.6,811.2 2743.5,818.9 2756.5,812.7" fill="none" stroke="#000" stroke-width="0.9"/>
<polygon points="2782.3,814.2 2769.4,820.4 2769.4,829.8 2782.3,823.6" fill="#f1f1f1" stroke="#000" stroke-width="1" /><polygon points="2769.4,820.4 2756.5,812.7 2756.5,822.1 2769.4,829.8" fill="#f1f1f1" stroke="#000" stroke-width="1" /><polygon points="2756.5,812.7 2769.4,806.5 2782.3,814.2 2769.4,820.4" fill="#f1f1f1" stroke="#000" stroke-width="1" />
<polygon points="2808.1,806.2 2795.2,812.4 2795.2,831.3 2808.1,825.1" fill="#f1f1f1" stroke="#000" stroke-width="1" /><polygon points="2795.2,812.4 2782.3,804.7 2782.3,823.6 2795.2,831.3" fill="#f1f1f1" stroke="#000" stroke-width="1" /><polygon points="2782.3,804.7 2795.2,798.5 2808.1,806.2 2795.2,812.4" fill="#f1f1f1" stroke="#000" stroke-width="1" />
<polyline points="2782.3,814.2 2795.2,821.9 2808.1,815.6" fill="none" stroke="#000" stroke-width="0.9"/>
<polygon points="2611.7,826.7 2565,848 2565,856 2611.7,834.6" fill="#f1f1f1" stroke="#000" stroke-width="1.2" /><polygon points="2565,848 2517.4,815 2517.4,823 2565,856" fill="#f1f1f1" stroke="#000" stroke-width="1.2" /><polygon points="2517.4,815 2564.1,793.9 2611.7,826.7 2565,848" fill="#f1f1f1" stroke="#000" stroke-width="1.2" />
<polygon points="2611.7,790.2 2577.5,805.1 2577.5,842.3 2611.7,827.4" fill="#f1f1f1" stroke="#000" stroke-width="1.2" /><polygon points="2577.5,805.1 2564.5,793.9 2564.5,831.2 2577.5,842.3" fill="#f1f1f1" stroke="#000" stroke-width="1.2" /><polygon points="2564.5,793.9 2598.1,779.5 2611.7,790.2 2577.5,805.1" fill="#f1f1f1" stroke="#000" stroke-width="1.2" />
<polygon points="2670.8,791.9 2653.9,800.1 2653.9,842.3 2670.8,834.1" fill="#f1f1f1" stroke="#000" stroke-width="1.2" /><polygon points="2653.9,800.1 2627.4,782.8 2627.4,825 2653.9,842.3" fill="#f1f1f1" stroke="#000" stroke-width="1.2" /><polygon points="2627.4,782.8 2644,774.6 2670.8,791.9 2653.9,800.1" fill="#f1f1f1" stroke="#000" stroke-width="1.2" />
<polygon points="2821,823.3 2808.1,829.5 2808.1,839 2821,832.8" fill="#f1f1f1" stroke="#000" stroke-width="1" /><polygon points="2808.1,829.5 2795.2,821.9 2795.2,831.3 2808.1,839" fill="#f1f1f1" stroke="#000" stroke-width="1" /><polygon points="2795.2,821.9 2808.1,815.6 2821,823.3 2808.1,829.5" fill="#f1f1f1" stroke="#000" stroke-width="1" />
<polygon points="2782.3,828.1 2769.4,834.3 2769.4,843.7 2782.3,837.5" fill="#f1f1f1" stroke="#000" stroke-width="1" /><polygon points="2769.4,834.3 2756.5,826.6 2756.5,836 2769.4,843.7" fill="#f1f1f1" stroke="#000" stroke-width="1" /><polygon points="2756.5,826.6 2769.4,820.4 2782.3,828.1 2769.4,834.3" fill="#f1f1f1" stroke="#000" stroke-width="1" />
<polygon points="2808.1,829.5 2795.2,835.8 2795.2,845.2 2808.1,839" fill="#f1f1f1" stroke="#000" stroke-width="1" /><polygon points="2795.2,835.8 2782.3,828.1 2782.3,837.5 2795.2,845.2" fill="#f1f1f1" stroke="#000" stroke-width="1" /><polygon points="2782.3,828.1 2795.2,821.9 2808.1,829.5 2795.2,835.8" fill="#f1f1f1" stroke="#000" stroke-width="1" />
<polygon points="2795.2,835.8 2782.3,842 2782.3,851.4 2795.2,845.2" fill="#f1f1f1" stroke="#000" stroke-width="1" /><polygon points="2782.3,842 2769.4,834.3 2769.4,843.7 2782.3,851.4" fill="#f1f1f1" stroke="#000" stroke-width="1" /><polygon points="2769.4,834.3 2782.3,828.1 2795.2,835.8 2782.3,842" fill="#f1f1f1" stroke="#000" stroke-width="1" />
<polygon points="2782.3,832.5 2769.4,838.7 2769.4,857.6 2782.3,851.4" fill="#f1f1f1" stroke="#000" stroke-width="1" /><polygon points="2769.4,838.7 2756.5,831 2756.5,849.9 2769.4,857.6" fill="#f1f1f1" stroke="#000" stroke-width="1" /><polygon points="2756.5,831 2769.4,824.8 2782.3,832.5 2769.4,838.7" fill="#f1f1f1" stroke="#000" stroke-width="1" />
<polyline points="2756.5,840.5 2769.4,848.2 2782.3,842" fill="none" stroke="#000" stroke-width="0.9"/>
<polygon points="2763.2,870.9 2743.3,880.3 2743.3,887.8 2763.2,878.3" fill="#f1f1f1" stroke="#000" stroke-width="1.2" /><polygon points="2743.3,880.3 2680,838.6 2680,846.1 2743.3,887.8" fill="#f1f1f1" stroke="#000" stroke-width="1.2" /><polygon points="2680,838.6 2704.8,829.2 2763.2,870.9 2743.3,880.3" fill="#f1f1f1" stroke="#000" stroke-width="1.2" />
<polygon points="2202.5,797 2277.1,762.2 2367.3,825.6 2367.8,850.4 2284.5,888.8 2276.6,880 2215.5,814.4 2215,809" fill="#ff0000" stroke="#000" stroke-width="1.4" />
<polyline points="2202.5,797 2292.4,860.7 2367.3,825.6" fill="none" stroke="#000" stroke-width="1.3"/>
<polyline points="2292.4,860.7 2292.4,877 2367.3,842.5" fill="none" stroke="#000" stroke-width="1.3"/>
<polyline points="2215,809 2284.5,878 2284.5,888.8" fill="none" stroke="#000" stroke-width="1.3"/>
<polyline points="2284.5,878 2292.4,877" fill="none" stroke="#000" stroke-width="1.3"/>
<polyline points="2215.5,814.4 2284.5,878" fill="none" stroke="#000" stroke-width="0.8"/>
<polyline points="2292.4,877 2367.3,846" fill="none" stroke="#000" stroke-width="0.8"/>
<polygon points="2622.4,859.7 2606.8,867.9 2606.8,884 2622.4,875.8" fill="#f1f1f1" stroke="#000" stroke-width="1.2" /><polygon points="2606.8,867.9 2579.4,851 2579.4,867.2 2606.8,884" fill="#f1f1f1" stroke="#000" stroke-width="1.2" /><polygon points="2579.4,851 2595.6,843.1 2622.4,859.7 2606.8,867.9" fill="#f1f1f1" stroke="#000" stroke-width="1.2" />
<polygon points="2762.7,834.1 2729.6,849 2729.6,886.3 2762.7,871.4" fill="#f1f1f1" stroke="#000" stroke-width="1.2" /><polygon points="2729.6,849 2716.5,838.6 2716.5,875.8 2729.6,886.3" fill="#f1f1f1" stroke="#000" stroke-width="1.2" /><polygon points="2716.5,838.6 2748.3,824.2 2762.7,834.1 2729.6,849" fill="#f1f1f1" stroke="#000" stroke-width="1.2" />
<polygon points="2013.4,859.2 1971.9,871.6 1971.9,892.7 2013.4,880.3" fill="#f1f1f1" stroke="#000" stroke-width="1.2" /><polygon points="1971.9,871.6 1964.5,864.2 1964.5,885.3 1971.9,892.7" fill="#f1f1f1" stroke="#000" stroke-width="1.2" /><polygon points="1964.5,864.2 2007.2,852.3 2013.4,859.2 1971.9,871.6" fill="#f1f1f1" stroke="#000" stroke-width="1.2" />
<polygon points="2697.4,885.8 2650.2,908.1 2650.2,916.8 2697.4,894.5" fill="#f1f1f1" stroke="#000" stroke-width="1.2" /><polygon points="2650.2,908.1 2619.2,885.8 2619.2,894.5 2650.2,916.8" fill="#f1f1f1" stroke="#000" stroke-width="1.2" /><polygon points="2619.2,885.8 2665.1,864.7 2697.4,885.8 2650.2,908.1" fill="#f1f1f1" stroke="#000" stroke-width="1.2" />
<polygon points="2679.2,838.6 2646.5,854.7 2646.5,890.7 2679.2,874.6" fill="#f1f1f1" stroke="#000" stroke-width="1.2" /><polygon points="2646.5,854.7 2632.8,844.1 2632.8,880.1 2646.5,890.7" fill="#f1f1f1" stroke="#000" stroke-width="1.2" /><polygon points="2632.8,844.1 2665.1,828.7 2679.2,838.6 2646.5,854.7" fill="#f1f1f1" stroke="#000" stroke-width="1.2" />
<polygon points="2696.6,887.3 2650.9,905.6 2650.9,915.7 2696.6,897.4" fill="#f1f1f1" stroke="#000" stroke-width="1.2" /><polygon points="2650.9,905.6 2619.8,890.1 2619.8,900.1 2650.9,915.7" fill="#f1f1f1" stroke="#000" stroke-width="1.2" /><polygon points="2619.8,890.1 2665.5,872.7 2696.6,887.3 2650.9,905.6" fill="#f1f1f1" stroke="#000" stroke-width="1.2" />
<polygon points="2743.3,882.8 2727.9,890.7 2727.9,928 2743.3,920" fill="#f1f1f1" stroke="#000" stroke-width="1.2" /><polygon points="2727.9,890.7 2699.9,872.1 2699.9,909.4 2727.9,928" fill="#f1f1f1" stroke="#000" stroke-width="1.2" /><polygon points="2699.9,872.1 2714.7,863.4 2743.3,882.8 2727.9,890.7" fill="#f1f1f1" stroke="#000" stroke-width="1.2" />
<polygon points="2680.1,922.1 2678,909.3 2678,977 2680.1,989.8" fill="#f1f1f1" stroke="#000" stroke-width="1.2" /><polygon points="2708.5,916.6 2698.4,928.5 2698.4,996.2 2708.5,984.3" fill="#f1f1f1" stroke="#000" stroke-width="1.2" /><polygon points="2698.4,928.5 2680.1,922.1 2680.1,989.8 2698.4,996.2" fill="#f1f1f1" stroke="#000" stroke-width="1.2" /><polygon points="2678,909.3 2689.3,902.9 2708.5,916.6 2698.4,928.5 2680.1,922.1" fill="#f1f1f1" stroke="#000" stroke-width="1.2" />
<polygon points="2743.3,870.8 2727.7,885.5 2727.7,929.4 2743.3,914.8" fill="#f1f1f1" stroke="#000" stroke-width="1.2" /><polygon points="2727.7,885.5 2699.4,869 2699.4,912.9 2727.7,929.4" fill="#f1f1f1" stroke="#000" stroke-width="1.2" /><polygon points="2699.4,869 2727.7,859.9 2743.3,870.8 2727.7,885.5" fill="#f1f1f1" stroke="#000" stroke-width="1.2" />
<polygon points="2743.3,920.5 2709.8,936.7 2709.8,944.1 2743.3,928" fill="#f1f1f1" stroke="#000" stroke-width="1.2" /><polygon points="2709.8,936.7 2663.9,918.1 2663.9,925.5 2709.8,944.1" fill="#f1f1f1" stroke="#000" stroke-width="1.2" /><polygon points="2663.9,918.1 2698.6,900.7 2743.3,920.5 2709.8,936.7" fill="#f1f1f1" stroke="#000" stroke-width="1.2" />
<polygon points="2390,919.3 2344.3,942.9 2344.3,955.3 2390,931.7" fill="#f1f1f1" stroke="#000" stroke-width="1.2" /><polygon points="2344.3,942.9 2320.5,905.7 2320.5,918.1 2344.3,955.3" fill="#f1f1f1" stroke="#000" stroke-width="1.2" /><polygon points="2320.5,905.7 2362.2,888.3 2390,919.3 2344.3,942.9" fill="#f1f1f1" stroke="#000" stroke-width="1.2" /><polygon points="2339,910.3 2357.8,902.4 2370.3,916.4 2349.8,927" fill="#f1f1f1" stroke="#000" stroke-width="1.2" /><polygon points="2339,910.3 2343.4,917.1 2357.8,911.1 2357.8,902.4" fill="#f1f1f1" stroke="#000" stroke-width="1.1" /><polygon points="2357.8,902.4 2357.8,911.1 2365,919.2 2370.3,916.4" fill="#f1f1f1" stroke="#000" stroke-width="1.1" />
<polyline points="2328.9,907.7 2360.2,894.7 2381.1,918 2346.8,935.7 2328.9,907.7" fill="none" stroke="#000" stroke-width="1.0"/>
<polyline points="2344.6,901.2 2354.2,914" fill="none" stroke="#000" stroke-width="1.0"/>
<polyline points="2363.9,926.8 2354.2,919" fill="none" stroke="#000" stroke-width="1.0"/>
<polyline points="2337.9,921.7 2351.8,914" fill="none" stroke="#000" stroke-width="1.0"/>
<polyline points="2370.6,906.3 2356.7,914" fill="none" stroke="#000" stroke-width="1.0"/>
<polyline points="2390,925.5 2344.3,949.1" fill="none" stroke="#000" stroke-width="1.0"/>
<polyline points="2344.3,949.1 2320.5,911.9" fill="none" stroke="#000" stroke-width="1.0"/>
<polygon points="2122.6,925.5 2109,931.2 2109,939.9 2122.6,934.2" fill="#f1f1f1" stroke="#000" stroke-width="1.2" /><polygon points="2109,931.2 2100.3,923 2100.3,931.7 2109,939.9" fill="#f1f1f1" stroke="#000" stroke-width="1.2" /><polygon points="2100.3,923 2113.4,918.1 2122.6,925.5 2109,931.2" fill="#f1f1f1" stroke="#000" stroke-width="1.2" />
<polygon points="2145,938.7 2118.9,945.4 2118.9,946.1 2145,939.4" fill="#f1f1f1" stroke="#000" stroke-width="1.2" /><polygon points="2118.9,945.4 2109,931.2 2109,932 2118.9,946.1" fill="#f1f1f1" stroke="#000" stroke-width="1.2" /><polygon points="2109,931.2 2122.6,925.5 2145,938.7 2118.9,945.4" fill="#f1f1f1" stroke="#000" stroke-width="1.2" />
<polygon points="2050.6,929.2 2007.2,881.6 2007.2,900.2 2050.6,947.9" fill="#f1f1f1" stroke="#000" stroke-width="1.2" /><polygon points="2082.1,933.7 1979.9,966.5 1979.9,985.1 2082.1,952.3" fill="#f1f1f1" stroke="#000" stroke-width="1.2" /><polygon points="1979.9,966.5 1969.4,955.3 1969.4,973.9 1979.9,985.1" fill="#f1f1f1" stroke="#000" stroke-width="1.2" /><polygon points="2007.2,881.6 2027.5,875.9 2082.1,933.7 1979.9,966.5 1969.4,955.3 2050.6,929.2" fill="#f1f1f1" stroke="#000" stroke-width="1.2" />
<polygon points="2644.5,940.4 2637.7,932.2 2637.7,945 2644.5,953.2" fill="#f1f1f1" stroke="#000" stroke-width="1.2" /><polygon points="2678,951.4 2644.5,940.4 2644.5,953.2 2678,964.2" fill="#f1f1f1" stroke="#000" stroke-width="1.2" /><polygon points="2637.7,932.2 2660,925.4 2678,934.9 2678,951.4 2644.5,940.4" fill="#f1f1f1" stroke="#000" stroke-width="1.2" />
<polygon points="2331.2,944.1 2282.7,960.3 2282.7,972.7 2331.2,956.5" fill="#f1f1f1" stroke="#000" stroke-width="1.2" /><polygon points="2282.7,960.3 2262.9,930.5 2262.9,942.9 2282.7,972.7" fill="#f1f1f1" stroke="#000" stroke-width="1.2" /><polygon points="2262.9,930.5 2307.6,918.1 2331.2,944.1 2282.7,960.3" fill="#f1f1f1" stroke="#000" stroke-width="1.2" /><polygon points="2281.1,934.7 2301.3,929.2 2311.9,940.9 2290.1,948.1" fill="#f1f1f1" stroke="#000" stroke-width="1.2" /><polygon points="2281.1,934.7 2286,942.1 2301.3,937.8 2301.3,929.2" fill="#f1f1f1" stroke="#000" stroke-width="1.1" /><polygon points="2301.3,929.2 2301.3,937.8 2305.8,942.9 2311.9,940.9" fill="#f1f1f1" stroke="#000" stroke-width="1.1" />
<polyline points="2271.2,932.4 2304.7,923.1 2322.4,942.7 2286.1,954.8 2271.2,932.4" fill="none" stroke="#000" stroke-width="1.0"/>
<polyline points="2287.9,927.8 2296.1,938.2" fill="none" stroke="#000" stroke-width="1.0"/>
<polyline points="2304.2,948.7 2296.1,943.2" fill="none" stroke="#000" stroke-width="1.0"/>
<polyline points="2278.6,943.6 2293.6,938.2" fill="none" stroke="#000" stroke-width="1.0"/>
<polyline points="2313.5,932.9 2298.6,938.2" fill="none" stroke="#000" stroke-width="1.0"/>
<polyline points="2331.2,950.3 2282.7,966.5" fill="none" stroke="#000" stroke-width="1.0"/>
<polyline points="2282.7,966.5 2262.9,936.7" fill="none" stroke="#000" stroke-width="1.0"/>
<polygon points="2682.5,921.8 2677.5,910.6 2677.5,967.7 2682.5,978.9" fill="#f1f1f1" stroke="#000" stroke-width="1.2" /><polygon points="2708,915.6 2698.6,928 2698.6,985.1 2708,972.7" fill="#f1f1f1" stroke="#000" stroke-width="1.2" /><polygon points="2698.6,928 2682.5,921.8 2682.5,978.9 2698.6,985.1" fill="#f1f1f1" stroke="#000" stroke-width="1.2" /><polygon points="2677.5,910.6 2691.2,903.2 2708,915.6 2698.6,928 2682.5,921.8" fill="#f1f1f1" stroke="#000" stroke-width="1.2" />
<polygon points="2424.7,970.2 2372.1,988.8 2372.1,998.7 2424.7,980.1" fill="#f1f1f1" stroke="#000" stroke-width="1.2" /><polygon points="2372.1,988.8 2355.2,961.5 2355.2,971.4 2372.1,998.7" fill="#f1f1f1" stroke="#000" stroke-width="1.2" /><polygon points="2355.2,961.5 2400.7,942.1 2424.7,970.2 2372.1,988.8" fill="#f1f1f1" stroke="#000" stroke-width="1.2" />
<polygon points="2143.7,997.5 2133.8,1003.7 2133.8,1022.3 2143.7,1016.1" fill="#f1f1f1" stroke="#000" stroke-width="1.2" /><polygon points="2133.8,1003.7 2109,978.9 2109,997.5 2133.8,1022.3" fill="#f1f1f1" stroke="#000" stroke-width="1.2" /><polygon points="2109,978.9 2118.9,973.4 2143.7,997.5 2133.8,1003.7" fill="#f1f1f1" stroke="#000" stroke-width="1.2" />
<polygon points="2090.3,991.3 2053.1,1002.5 2053.1,1022.3 2090.3,1011.2" fill="#f1f1f1" stroke="#000" stroke-width="1.2" /><polygon points="2053.1,1002.5 2044.4,993.8 2044.4,1013.6 2053.1,1022.3" fill="#f1f1f1" stroke="#000" stroke-width="1.2" /><polygon points="2044.4,993.8 2082.9,982.6 2090.3,991.3 2053.1,1002.5" fill="#f1f1f1" stroke="#000" stroke-width="1.2" />
<polygon points="2637.5,933.5 2603.3,957.2 2599.7,960.4 2597.9,963.5 2597.9,980.9 2598,983.9 2600,986.8 2603.9,989.7 2646.8,1015.2 2651.6,1017.4 2656.4,1018.5 2661.1,1018.3 2665.7,1016.9 2670.4,1014.3 2697.1,995.6 2700.8,992.4 2702.6,989.1 2702.7,985.8 2702.7,968.4 2700.9,965.1 2697.3,961.8 2660.2,933.9 2655.7,931.2 2651.2,929.8 2646.6,929.7 2642,931" fill="#f1f1f1" stroke="#000" stroke-width="1.2" stroke-linejoin="round"/><line x1="2603.9" y1="986" x2="2600" y2="983.1" stroke="#000" stroke-width="1.2" stroke-linecap="round"/><line x1="2600" y1="983.1" x2="2598" y2="980.2" stroke="#000" stroke-width="1.2" stroke-linecap="round"/><line x1="2598" y1="980.2" x2="2597.9" y2="977.1" stroke="#000" stroke-width="1.2" stroke-linecap="round"/><line x1="2702.7" y1="982.1" x2="2702.6" y2="985.4" stroke="#000" stroke-width="1.2" stroke-linecap="round"/><line x1="2702.6" y1="985.4" x2="2700.8" y2="988.6" stroke="#000" stroke-width="1.2" stroke-linecap="round"/><line x1="2700.8" y1="988.6" x2="2697.1" y2="991.9" stroke="#000" stroke-width="1.2" stroke-linecap="round"/><line x1="2697.1" y1="991.9" x2="2670.4" y2="1010.6" stroke="#000" stroke-width="1.2" stroke-linecap="round"/><line x1="2670.4" y1="1010.6" x2="2665.7" y2="1013.2" stroke="#000" stroke-width="1.2" stroke-linecap="round"/><line x1="2665.7" y1="1013.2" x2="2661.1" y2="1014.6" stroke="#000" stroke-width="1.2" stroke-linecap="round"/><line x1="2661.1" y1="1014.6" x2="2656.4" y2="1014.7" stroke="#000" stroke-width="1.2" stroke-linecap="round"/><line x1="2656.4" y1="1014.7" x2="2651.6" y2="1013.7" stroke="#000" stroke-width="1.2" stroke-linecap="round"/><line x1="2651.6" y1="1013.7" x2="2646.8" y2="1011.5" stroke="#000" stroke-width="1.2" stroke-linecap="round"/><line x1="2646.8" y1="1011.5" x2="2603.9" y2="986" stroke="#000" stroke-width="1.2" stroke-linecap="round"/><polygon points="2603.9,972.4 2600,969.5 2598,966.5 2597.9,963.5 2599.7,960.4 2603.3,957.2 2637.5,933.5 2642,931 2646.6,929.7 2651.2,929.8 2655.7,931.2 2660.2,933.9 2697.3,961.8 2700.9,965.1 2702.7,968.4 2702.6,971.7 2700.8,975 2697.1,978.2 2670.4,996.9 2665.7,999.5 2661.1,1000.9 2656.4,1001.1 2651.6,1000.1 2646.8,997.8" fill="#f1f1f1" stroke="#000" stroke-width="1.2" stroke-linejoin="round"/>
<polygon points="2626.8,965.9 2650.8,949.3 2675.8,968 2654.9,982.6" fill="#f1f1f1" stroke="#000" stroke-width="1.2" /><polygon points="2626.8,965.9 2634.5,970.5 2650.8,959.2 2650.8,949.3" fill="#f1f1f1" stroke="#000" stroke-width="1.1" /><polygon points="2650.8,949.3 2650.8,959.2 2668.9,972.8 2675.8,968" fill="#f1f1f1" stroke="#000" stroke-width="1.1" />
<polygon points="2631.1,948.3 2611.1,958.1 2604.8,962 2601.6,966 2601.5,970 2601.5,990.2 2604.6,994.2 2610.8,998.3 2640.6,1014.2 2648.2,1017.3 2655.5,1018.4 2662.5,1017.3 2669.2,1014.2 2675.6,1009 2682.9,1001.7 2687.7,995.7 2689.8,990 2689.8,969.9 2689.1,964.5 2685.6,959.6 2679.4,955 2669.9,949.6 2662.3,946 2654.6,944.1 2646.8,943.8 2639,945.2" fill="#f1f1f1" stroke="#000" stroke-width="1.2" stroke-linejoin="round"/><line x1="2610.8" y1="994.7" x2="2604.6" y2="990.6" stroke="#000" stroke-width="1.2" stroke-linecap="round"/><line x1="2604.6" y1="990.6" x2="2601.5" y2="986.5" stroke="#000" stroke-width="1.2" stroke-linecap="round"/><line x1="2689.8" y1="986.3" x2="2687.7" y2="992" stroke="#000" stroke-width="1.2" stroke-linecap="round"/><line x1="2687.7" y1="992" x2="2682.9" y2="998" stroke="#000" stroke-width="1.2" stroke-linecap="round"/><line x1="2682.9" y1="998" x2="2675.6" y2="1005.4" stroke="#000" stroke-width="1.2" stroke-linecap="round"/><line x1="2675.6" y1="1005.4" x2="2669.2" y2="1010.6" stroke="#000" stroke-width="1.2" stroke-linecap="round"/><line x1="2669.2" y1="1010.6" x2="2662.5" y2="1013.7" stroke="#000" stroke-width="1.2" stroke-linecap="round"/><line x1="2662.5" y1="1013.7" x2="2655.5" y2="1014.7" stroke="#000" stroke-width="1.2" stroke-linecap="round"/><line x1="2655.5" y1="1014.7" x2="2648.2" y2="1013.7" stroke="#000" stroke-width="1.2" stroke-linecap="round"/><line x1="2648.2" y1="1013.7" x2="2640.6" y2="1010.6" stroke="#000" stroke-width="1.2" stroke-linecap="round"/><line x1="2640.6" y1="1010.6" x2="2610.8" y2="994.7" stroke="#000" stroke-width="1.2" stroke-linecap="round"/><polygon points="2610.8,978.2 2604.6,974.1 2601.5,970 2601.6,966 2604.8,962 2611.1,958.1 2631.1,948.3 2639,945.2 2646.8,943.8 2654.6,944.1 2662.3,946 2669.9,949.6 2679.4,955 2685.6,959.6 2689.1,964.5 2689.8,969.9 2687.7,975.5 2682.9,981.6 2675.6,988.9 2669.2,994.1 2662.5,997.2 2655.5,998.2 2648.2,997.2 2640.6,994.1" fill="#f1f1f1" stroke="#000" stroke-width="1.2" stroke-linejoin="round"/>
<polygon points="2627.8,968.7 2650.4,957.6 2668.5,968 2653.9,982.6" fill="#f1f1f1" stroke="#000" stroke-width="1.2" /><polygon points="2627.8,968.7 2638.5,974.4 2650.4,968.6 2650.4,957.6" fill="#f1f1f1" stroke="#000" stroke-width="1.1" /><polygon points="2650.4,957.6 2650.4,968.6 2661.6,975 2668.5,968" fill="#f1f1f1" stroke="#000" stroke-width="1.1" />
<polygon points="2357.2,993.8 2320.5,1004.2 2320.5,1014.1 2357.2,1003.7" fill="#f1f1f1" stroke="#000" stroke-width="1.2" /><polygon points="2320.5,1004.2 2293.9,975.2 2293.9,985.1 2320.5,1014.1" fill="#f1f1f1" stroke="#000" stroke-width="1.2" /><polygon points="2293.9,975.2 2343.6,960.3 2357.2,993.8 2320.5,1004.2" fill="#f1f1f1" stroke="#000" stroke-width="1.2" />
<polygon points="2570.3,999 2563.9,988.3 2563.9,1008.5 2570.3,1019.1" fill="#f1f1f1" stroke="#000" stroke-width="1.2" /><polygon points="2601.4,997.1 2596,1008.1 2596,1028.2 2601.4,1017.3" fill="#f1f1f1" stroke="#000" stroke-width="1.2" /><polygon points="2596,1008.1 2570.3,999 2570.3,1019.1 2596,1028.2" fill="#f1f1f1" stroke="#000" stroke-width="1.2" /><polygon points="2563.9,988.3 2579.5,982.1 2601.4,997.1 2596,1008.1 2570.3,999" fill="#f1f1f1" stroke="#000" stroke-width="1.2" />
<polygon points="2454,997.5 2406.9,1021.1 2406.9,1034.7 2454,1011.2" fill="#f1f1f1" stroke="#000" stroke-width="1.2" /><polygon points="2406.9,1021.1 2383.3,988.8 2383.3,1002.5 2406.9,1034.7" fill="#f1f1f1" stroke="#000" stroke-width="1.2" /><polygon points="2383.3,988.8 2432.9,970.2 2454,997.5 2406.9,1021.1" fill="#f1f1f1" stroke="#000" stroke-width="1.2" /><polygon points="2403.1,991.9 2425.4,983.5 2434.9,995.8 2413.7,1006.4" fill="#f1f1f1" stroke="#000" stroke-width="1.2" /><polygon points="2403.1,991.9 2408.6,999.4 2425.4,993.1 2425.4,983.5" fill="#f1f1f1" stroke="#000" stroke-width="1.1" /><polygon points="2425.4,983.5 2425.4,993.1 2429.6,998.5 2434.9,995.8" fill="#f1f1f1" stroke="#000" stroke-width="1.1" />
<polyline points="2392.3,990.2 2429.5,976.2 2445.4,996.7 2410,1014.4 2392.3,990.2" fill="none" stroke="#000" stroke-width="1.0"/>
<polyline points="2410.9,983.2 2419.3,994.4" fill="none" stroke="#000" stroke-width="1.0"/>
<polyline points="2427.7,1005.6 2419.3,999.9" fill="none" stroke="#000" stroke-width="1.0"/>
<polyline points="2401.1,1002.3 2416.8,994.4" fill="none" stroke="#000" stroke-width="1.0"/>
<polyline points="2437.4,986.5 2421.8,994.4" fill="none" stroke="#000" stroke-width="1.0"/>
<polyline points="2454,1004.3 2406.9,1027.9" fill="none" stroke="#000" stroke-width="1.0"/>
<polyline points="2406.9,1027.9 2383.3,995.6" fill="none" stroke="#000" stroke-width="1.0"/>
<polygon points="2586.9,984.4 2583.5,983.5 2580,983.2 2576.4,983.5 2572.8,984.4 2569.1,985.7 2567,986.6 2565.4,987.8 2564.2,989.4 2563.5,991.4 2563.3,993.6 2563.3,993.9 2563.3,1011 2563.3,1011.3 2563.5,1013.6 2564.1,1015.8 2565,1017.8 2566.3,1019.6 2568,1021.2 2591.6,1040.8 2594.8,1042.9 2598,1044.3 2601.5,1045 2605.1,1044.9 2608.8,1044 2623.4,1039.1 2625.4,1038.2 2627,1036.9 2628.2,1035.3 2628.9,1033.4 2629.1,1031.2 2629.1,1030.9 2629.1,1013.8 2629.1,1013.5 2628.9,1011.2 2628.2,1009.1 2627.2,1007.3 2625.7,1005.8 2623.8,1004.5 2590.3,986" fill="#f1f1f1" stroke="#000" stroke-width="1.2" stroke-linejoin="round"/><polygon points="2563.3,993.6 2563.5,991.4 2564.2,989.4 2565.4,987.8 2567,986.6 2569.1,985.7 2572.8,984.4 2576.4,983.5 2580,983.2 2583.5,983.5 2586.9,984.4 2590.3,986 2623.8,1004.5 2625.7,1005.8 2627.2,1007.3 2628.2,1009.1 2628.9,1011.2 2629.1,1013.5 2629.1,1013.8 2628.9,1016 2628.2,1018 2627,1019.6 2625.4,1020.8 2623.4,1021.8 2608.8,1026.6 2605.1,1027.5 2601.5,1027.6 2598,1027 2594.8,1025.6 2591.6,1023.4 2568,1003.8 2566.3,1002.2 2565,1000.4 2564.1,998.4 2563.5,996.3 2563.3,993.9" fill="#f1f1f1" stroke="#000" stroke-width="1.2" stroke-linejoin="round"/>
<polygon points="2526.5,1016.6 2520.8,1020.6 2518,1024.7 2517.8,1028.8 2517.8,1045.3 2520.4,1049.6 2525.7,1054 2528.1,1055.6 2534.8,1059.2 2541.6,1061.3 2548.5,1061.7 2555.5,1060.5 2562.6,1057.7 2611,1033.5 2616.7,1030.1 2619.4,1026.8 2619.4,1010.3 2619.2,1007.3 2616,1004.4 2609.9,1001.8 2593,996.1 2585.4,994.3 2578,993.7 2570.8,994.4 2563.6,996.3 2556.6,999.6" fill="#f1f1f1" stroke="#000" stroke-width="1.2" stroke-linejoin="round"/><line x1="2525.7" y1="1050.7" x2="2520.4" y2="1046.3" stroke="#000" stroke-width="1.2" stroke-linecap="round"/><line x1="2520.4" y1="1046.3" x2="2517.8" y2="1042" stroke="#000" stroke-width="1.2" stroke-linecap="round"/><line x1="2619.4" y1="1023.5" x2="2616.7" y2="1026.8" stroke="#000" stroke-width="1.2" stroke-linecap="round"/><line x1="2616.7" y1="1026.8" x2="2611" y2="1030.2" stroke="#000" stroke-width="1.2" stroke-linecap="round"/><line x1="2611" y1="1030.2" x2="2562.6" y2="1054.4" stroke="#000" stroke-width="1.2" stroke-linecap="round"/><line x1="2562.6" y1="1054.4" x2="2555.5" y2="1057.2" stroke="#000" stroke-width="1.2" stroke-linecap="round"/><line x1="2555.5" y1="1057.2" x2="2548.5" y2="1058.4" stroke="#000" stroke-width="1.2" stroke-linecap="round"/><line x1="2548.5" y1="1058.4" x2="2541.6" y2="1058" stroke="#000" stroke-width="1.2" stroke-linecap="round"/><line x1="2541.6" y1="1058" x2="2534.8" y2="1055.9" stroke="#000" stroke-width="1.2" stroke-linecap="round"/><line x1="2534.8" y1="1055.9" x2="2528.1" y2="1052.3" stroke="#000" stroke-width="1.2" stroke-linecap="round"/><line x1="2528.1" y1="1052.3" x2="2525.7" y2="1050.7" stroke="#000" stroke-width="1.2" stroke-linecap="round"/><polygon points="2525.7,1037.5 2520.4,1033.1 2517.8,1028.8 2518,1024.7 2520.8,1020.6 2526.5,1016.6 2556.6,999.6 2563.6,996.3 2570.8,994.4 2578,993.7 2585.4,994.3 2593,996.1 2609.9,1001.8 2616,1004.4 2619.2,1007.3 2619.4,1010.3 2616.7,1013.6 2611,1017.1 2562.6,1041.3 2555.5,1044 2548.5,1045.2 2541.6,1044.8 2534.8,1042.7 2528.1,1039.1" fill="#f1f1f1" stroke="#000" stroke-width="1.2" stroke-linejoin="round"/>
<polygon points="2543.2,1021.6 2567.9,1007.7 2588.8,1014.6 2556.8,1030.6" fill="#f1f1f1" stroke="#000" stroke-width="1.2" /><polygon points="2543.2,1021.6 2550.6,1026.6 2567.9,1016.8 2567.9,1007.7" fill="#f1f1f1" stroke="#000" stroke-width="1.1" /><polygon points="2567.9,1007.7 2567.9,1016.8 2577.8,1020.1 2588.8,1014.6" fill="#f1f1f1" stroke="#000" stroke-width="1.1" />
<polygon points="2392,1029.8 2358.5,1044.7 2358.5,1055.8 2392,1041" fill="#f1f1f1" stroke="#000" stroke-width="1.2" /><polygon points="2358.5,1044.7 2334.9,1019.9 2334.9,1031 2358.5,1055.8" fill="#f1f1f1" stroke="#000" stroke-width="1.2" /><polygon points="2334.9,1019.9 2372.1,1005 2392,1029.8 2358.5,1044.7" fill="#f1f1f1" stroke="#000" stroke-width="1.2" /><polygon points="2351.1,1022.6 2367.8,1015.9 2376.8,1027.1 2361.7,1033.8" fill="#f1f1f1" stroke="#000" stroke-width="1.2" /><polygon points="2351.1,1022.6 2356.5,1028.2 2367.8,1023.7 2367.8,1015.9" fill="#f1f1f1" stroke="#000" stroke-width="1.1" /><polygon points="2367.8,1015.9 2367.8,1023.7 2372.2,1029.1 2376.8,1027.1" fill="#f1f1f1" stroke="#000" stroke-width="1.1" />
<polyline points="2342.2,1021.1 2370.2,1009.9 2385.1,1028.5 2359.9,1039.7 2342.2,1021.1" fill="none" stroke="#000" stroke-width="1.0"/>
<polyline points="2356.2,1015.5 2364.4,1024.8" fill="none" stroke="#000" stroke-width="1.0"/>
<polyline points="2372.5,1034.1 2364.4,1029.3" fill="none" stroke="#000" stroke-width="1.0"/>
<polyline points="2351.1,1030.4 2361.9,1024.8" fill="none" stroke="#000" stroke-width="1.0"/>
<polyline points="2377.6,1019.2 2366.8,1024.8" fill="none" stroke="#000" stroke-width="1.0"/>
<polyline points="2392,1035.4 2358.5,1050.3" fill="none" stroke="#000" stroke-width="1.0"/>
<polyline points="2358.5,1050.3 2334.9,1025.4" fill="none" stroke="#000" stroke-width="1.0"/>
<polygon points="2727.7,994.4 2699.4,1004.1 2699.4,1047.1 2727.7,1037.4" fill="#f1f1f1" stroke="#000" stroke-width="1.2" /><polygon points="2699.4,1004.1 2688.4,993.1 2688.4,1036.1 2699.4,1047.1" fill="#f1f1f1" stroke="#000" stroke-width="1.2" /><polygon points="2688.4,993.1 2715.8,983.4 2727.7,994.4 2699.4,1004.1" fill="#f1f1f1" stroke="#000" stroke-width="1.2" />
<polygon points="2181,1043.4 2105.2,1068.3 2105.2,1085.6 2181,1060.8" fill="#f1f1f1" stroke="#000" stroke-width="1.2" /><polygon points="2105.2,1068.3 2044.4,993.8 2044.4,1011.2 2105.2,1085.6" fill="#f1f1f1" stroke="#000" stroke-width="1.2" /><polygon points="2044.4,993.8 2118.9,972.7 2181,1043.4 2105.2,1068.3" fill="#f1f1f1" stroke="#000" stroke-width="1.2" /><polygon points="2085.4,1004.1 2112.2,996.5 2134.6,1021.9 2107.3,1030.9" fill="#f1f1f1" stroke="#000" stroke-width="1.2" /><polygon points="2085.4,1004.1 2094.5,1015.2 2112.2,1010.1 2112.2,996.5" fill="#f1f1f1" stroke="#000" stroke-width="1.1" /><polygon points="2112.2,996.5 2112.2,1010.1 2125.3,1025 2134.6,1021.9" fill="#f1f1f1" stroke="#000" stroke-width="1.1" />
<polygon points="2177.2,962 2199.7,960.3 2202.5,972 2208.1,972.4 2212.5,985.3 2216.5,982.9 2216.5,973.6 2238.5,971.2 2241.7,982.1 2241.7,1001.3 2223.7,1003.3 2223.7,1045.3 2202.5,1047.3 2198.5,1036.5 2198.5,1016.1 2192.5,1015.7 2191.3,1010.9 2170,1012.5 2166.4,999.7 2166.4,982.5 2177.2,980.9" fill="#ff0000" stroke="#000" stroke-width="1.4" />
<polyline points="2202.5,994.1 2223.3,992.1 2223.3,1010.9 2202.5,1012.5 2202.5,994.1" fill="none" stroke="#000" stroke-width="1.3"/>
<polyline points="2202.5,1029.3 2223.3,1027.3" fill="none" stroke="#000" stroke-width="1.3"/>
<polyline points="2202.5,1012.5 2202.5,1047.3" fill="none" stroke="#000" stroke-width="1.3"/>
<polyline points="2220.9,985.3 2241.7,982.9" fill="none" stroke="#000" stroke-width="1.3"/>
<polyline points="2216.5,982.9 2220.9,985.3 2223.3,992.1" fill="none" stroke="#000" stroke-width="1.3"/>
<polyline points="2166.4,982.5 2170,994.1 2191.3,993.3 2191.3,1010.9" fill="none" stroke="#000" stroke-width="1.3"/>
<polyline points="2170,994.1 2170,1012.5" fill="none" stroke="#000" stroke-width="1.3"/>
<polyline points="2177.2,962 2181.6,974.9 2186.5,974.4 2188.1,980.5 2181.6,981.3 2181.6,974.9" fill="none" stroke="#000" stroke-width="1.3"/>
<polyline points="2212.5,985.3 2202.5,993.3" fill="none" stroke="#000" stroke-width="1.3"/>
<polyline points="2198.5,1016.1 2223.3,1027.3" fill="none" stroke="#000" stroke-width="1.3"/>
<polyline points="2192.5,993.3 2192.5,1015.7" fill="none" stroke="#000" stroke-width="1.3"/>
<polyline points="2198.5,999.7 2198.5,1016.1" fill="none" stroke="#000" stroke-width="1.3"/>
<polygon points="2302.1,1027.3 2274.8,1036.5 2274.8,1046.4 2302.1,1037.2" fill="#f1f1f1" stroke="#000" stroke-width="1.2" /><polygon points="2274.8,1036.5 2266.6,1027.3 2266.6,1037.2 2274.8,1046.4" fill="#f1f1f1" stroke="#000" stroke-width="1.2" /><polygon points="2266.6,1027.3 2293.9,1018.6 2302.1,1027.3 2274.8,1036.5" fill="#f1f1f1" stroke="#000" stroke-width="1.2" />
<polygon points="2727.2,993.8 2699.9,1003 2699.9,1055.1 2727.2,1045.9" fill="#f1f1f1" stroke="#000" stroke-width="1.2" /><polygon points="2699.9,1003 2688.7,992.5 2688.7,1044.7 2699.9,1055.1" fill="#f1f1f1" stroke="#000" stroke-width="1.2" /><polygon points="2688.7,992.5 2714.7,983.8 2727.2,993.8 2699.9,1003" fill="#f1f1f1" stroke="#000" stroke-width="1.2" />
<polygon points="2524.1,1022.8 2520.2,1024.7 2519.7,1025 2516.4,1027.5 2514.4,1030.4 2513.7,1033.5 2513.7,1048.4 2514.3,1051.9 2516.2,1055.6 2524.4,1068.1 2527.2,1071.5 2530.1,1073.4 2533.3,1073.9 2536.7,1073 2540.4,1070.7 2546.5,1065.8 2549.5,1062.8 2551.1,1059.7 2551.2,1056.5 2551.2,1041.6 2549.9,1038.4 2547.2,1035.1 2538.3,1026.6 2534.9,1024 2531.4,1022.5 2527.8,1022.1" fill="#f1f1f1" stroke="#000" stroke-width="1.2" stroke-linejoin="round"/><line x1="2516.2" y1="1051.8" x2="2514.3" y2="1048.1" stroke="#000" stroke-width="1.2" stroke-linecap="round"/><line x1="2514.3" y1="1048.1" x2="2513.7" y2="1044.7" stroke="#000" stroke-width="1.2" stroke-linecap="round"/><line x1="2551.2" y1="1052.8" x2="2551.1" y2="1056" stroke="#000" stroke-width="1.2" stroke-linecap="round"/><line x1="2551.1" y1="1056" x2="2549.5" y2="1059.1" stroke="#000" stroke-width="1.2" stroke-linecap="round"/><line x1="2549.5" y1="1059.1" x2="2546.5" y2="1062.1" stroke="#000" stroke-width="1.2" stroke-linecap="round"/><line x1="2546.5" y1="1062.1" x2="2540.4" y2="1067" stroke="#000" stroke-width="1.2" stroke-linecap="round"/><line x1="2540.4" y1="1067" x2="2536.7" y2="1069.3" stroke="#000" stroke-width="1.2" stroke-linecap="round"/><line x1="2536.7" y1="1069.3" x2="2533.3" y2="1070.2" stroke="#000" stroke-width="1.2" stroke-linecap="round"/><line x1="2533.3" y1="1070.2" x2="2530.1" y2="1069.7" stroke="#000" stroke-width="1.2" stroke-linecap="round"/><line x1="2530.1" y1="1069.7" x2="2527.2" y2="1067.7" stroke="#000" stroke-width="1.2" stroke-linecap="round"/><line x1="2527.2" y1="1067.7" x2="2524.4" y2="1064.4" stroke="#000" stroke-width="1.2" stroke-linecap="round"/><line x1="2524.4" y1="1064.4" x2="2516.2" y2="1051.8" stroke="#000" stroke-width="1.2" stroke-linecap="round"/><polygon points="2516.2,1040.7 2514.3,1037 2513.7,1033.5 2514.4,1030.4 2516.4,1027.5 2519.7,1025 2520.2,1024.7 2524.1,1022.8 2527.8,1022.1 2531.4,1022.5 2534.9,1024 2538.3,1026.6 2547.2,1035.1 2549.9,1038.4 2551.2,1041.6 2551.1,1044.8 2549.5,1047.9 2546.5,1050.9 2540.4,1055.8 2536.7,1058.1 2533.3,1059 2530.1,1058.5 2527.2,1056.6 2524.4,1053.3" fill="#f1f1f1" stroke="#000" stroke-width="1.2" stroke-linejoin="round"/>
<polygon points="2180.5,1043.4 2162.3,1050.9 2162.3,1064.5 2180.5,1057.1" fill="#f1f1f1" stroke="#000" stroke-width="1.2" /><polygon points="2162.3,1050.9 2141.2,1027.3 2141.2,1041 2162.3,1064.5" fill="#f1f1f1" stroke="#000" stroke-width="1.2" /><polygon points="2141.2,1027.3 2158.6,1021.1 2180.5,1043.4 2162.3,1050.9" fill="#f1f1f1" stroke="#000" stroke-width="1.2" />
<polygon points="2448.6,1019 2429.3,1027.1 2425.9,1028.9 2423.2,1031.2 2421.3,1034.1 2420.2,1037.5 2419.8,1041.3 2419.8,1041.8 2419.8,1056.2 2419.8,1056.7 2420.1,1060.7 2421.2,1064.2 2422.9,1067.4 2425.3,1070.2 2428.4,1072.6 2442.3,1081.7 2447.1,1084.3 2452,1086.1 2457.1,1087 2462.3,1087 2467.7,1086.1 2495,1079.6 2499,1078.2 2502.2,1076.1 2504.6,1073.2 2506.1,1069.7 2506.8,1065.4 2506.8,1064.9 2506.8,1050 2506.6,1045.6 2505.6,1041.7 2503.7,1038.3 2500.9,1035.4 2497.3,1033 2473.8,1020.3 2468.9,1018.1 2463.9,1016.9 2458.8,1016.6 2453.7,1017.4" fill="#f1f1f1" stroke="#000" stroke-width="1.2" stroke-linejoin="round"/><line x1="2506.8" y1="1061.1" x2="2506.8" y2="1061.7" stroke="#000" stroke-width="1.2" stroke-linecap="round"/><line x1="2506.8" y1="1061.7" x2="2506.1" y2="1066" stroke="#000" stroke-width="1.2" stroke-linecap="round"/><line x1="2506.1" y1="1066" x2="2504.6" y2="1069.5" stroke="#000" stroke-width="1.2" stroke-linecap="round"/><line x1="2504.6" y1="1069.5" x2="2502.2" y2="1072.3" stroke="#000" stroke-width="1.2" stroke-linecap="round"/><line x1="2502.2" y1="1072.3" x2="2499" y2="1074.5" stroke="#000" stroke-width="1.2" stroke-linecap="round"/><line x1="2499" y1="1074.5" x2="2495" y2="1075.9" stroke="#000" stroke-width="1.2" stroke-linecap="round"/><line x1="2495" y1="1075.9" x2="2467.7" y2="1082.4" stroke="#000" stroke-width="1.2" stroke-linecap="round"/><line x1="2467.7" y1="1082.4" x2="2462.3" y2="1083.3" stroke="#000" stroke-width="1.2" stroke-linecap="round"/><line x1="2462.3" y1="1083.3" x2="2457.1" y2="1083.2" stroke="#000" stroke-width="1.2" stroke-linecap="round"/><line x1="2457.1" y1="1083.2" x2="2452" y2="1082.4" stroke="#000" stroke-width="1.2" stroke-linecap="round"/><line x1="2452" y1="1082.4" x2="2447.1" y2="1080.6" stroke="#000" stroke-width="1.2" stroke-linecap="round"/><line x1="2447.1" y1="1080.6" x2="2442.3" y2="1078" stroke="#000" stroke-width="1.2" stroke-linecap="round"/><line x1="2442.3" y1="1078" x2="2428.4" y2="1068.9" stroke="#000" stroke-width="1.2" stroke-linecap="round"/><line x1="2428.4" y1="1068.9" x2="2425.3" y2="1066.5" stroke="#000" stroke-width="1.2" stroke-linecap="round"/><line x1="2425.3" y1="1066.5" x2="2422.9" y2="1063.7" stroke="#000" stroke-width="1.2" stroke-linecap="round"/><line x1="2422.9" y1="1063.7" x2="2421.2" y2="1060.5" stroke="#000" stroke-width="1.2" stroke-linecap="round"/><line x1="2421.2" y1="1060.5" x2="2420.1" y2="1056.9" stroke="#000" stroke-width="1.2" stroke-linecap="round"/><line x1="2420.1" y1="1056.9" x2="2419.8" y2="1053" stroke="#000" stroke-width="1.2" stroke-linecap="round"/><polygon points="2419.8,1041.3 2420.2,1037.5 2421.3,1034.1 2423.2,1031.2 2425.9,1028.9 2429.3,1027.1 2448.6,1019 2453.7,1017.4 2458.8,1016.6 2463.9,1016.9 2468.9,1018.1 2473.8,1020.3 2497.3,1033 2500.9,1035.4 2503.7,1038.3 2505.6,1041.7 2506.6,1045.6 2506.8,1050 2506.8,1050.6 2506.1,1054.8 2504.6,1058.3 2502.2,1061.2 2499,1063.3 2495,1064.7 2467.7,1071.2 2462.3,1072.1 2457.1,1072.1 2452,1071.2 2447.1,1069.4 2442.3,1066.8 2428.4,1057.7 2425.3,1055.3 2422.9,1052.5 2421.2,1049.3 2420.1,1045.8 2419.8,1041.8" fill="#f1f1f1" stroke="#000" stroke-width="1.2" stroke-linejoin="round"/>
<polygon points="2444.8,1039.6 2461.5,1032.6 2479.8,1042.6 2479.3,1052 2458.5,1057 2444.8,1048" fill="#f1f1f1" stroke="#000" stroke-width="1.2" /><polygon points="2444.8,1039.6 2444.8,1048 2445,1048.2 2461.5,1041.3 2461.5,1032.6" fill="#f1f1f1" stroke="#000" stroke-width="1.1" /><polygon points="2461.5,1032.6 2461.5,1041.3 2479.4,1051 2479.8,1042.6" fill="#f1f1f1" stroke="#000" stroke-width="1.1" />
<polygon points="1957.5,1041 1895,1060 1895,1077.5 1957.5,1058.5" fill="#f1f1f1" stroke="#000" stroke-width="1.2" /><polygon points="1895,1060 1887.5,1052 1887.5,1069.5 1895,1077.5" fill="#f1f1f1" stroke="#000" stroke-width="1.2" /><polygon points="1887.5,1052 1950,1032.5 1957.5,1041 1895,1060" fill="#f1f1f1" stroke="#000" stroke-width="1.2" />
<polygon points="2389.7,1040.2 2381.8,1042.5 2379.2,1043.5 2377.7,1044.9 2377.1,1046.6 2377.1,1057.8 2377.6,1059.8 2379,1062.2 2389.5,1075.6 2391.6,1077.8 2393.9,1079.2 2396.4,1079.9 2399.1,1079.9 2402,1079.1 2412.3,1075.3 2414.8,1074 2416.2,1072.6 2416.6,1070.8 2416.6,1059.7 2415.9,1057.7 2414.2,1055.5 2403,1043.8 2400.7,1041.8 2398.2,1040.4 2395.6,1039.7 2392.7,1039.6" fill="#f1f1f1" stroke="#000" stroke-width="1.2" stroke-linejoin="round"/><line x1="2379" y1="1058.9" x2="2377.6" y2="1056.6" stroke="#000" stroke-width="1.2" stroke-linecap="round"/><line x1="2377.6" y1="1056.6" x2="2377.1" y2="1054.5" stroke="#000" stroke-width="1.2" stroke-linecap="round"/><line x1="2416.6" y1="1067.6" x2="2416.2" y2="1069.3" stroke="#000" stroke-width="1.2" stroke-linecap="round"/><line x1="2416.2" y1="1069.3" x2="2414.8" y2="1070.8" stroke="#000" stroke-width="1.2" stroke-linecap="round"/><line x1="2414.8" y1="1070.8" x2="2412.3" y2="1072" stroke="#000" stroke-width="1.2" stroke-linecap="round"/><line x1="2412.3" y1="1072" x2="2402" y2="1075.9" stroke="#000" stroke-width="1.2" stroke-linecap="round"/><line x1="2402" y1="1075.9" x2="2399.1" y2="1076.6" stroke="#000" stroke-width="1.2" stroke-linecap="round"/><line x1="2399.1" y1="1076.6" x2="2396.4" y2="1076.7" stroke="#000" stroke-width="1.2" stroke-linecap="round"/><line x1="2396.4" y1="1076.7" x2="2393.9" y2="1076" stroke="#000" stroke-width="1.2" stroke-linecap="round"/><line x1="2393.9" y1="1076" x2="2391.6" y2="1074.5" stroke="#000" stroke-width="1.2" stroke-linecap="round"/><line x1="2391.6" y1="1074.5" x2="2389.5" y2="1072.4" stroke="#000" stroke-width="1.2" stroke-linecap="round"/><line x1="2389.5" y1="1072.4" x2="2379" y2="1058.9" stroke="#000" stroke-width="1.2" stroke-linecap="round"/><polygon points="2379,1051 2377.6,1048.6 2377.1,1046.6 2377.7,1044.9 2379.2,1043.5 2381.8,1042.5 2389.7,1040.2 2392.7,1039.6 2395.6,1039.7 2398.2,1040.4 2400.7,1041.8 2403,1043.8 2414.2,1055.5 2415.9,1057.7 2416.6,1059.7 2416.2,1061.4 2414.8,1062.9 2412.3,1064.1 2402,1068 2399.1,1068.7 2396.4,1068.7 2393.9,1068 2391.6,1066.6 2389.5,1064.4" fill="#f1f1f1" stroke="#000" stroke-width="1.2" stroke-linejoin="round"/>
<polygon points="2336.1,1049.6 2256.7,1086.9 2256.7,1104.3 2336.1,1067" fill="#f1f1f1" stroke="#000" stroke-width="1.2" /><polygon points="2256.7,1086.9 2223.2,1052.1 2223.2,1069.5 2256.7,1104.3" fill="#f1f1f1" stroke="#000" stroke-width="1.2" /><polygon points="2223.2,1052.1 2307.6,1019.9 2336.1,1049.6 2256.7,1086.9" fill="#f1f1f1" stroke="#000" stroke-width="1.2" /><polygon points="2268.5,1049.6 2293.9,1040 2302.4,1048.9 2278.6,1060.1" fill="#f1f1f1" stroke="#000" stroke-width="1.2" /><polygon points="2268.5,1049.6 2277.3,1058.7 2293.9,1052.4 2293.9,1040" fill="#f1f1f1" stroke="#000" stroke-width="1.1" /><polygon points="2293.9,1040 2293.9,1052.4 2294.2,1052.7 2302.4,1048.9" fill="#f1f1f1" stroke="#000" stroke-width="1.1" />
<polygon points="2113.9,1043.4 2094.1,1050.9 2094.1,1075.7 2113.9,1068.3" fill="#f1f1f1" stroke="#000" stroke-width="1.2" /><polygon points="2094.1,1050.9 2075.4,1033.5 2075.4,1058.3 2094.1,1075.7" fill="#f1f1f1" stroke="#000" stroke-width="1.2" /><polygon points="2075.4,1033.5 2095.3,1027.3 2113.9,1043.4 2094.1,1050.9" fill="#f1f1f1" stroke="#000" stroke-width="1.2" />
<polygon points="2677.4,1078.6 2639.9,1085 2639.9,1091.4 2677.4,1085" fill="#f1f1f1" stroke="#000" stroke-width="1.2" /><polygon points="2639.9,1085 2636.2,1075.5 2636.2,1081.9 2639.9,1091.4" fill="#f1f1f1" stroke="#000" stroke-width="1.2" /><polygon points="2636.2,1075.5 2673.7,1069.4 2677.4,1078.6 2639.9,1085" fill="#f1f1f1" stroke="#000" stroke-width="1.2" />
<polygon points="2699.4,1034.6 2725.9,1034.6 2725.9,1085 2699.4,1085" fill="#f1f1f1" stroke="#000" stroke-width="1.2" />
<polygon points="1628,1065 1625,1067.5 1625,1101.5 1628,1099" fill="#f1f1f1" stroke="#000" stroke-width="1.2" /><polygon points="1625,1067.5 1621.5,1065 1621.5,1099 1625,1101.5" fill="#f1f1f1" stroke="#000" stroke-width="1.2" /><polygon points="1621.5,1065 1624.5,1062.5 1628,1065 1625,1067.5" fill="#f1f1f1" stroke="#000" stroke-width="1.2" />
<polygon points="2642.2,1102.2 2599.6,1119.4 2599.6,1126.4 2642.2,1109.1" fill="#f1f1f1" stroke="#000" stroke-width="1.2" /><polygon points="2599.6,1119.4 2567.5,1096 2567.5,1102.9 2599.6,1126.4" fill="#f1f1f1" stroke="#000" stroke-width="1.2" /><polygon points="2567.5,1096 2608.2,1080 2642.2,1102.2 2599.6,1119.4" fill="#f1f1f1" stroke="#000" stroke-width="1.2" /><polygon points="2591.5,1098.2 2605.7,1092.6 2617.6,1100.4 2602.7,1106.4" fill="#f1f1f1" stroke="#000" stroke-width="1.2" /><polygon points="2591.5,1098.2 2595.4,1101.1 2605.7,1097.1 2605.7,1092.6" fill="#f1f1f1" stroke="#000" stroke-width="1.1" /><polygon points="2605.7,1092.6 2605.7,1097.1 2613.4,1102.1 2617.6,1100.4" fill="#f1f1f1" stroke="#000" stroke-width="1.1" />
<polygon points="2444.6,1091.1 2423,1103 2423,1122.9 2444.6,1111" fill="#f1f1f1" stroke="#000" stroke-width="1.2" /><polygon points="2423,1103 2406.4,1087.6 2406.4,1107.5 2423,1122.9" fill="#f1f1f1" stroke="#000" stroke-width="1.2" /><polygon points="2406.4,1087.6 2426.7,1078.2 2444.6,1091.1 2423,1103" fill="#f1f1f1" stroke="#000" stroke-width="1.2" />
<polygon points="2230.6,1101.8 2163.6,1130.3 2163.6,1147.7 2230.6,1119.2" fill="#f1f1f1" stroke="#000" stroke-width="1.2" /><polygon points="2163.6,1130.3 2120.1,1084.4 2120.1,1101.8 2163.6,1147.7" fill="#f1f1f1" stroke="#000" stroke-width="1.2" /><polygon points="2120.1,1084.4 2193.4,1060.3 2230.6,1101.8 2163.6,1130.3" fill="#f1f1f1" stroke="#000" stroke-width="1.2" /><polygon points="2156.5,1087 2182.8,1078.3 2196.2,1093.2 2172.1,1103.5" fill="#f1f1f1" stroke="#000" stroke-width="1.2" /><polygon points="2156.5,1087 2165.4,1096.4 2182.8,1090.7 2182.8,1078.3" fill="#f1f1f1" stroke="#000" stroke-width="1.1" /><polygon points="2182.8,1078.3 2182.8,1090.7 2188.2,1096.6 2196.2,1093.2" fill="#f1f1f1" stroke="#000" stroke-width="1.1" />
<polygon points="2273.3,1078.2 2256.7,1085.6 2256.7,1106.7 2273.3,1099.3" fill="#f1f1f1" stroke="#000" stroke-width="1.2" /><polygon points="2256.7,1085.6 2235.6,1064.5 2235.6,1085.6 2256.7,1106.7" fill="#f1f1f1" stroke="#000" stroke-width="1.2" /><polygon points="2235.6,1064.5 2252.9,1057.8 2273.3,1078.2 2256.7,1085.6" fill="#f1f1f1" stroke="#000" stroke-width="1.2" />
<polygon points="2573.2,1115.7 2520.7,1136.2 2520.7,1143.1 2573.2,1122.7" fill="#f1f1f1" stroke="#000" stroke-width="1.2" /><polygon points="2520.7,1136.2 2483.7,1103.4 2483.7,1110.3 2520.7,1143.1" fill="#f1f1f1" stroke="#000" stroke-width="1.2" /><polygon points="2483.7,1103.4 2536.2,1083 2573.2,1115.7 2520.7,1136.2" fill="#f1f1f1" stroke="#000" stroke-width="1.2" /><polygon points="2508.3,1106.8 2531.9,1097.6 2548.6,1112.4 2525,1121.6" fill="#f1f1f1" stroke="#000" stroke-width="1.2" /><polygon points="2508.3,1106.8 2512.2,1110.2 2531.9,1102.5 2531.9,1097.6" fill="#f1f1f1" stroke="#000" stroke-width="1.1" /><polygon points="2531.9,1097.6 2531.9,1102.5 2544.7,1113.9 2548.6,1112.4" fill="#f1f1f1" stroke="#000" stroke-width="1.1" />
<polyline points="2406.4,1087.6 2424.3,1091.8 2444.6,1091.1" fill="none" stroke="#000" stroke-width="1.0"/>
<polyline points="2424.3,1091.8 2423,1103" fill="none" stroke="#000" stroke-width="1.0"/>
<polygon points="2158.6,1094.3 2138.7,1101.8 2138.7,1126.6 2158.6,1119.2" fill="#f1f1f1" stroke="#000" stroke-width="1.2" /><polygon points="2138.7,1101.8 2127.6,1089.4 2127.6,1114.2 2138.7,1126.6" fill="#f1f1f1" stroke="#000" stroke-width="1.2" /><polygon points="2127.6,1089.4 2147.4,1081.9 2158.6,1094.3 2138.7,1101.8" fill="#f1f1f1" stroke="#000" stroke-width="1.2" />
<polygon points="2692.5,1065.2 2725.3,1065.2 2725.3,1104.7 2692.5,1104.7" fill="#f1f1f1" stroke="#000" stroke-width="1.2" />
<polygon points="2668.6,1110.8 2697,1110.8 2697,1134.7 2668.6,1134.7" fill="#f1f1f1" stroke="#000" stroke-width="1.2" />
<polygon points="2697,1086.2 2724.1,1086.2 2724.1,1134.7 2697,1134.7" fill="#f1f1f1" stroke="#000" stroke-width="1.2" />
<polygon points="2641.5,1137.9 2630.9,1145.3 2630.9,1152.2 2641.5,1144.8" fill="#f1f1f1" stroke="#000" stroke-width="1.2" /><polygon points="2630.9,1145.3 2608.2,1128.1 2608.2,1135 2630.9,1152.2" fill="#f1f1f1" stroke="#000" stroke-width="1.2" /><polygon points="2608.2,1128.1 2620.5,1121.9 2641.5,1137.9 2630.9,1145.3" fill="#f1f1f1" stroke="#000" stroke-width="1.2" />
<polygon points="2218.2,1099.3 2195.8,1108 2195.8,1131.6 2218.2,1122.9" fill="#f1f1f1" stroke="#000" stroke-width="1.2" /><polygon points="2195.8,1108 2187.2,1096.8 2187.2,1120.4 2195.8,1131.6" fill="#f1f1f1" stroke="#000" stroke-width="1.2" /><polygon points="2187.2,1096.8 2210.7,1088.1 2218.2,1099.3 2195.8,1108" fill="#f1f1f1" stroke="#000" stroke-width="1.2" />
<polygon points="2507.4,1142.2 2468.9,1158.3 2468.9,1167 2507.4,1150.9" fill="#f1f1f1" stroke="#000" stroke-width="1.2" /><polygon points="2468.9,1158.3 2432.4,1132.3 2432.4,1141 2468.9,1167" fill="#f1f1f1" stroke="#000" stroke-width="1.2" /><polygon points="2432.4,1132.3 2470.2,1116.1 2507.4,1142.2 2468.9,1158.3" fill="#f1f1f1" stroke="#000" stroke-width="1.2" /><polygon points="2455.6,1135.4 2469.9,1129.2 2484.1,1139.1 2469.4,1145.3" fill="#f1f1f1" stroke="#000" stroke-width="1.2" /><polygon points="2455.6,1135.4 2461,1139.2 2469.9,1135.4 2469.9,1129.2" fill="#f1f1f1" stroke="#000" stroke-width="1.1" /><polygon points="2469.9,1129.2 2469.9,1135.4 2478.5,1141.5 2484.1,1139.1" fill="#f1f1f1" stroke="#000" stroke-width="1.1" />
<polygon points="2417.5,1139.7 2347.8,1167 2347.8,1180.7 2417.5,1153.4" fill="#f1f1f1" stroke="#000" stroke-width="1.2" /><polygon points="2347.8,1167 2298.1,1129.8 2298.1,1143.4 2347.8,1180.7" fill="#f1f1f1" stroke="#000" stroke-width="1.2" /><polygon points="2298.1,1129.8 2367.1,1100 2417.5,1139.7 2347.8,1167" fill="#f1f1f1" stroke="#000" stroke-width="1.2" /><polygon points="2327.9,1132 2362.4,1117.1 2387.6,1136.9 2352.7,1150.6" fill="#f1f1f1" stroke="#000" stroke-width="1.2" /><polygon points="2327.9,1132 2336.3,1138.3 2362.4,1127 2362.4,1117.1" fill="#f1f1f1" stroke="#000" stroke-width="1.1" /><polygon points="2362.4,1117.1 2362.4,1127 2379.2,1140.2 2387.6,1136.9" fill="#f1f1f1" stroke="#000" stroke-width="1.1" />
<polygon points="1808.4,1166.5 1793.5,1172 1793.5,1186.9 1808.4,1181.4" fill="#f1f1f1" stroke="#000" stroke-width="1.2" /><polygon points="1793.5,1172 1728.2,1100 1728.2,1114.9 1793.5,1186.9" fill="#f1f1f1" stroke="#000" stroke-width="1.2" /><polygon points="1728.2,1100 1743.8,1095 1808.4,1166.5 1793.5,1172" fill="#f1f1f1" stroke="#000" stroke-width="1.2" />
<polygon points="2608.2,1155.9 2563.8,1173.7 2563.8,1174.4 2608.2,1156.7" fill="#f1f1f1" stroke="#000" stroke-width="1.2" /><polygon points="2563.8,1173.7 2530.5,1146.1 2530.5,1146.8 2563.8,1174.4" fill="#f1f1f1" stroke="#000" stroke-width="1.2" /><polygon points="2530.5,1146.1 2573.7,1128.1 2608.2,1155.9 2563.8,1173.7" fill="#f1f1f1" stroke="#000" stroke-width="1.2" />
<polygon points="2167.3,1116.7 2152.4,1121.6 2152.4,1139 2167.3,1134.1" fill="#f1f1f1" stroke="#000" stroke-width="1.2" /><polygon points="2152.4,1121.6 2141.2,1109.2 2141.2,1126.6 2152.4,1139" fill="#f1f1f1" stroke="#000" stroke-width="1.2" /><polygon points="2141.2,1109.2 2156.1,1104.3 2167.3,1116.7 2152.4,1121.6" fill="#f1f1f1" stroke="#000" stroke-width="1.2" />
<polygon points="2676.7,1137.9 2655.5,1149 2655.5,1167.5 2676.7,1156.4" fill="#f1f1f1" stroke="#000" stroke-width="1.2" /><polygon points="2655.5,1149 2639.8,1134.7 2639.8,1153.2 2655.5,1167.5" fill="#f1f1f1" stroke="#000" stroke-width="1.2" /><polygon points="2639.8,1134.7 2662.4,1125.6 2676.7,1137.9 2655.5,1149" fill="#f1f1f1" stroke="#000" stroke-width="1.2" />
<polygon points="2136.8,1142.7 2063,1165.8 2063,1183.2 2136.8,1160.1" fill="#f1f1f1" stroke="#000" stroke-width="1.2" /><polygon points="2063,1165.8 2051.4,1155.9 2051.4,1173.2 2063,1183.2" fill="#f1f1f1" stroke="#000" stroke-width="1.2" /><polygon points="2051.4,1155.9 2125.8,1132.8 2136.8,1142.7 2063,1165.8" fill="#f1f1f1" stroke="#000" stroke-width="1.2" />
<polygon points="2722.9,1142.9 2713,1188.5 2713,1190.5 2722.9,1144.8" fill="#f1f1f1" stroke="#000" stroke-width="1.2" /><polygon points="2713,1188.5 2676,1188.5 2676,1190.5 2713,1190.5" fill="#f1f1f1" stroke="#000" stroke-width="1.2" /><polygon points="2676,1188.5 2655.5,1166.3 2655.5,1168.3 2676,1190.5" fill="#f1f1f1" stroke="#000" stroke-width="1.2" /><polygon points="2655.5,1166.3 2677.2,1142.9 2722.9,1142.9 2713,1188.5 2676,1188.5" fill="#f1f1f1" stroke="#000" stroke-width="1.2" />
<polygon points="1765.4,1179.9 1690,1204.3 1690,1220.4 1765.4,1196.1" fill="#f1f1f1" stroke="#000" stroke-width="1.2" /><line x1="1765.4" y1="1185.4" x2="1690" y2="1209.7" stroke="#000" stroke-width="1.2"/><polygon points="1690,1204.3 1624.7,1132.3 1624.7,1148.4 1690,1220.4" fill="#f1f1f1" stroke="#000" stroke-width="1.2" /><line x1="1690" y1="1209.7" x2="1624.7" y2="1137.7" stroke="#000" stroke-width="1.2"/><polygon points="1624.7,1132.3 1699.2,1109.4 1765.4,1179.9 1690,1204.3" fill="#f1f1f1" stroke="#000" stroke-width="1.2" /><polygon points="1658.3,1143.9 1697.1,1132 1731.5,1168.7 1692.3,1181.3" fill="#f1f1f1" stroke="#000" stroke-width="1.2" /><polygon points="1658.3,1143.9 1667.1,1153.6 1697.1,1144.4 1697.1,1132" fill="#f1f1f1" stroke="#000" stroke-width="1.1" /><polygon points="1697.1,1132 1697.1,1144.4 1722.6,1171.6 1731.5,1168.7" fill="#f1f1f1" stroke="#000" stroke-width="1.1" />
<polygon points="2448.6,1170.8 2426.7,1178.9 2426.7,1186.4 2448.6,1178.2" fill="#f1f1f1" stroke="#000" stroke-width="1.2" /><polygon points="2426.7,1178.9 2410.6,1160.8 2410.6,1168.3 2426.7,1186.4" fill="#f1f1f1" stroke="#000" stroke-width="1.2" /><polygon points="2410.6,1160.8 2430.5,1152.6 2448.6,1170.8 2426.7,1178.9" fill="#f1f1f1" stroke="#000" stroke-width="1.2" />
<polygon points="2300.1,1167 2225.6,1194.3 2225.6,1205.5 2300.1,1178.2" fill="#f1f1f1" stroke="#000" stroke-width="1.2" /><polygon points="2225.6,1194.3 2187.2,1165 2187.2,1176.2 2225.6,1205.5" fill="#f1f1f1" stroke="#000" stroke-width="1.2" /><polygon points="2187.2,1165 2262.9,1132.8 2300.1,1167 2225.6,1194.3" fill="#f1f1f1" stroke="#000" stroke-width="1.2" /><polygon points="2209.9,1164.9 2255.3,1145.6 2277.7,1166.1 2233,1182.5" fill="#f1f1f1" stroke="#000" stroke-width="1.2" /><polygon points="2209.9,1164.9 2215.1,1168.9 2255.3,1151.8 2255.3,1145.6" fill="#f1f1f1" stroke="#000" stroke-width="1.1" /><polygon points="2255.3,1145.6 2255.3,1151.8 2272.8,1167.9 2277.7,1166.1" fill="#f1f1f1" stroke="#000" stroke-width="1.1" />
<polygon points="2648.9,1184.8 2605.7,1205.7 2605.7,1211.9 2648.9,1190.9" fill="#f1f1f1" stroke="#000" stroke-width="1.2" /><polygon points="2605.7,1205.7 2573.2,1177.4 2573.2,1183.6 2605.7,1211.9" fill="#f1f1f1" stroke="#000" stroke-width="1.2" /><polygon points="2573.2,1177.4 2616.8,1158.9 2648.9,1184.8 2605.7,1205.7" fill="#f1f1f1" stroke="#000" stroke-width="1.2" /><polygon points="2597.9,1180.2 2613.1,1173.7 2624.4,1182.8 2609.3,1190.1" fill="#f1f1f1" stroke="#000" stroke-width="1.2" /><polygon points="2597.9,1180.2 2601.3,1183.2 2613.1,1178.2 2613.1,1173.7" fill="#f1f1f1" stroke="#000" stroke-width="1.1" /><polygon points="2613.1,1173.7 2613.1,1178.2 2620.9,1184.4 2624.4,1182.8" fill="#f1f1f1" stroke="#000" stroke-width="1.1" />
<polygon points="2323.7,1185.7 2277.8,1203 2277.8,1209.2 2323.7,1191.9" fill="#f1f1f1" stroke="#000" stroke-width="1.2" /><polygon points="2277.8,1203 2266.6,1193.1 2266.6,1199.3 2277.8,1209.2" fill="#f1f1f1" stroke="#000" stroke-width="1.2" /><polygon points="2266.6,1193.1 2312.5,1175.7 2323.7,1185.7 2277.8,1203" fill="#f1f1f1" stroke="#000" stroke-width="1.2" />
<polygon points="1501.8,1198.1 1481.9,1191.4 1481.9,1201.3 1501.8,1208" fill="#f1f1f1" stroke="#000" stroke-width="1.2" /><polygon points="1481.9,1191.4 1491.9,1174.5 1501.8,1184.4 1501.8,1198.1" fill="#f1f1f1" stroke="#000" stroke-width="1.2" />
<polygon points="2508.7,1198.1 2456,1224.1 2456,1231.6 2508.7,1205.5" fill="#f1f1f1" stroke="#000" stroke-width="1.2" /><polygon points="2456,1224.1 2418.8,1193.8 2418.8,1201.3 2456,1231.6" fill="#f1f1f1" stroke="#000" stroke-width="1.2" /><polygon points="2418.8,1193.8 2468.9,1167 2508.7,1198.1 2456,1224.1" fill="#f1f1f1" stroke="#000" stroke-width="1.2" /><polygon points="2443.2,1194.9 2465.7,1182.8 2483.6,1196.8 2459.9,1208.5" fill="#f1f1f1" stroke="#000" stroke-width="1.2" /><polygon points="2443.2,1194.9 2447.8,1198.6 2465.7,1189 2465.7,1182.8" fill="#f1f1f1" stroke="#000" stroke-width="1.1" /><polygon points="2465.7,1182.8 2465.7,1189 2478.7,1199.2 2483.6,1196.8" fill="#f1f1f1" stroke="#000" stroke-width="1.1" />
<polygon points="1661.2,1212.2 1585.7,1236 1585.7,1252.2 1661.2,1228.4" fill="#f1f1f1" stroke="#000" stroke-width="1.2" /><line x1="1661.2" y1="1217.7" x2="1585.7" y2="1241.5" stroke="#000" stroke-width="1.2"/><polygon points="1585.7,1236 1520.4,1165 1520.4,1181.2 1585.7,1252.2" fill="#f1f1f1" stroke="#000" stroke-width="1.2" /><line x1="1585.7" y1="1241.5" x2="1520.4" y2="1170.5" stroke="#000" stroke-width="1.2"/><polygon points="1520.4,1165 1594.9,1141.7 1661.2,1212.2 1585.7,1236" fill="#f1f1f1" stroke="#000" stroke-width="1.2" /><polygon points="1554.1,1176.4 1592.8,1164.3 1627.3,1201 1588,1213.3" fill="#f1f1f1" stroke="#000" stroke-width="1.2" /><polygon points="1554.1,1176.4 1562.9,1186.1 1592.8,1176.7 1592.8,1164.3" fill="#f1f1f1" stroke="#000" stroke-width="1.1" /><polygon points="1592.8,1164.3 1592.8,1176.7 1618.3,1203.8 1627.3,1201" fill="#f1f1f1" stroke="#000" stroke-width="1.1" />
<polygon points="2419.3,1215.4 2405.6,1221.6 2405.6,1228.6 2419.3,1222.4" fill="#f1f1f1" stroke="#000" stroke-width="1.2" /><polygon points="2405.6,1221.6 2362.7,1181.9 2362.7,1188.9 2405.6,1228.6" fill="#f1f1f1" stroke="#000" stroke-width="1.2" /><polygon points="2362.7,1181.9 2377.6,1175.7 2419.3,1215.4 2405.6,1221.6" fill="#f1f1f1" stroke="#000" stroke-width="1.2" />
<polygon points="2391.5,1186.9 2375.1,1193.8 2375.1,1204.3 2391.5,1197.3" fill="#f1f1f1" stroke="#000" stroke-width="1.2" /><polygon points="2375.1,1193.8 2362.7,1181.9 2362.7,1192.4 2375.1,1204.3" fill="#f1f1f1" stroke="#000" stroke-width="1.2" /><polygon points="2362.7,1181.9 2379.6,1175.7 2391.5,1186.9 2375.1,1193.8" fill="#f1f1f1" stroke="#000" stroke-width="1.2" />
<polygon points="2580.6,1200.3 2566.3,1207.7 2566.3,1217.6 2580.6,1210.2" fill="#f1f1f1" stroke="#000" stroke-width="1.2" /><polygon points="2566.3,1207.7 2555.2,1198.3 2555.2,1208.2 2566.3,1217.6" fill="#f1f1f1" stroke="#000" stroke-width="1.2" /><polygon points="2555.2,1198.3 2570,1191.4 2580.6,1200.3 2566.3,1207.7" fill="#f1f1f1" stroke="#000" stroke-width="1.2" />
<polygon points="1841.4,1204.3 1827,1208.7 1827,1223.6 1841.4,1219.2" fill="#f1f1f1" stroke="#000" stroke-width="1.2" /><polygon points="1827,1208.7 1808.4,1186.9 1808.4,1201.8 1827,1223.6" fill="#f1f1f1" stroke="#000" stroke-width="1.2" /><polygon points="1808.4,1186.9 1823.3,1183.2 1841.4,1204.3 1827,1208.7" fill="#f1f1f1" stroke="#000" stroke-width="1.2" />
<polygon points="2549,1156.4 2546.6,1157.4 2546.6,1183.3 2549,1182.3" fill="#f1f1f1" stroke="#000" stroke-width="1.2" /><polygon points="2546.6,1157.4 2544.6,1155.9 2544.6,1181.8 2546.6,1183.3" fill="#f1f1f1" stroke="#000" stroke-width="1.2" /><polygon points="2544.6,1155.9 2547.1,1155 2549,1156.4 2546.6,1157.4" fill="#f1f1f1" stroke="#000" stroke-width="1.2" />
<polygon points="2341.1,1199.3 2321.2,1209.2 2321.2,1221.6 2341.1,1211.7" fill="#f1f1f1" stroke="#000" stroke-width="1.2" /><polygon points="2321.2,1209.2 2302.6,1200.5 2302.6,1213 2321.2,1221.6" fill="#f1f1f1" stroke="#000" stroke-width="1.2" /><polygon points="2302.6,1190.6 2320,1181.9 2341.1,1190.6 2341.1,1199.3 2321.2,1209.2 2302.6,1200.5" fill="#f1f1f1" stroke="#000" stroke-width="1.2" />
<polygon points="2192.1,1206.3 2109,1225.4 2109,1236.5 2192.1,1217.4" fill="#f1f1f1" stroke="#000" stroke-width="1.2" /><polygon points="2109,1225.4 2090.3,1202.3 2090.3,1213.5 2109,1236.5" fill="#f1f1f1" stroke="#000" stroke-width="1.2" /><polygon points="2090.3,1202.3 2161.1,1174.5 2192.1,1206.3 2109,1225.4" fill="#f1f1f1" stroke="#000" stroke-width="1.2" />
<polygon points="2667.4,1201.3 2625.5,1223 2625.5,1228.4 2667.4,1206.7" fill="#f1f1f1" stroke="#000" stroke-width="1.2" /><polygon points="2625.5,1223 2614.4,1214.4 2614.4,1219.8 2625.5,1228.4" fill="#f1f1f1" stroke="#000" stroke-width="1.2" /><polygon points="2614.4,1214.4 2656.3,1193.9 2667.4,1201.3 2625.5,1223" fill="#f1f1f1" stroke="#000" stroke-width="1.2" />
<polygon points="2558.4,1203.8 2549,1214.4 2549,1226.7 2558.4,1216.1" fill="#f1f1f1" stroke="#000" stroke-width="1.2" /><polygon points="2549,1214.4 2537.9,1205.7 2537.9,1218.1 2549,1226.7" fill="#f1f1f1" stroke="#000" stroke-width="1.2" /><polygon points="2537.9,1205.7 2547.8,1195.9 2558.4,1203.8 2549,1214.4" fill="#f1f1f1" stroke="#000" stroke-width="1.2" />
<polygon points="1480.7,1141 1457.1,1147.7 1457.1,1201 1480.7,1194.3" fill="#f1f1f1" stroke="#000" stroke-width="1.2" /><polygon points="1457.1,1147.7 1448.4,1136 1448.4,1189.4 1457.1,1201" fill="#f1f1f1" stroke="#000" stroke-width="1.2" /><polygon points="1448.4,1136 1470.8,1129.3 1480.7,1141 1457.1,1147.7" fill="#f1f1f1" stroke="#000" stroke-width="1.2" />
<polygon points="2605.7,1216.8 2581.1,1223 2581.1,1235.3 2605.7,1229.2" fill="#f1f1f1" stroke="#000" stroke-width="1.2" /><polygon points="2581.1,1223 2567.5,1208.2 2567.5,1220.5 2581.1,1235.3" fill="#f1f1f1" stroke="#000" stroke-width="1.2" /><polygon points="2567.5,1208.2 2583.6,1202 2605.7,1216.8 2581.1,1223" fill="#f1f1f1" stroke="#000" stroke-width="1.2" />
<polygon points="1940,1209.2 1937.5,1191.9 1937.5,1208 1940,1225.4" fill="#f1f1f1" stroke="#000" stroke-width="1.2" /><polygon points="1970,1216.7 1866.7,1249 1866.7,1265.1 1970,1232.8" fill="#f1f1f1" stroke="#000" stroke-width="1.2" /><polygon points="1866.7,1249 1840.7,1221.6 1840.7,1237.8 1866.7,1265.1" fill="#f1f1f1" stroke="#000" stroke-width="1.2" /><polygon points="1840.7,1221.6 1856.3,1216.7 1871.7,1235.3 1940,1209.2 1937.5,1191.9 1952.4,1186.9 1970,1206.8 1970,1216.7 1866.7,1249" fill="#f1f1f1" stroke="#000" stroke-width="1.2" />
<polygon points="2555.2,1218.1 2546.1,1226.7 2546.1,1241.5 2555.2,1232.9" fill="#f1f1f1" stroke="#000" stroke-width="1.2" /><polygon points="2546.1,1226.7 2529.3,1215.1 2529.3,1229.9 2546.1,1241.5" fill="#f1f1f1" stroke="#000" stroke-width="1.2" /><polygon points="2529.3,1215.1 2544.6,1208.2 2555.2,1218.1 2546.1,1226.7" fill="#f1f1f1" stroke="#000" stroke-width="1.2" />
<polygon points="2267.3,1210.5 2261.6,1224.1 2261.6,1240.3 2267.3,1226.6" fill="#f1f1f1" stroke="#000" stroke-width="1.2" /><polygon points="2261.6,1224.1 2235.6,1220.9 2235.6,1237 2261.6,1240.3" fill="#f1f1f1" stroke="#000" stroke-width="1.2" /><polygon points="2240.5,1207.2 2267.3,1210.5 2261.6,1224.1 2235.6,1220.9" fill="#f1f1f1" stroke="#000" stroke-width="1.2" />
<polygon points="2580.6,1221.8 2554,1234.1 2554,1248.9 2580.6,1236.6" fill="#f1f1f1" stroke="#000" stroke-width="1.2" /><polygon points="2554,1234.1 2546.1,1222.5 2546.1,1237.3 2554,1248.9" fill="#f1f1f1" stroke="#000" stroke-width="1.2" /><polygon points="2546.1,1222.5 2576.6,1211.9 2580.6,1221.8 2554,1234.1" fill="#f1f1f1" stroke="#000" stroke-width="1.2" />
<polyline points="2118.9,1209.2 2158.6,1193.1 2171,1206.8" fill="none" stroke="#000" stroke-width="1.1"/>
<polyline points="2122.6,1216.7 2148.7,1212.2 2173.5,1209.2" fill="none" stroke="#000" stroke-width="1.1"/>
<polyline points="2099,1209.2 2116.4,1204.3 2122.6,1216.7 2105.2,1222.1" fill="none" stroke="#000" stroke-width="1.1"/>
<polygon points="1556.9,1245.2 1488.1,1265.1 1488.1,1283.7 1556.9,1263.9" fill="#f1f1f1" stroke="#000" stroke-width="1.2" /><polygon points="1488.1,1265.1 1449.7,1200.5 1449.7,1219.2 1488.1,1283.7" fill="#f1f1f1" stroke="#000" stroke-width="1.2" /><polygon points="1449.7,1200.5 1481.9,1191.4 1513,1195.6 1556.9,1245.2 1488.1,1265.1" fill="#f1f1f1" stroke="#000" stroke-width="1.2" /><polygon points="1488.2,1214.5 1498.8,1211.5 1509.1,1212.9 1523.6,1229.3 1500.9,1235.8" fill="#f1f1f1" stroke="#000" stroke-width="1.2" /><polygon points="1488.2,1214.5 1494.5,1225.1 1498.8,1223.9 1498.8,1211.5" fill="#f1f1f1" stroke="#000" stroke-width="1.1" /><polygon points="1498.8,1211.5 1498.8,1223.9 1509.1,1225.3 1509.1,1212.9" fill="#f1f1f1" stroke="#000" stroke-width="1.1" /><polygon points="1509.1,1212.9 1509.1,1225.3 1514.8,1231.8 1523.6,1229.3" fill="#f1f1f1" stroke="#000" stroke-width="1.1" />
<polygon points="2533.7,1234.1 2517,1241.5 2517,1247.7 2533.7,1240.3" fill="#f1f1f1" stroke="#000" stroke-width="1.2" /><polygon points="2517,1241.5 2503.4,1231.6 2503.4,1237.8 2517,1247.7" fill="#f1f1f1" stroke="#000" stroke-width="1.2" /><polygon points="2503.4,1231.6 2519.4,1223.5 2533.7,1234.1 2517,1241.5" fill="#f1f1f1" stroke="#000" stroke-width="1.2" />
<polygon points="2533.5,1234.1 2518.6,1241.5 2518.6,1249 2533.5,1241.5" fill="#f1f1f1" stroke="#000" stroke-width="1.2" /><polygon points="2518.6,1241.5 2503.2,1231.6 2503.2,1239 2518.6,1249" fill="#f1f1f1" stroke="#000" stroke-width="1.2" /><polygon points="2503.2,1231.6 2518.6,1224.1 2533.5,1234.1 2518.6,1241.5" fill="#f1f1f1" stroke="#000" stroke-width="1.2" />
<polygon points="2081.6,1230.3 2025,1256.9 2025,1263.1 2081.6,1236.5" fill="#f1f1f1" stroke="#000" stroke-width="1.2" /><polygon points="2025,1256.9 2005.2,1239 2005.2,1245.2 2025,1263.1" fill="#f1f1f1" stroke="#000" stroke-width="1.2" /><polygon points="2005.2,1239 2059.8,1213.7 2081.6,1230.3 2025,1256.9" fill="#f1f1f1" stroke="#000" stroke-width="1.2" />
<polygon points="2653.1,1221.8 2637.8,1229.2 2637.8,1240.3 2653.1,1232.9" fill="#f1f1f1" stroke="#000" stroke-width="1.2" /><polygon points="2637.8,1229.2 2623.5,1215.1 2623.5,1226.2 2637.8,1240.3" fill="#f1f1f1" stroke="#000" stroke-width="1.2" /><polygon points="2623.5,1215.1 2640.3,1208.2 2653.1,1221.8 2637.8,1229.2" fill="#f1f1f1" stroke="#000" stroke-width="1.2" />
<line x1="2260.1" y1="1216" x2="2260.7" y2="1219.8" stroke="#000" stroke-width="2.2" stroke-dasharray="2.2 1.6"/>
<line x1="2256" y1="1215.3" x2="2257.4" y2="1223" stroke="#000" stroke-width="2.2" stroke-dasharray="2.2 1.6"/>
<line x1="2251.9" y1="1214.7" x2="2254" y2="1226.2" stroke="#000" stroke-width="2.2" stroke-dasharray="2.2 1.6"/>
<line x1="2247.9" y1="1214" x2="2250.6" y2="1229.3" stroke="#000" stroke-width="2.2" stroke-dasharray="2.2 1.6"/>
<line x1="2243.8" y1="1213.3" x2="2247.2" y2="1232.5" stroke="#000" stroke-width="2.2" stroke-dasharray="2.2 1.6"/>
<polygon points="2212.7,1242 2185.4,1244 2185.4,1257.6 2212.7,1255.7" fill="#f1f1f1" stroke="#000" stroke-width="1.2" /><polygon points="2185.4,1244 2182.9,1226.6 2182.9,1240.3 2185.4,1257.6" fill="#f1f1f1" stroke="#000" stroke-width="1.2" /><polygon points="2182.9,1226.6 2210.2,1224.6 2212.7,1242 2185.4,1244" fill="#f1f1f1" stroke="#000" stroke-width="1.2" />
<polygon points="2058.8,1225.4 2040.7,1233.6 2040.7,1243.5 2058.8,1235.3" fill="#f1f1f1" stroke="#000" stroke-width="1.2" /><polygon points="2040.7,1233.6 2032,1226.1 2032,1236 2040.7,1243.5" fill="#f1f1f1" stroke="#000" stroke-width="1.2" /><polygon points="2081.2,1229.1 2068.7,1235.3 2068.7,1245.2 2081.2,1239" fill="#f1f1f1" stroke="#000" stroke-width="1.2" /><polygon points="2068.7,1235.3 2058.8,1225.4 2058.8,1235.3 2068.7,1245.2" fill="#f1f1f1" stroke="#000" stroke-width="1.2" /><polygon points="2032,1226.1 2059.3,1213.7 2081.2,1229.1 2068.7,1235.3 2058.8,1225.4 2040.7,1233.6" fill="#f1f1f1" stroke="#000" stroke-width="1.2" />
<polygon points="2164.1,1244 2138.3,1249 2138.3,1263.9 2164.1,1258.9" fill="#f1f1f1" stroke="#000" stroke-width="1.2" /><polygon points="2138.3,1249 2130.8,1234.1 2130.8,1249 2138.3,1263.9" fill="#f1f1f1" stroke="#000" stroke-width="1.2" /><polygon points="2130.8,1234.1 2156.6,1229.6 2164.1,1244 2138.3,1249" fill="#f1f1f1" stroke="#000" stroke-width="1.2" />
<polygon points="2298.1,1236 2287.7,1249 2287.7,1264.3 2298.1,1251.4" fill="#f1f1f1" stroke="#000" stroke-width="1.2" /><polygon points="2287.7,1249 2262.4,1242 2262.4,1257.4 2287.7,1264.3" fill="#f1f1f1" stroke="#000" stroke-width="1.2" /><polygon points="2273.3,1229.1 2298.1,1236 2287.7,1249 2262.4,1242" fill="#f1f1f1" stroke="#000" stroke-width="1.2" />
<line x1="2205.7" y1="1237.7" x2="2206.6" y2="1241.3" stroke="#000" stroke-width="2.2" stroke-dasharray="2.2 1.6"/>
<line x1="2201.8" y1="1236.3" x2="2203.6" y2="1243.5" stroke="#000" stroke-width="2.2" stroke-dasharray="2.2 1.6"/>
<line x1="2198" y1="1235" x2="2200.7" y2="1245.8" stroke="#000" stroke-width="2.2" stroke-dasharray="2.2 1.6"/>
<line x1="2194.2" y1="1233.6" x2="2197.8" y2="1248.1" stroke="#000" stroke-width="2.2" stroke-dasharray="2.2 1.6"/>
<line x1="2190.3" y1="1232.3" x2="2194.8" y2="1250.3" stroke="#000" stroke-width="2.2" stroke-dasharray="2.2 1.6"/>
<polygon points="2389.5,1242.8 2357.2,1281.2 2357.2,1289.9 2389.5,1251.4" fill="#f1f1f1" stroke="#000" stroke-width="1.2" /><polygon points="2357.2,1281.2 2301.4,1261.4 2301.4,1270.1 2357.2,1289.9" fill="#f1f1f1" stroke="#000" stroke-width="1.2" /><polygon points="2301.4,1261.4 2333.1,1224.1 2389.5,1242.8 2357.2,1281.2" fill="#f1f1f1" stroke="#000" stroke-width="1.2" /><polygon points="2324.2,1256.7 2339.5,1238.8 2366.5,1247.8 2351,1266.2" fill="#f1f1f1" stroke="#000" stroke-width="1.2" /><polygon points="2324.2,1256.7 2328.3,1258.1 2339.5,1245 2339.5,1238.8" fill="#f1f1f1" stroke="#000" stroke-width="1.1" /><polygon points="2339.5,1238.8 2339.5,1245 2362.4,1252.6 2366.5,1247.8" fill="#f1f1f1" stroke="#000" stroke-width="1.1" />
<polygon points="1839.4,1260.9 1768.7,1284.2 1768.7,1305.3 1839.4,1282" fill="#f1f1f1" stroke="#000" stroke-width="1.2" /><line x1="1839.4" y1="1267.8" x2="1768.7" y2="1291.2" stroke="#000" stroke-width="1.2"/><polygon points="1768.7,1284.2 1704.6,1219.9 1704.6,1241 1768.7,1305.3" fill="#f1f1f1" stroke="#000" stroke-width="1.2" /><line x1="1768.7" y1="1291.2" x2="1704.6" y2="1226.9" stroke="#000" stroke-width="1.2"/><polygon points="1704.6,1219.9 1779.8,1196.8 1839.4,1260.9 1768.7,1284.2" fill="#f1f1f1" stroke="#000" stroke-width="1.2" /><polygon points="1737.5,1229.8 1776.6,1217.8 1807.6,1251.1 1770.8,1263.2" fill="#f1f1f1" stroke="#000" stroke-width="1.2" /><polygon points="1737.5,1229.8 1747.9,1240.2 1776.6,1231.4 1776.6,1217.8" fill="#f1f1f1" stroke="#000" stroke-width="1.1" /><polygon points="1776.6,1217.8 1776.6,1231.4 1797.9,1254.3 1807.6,1251.1" fill="#f1f1f1" stroke="#000" stroke-width="1.1" />
<line x1="2154.1" y1="1241.8" x2="2155.9" y2="1245.7" stroke="#000" stroke-width="2.2" stroke-dasharray="2.2 1.6"/>
<line x1="2149.6" y1="1240.9" x2="2153.2" y2="1248.6" stroke="#000" stroke-width="2.2" stroke-dasharray="2.2 1.6"/>
<line x1="2145.1" y1="1240" x2="2150.5" y2="1251.6" stroke="#000" stroke-width="2.2" stroke-dasharray="2.2 1.6"/>
<line x1="2140.6" y1="1239.1" x2="2147.8" y2="1254.5" stroke="#000" stroke-width="2.2" stroke-dasharray="2.2 1.6"/>
<line x1="2136" y1="1238.2" x2="2145.1" y2="1257.4" stroke="#000" stroke-width="2.2" stroke-dasharray="2.2 1.6"/>
<polygon points="2548.1,1258.2 2548,1258.6 2548,1260.6 2548.5,1261.1 2549.7,1261.7 2575,1273.8 2576.5,1274.4 2578,1275 2579.5,1275.4 2581,1275.8 2582.6,1276 2584.5,1276.2 2586,1276.3 2587.4,1276.1 2588.7,1275.5 2589.8,1274.7 2590.9,1273.5 2599.4,1261.8 2599.9,1261.1 2600,1260.4 2600,1258.4 2599.9,1257.8 2599.6,1257.2 2599,1256.6 2598.9,1256.5 2598.2,1256 2597.4,1255.6 2596.6,1255.3 2595.7,1255.2 2594.8,1255.2 2550.1,1257.8 2548.8,1257.9" fill="#f1f1f1" stroke="#000" stroke-width="1.2" stroke-linejoin="round"/><polygon points="2549.7,1259.7 2548.5,1259.1 2548,1258.6 2548.1,1258.2 2548.8,1257.9 2550.1,1257.8 2594.8,1255.2 2595.7,1255.2 2596.6,1255.3 2597.4,1255.6 2598.2,1256 2598.9,1256.5 2599,1256.6 2599.6,1257.2 2599.9,1257.8 2600,1258.4 2599.9,1259.1 2599.4,1259.9 2590.9,1271.6 2589.8,1272.7 2588.7,1273.5 2587.4,1274.1 2586,1274.3 2584.5,1274.3 2582.6,1274 2581,1273.8 2579.5,1273.4 2578,1273 2576.5,1272.5 2575,1271.8" fill="#f1f1f1" stroke="#000" stroke-width="1.2" stroke-linejoin="round"/>
<polygon points="2013.4,1258.9 1974.9,1278.7 1974.9,1285 2013.4,1265.1" fill="#f1f1f1" stroke="#000" stroke-width="1.2" /><polygon points="1974.9,1278.7 1945.1,1261.4 1945.1,1267.6 1974.9,1285" fill="#f1f1f1" stroke="#000" stroke-width="1.2" /><polygon points="1945.1,1261.4 1983.6,1245.2 2013.4,1258.9 1974.9,1278.7" fill="#f1f1f1" stroke="#000" stroke-width="1.2" />
<line x1="2275" y1="1235.8" x2="2271.6" y2="1236.7" stroke="#000" stroke-width="2.2" stroke-dasharray="2.2 1.6"/>
<line x1="2276.7" y1="1238.7" x2="2270" y2="1240.5" stroke="#000" stroke-width="2.2" stroke-dasharray="2.2 1.6"/>
<line x1="2278.5" y1="1241.6" x2="2268.3" y2="1244.3" stroke="#000" stroke-width="2.2" stroke-dasharray="2.2 1.6"/>
<line x1="2280.2" y1="1244.6" x2="2266.6" y2="1248.2" stroke="#000" stroke-width="2.2" stroke-dasharray="2.2 1.6"/>
<line x1="2281.9" y1="1247.5" x2="2265" y2="1252" stroke="#000" stroke-width="2.2" stroke-dasharray="2.2 1.6"/>
<polygon points="2037,1246.5 2023.3,1253.4 2023.3,1263.4 2037,1256.4" fill="#f1f1f1" stroke="#000" stroke-width="1.2" /><polygon points="2023.3,1253.4 2005.9,1238.5 2005.9,1248.5 2023.3,1263.4" fill="#f1f1f1" stroke="#000" stroke-width="1.2" /><polygon points="2005.9,1238.5 2020.8,1231.6 2037,1246.5 2023.3,1253.4" fill="#f1f1f1" stroke="#000" stroke-width="1.2" />
<polygon points="2117.6,1257.6 2059.3,1291.2 2059.3,1297.4 2117.6,1263.9" fill="#f1f1f1" stroke="#000" stroke-width="1.2" /><polygon points="2059.3,1291.2 2037.5,1265.1 2037.5,1271.3 2059.3,1297.4" fill="#f1f1f1" stroke="#000" stroke-width="1.2" /><polygon points="2037.5,1265.1 2094.1,1240.3 2117.6,1257.6 2059.3,1291.2" fill="#f1f1f1" stroke="#000" stroke-width="1.2" />
<polygon points="2419,1237.4 2415.8,1239.1 2413.4,1241.3 2411.9,1243.8 2411.3,1246.5 2411.3,1270.1 2411.9,1272.8 2413.4,1275.3 2415.8,1277.4 2419,1279.1 2422.7,1280.1 2426.7,1280.5 2430.7,1280.1 2434.4,1279.1 2437.6,1277.4 2440.1,1275.3 2441.6,1272.8 2442.1,1270.1 2442.1,1246.5 2441.6,1243.8 2440.1,1241.3 2437.6,1239.1 2434.4,1237.4 2430.7,1236.4 2426.7,1236 2422.7,1236.4" fill="#f1f1f1" stroke="#000" stroke-width="1.2" stroke-linejoin="round"/><line x1="2442.1" y1="1266.3" x2="2441.6" y2="1269" stroke="#000" stroke-width="1.2" stroke-linecap="round"/><line x1="2441.6" y1="1269" x2="2440.1" y2="1271.5" stroke="#000" stroke-width="1.2" stroke-linecap="round"/><line x1="2440.1" y1="1271.5" x2="2437.6" y2="1273.7" stroke="#000" stroke-width="1.2" stroke-linecap="round"/><line x1="2437.6" y1="1273.7" x2="2434.4" y2="1275.4" stroke="#000" stroke-width="1.2" stroke-linecap="round"/><line x1="2434.4" y1="1275.4" x2="2430.7" y2="1276.4" stroke="#000" stroke-width="1.2" stroke-linecap="round"/><line x1="2430.7" y1="1276.4" x2="2426.7" y2="1276.8" stroke="#000" stroke-width="1.2" stroke-linecap="round"/><line x1="2426.7" y1="1276.8" x2="2422.7" y2="1276.4" stroke="#000" stroke-width="1.2" stroke-linecap="round"/><line x1="2422.7" y1="1276.4" x2="2419" y2="1275.4" stroke="#000" stroke-width="1.2" stroke-linecap="round"/><line x1="2419" y1="1275.4" x2="2415.8" y2="1273.7" stroke="#000" stroke-width="1.2" stroke-linecap="round"/><line x1="2415.8" y1="1273.7" x2="2413.4" y2="1271.5" stroke="#000" stroke-width="1.2" stroke-linecap="round"/><line x1="2413.4" y1="1271.5" x2="2411.9" y2="1269" stroke="#000" stroke-width="1.2" stroke-linecap="round"/><line x1="2411.9" y1="1269" x2="2411.3" y2="1266.3" stroke="#000" stroke-width="1.2" stroke-linecap="round"/><polygon points="2442.1,1246.5 2441.6,1249.2 2440.1,1251.7 2437.6,1253.8 2434.4,1255.5 2430.7,1256.5 2426.7,1256.9 2422.7,1256.5 2419,1255.5 2415.8,1253.8 2413.4,1251.7 2411.9,1249.2 2411.3,1246.5 2411.9,1243.8 2413.4,1241.3 2415.8,1239.1 2419,1237.4 2422.7,1236.4 2426.7,1236 2430.7,1236.4 2434.4,1237.4 2437.6,1239.1 2440.1,1241.3 2441.6,1243.8" fill="#f1f1f1" stroke="#000" stroke-width="1.2" stroke-linejoin="round"/>
<polygon points="2673.5,1260 2647.7,1294.5 2647.7,1301.4 2673.5,1266.9" fill="#f1f1f1" stroke="#000" stroke-width="1.2" /><polygon points="2647.7,1294.5 2600.8,1272.8 2600.8,1279.7 2647.7,1301.4" fill="#f1f1f1" stroke="#000" stroke-width="1.2" /><polygon points="2600.8,1272.8 2627.9,1243.2 2673.5,1260 2647.7,1294.5" fill="#f1f1f1" stroke="#000" stroke-width="1.2" /><polygon points="2623.5,1269.6 2633.9,1258.3 2651.2,1264.7 2641.3,1277.8" fill="#f1f1f1" stroke="#000" stroke-width="1.2" /><polygon points="2623.5,1269.6 2626.7,1271.1 2633.9,1263.3 2633.9,1258.3" fill="#f1f1f1" stroke="#000" stroke-width="1.1" /><polygon points="2633.9,1258.3 2633.9,1263.3 2648.3,1268.6 2651.2,1264.7" fill="#f1f1f1" stroke="#000" stroke-width="1.1" />
<polygon points="2013.4,1256.4 1999.7,1262.6 1999.7,1273.8 2013.4,1267.6" fill="#f1f1f1" stroke="#000" stroke-width="1.2" /><polygon points="1999.7,1262.6 1982.8,1246.5 1982.8,1257.6 1999.7,1273.8" fill="#f1f1f1" stroke="#000" stroke-width="1.2" /><polygon points="1982.8,1246.5 1997.2,1239.5 2013.4,1256.4 1999.7,1262.6" fill="#f1f1f1" stroke="#000" stroke-width="1.2" />
<polygon points="2117.6,1257.6 2104.5,1263.9 2104.5,1274.3 2117.6,1268.1" fill="#f1f1f1" stroke="#000" stroke-width="1.2" /><polygon points="2104.5,1263.9 2082.9,1246.5 2082.9,1256.9 2104.5,1274.3" fill="#f1f1f1" stroke="#000" stroke-width="1.2" /><polygon points="2082.9,1246.5 2095.3,1240.3 2117.6,1257.6 2104.5,1263.9" fill="#f1f1f1" stroke="#000" stroke-width="1.2" />
<polygon points="2560.8,1263.9 2526,1298.6 2526,1311 2560.8,1276.3" fill="#f1f1f1" stroke="#000" stroke-width="1.2" /><polygon points="2526,1298.6 2467.7,1279.2 2467.7,1291.7 2526,1311" fill="#f1f1f1" stroke="#000" stroke-width="1.2" /><polygon points="2467.7,1279.2 2504.2,1245.2 2560.8,1263.9 2526,1298.6" fill="#f1f1f1" stroke="#000" stroke-width="1.2" /><polygon points="2491.2,1275.5 2509.4,1258.5 2537.7,1267.8 2520.4,1285.2" fill="#f1f1f1" stroke="#000" stroke-width="1.2" /><polygon points="2491.2,1275.5 2497.1,1277.4 2509.4,1265.9 2509.4,1258.5" fill="#f1f1f1" stroke="#000" stroke-width="1.1" /><polygon points="2509.4,1258.5 2509.4,1265.9 2532.1,1273.4 2537.7,1267.8" fill="#f1f1f1" stroke="#000" stroke-width="1.1" />
<polygon points="2078.7,1261.4 2046.9,1275 2046.9,1285.5 2078.7,1271.8" fill="#f1f1f1" stroke="#000" stroke-width="1.2" /><polygon points="2046.9,1275 2037.5,1265.8 2037.5,1276.3 2046.9,1285.5" fill="#f1f1f1" stroke="#000" stroke-width="1.2" /><polygon points="2037.5,1265.8 2069.2,1251.9 2078.7,1261.4 2046.9,1275" fill="#f1f1f1" stroke="#000" stroke-width="1.2" />
<polygon points="2049.9,1288.7 1974.9,1323.4 1974.9,1329.6 2049.9,1294.9" fill="#f1f1f1" stroke="#000" stroke-width="1.2" /><polygon points="1974.9,1323.4 1950.1,1306.1 1950.1,1312.3 1974.9,1329.6" fill="#f1f1f1" stroke="#000" stroke-width="1.2" /><polygon points="1950.1,1306.1 2023.3,1276.3 2049.9,1288.7 1974.9,1323.4" fill="#f1f1f1" stroke="#000" stroke-width="1.2" />
<polygon points="1599.9,1291.2 1524.1,1316 1524.1,1333.4 1599.9,1308.5" fill="#f1f1f1" stroke="#000" stroke-width="1.2" /><polygon points="1524.1,1316 1498.1,1285 1498.1,1302.3 1524.1,1333.4" fill="#f1f1f1" stroke="#000" stroke-width="1.2" /><polygon points="1498.1,1285 1572.5,1261.4 1599.9,1291.2 1524.1,1316" fill="#f1f1f1" stroke="#000" stroke-width="1.2" /><polygon points="1531.1,1279.5 1562.4,1269.6 1573.9,1282.1 1542.1,1292.5" fill="#f1f1f1" stroke="#000" stroke-width="1.2" /><polygon points="1531.1,1279.5 1537.7,1287.3 1562.4,1279.5 1562.4,1269.6" fill="#f1f1f1" stroke="#000" stroke-width="1.1" /><polygon points="1562.4,1269.6 1562.4,1279.5 1566.9,1284.4 1573.9,1282.1" fill="#f1f1f1" stroke="#000" stroke-width="1.1" />
<polygon points="2049.4,1287.4 2032,1293.6 2032,1303.6 2049.4,1297.4" fill="#f1f1f1" stroke="#000" stroke-width="1.2" /><polygon points="2032,1293.6 2019.6,1283.2 2019.6,1293.1 2032,1303.6" fill="#f1f1f1" stroke="#000" stroke-width="1.2" /><polygon points="2019.6,1283.2 2034.5,1276.8 2049.4,1287.4 2032,1293.6" fill="#f1f1f1" stroke="#000" stroke-width="1.2" />
<polygon points="1747.6,1304.8 1670.1,1334.6 1670.1,1346.5 1747.6,1316.7" fill="#f1f1f1" stroke="#000" stroke-width="1.2" /><polygon points="1670.1,1334.6 1634.6,1297.4 1634.6,1309.3 1670.1,1346.5" fill="#f1f1f1" stroke="#000" stroke-width="1.2" /><polygon points="1634.6,1297.4 1713.3,1268.3 1747.6,1304.8 1670.1,1334.6" fill="#f1f1f1" stroke="#000" stroke-width="1.2" />
<ellipse cx="1691.7" cy="1301.6" rx="27.8" ry="17.4" transform="rotate(-14 1691.7 1301.6)" fill="#f1f1f1" stroke="#000" stroke-width="1.2"/>
<path d="M 1666.9 1311 A 27.8 17.4 -14 0 1 1717.8 1298.6" fill="none" stroke="#000" stroke-width="1.1"/>
<polygon points="2010.9,1291.2 1992.3,1298.6 1992.3,1308.5 2010.9,1301.1" fill="#f1f1f1" stroke="#000" stroke-width="1.2" /><polygon points="1992.3,1298.6 1980.4,1286.7 1980.4,1296.6 1992.3,1308.5" fill="#f1f1f1" stroke="#000" stroke-width="1.2" /><polygon points="1980.4,1286.7 2003.4,1279.2 2010.9,1291.2 1992.3,1298.6" fill="#f1f1f1" stroke="#000" stroke-width="1.2" />
<polygon points="2124.2,1310.6 2117,1313.7 2117,1320.1 2124.2,1317.1" fill="#f1f1f1" stroke="#000" stroke-width="1" /><polygon points="2117,1313.7 2110.2,1309.7 2110.2,1316.2 2117,1320.1" fill="#f1f1f1" stroke="#000" stroke-width="1" /><polygon points="2110.2,1309.7 2117.4,1306.7 2124.2,1310.6 2117,1313.7" fill="#f1f1f1" stroke="#000" stroke-width="1" />
<polygon points="2140.6,1311.7 2133.5,1314.8 2133.5,1321.2 2140.6,1318.2" fill="#f1f1f1" stroke="#000" stroke-width="1" /><polygon points="2133.5,1314.8 2126.7,1310.8 2126.7,1317.3 2133.5,1321.2" fill="#f1f1f1" stroke="#000" stroke-width="1" /><polygon points="2126.7,1310.8 2133.8,1307.8 2140.6,1311.7 2133.5,1314.8" fill="#f1f1f1" stroke="#000" stroke-width="1" />
<polygon points="2666.9,1301.9 2635.3,1336.4 2635.3,1345 2666.9,1310.5" fill="#f1f1f1" stroke="#000" stroke-width="1.2" /><polygon points="2635.3,1336.4 2578.6,1315.5 2578.6,1324.1 2635.3,1345" fill="#f1f1f1" stroke="#000" stroke-width="1.2" /><polygon points="2578.6,1315.5 2608.2,1289.6 2666.9,1301.9 2635.3,1336.4" fill="#f1f1f1" stroke="#000" stroke-width="1.2" /><polygon points="2602.6,1312.9 2615.9,1301.3 2642.3,1306.8 2628.1,1322.3" fill="#f1f1f1" stroke="#000" stroke-width="1.2" /><polygon points="2602.6,1312.9 2607.6,1314.7 2615.9,1307.4 2615.9,1301.3" fill="#f1f1f1" stroke="#000" stroke-width="1.1" /><polygon points="2615.9,1301.3 2615.9,1307.4 2637.6,1312 2642.3,1306.8" fill="#f1f1f1" stroke="#000" stroke-width="1.1" />
<polygon points="2115.7,1314.2 2108.6,1317.2 2108.6,1323.7 2115.7,1320.6" fill="#f1f1f1" stroke="#000" stroke-width="1" /><polygon points="2108.6,1317.2 2101.8,1313.3 2101.8,1319.7 2108.6,1323.7" fill="#f1f1f1" stroke="#000" stroke-width="1" /><polygon points="2101.8,1313.3 2108.9,1310.2 2115.7,1314.2 2108.6,1317.2" fill="#f1f1f1" stroke="#000" stroke-width="1" />
<polygon points="2132.2,1315.3 2125,1318.3 2125,1324.8 2132.2,1321.7" fill="#f1f1f1" stroke="#000" stroke-width="1" /><polygon points="2125,1318.3 2118.2,1314.4 2118.2,1320.8 2125,1324.8" fill="#f1f1f1" stroke="#000" stroke-width="1" /><polygon points="2118.2,1314.4 2125.4,1311.3 2132.2,1315.3 2125,1318.3" fill="#f1f1f1" stroke="#000" stroke-width="1" />
<polygon points="1881.6,1311 1809.1,1339.6 1809.1,1347 1881.6,1318.5" fill="#f1f1f1" stroke="#000" stroke-width="1.2" /><polygon points="1809.1,1339.6 1791.8,1321 1791.8,1328.4 1809.1,1347" fill="#f1f1f1" stroke="#000" stroke-width="1.2" /><polygon points="1791.8,1321 1869.2,1292.4 1881.6,1311 1809.1,1339.6" fill="#f1f1f1" stroke="#000" stroke-width="1.2" />
<polygon points="2123.8,1318.8 2116.6,1321.8 2116.6,1328.3 2123.8,1325.3" fill="#f1f1f1" stroke="#000" stroke-width="1" /><polygon points="2116.6,1321.8 2109.8,1317.9 2109.8,1324.4 2116.6,1328.3" fill="#f1f1f1" stroke="#000" stroke-width="1" /><polygon points="2109.8,1317.9 2117,1314.9 2123.8,1318.8 2116.6,1321.8" fill="#f1f1f1" stroke="#000" stroke-width="1" />
<polygon points="2140.2,1319.9 2133.1,1322.9 2133.1,1329.4 2140.2,1326.4" fill="#f1f1f1" stroke="#000" stroke-width="1" /><polygon points="2133.1,1322.9 2126.2,1319 2126.2,1325.5 2133.1,1329.4" fill="#f1f1f1" stroke="#000" stroke-width="1" /><polygon points="2126.2,1319 2133.4,1316 2140.2,1319.9 2133.1,1322.9" fill="#f1f1f1" stroke="#000" stroke-width="1" />
<polygon points="1881.6,1309.8 1866.7,1316 1866.7,1327.2 1881.6,1321" fill="#f1f1f1" stroke="#000" stroke-width="1.2" /><polygon points="1866.7,1316 1849.4,1298.6 1849.4,1309.8 1866.7,1327.2" fill="#f1f1f1" stroke="#000" stroke-width="1.2" /><polygon points="1849.4,1298.6 1864.3,1292.4 1881.6,1309.8 1866.7,1316" fill="#f1f1f1" stroke="#000" stroke-width="1.2" />
<polygon points="1991,1311 1972.4,1318.5 1972.4,1328.4 1991,1321" fill="#f1f1f1" stroke="#000" stroke-width="1.2" /><polygon points="1972.4,1318.5 1960,1306.1 1960,1316 1972.4,1328.4" fill="#f1f1f1" stroke="#000" stroke-width="1.2" /><polygon points="1960,1306.1 1974.9,1299.9 1991,1311 1972.4,1318.5" fill="#f1f1f1" stroke="#000" stroke-width="1.2" />
<polygon points="2070.8,1328 2063.6,1331 2063.6,1337.5 2070.8,1334.5" fill="#f1f1f1" stroke="#000" stroke-width="1" /><polygon points="2063.6,1331 2056.8,1327.1 2056.8,1333.5 2063.6,1337.5" fill="#f1f1f1" stroke="#000" stroke-width="1" /><polygon points="2056.8,1327.1 2064,1324.1 2070.8,1328 2063.6,1331" fill="#f1f1f1" stroke="#000" stroke-width="1" />
<polygon points="2087.3,1329.1 2080.1,1332.1 2080.1,1338.6 2087.3,1335.6" fill="#f1f1f1" stroke="#000" stroke-width="1" /><polygon points="2080.1,1332.1 2073.3,1328.2 2073.3,1334.6 2080.1,1338.6" fill="#f1f1f1" stroke="#000" stroke-width="1" /><polygon points="2073.3,1328.2 2080.5,1325.2 2087.3,1329.1 2080.1,1332.1" fill="#f1f1f1" stroke="#000" stroke-width="1" />
<polygon points="1845.6,1311 1803.4,1327.9 1803.4,1335.4 1845.6,1318.5" fill="#f1f1f1" stroke="#000" stroke-width="1.2" /><polygon points="1803.4,1327.9 1794.7,1321 1794.7,1328.4 1803.4,1335.4" fill="#f1f1f1" stroke="#000" stroke-width="1.2" /><polygon points="1794.7,1321 1836.9,1304.1 1845.6,1311 1803.4,1327.9" fill="#f1f1f1" stroke="#000" stroke-width="1.2" />
<polygon points="2062.4,1331.6 2055.2,1334.6 2055.2,1341 2062.4,1338" fill="#f1f1f1" stroke="#000" stroke-width="1" /><polygon points="2055.2,1334.6 2048.4,1330.6 2048.4,1337.1 2055.2,1341" fill="#f1f1f1" stroke="#000" stroke-width="1" /><polygon points="2048.4,1330.6 2055.6,1327.6 2062.4,1331.6 2055.2,1334.6" fill="#f1f1f1" stroke="#000" stroke-width="1" />
<polygon points="2078.8,1332.7 2071.7,1335.7 2071.7,1342.1 2078.8,1339.1" fill="#f1f1f1" stroke="#000" stroke-width="1" /><polygon points="2071.7,1335.7 2064.8,1331.7 2064.8,1338.2 2071.7,1342.1" fill="#f1f1f1" stroke="#000" stroke-width="1" /><polygon points="2064.8,1331.7 2072,1328.7 2078.8,1332.7 2071.7,1335.7" fill="#f1f1f1" stroke="#000" stroke-width="1" />
<polygon points="2086.9,1337.3 2079.7,1340.3 2079.7,1346.8 2086.9,1343.8" fill="#f1f1f1" stroke="#000" stroke-width="1" /><polygon points="2079.7,1340.3 2072.9,1336.4 2072.9,1342.8 2079.7,1346.8" fill="#f1f1f1" stroke="#000" stroke-width="1" /><polygon points="2072.9,1336.4 2080,1333.4 2086.9,1337.3 2079.7,1340.3" fill="#f1f1f1" stroke="#000" stroke-width="1" />
<polygon points="1643.3,1339.6 1596.1,1354.5 1596.1,1371.8 1643.3,1357" fill="#f1f1f1" stroke="#000" stroke-width="1.2" /><polygon points="1596.1,1354.5 1558.9,1313.5 1558.9,1330.9 1596.1,1371.8" fill="#f1f1f1" stroke="#000" stroke-width="1.2" /><polygon points="1558.9,1313.5 1607.3,1299.9 1643.3,1339.6 1596.1,1354.5" fill="#f1f1f1" stroke="#000" stroke-width="1.2" /><polygon points="1581.2,1315 1597.1,1310.5 1609,1323.6 1593.5,1328.5" fill="#f1f1f1" stroke="#000" stroke-width="1.2" /><polygon points="1581.2,1315 1588.4,1322.9 1597.1,1320.4 1597.1,1310.5" fill="#f1f1f1" stroke="#000" stroke-width="1.1" /><polygon points="1597.1,1310.5 1597.1,1320.4 1602,1325.8 1609,1323.6" fill="#f1f1f1" stroke="#000" stroke-width="1.1" />
<polygon points="2062,1339.8 2054.8,1342.8 2054.8,1349.2 2062,1346.2" fill="#f1f1f1" stroke="#000" stroke-width="1" /><polygon points="2054.8,1342.8 2048,1338.8 2048,1345.3 2054.8,1349.2" fill="#f1f1f1" stroke="#000" stroke-width="1" /><polygon points="2048,1338.8 2055.1,1335.8 2062,1339.8 2054.8,1342.8" fill="#f1f1f1" stroke="#000" stroke-width="1" />
<polygon points="2589.7,1332.7 2578.1,1347.5 2578.1,1361.1 2589.7,1346.3" fill="#f1f1f1" stroke="#000" stroke-width="1.2" /><polygon points="2578.1,1347.5 2553.5,1340.1 2553.5,1353.7 2578.1,1361.1" fill="#f1f1f1" stroke="#000" stroke-width="1.2" /><polygon points="2565.1,1325.3 2589.7,1332.7 2578.1,1347.5 2553.5,1340.1" fill="#f1f1f1" stroke="#000" stroke-width="1.2" />
<polygon points="2018.4,1344.3 2011.2,1347.3 2011.2,1353.8 2018.4,1350.8" fill="#f1f1f1" stroke="#000" stroke-width="1" /><polygon points="2011.2,1347.3 2004.4,1343.4 2004.4,1349.8 2011.2,1353.8" fill="#f1f1f1" stroke="#000" stroke-width="1" /><polygon points="2004.4,1343.4 2011.5,1340.4 2018.4,1344.3 2011.2,1347.3" fill="#f1f1f1" stroke="#000" stroke-width="1" />
<polygon points="2034.8,1345.4 2027.6,1348.4 2027.6,1354.9 2034.8,1351.9" fill="#f1f1f1" stroke="#000" stroke-width="1" /><polygon points="2027.6,1348.4 2020.8,1344.5 2020.8,1350.9 2027.6,1354.9" fill="#f1f1f1" stroke="#000" stroke-width="1" /><polygon points="2020.8,1344.5 2028,1341.5 2034.8,1345.4 2027.6,1348.4" fill="#f1f1f1" stroke="#000" stroke-width="1" />
<polygon points="1907.7,1333.4 1891.6,1339.6 1891.6,1349.5 1907.7,1343.3" fill="#f1f1f1" stroke="#000" stroke-width="1.2" /><polygon points="1891.6,1339.6 1877.9,1326.4 1877.9,1336.3 1891.6,1349.5" fill="#f1f1f1" stroke="#000" stroke-width="1.2" /><polygon points="1877.9,1326.4 1894,1320.5 1907.7,1333.4 1891.6,1339.6" fill="#f1f1f1" stroke="#000" stroke-width="1.2" />
<polygon points="2026.4,1348.9 2019.2,1352 2019.2,1358.4 2026.4,1355.4" fill="#f1f1f1" stroke="#000" stroke-width="1" /><polygon points="2019.2,1352 2012.4,1348 2012.4,1354.5 2019.2,1358.4" fill="#f1f1f1" stroke="#000" stroke-width="1" /><polygon points="2012.4,1348 2019.6,1345 2026.4,1348.9 2019.2,1352" fill="#f1f1f1" stroke="#000" stroke-width="1" />
<polygon points="2042.8,1350 2035.7,1353.1 2035.7,1359.5 2042.8,1356.5" fill="#f1f1f1" stroke="#000" stroke-width="1" /><polygon points="2035.7,1353.1 2028.8,1349.1 2028.8,1355.6 2035.7,1359.5" fill="#f1f1f1" stroke="#000" stroke-width="1" /><polygon points="2028.8,1349.1 2036,1346.1 2042.8,1350 2035.7,1353.1" fill="#f1f1f1" stroke="#000" stroke-width="1" />
<polygon points="2694.5,1195.9 2704.4,1195.9 2704.4,1220.5 2694.5,1220.5" fill="#f1f1f1" stroke="#000" stroke-width="1.2" />
<polygon points="2686.6,1258.7 2696.5,1258.7 2696.5,1282.2 2686.6,1282.2" fill="#f1f1f1" stroke="#000" stroke-width="1.2" />
<polygon points="2682.2,1297.5 2690.8,1297.5 2690.8,1321.6 2682.2,1321.6" fill="#f1f1f1" stroke="#000" stroke-width="1.2" />
<polygon points="2050.9,1354.7 2043.7,1357.7 2043.7,1364.2 2050.9,1361.1" fill="#f1f1f1" stroke="#000" stroke-width="1" /><polygon points="2043.7,1357.7 2036.9,1353.8 2036.9,1360.2 2043.7,1364.2" fill="#f1f1f1" stroke="#000" stroke-width="1" /><polygon points="2036.9,1353.8 2044,1350.7 2050.9,1354.7 2043.7,1357.7" fill="#f1f1f1" stroke="#000" stroke-width="1" />
<polygon points="2706.8,1188.5 2713,1182.3 2718.7,1183.6 2699.4,1351.2 2697,1361.1 2676,1352.4 2677.2,1336.4 2688.3,1338.9" fill="#f1f1f1" stroke="#000" stroke-width="1.2" />
<line x1="2714.2" y1="1188.5" x2="2697" y2="1346.3" stroke="#000" stroke-width="1.1"/>
<polygon points="2026,1357.1 2018.8,1360.1 2018.8,1366.6 2026,1363.6" fill="#f1f1f1" stroke="#000" stroke-width="1" /><polygon points="2018.8,1360.1 2012,1356.2 2012,1362.7 2018.8,1366.6" fill="#f1f1f1" stroke="#000" stroke-width="1" /><polygon points="2012,1356.2 2019.1,1353.2 2026,1357.1 2018.8,1360.1" fill="#f1f1f1" stroke="#000" stroke-width="1" />
<line x1="2580.5" y1="1337.3" x2="2583.2" y2="1339.5" stroke="#000" stroke-width="2.2" stroke-dasharray="2.2 1.6"/>
<line x1="2576.3" y1="1338.2" x2="2581.6" y2="1342.7" stroke="#000" stroke-width="2.2" stroke-dasharray="2.2 1.6"/>
<line x1="2572" y1="1339.1" x2="2580.1" y2="1345.8" stroke="#000" stroke-width="2.2" stroke-dasharray="2.2 1.6"/>
<line x1="2567.7" y1="1340" x2="2578.5" y2="1349" stroke="#000" stroke-width="2.2" stroke-dasharray="2.2 1.6"/>
<line x1="2563.5" y1="1340.9" x2="2576.9" y2="1352.1" stroke="#000" stroke-width="2.2" stroke-dasharray="2.2 1.6"/>
<polygon points="1979.9,1359.2 1972.7,1362.2 1972.7,1368.7 1979.9,1365.7" fill="#f1f1f1" stroke="#000" stroke-width="1" /><polygon points="1972.7,1362.2 1965.9,1358.3 1965.9,1364.7 1972.7,1368.7" fill="#f1f1f1" stroke="#000" stroke-width="1" /><polygon points="1965.9,1358.3 1973.1,1355.3 1979.9,1359.2 1972.7,1362.2" fill="#f1f1f1" stroke="#000" stroke-width="1" />
<polygon points="1762.5,1355.7 1709.1,1376.8 1709.1,1384.8 1762.5,1363.7" fill="#f1f1f1" stroke="#000" stroke-width="1.2" /><polygon points="1709.1,1376.8 1691,1360.7 1691,1368.6 1709.1,1384.8" fill="#f1f1f1" stroke="#000" stroke-width="1.2" /><polygon points="1691,1360.7 1743.8,1340.1 1762.5,1355.7 1709.1,1376.8" fill="#f1f1f1" stroke="#000" stroke-width="1.2" />
<polygon points="2637.8,1349.2 2625.5,1364.8 2625.5,1377.1 2637.8,1361.6" fill="#f1f1f1" stroke="#000" stroke-width="1.2" /><polygon points="2625.5,1364.8 2600.8,1358.6 2600.8,1370.9 2625.5,1377.1" fill="#f1f1f1" stroke="#000" stroke-width="1.2" /><polygon points="2613.1,1343.3 2637.8,1349.2 2625.5,1364.8 2600.8,1358.6" fill="#f1f1f1" stroke="#000" stroke-width="1.2" />
<polygon points="1789.3,1344.5 1774.9,1350.7 1774.9,1361.9 1789.3,1355.7" fill="#f1f1f1" stroke="#000" stroke-width="1.2" /><polygon points="1774.9,1350.7 1757.5,1335.8 1757.5,1347 1774.9,1361.9" fill="#f1f1f1" stroke="#000" stroke-width="1.2" /><polygon points="1757.5,1335.8 1772.4,1329.6 1789.3,1344.5 1774.9,1350.7" fill="#f1f1f1" stroke="#000" stroke-width="1.2" />
<polygon points="1987.9,1363.8 1980.7,1366.9 1980.7,1373.3 1987.9,1370.3" fill="#f1f1f1" stroke="#000" stroke-width="1" /><polygon points="1980.7,1366.9 1973.9,1362.9 1973.9,1369.4 1980.7,1373.3" fill="#f1f1f1" stroke="#000" stroke-width="1" /><polygon points="1973.9,1362.9 1981.1,1359.9 1987.9,1363.8 1980.7,1366.9" fill="#f1f1f1" stroke="#000" stroke-width="1" />
<polygon points="2004.4,1364.9 1997.2,1368 1997.2,1374.4 2004.4,1371.4" fill="#f1f1f1" stroke="#000" stroke-width="1" /><polygon points="1997.2,1368 1990.4,1364 1990.4,1370.5 1997.2,1374.4" fill="#f1f1f1" stroke="#000" stroke-width="1" /><polygon points="1990.4,1364 1997.5,1361 2004.4,1364.9 1997.2,1368" fill="#f1f1f1" stroke="#000" stroke-width="1" />
<polygon points="1995.9,1368.5 1988.7,1371.5 1988.7,1378 1995.9,1374.9" fill="#f1f1f1" stroke="#000" stroke-width="1" /><polygon points="1988.7,1371.5 1981.9,1367.6 1981.9,1374 1988.7,1378" fill="#f1f1f1" stroke="#000" stroke-width="1" /><polygon points="1981.9,1367.6 1989.1,1364.5 1995.9,1368.5 1988.7,1371.5" fill="#f1f1f1" stroke="#000" stroke-width="1" />
<polygon points="1916.9,1344.5 1743.8,1413.3 1743.8,1420.8 1916.9,1352" fill="#f1f1f1" stroke="#000" stroke-width="1.2" /><polygon points="1743.8,1413.3 1722.7,1390 1722.7,1397.4 1743.8,1420.8" fill="#f1f1f1" stroke="#000" stroke-width="1.2" /><polygon points="1722.7,1390 1892.8,1321 1916.9,1344.5 1743.8,1413.3" fill="#f1f1f1" stroke="#000" stroke-width="1.2" />
<polygon points="2012.4,1369.6 2005.2,1372.6 2005.2,1379.1 2012.4,1376" fill="#f1f1f1" stroke="#000" stroke-width="1" /><polygon points="2005.2,1372.6 1998.4,1368.6 1998.4,1375.1 2005.2,1379.1" fill="#f1f1f1" stroke="#000" stroke-width="1" /><polygon points="1998.4,1368.6 2005.6,1365.6 2012.4,1369.6 2005.2,1372.6" fill="#f1f1f1" stroke="#000" stroke-width="1" />
<polygon points="2255.7,1368.1 2251,1370.4 2251,1377.9 2255.7,1375.6" fill="#f1f1f1" stroke="#000" stroke-width="1" /><polygon points="2251,1370.4 2245.3,1368.1 2245.3,1375.6 2251,1377.9" fill="#f1f1f1" stroke="#000" stroke-width="1" /><polygon points="2245.3,1368.1 2249.9,1365.8 2255.7,1368.1 2251,1370.4" fill="#f1f1f1" stroke="#000" stroke-width="1" />
<line x1="2612.4" y1="1350.4" x2="2615.7" y2="1349.7" stroke="#000" stroke-width="2.2" stroke-dasharray="2.2 1.6"/>
<line x1="2610.3" y1="1353.3" x2="2617.1" y2="1352" stroke="#000" stroke-width="2.2" stroke-dasharray="2.2 1.6"/>
<line x1="2608.3" y1="1356.2" x2="2618.4" y2="1354.2" stroke="#000" stroke-width="2.2" stroke-dasharray="2.2 1.6"/>
<line x1="2606.3" y1="1359.2" x2="2619.7" y2="1356.5" stroke="#000" stroke-width="2.2" stroke-dasharray="2.2 1.6"/>
<line x1="2604.3" y1="1362.1" x2="2621.1" y2="1358.7" stroke="#000" stroke-width="2.2" stroke-dasharray="2.2 1.6"/>
<polygon points="1987.5,1372 1980.3,1375 1980.3,1381.5 1987.5,1378.5" fill="#f1f1f1" stroke="#000" stroke-width="1" /><polygon points="1980.3,1375 1973.5,1371.1 1973.5,1377.6 1980.3,1381.5" fill="#f1f1f1" stroke="#000" stroke-width="1" /><polygon points="1973.5,1371.1 1980.7,1368.1 1987.5,1372 1980.3,1375" fill="#f1f1f1" stroke="#000" stroke-width="1" />
<polygon points="2126.6,1370.6 2121.9,1372.9 2121.9,1380.3 2126.6,1378.1" fill="#f1f1f1" stroke="#000" stroke-width="1" /><polygon points="2121.9,1372.9 2116.2,1370.6 2116.2,1378.1 2121.9,1380.3" fill="#f1f1f1" stroke="#000" stroke-width="1" /><polygon points="2116.2,1370.6 2120.8,1368.3 2126.6,1370.6 2121.9,1372.9" fill="#f1f1f1" stroke="#000" stroke-width="1" />
<polygon points="2684.6,1357.4 2672.3,1373.4 2672.3,1390.7 2684.6,1374.6" fill="#f1f1f1" stroke="#000" stroke-width="1.2" /><polygon points="2672.3,1373.4 2647.7,1366 2647.7,1383.3 2672.3,1390.7" fill="#f1f1f1" stroke="#000" stroke-width="1.2" /><polygon points="2660,1350 2684.6,1357.4 2672.3,1373.4 2647.7,1366" fill="#f1f1f1" stroke="#000" stroke-width="1.2" />
<polygon points="1866.7,1358.2 1851.8,1364.4 1851.8,1369.9 1866.7,1363.7" fill="#f1f1f1" stroke="#000" stroke-width="1.2" /><polygon points="1851.8,1364.4 1839.4,1353.2 1839.4,1358.7 1851.8,1369.9" fill="#f1f1f1" stroke="#000" stroke-width="1.2" /><polygon points="1839.4,1353.2 1854.3,1347 1866.7,1358.2 1851.8,1364.4" fill="#f1f1f1" stroke="#000" stroke-width="1.2" />
<polygon points="1938.7,1377.8 1931.6,1380.8 1931.6,1387.3 1938.7,1384.3" fill="#f1f1f1" stroke="#000" stroke-width="1" /><polygon points="1931.6,1380.8 1924.8,1376.9 1924.8,1383.3 1931.6,1387.3" fill="#f1f1f1" stroke="#000" stroke-width="1" /><polygon points="1924.8,1376.9 1931.9,1373.9 1938.7,1377.8 1931.6,1380.8" fill="#f1f1f1" stroke="#000" stroke-width="1" />
<polygon points="2329.3,1355.7 2354.2,1347.1 2373,1347.1 2380.7,1378.2 2374.9,1380.1 2344.4,1387.5 2337.3,1387.5 2329.3,1358.5" fill="#ff0000" stroke="#000" stroke-width="1.4" />
<polyline points="2357,1348 2364.4,1377.9 2380.7,1378.2" fill="none" stroke="#000" stroke-width="1.3"/>
<polyline points="2364.4,1377.9 2337.6,1387.2" fill="none" stroke="#000" stroke-width="1.3"/>
<polygon points="1971.7,1380 1964.5,1383 1964.5,1389.5 1971.7,1386.5" fill="#f1f1f1" stroke="#000" stroke-width="1" /><polygon points="1964.5,1383 1957.7,1379.1 1957.7,1385.5 1964.5,1389.5" fill="#f1f1f1" stroke="#000" stroke-width="1" /><polygon points="1957.7,1379.1 1964.8,1376.1 1971.7,1380 1964.5,1383" fill="#f1f1f1" stroke="#000" stroke-width="1" />
<polygon points="1747.6,1359.4 1720.8,1369.4 1720.8,1374.3 1747.6,1364.4" fill="#f1f1f1" stroke="#000" stroke-width="1.2" /><polygon points="1720.8,1369.4 1713.3,1363.2 1713.3,1368.1 1720.8,1374.3" fill="#f1f1f1" stroke="#000" stroke-width="1.2" /><polygon points="1713.3,1363.2 1740.1,1353.2 1747.6,1359.4 1720.8,1369.4" fill="#f1f1f1" stroke="#000" stroke-width="1.2" />
<polygon points="1946.8,1382.5 1939.6,1385.5 1939.6,1391.9 1946.8,1388.9" fill="#f1f1f1" stroke="#000" stroke-width="1" /><polygon points="1939.6,1385.5 1932.8,1381.5 1932.8,1388 1939.6,1391.9" fill="#f1f1f1" stroke="#000" stroke-width="1" /><polygon points="1932.8,1381.5 1939.9,1378.5 1946.8,1382.5 1939.6,1385.5" fill="#f1f1f1" stroke="#000" stroke-width="1" />
<polygon points="1833.2,1364.4 1815.8,1371.1 1815.8,1376.1 1833.2,1369.4" fill="#f1f1f1" stroke="#000" stroke-width="1.2" /><polygon points="1815.8,1371.1 1807.1,1363.2 1807.1,1368.1 1815.8,1376.1" fill="#f1f1f1" stroke="#000" stroke-width="1.2" /><polygon points="1807.1,1363.2 1824.5,1357 1833.2,1364.4 1815.8,1371.1" fill="#f1f1f1" stroke="#000" stroke-width="1.2" />
<line x1="2659.2" y1="1358.3" x2="2662.6" y2="1357.4" stroke="#000" stroke-width="2.2" stroke-dasharray="2.2 1.6"/>
<line x1="2657.2" y1="1361.6" x2="2663.9" y2="1359.8" stroke="#000" stroke-width="2.2" stroke-dasharray="2.2 1.6"/>
<line x1="2655.2" y1="1365" x2="2665.2" y2="1362.3" stroke="#000" stroke-width="2.2" stroke-dasharray="2.2 1.6"/>
<line x1="2653.1" y1="1368.3" x2="2666.6" y2="1364.8" stroke="#000" stroke-width="2.2" stroke-dasharray="2.2 1.6"/>
<line x1="2651.1" y1="1371.7" x2="2667.9" y2="1367.2" stroke="#000" stroke-width="2.2" stroke-dasharray="2.2 1.6"/>
<polygon points="1954.8,1387.1 1947.6,1390.1 1947.6,1396.6 1954.8,1393.6" fill="#f1f1f1" stroke="#000" stroke-width="1" /><polygon points="1947.6,1390.1 1940.8,1386.2 1940.8,1392.6 1947.6,1396.6" fill="#f1f1f1" stroke="#000" stroke-width="1" /><polygon points="1940.8,1386.2 1948,1383.2 1954.8,1387.1 1947.6,1390.1" fill="#f1f1f1" stroke="#000" stroke-width="1" />
<polygon points="1971.2,1388.2 1964.1,1391.2 1964.1,1397.7 1971.2,1394.7" fill="#f1f1f1" stroke="#000" stroke-width="1" /><polygon points="1964.1,1391.2 1957.2,1387.3 1957.2,1393.7 1964.1,1397.7" fill="#f1f1f1" stroke="#000" stroke-width="1" /><polygon points="1957.2,1387.3 1964.4,1384.3 1971.2,1388.2 1964.1,1391.2" fill="#f1f1f1" stroke="#000" stroke-width="1" />
<polygon points="1901.5,1390.2 1894.3,1393.2 1894.3,1399.7 1901.5,1396.7" fill="#f1f1f1" stroke="#000" stroke-width="1" /><polygon points="1894.3,1393.2 1887.5,1389.3 1887.5,1395.8 1894.3,1399.7" fill="#f1f1f1" stroke="#000" stroke-width="1" /><polygon points="1887.5,1389.3 1894.7,1386.3 1901.5,1390.2 1894.3,1393.2" fill="#f1f1f1" stroke="#000" stroke-width="1" />
<polygon points="1946.3,1390.6 1939.2,1393.7 1939.2,1400.1 1946.3,1397.1" fill="#f1f1f1" stroke="#000" stroke-width="1" /><polygon points="1939.2,1393.7 1932.3,1389.7 1932.3,1396.2 1939.2,1400.1" fill="#f1f1f1" stroke="#000" stroke-width="1" /><polygon points="1932.3,1389.7 1939.5,1386.7 1946.3,1390.6 1939.2,1393.7" fill="#f1f1f1" stroke="#000" stroke-width="1" />
<polygon points="1918,1391.3 1910.8,1394.3 1910.8,1400.8 1918,1397.8" fill="#f1f1f1" stroke="#000" stroke-width="1" /><polygon points="1910.8,1394.3 1904,1390.4 1904,1396.9 1910.8,1400.8" fill="#f1f1f1" stroke="#000" stroke-width="1" /><polygon points="1904,1390.4 1911.1,1387.4 1918,1391.3 1910.8,1394.3" fill="#f1f1f1" stroke="#000" stroke-width="1" />
<polygon points="1909.5,1394.9 1902.3,1397.9 1902.3,1404.3 1909.5,1401.3" fill="#f1f1f1" stroke="#000" stroke-width="1" /><polygon points="1902.3,1397.9 1895.5,1393.9 1895.5,1400.4 1902.3,1404.3" fill="#f1f1f1" stroke="#000" stroke-width="1" /><polygon points="1895.5,1393.9 1902.7,1390.9 1909.5,1394.9 1902.3,1397.9" fill="#f1f1f1" stroke="#000" stroke-width="1" />
<polygon points="1926,1396 1918.8,1399 1918.8,1405.4 1926,1402.4" fill="#f1f1f1" stroke="#000" stroke-width="1" /><polygon points="1918.8,1399 1912,1395 1912,1401.5 1918.8,1405.4" fill="#f1f1f1" stroke="#000" stroke-width="1" /><polygon points="1912,1395 1919.2,1392 1926,1396 1918.8,1399" fill="#f1f1f1" stroke="#000" stroke-width="1" />
<polygon points="1917.5,1399.5 1910.4,1402.5 1910.4,1409 1917.5,1406" fill="#f1f1f1" stroke="#000" stroke-width="1" /><polygon points="1910.4,1402.5 1903.6,1398.6 1903.6,1405 1910.4,1409" fill="#f1f1f1" stroke="#000" stroke-width="1" /><polygon points="1903.6,1398.6 1910.7,1395.6 1917.5,1399.5 1910.4,1402.5" fill="#f1f1f1" stroke="#000" stroke-width="1" />
<polygon points="1909.1,1403.1 1901.9,1406.1 1901.9,1412.5 1909.1,1409.5" fill="#f1f1f1" stroke="#000" stroke-width="1" /><polygon points="1901.9,1406.1 1895.1,1402.1 1895.1,1408.6 1901.9,1412.5" fill="#f1f1f1" stroke="#000" stroke-width="1" /><polygon points="1895.1,1402.1 1902.3,1399.1 1909.1,1403.1 1901.9,1406.1" fill="#f1f1f1" stroke="#000" stroke-width="1" />
<polygon points="1864.3,1405.1 1857.1,1408.1 1857.1,1414.6 1864.3,1411.6" fill="#f1f1f1" stroke="#000" stroke-width="1" /><polygon points="1857.1,1408.1 1850.3,1404.2 1850.3,1410.7 1857.1,1414.6" fill="#f1f1f1" stroke="#000" stroke-width="1" /><polygon points="1850.3,1404.2 1857.4,1401.2 1864.3,1405.1 1857.1,1408.1" fill="#f1f1f1" stroke="#000" stroke-width="1" />
<polygon points="1880.7,1406.2 1873.5,1409.2 1873.5,1415.7 1880.7,1412.7" fill="#f1f1f1" stroke="#000" stroke-width="1" /><polygon points="1873.5,1409.2 1866.7,1405.3 1866.7,1411.7 1873.5,1415.7" fill="#f1f1f1" stroke="#000" stroke-width="1" /><polygon points="1866.7,1405.3 1873.9,1402.3 1880.7,1406.2 1873.5,1409.2" fill="#f1f1f1" stroke="#000" stroke-width="1" />
<polygon points="1897.2,1407.3 1890,1410.3 1890,1416.8 1897.2,1413.8" fill="#f1f1f1" stroke="#000" stroke-width="1" /><polygon points="1890,1410.3 1883.2,1406.4 1883.2,1412.8 1890,1416.8" fill="#f1f1f1" stroke="#000" stroke-width="1" /><polygon points="1883.2,1406.4 1890.4,1403.4 1897.2,1407.3 1890,1410.3" fill="#f1f1f1" stroke="#000" stroke-width="1" />
<polygon points="2194.9,1407.3 2190.2,1409.6 2190.2,1417.1 2194.9,1414.8" fill="#f1f1f1" stroke="#000" stroke-width="1" /><polygon points="2190.2,1409.6 2184.4,1407.3 2184.4,1414.8 2190.2,1417.1" fill="#f1f1f1" stroke="#000" stroke-width="1" /><polygon points="2184.4,1407.3 2189.1,1405.1 2194.9,1407.3 2190.2,1409.6" fill="#f1f1f1" stroke="#000" stroke-width="1" />
<polygon points="1562.6,1316 1542.8,1319.7 1542.8,1386.7 1562.6,1383" fill="#f1f1f1" stroke="#000" stroke-width="1.2" /><polygon points="1542.8,1319.7 1533.6,1303.1 1533.6,1370.1 1542.8,1386.7" fill="#f1f1f1" stroke="#000" stroke-width="1.2" /><polygon points="1533.6,1303.1 1542.8,1300.6 1556.4,1302.3 1562.6,1316 1542.8,1319.7" fill="#f1f1f1" stroke="#000" stroke-width="1.2" />
<polygon points="1872.3,1409.8 1865.1,1412.8 1865.1,1419.2 1872.3,1416.2" fill="#f1f1f1" stroke="#000" stroke-width="1" /><polygon points="1865.1,1412.8 1858.3,1408.8 1858.3,1415.3 1865.1,1419.2" fill="#f1f1f1" stroke="#000" stroke-width="1" /><polygon points="1858.3,1408.8 1865.5,1405.8 1872.3,1409.8 1865.1,1412.8" fill="#f1f1f1" stroke="#000" stroke-width="1" />
<polygon points="1774.9,1395.4 1758.7,1401.6 1758.7,1407.1 1774.9,1400.9" fill="#f1f1f1" stroke="#000" stroke-width="1.2" /><polygon points="1758.7,1401.6 1746.3,1389.2 1746.3,1394.7 1758.7,1407.1" fill="#f1f1f1" stroke="#000" stroke-width="1.2" /><polygon points="1746.3,1389.2 1762.5,1383 1774.9,1395.4 1758.7,1401.6" fill="#f1f1f1" stroke="#000" stroke-width="1.2" />
<polygon points="1896.8,1415.5 1889.6,1418.5 1889.6,1425 1896.8,1422" fill="#f1f1f1" stroke="#000" stroke-width="1" /><polygon points="1889.6,1418.5 1882.8,1414.6 1882.8,1421 1889.6,1425" fill="#f1f1f1" stroke="#000" stroke-width="1" /><polygon points="1882.8,1414.6 1889.9,1411.6 1896.8,1415.5 1889.6,1418.5" fill="#f1f1f1" stroke="#000" stroke-width="1" />
<polygon points="1697.5,1402.3 1694.6,1403.5 1692.2,1404.8 1690.8,1406.4 1690.5,1408.1 1690.5,1420.6 1691.2,1422.5 1692.9,1424.7 1697.7,1429.5 1700.1,1431.4 1702.5,1432.7 1705.2,1433.2 1707.9,1433.1 1710.8,1432.3 1714,1431.1 1716.5,1429.8 1717.9,1428.3 1718.3,1426.6 1718.3,1414.2 1717.6,1412.3 1715.8,1410.1 1710.5,1404.8 1708.2,1402.9 1705.7,1401.7 1703.1,1401.2 1700.4,1401.4" fill="#f1f1f1" stroke="#000" stroke-width="1.2" stroke-linejoin="round"/><polygon points="1692.9,1412.3 1691.2,1410.1 1690.5,1408.1 1690.8,1406.4 1692.2,1404.8 1694.6,1403.5 1697.5,1402.3 1700.4,1401.4 1703.1,1401.2 1705.7,1401.7 1708.2,1402.9 1710.5,1404.8 1715.8,1410.1 1717.6,1412.3 1718.3,1414.2 1717.9,1415.9 1716.5,1417.4 1714,1418.7 1710.8,1419.9 1707.9,1420.7 1705.2,1420.8 1702.5,1420.2 1700.1,1419 1697.7,1417.1" fill="#f1f1f1" stroke="#000" stroke-width="1.2" stroke-linejoin="round"/>
<polygon points="1830.7,1417.5 1823.6,1420.6 1823.6,1427 1830.7,1424" fill="#f1f1f1" stroke="#000" stroke-width="1" /><polygon points="1823.6,1420.6 1816.8,1416.6 1816.8,1423.1 1823.6,1427" fill="#f1f1f1" stroke="#000" stroke-width="1" /><polygon points="1816.8,1416.6 1823.9,1413.6 1830.7,1417.5 1823.6,1420.6" fill="#f1f1f1" stroke="#000" stroke-width="1" />
<polygon points="1871.9,1418 1864.7,1421 1864.7,1427.4 1871.9,1424.4" fill="#f1f1f1" stroke="#000" stroke-width="1" /><polygon points="1864.7,1421 1857.9,1417 1857.9,1423.5 1864.7,1427.4" fill="#f1f1f1" stroke="#000" stroke-width="1" /><polygon points="1857.9,1417 1865,1414 1871.9,1418 1864.7,1421" fill="#f1f1f1" stroke="#000" stroke-width="1" />
<polygon points="1847.2,1418.6 1840,1421.7 1840,1428.1 1847.2,1425.1" fill="#f1f1f1" stroke="#000" stroke-width="1" /><polygon points="1840,1421.7 1833.2,1417.7 1833.2,1424.2 1840,1428.1" fill="#f1f1f1" stroke="#000" stroke-width="1" /><polygon points="1833.2,1417.7 1840.4,1414.7 1847.2,1418.6 1840,1421.7" fill="#f1f1f1" stroke="#000" stroke-width="1" />
<polygon points="1566.1,1419.1 1564.7,1421.9 1564.1,1425.1 1564.1,1436.2 1564.4,1439.9 1564.7,1441.2 1565.6,1444.5 1567.1,1447.3 1569.1,1449.7 1571.7,1451.6 1574.8,1453.1 1575.2,1453.2 1578.6,1454.2 1582,1454.5 1585.3,1454.4 1588.6,1453.7 1591.8,1452.4 1621.8,1438.2 1625.4,1436.3 1628.6,1434.2 1631.7,1431.8 1634.6,1429.1 1637.2,1426.2 1654.1,1405.4 1655.4,1403.4 1656,1401.5 1656,1390.3 1655.8,1388.5 1654.9,1386.7 1653.3,1385 1653.1,1384.8 1651.1,1383.4 1649.1,1382.5 1646.9,1382.2 1644.7,1382.4 1642.4,1383.2 1571.6,1415 1568.4,1416.8" fill="#f1f1f1" stroke="#000" stroke-width="1.2" stroke-linejoin="round"/><line x1="1564.4" y1="1436.2" x2="1564.1" y2="1432.5" stroke="#000" stroke-width="1.2" stroke-linecap="round"/><line x1="1656" y1="1397.8" x2="1655.4" y2="1399.7" stroke="#000" stroke-width="1.2" stroke-linecap="round"/><line x1="1655.4" y1="1399.7" x2="1654.1" y2="1401.7" stroke="#000" stroke-width="1.2" stroke-linecap="round"/><line x1="1654.1" y1="1401.7" x2="1637.2" y2="1422.4" stroke="#000" stroke-width="1.2" stroke-linecap="round"/><line x1="1637.2" y1="1422.4" x2="1634.6" y2="1425.4" stroke="#000" stroke-width="1.2" stroke-linecap="round"/><line x1="1634.6" y1="1425.4" x2="1631.7" y2="1428.1" stroke="#000" stroke-width="1.2" stroke-linecap="round"/><line x1="1631.7" y1="1428.1" x2="1628.6" y2="1430.5" stroke="#000" stroke-width="1.2" stroke-linecap="round"/><line x1="1628.6" y1="1430.5" x2="1625.4" y2="1432.6" stroke="#000" stroke-width="1.2" stroke-linecap="round"/><line x1="1625.4" y1="1432.6" x2="1621.8" y2="1434.5" stroke="#000" stroke-width="1.2" stroke-linecap="round"/><line x1="1621.8" y1="1434.5" x2="1591.8" y2="1448.7" stroke="#000" stroke-width="1.2" stroke-linecap="round"/><line x1="1591.8" y1="1448.7" x2="1588.6" y2="1449.9" stroke="#000" stroke-width="1.2" stroke-linecap="round"/><line x1="1588.6" y1="1449.9" x2="1585.3" y2="1450.7" stroke="#000" stroke-width="1.2" stroke-linecap="round"/><line x1="1585.3" y1="1450.7" x2="1582" y2="1450.8" stroke="#000" stroke-width="1.2" stroke-linecap="round"/><line x1="1582" y1="1450.8" x2="1578.6" y2="1450.4" stroke="#000" stroke-width="1.2" stroke-linecap="round"/><line x1="1578.6" y1="1450.4" x2="1575.2" y2="1449.5" stroke="#000" stroke-width="1.2" stroke-linecap="round"/><line x1="1575.2" y1="1449.5" x2="1574.8" y2="1449.4" stroke="#000" stroke-width="1.2" stroke-linecap="round"/><line x1="1574.8" y1="1449.4" x2="1571.7" y2="1447.9" stroke="#000" stroke-width="1.2" stroke-linecap="round"/><line x1="1571.7" y1="1447.9" x2="1569.1" y2="1446" stroke="#000" stroke-width="1.2" stroke-linecap="round"/><line x1="1569.1" y1="1446" x2="1567.1" y2="1443.6" stroke="#000" stroke-width="1.2" stroke-linecap="round"/><line x1="1567.1" y1="1443.6" x2="1565.6" y2="1440.8" stroke="#000" stroke-width="1.2" stroke-linecap="round"/><line x1="1565.6" y1="1440.8" x2="1564.7" y2="1437.5" stroke="#000" stroke-width="1.2" stroke-linecap="round"/><line x1="1564.7" y1="1437.5" x2="1564.4" y2="1436.2" stroke="#000" stroke-width="1.2" stroke-linecap="round"/><polygon points="1564.4,1428.7 1564.1,1425.1 1564.7,1421.9 1566.1,1419.1 1568.4,1416.8 1571.6,1415 1642.4,1383.2 1644.7,1382.4 1646.9,1382.2 1649.1,1382.5 1651.1,1383.4 1653.1,1384.8 1653.3,1385 1654.9,1386.7 1655.8,1388.5 1656,1390.3 1655.4,1392.2 1654.1,1394.2 1637.2,1415 1634.6,1418 1631.7,1420.6 1628.6,1423 1625.4,1425.2 1621.8,1427 1591.8,1441.2 1588.6,1442.5 1585.3,1443.2 1582,1443.4 1578.6,1443 1575.2,1442.1 1574.8,1441.9 1571.7,1440.5 1569.1,1438.6 1567.1,1436.2 1565.6,1433.3 1564.7,1430" fill="#f1f1f1" stroke="#000" stroke-width="1.2" stroke-linejoin="round"/>
<polygon points="2034.2,1420.3 2029.5,1422.6 2029.5,1430 2034.2,1427.7" fill="#f1f1f1" stroke="#000" stroke-width="1" /><polygon points="2029.5,1422.6 2023.8,1420.3 2023.8,1427.7 2029.5,1430" fill="#f1f1f1" stroke="#000" stroke-width="1" /><polygon points="2023.8,1420.3 2028.5,1418 2034.2,1420.3 2029.5,1422.6" fill="#f1f1f1" stroke="#000" stroke-width="1" />
<polygon points="1838.8,1422.2 1831.6,1425.2 1831.6,1431.7 1838.8,1428.6" fill="#f1f1f1" stroke="#000" stroke-width="1" /><polygon points="1831.6,1425.2 1824.8,1421.3 1824.8,1427.7 1831.6,1431.7" fill="#f1f1f1" stroke="#000" stroke-width="1" /><polygon points="1824.8,1421.3 1832,1418.2 1838.8,1422.2 1831.6,1425.2" fill="#f1f1f1" stroke="#000" stroke-width="1" />
<polygon points="1846.8,1426.8 1839.6,1429.8 1839.6,1436.3 1846.8,1433.3" fill="#f1f1f1" stroke="#000" stroke-width="1" /><polygon points="1839.6,1429.8 1832.8,1425.9 1832.8,1432.3 1839.6,1436.3" fill="#f1f1f1" stroke="#000" stroke-width="1" /><polygon points="1832.8,1425.9 1840,1422.9 1846.8,1426.8 1839.6,1429.8" fill="#f1f1f1" stroke="#000" stroke-width="1" />
<polygon points="1863.2,1427.9 1856.1,1430.9 1856.1,1437.4 1863.2,1434.4" fill="#f1f1f1" stroke="#000" stroke-width="1" /><polygon points="1856.1,1430.9 1849.3,1427 1849.3,1433.4 1856.1,1437.4" fill="#f1f1f1" stroke="#000" stroke-width="1" /><polygon points="1849.3,1427 1856.4,1424 1863.2,1427.9 1856.1,1430.9" fill="#f1f1f1" stroke="#000" stroke-width="1" />
<polygon points="1838.3,1430.4 1831.2,1433.4 1831.2,1439.8 1838.3,1436.8" fill="#f1f1f1" stroke="#000" stroke-width="1" /><polygon points="1831.2,1433.4 1824.4,1429.4 1824.4,1435.9 1831.2,1439.8" fill="#f1f1f1" stroke="#000" stroke-width="1" /><polygon points="1824.4,1429.4 1831.5,1426.4 1838.3,1430.4 1831.2,1433.4" fill="#f1f1f1" stroke="#000" stroke-width="1" />
<polygon points="2187.4,1440.1 2182.7,1442.4 2182.7,1449.9 2187.4,1447.6" fill="#f1f1f1" stroke="#000" stroke-width="1" /><polygon points="2182.7,1442.4 2177,1440.1 2177,1447.6 2182.7,1449.9" fill="#f1f1f1" stroke="#000" stroke-width="1" /><polygon points="2177,1440.1 2181.7,1437.8 2187.4,1440.1 2182.7,1442.4" fill="#f1f1f1" stroke="#000" stroke-width="1" />
<polygon points="2187.7,1443 2182.3,1445.7 2182.3,1454.4 2187.7,1451.7" fill="#f1f1f1" stroke="#000" stroke-width="1" /><polygon points="2182.3,1445.7 2175.7,1443 2175.7,1451.7 2182.3,1454.4" fill="#f1f1f1" stroke="#000" stroke-width="1" /><polygon points="2175.7,1443 2181.1,1440.4 2187.7,1443 2182.3,1445.7" fill="#f1f1f1" stroke="#000" stroke-width="1" />
<polygon points="2123.6,1450 2118.9,1452.3 2118.9,1459.8 2123.6,1457.5" fill="#f1f1f1" stroke="#000" stroke-width="1" /><polygon points="2118.9,1452.3 2113.2,1450 2113.2,1457.5 2118.9,1459.8" fill="#f1f1f1" stroke="#000" stroke-width="1" /><polygon points="2113.2,1450 2117.9,1447.8 2123.6,1450 2118.9,1452.3" fill="#f1f1f1" stroke="#000" stroke-width="1" />
<polygon points="2124,1451.4 2118.6,1454.1 2118.6,1462.8 2124,1460.1" fill="#f1f1f1" stroke="#000" stroke-width="1" /><polygon points="2118.6,1454.1 2112,1451.4 2112,1460.1 2118.6,1462.8" fill="#f1f1f1" stroke="#000" stroke-width="1" /><polygon points="2112,1451.4 2117.4,1448.7 2124,1451.4 2118.6,1454.1" fill="#f1f1f1" stroke="#000" stroke-width="1" />
<polygon points="1998,1458 1993.3,1460.3 1993.3,1467.7 1998,1465.4" fill="#f1f1f1" stroke="#000" stroke-width="1" /><polygon points="1993.3,1460.3 1987.6,1458 1987.6,1465.4 1993.3,1467.7" fill="#f1f1f1" stroke="#000" stroke-width="1" /><polygon points="1987.6,1458 1992.2,1455.7 1998,1458 1993.3,1460.3" fill="#f1f1f1" stroke="#000" stroke-width="1" />
<polygon points="1998.9,1459.8 1993.5,1462.4 1993.5,1471.2 1998.9,1468.5" fill="#f1f1f1" stroke="#000" stroke-width="1" /><polygon points="1993.5,1462.4 1986.9,1459.8 1986.9,1468.5 1993.5,1471.2" fill="#f1f1f1" stroke="#000" stroke-width="1" /><polygon points="1986.9,1459.8 1992.3,1457.1 1998.9,1459.8 1993.5,1462.4" fill="#f1f1f1" stroke="#000" stroke-width="1" />
<polygon points="1639.7,1430.8 1636.8,1431.6 1635.6,1432.1 1634.6,1432.9 1633.9,1433.8 1633.5,1435 1633.4,1436.3 1633.4,1436.5 1633.4,1473.5 1633.4,1473.7 1633.5,1475.1 1633.9,1476.3 1634.5,1477.5 1635.4,1478.4 1636.5,1479.2 1639.8,1481.2 1642.2,1482.4 1644.7,1483.1 1647.2,1483.4 1649.7,1483.1 1652.4,1482.4 1656,1481.1 1657.2,1480.5 1658.2,1479.7 1658.9,1478.7 1659.3,1477.6 1659.4,1476.2 1659.4,1476 1659.4,1439 1659.4,1438.8 1659.3,1437.4 1658.9,1436.2 1658.2,1435.2 1657.3,1434.3 1656.1,1433.7 1651.5,1431.6 1649.2,1430.7 1646.9,1430.2 1644.5,1430 1642.1,1430.2" fill="#f1f1f1" stroke="#000" stroke-width="1.2" stroke-linejoin="round"/><polygon points="1633.4,1436.3 1633.5,1435 1633.9,1433.8 1634.6,1432.9 1635.6,1432.1 1636.8,1431.6 1639.7,1430.8 1642.1,1430.2 1644.5,1430 1646.9,1430.2 1649.2,1430.7 1651.5,1431.6 1656.1,1433.7 1657.3,1434.3 1658.2,1435.2 1658.9,1436.2 1659.3,1437.4 1659.4,1438.8 1659.4,1439 1659.3,1440.3 1658.9,1441.5 1658.2,1442.5 1657.2,1443.3 1656,1443.8 1652.4,1445.2 1649.7,1445.9 1647.2,1446.1 1644.7,1445.9 1642.2,1445.2 1639.8,1444 1636.5,1442 1635.4,1441.2 1634.5,1440.2 1633.9,1439.1 1633.5,1437.9 1633.4,1436.5" fill="#f1f1f1" stroke="#000" stroke-width="1.2" stroke-linejoin="round"/>
<polygon points="2563,1466 2467.4,1472.4 2467.4,1489.4 2563,1483" fill="#f1f1f1" stroke="#000" stroke-width="1.2" /><polygon points="2467.4,1472.4 2465,1465 2465,1482 2467.4,1489.4" fill="#f1f1f1" stroke="#000" stroke-width="1.2" /><polygon points="2465,1465 2512,1453 2561,1450 2563,1466 2467.4,1472.4" fill="#f1f1f1" stroke="#000" stroke-width="1.2" />
<polygon points="1578.3,1341.1 1571.2,1343.6 1570.2,1344 1569.4,1344.7 1568.9,1345.5 1568.6,1346.4 1568.6,1347.6 1568.6,1422 1568.6,1422.2 1568.8,1423.3 1569.2,1424.3 1569.8,1425.1 1570.6,1425.8 1571.7,1426.2 1579.6,1429.1 1582.2,1429.8 1584.8,1430.1 1587.4,1430 1590,1429.5 1592.6,1428.5 1600.1,1425 1600.9,1424.5 1601.5,1424 1602,1423.3 1602.2,1422.5 1602.3,1421.6 1602.3,1421.4 1602.3,1347.1 1602.3,1347 1602.2,1346.1 1602,1345.3 1601.5,1344.7 1600.9,1344.2 1600,1343.8 1591.6,1341 1588.9,1340.3 1586.3,1340 1583.6,1340 1581,1340.4" fill="#f1f1f1" stroke="#000" stroke-width="1.2" stroke-linejoin="round"/><line x1="1602.3" y1="1386.8" x2="1602.2" y2="1387.7" stroke="#000" stroke-width="1.2" stroke-linecap="round"/><line x1="1602.2" y1="1387.7" x2="1602" y2="1388.5" stroke="#000" stroke-width="1.2" stroke-linecap="round"/><line x1="1602" y1="1388.5" x2="1601.5" y2="1389.2" stroke="#000" stroke-width="1.2" stroke-linecap="round"/><line x1="1601.5" y1="1389.2" x2="1600.9" y2="1389.8" stroke="#000" stroke-width="1.2" stroke-linecap="round"/><line x1="1600.9" y1="1389.8" x2="1600.1" y2="1390.2" stroke="#000" stroke-width="1.2" stroke-linecap="round"/><line x1="1600.1" y1="1390.2" x2="1592.6" y2="1393.7" stroke="#000" stroke-width="1.2" stroke-linecap="round"/><line x1="1592.6" y1="1393.7" x2="1590" y2="1394.7" stroke="#000" stroke-width="1.2" stroke-linecap="round"/><line x1="1590" y1="1394.7" x2="1587.4" y2="1395.2" stroke="#000" stroke-width="1.2" stroke-linecap="round"/><line x1="1587.4" y1="1395.2" x2="1584.8" y2="1395.4" stroke="#000" stroke-width="1.2" stroke-linecap="round"/><line x1="1584.8" y1="1395.4" x2="1582.2" y2="1395" stroke="#000" stroke-width="1.2" stroke-linecap="round"/><line x1="1582.2" y1="1395" x2="1579.6" y2="1394.3" stroke="#000" stroke-width="1.2" stroke-linecap="round"/><line x1="1579.6" y1="1394.3" x2="1571.7" y2="1391.5" stroke="#000" stroke-width="1.2" stroke-linecap="round"/><line x1="1571.7" y1="1391.5" x2="1570.6" y2="1391" stroke="#000" stroke-width="1.2" stroke-linecap="round"/><line x1="1570.6" y1="1391" x2="1569.8" y2="1390.4" stroke="#000" stroke-width="1.2" stroke-linecap="round"/><line x1="1569.8" y1="1390.4" x2="1569.2" y2="1389.5" stroke="#000" stroke-width="1.2" stroke-linecap="round"/><line x1="1569.2" y1="1389.5" x2="1568.8" y2="1388.6" stroke="#000" stroke-width="1.2" stroke-linecap="round"/><line x1="1568.8" y1="1388.6" x2="1568.6" y2="1387.4" stroke="#000" stroke-width="1.2" stroke-linecap="round"/><line x1="1568.6" y1="1387.4" x2="1568.6" y2="1387.3" stroke="#000" stroke-width="1.2" stroke-linecap="round"/><polygon points="1568.6,1347.6 1568.6,1346.4 1568.9,1345.5 1569.4,1344.7 1570.2,1344 1571.2,1343.6 1578.3,1341.1 1581,1340.4 1583.6,1340 1586.3,1340 1588.9,1340.3 1591.6,1341 1600,1343.8 1600.9,1344.2 1601.5,1344.7 1602,1345.3 1602.2,1346.1 1602.3,1347 1602.3,1347.1 1602.2,1348 1602,1348.8 1601.5,1349.5 1600.9,1350.1 1600.1,1350.5 1592.6,1354 1590,1355 1587.4,1355.5 1584.8,1355.6 1582.2,1355.3 1579.6,1354.6 1571.7,1351.8 1570.6,1351.3 1569.8,1350.6 1569.2,1349.8 1568.8,1348.8 1568.6,1347.7" fill="#f1f1f1" stroke="#000" stroke-width="1.2" stroke-linejoin="round"/>
<polygon points="2764.3,1426.2 2779.8,1430.3 2771,1473.9 2768.7,1473.9 2768.7,1429.6" fill="#ececec" stroke="#000" stroke-width="1.4" />
<polygon points="2755.8,1444.3 2768,1444.3 2768,1496.8 2755.8,1496.8" fill="#ff0000" stroke="#000" stroke-width="1.4" />
<polyline points="2755.8,1455.4 2768,1455.4" fill="none" stroke="#000" stroke-width="1.3"/>
<polyline points="2755.8,1461.3 2768,1461.3" fill="none" stroke="#000" stroke-width="1.3"/>
<polyline points="2755.8,1470.2 2768,1470.2" fill="none" stroke="#000" stroke-width="1.3"/>
<polyline points="2755.8,1487.6 2768,1487.6" fill="none" stroke="#000" stroke-width="1.3"/>
<polygon points="2761.7,1480.2 2773.5,1473.2 2773.5,1488.3 2761.7,1488.3" fill="#ff0000" stroke="#000" stroke-width="1.4" />
<polyline points="2767.6,1444.3 2767.6,1473.9" fill="none" stroke="#000" stroke-width="2.2"/>
<polygon points="1595.5,1477 1594.1,1477.8 1593.2,1479 1592.6,1480.4 1592.4,1482.2 1592.4,1482.4 1592.4,1492.1 1592.4,1492.4 1592.5,1494.3 1592.8,1496.1 1593.3,1497.9 1594,1499.7 1594.9,1501.4 1608.3,1523.4 1610.6,1526.4 1613.2,1528.4 1616.1,1529.5 1619.4,1529.7 1623,1528.9 1649.9,1520.2 1653.3,1518.7 1656,1516.6 1657.9,1514 1659.1,1510.8 1659.4,1507.1 1659.4,1502.3 1659.4,1497.1 1659.4,1492.3 1659.1,1488.6 1658,1485.2 1656.2,1482.4 1653.7,1480 1650.4,1478 1642.4,1474.2 1638.8,1472.7 1635,1471.7 1631.3,1471.2 1627.4,1471.2 1623.5,1471.7 1597.2,1476.5" fill="#f1f1f1" stroke="#000" stroke-width="1.2" stroke-linejoin="round"/><polygon points="1592.4,1482.2 1592.6,1480.4 1593.2,1479 1594.1,1477.8 1595.5,1477 1597.2,1476.5 1623.5,1471.7 1627.4,1471.2 1631.3,1471.2 1635,1471.7 1638.8,1472.7 1642.4,1474.2 1650.4,1478 1653.7,1480 1656.2,1482.4 1658,1485.2 1659.1,1488.6 1659.4,1492.3 1659.4,1497.1 1659.1,1500.9 1657.9,1504 1656,1506.7 1653.3,1508.7 1649.9,1510.2 1623,1519 1619.4,1519.7 1616.1,1519.6 1613.2,1518.5 1610.6,1516.5 1608.3,1513.5 1594.9,1491.4 1594,1489.7 1593.3,1488 1592.8,1486.2 1592.5,1484.4 1592.4,1482.4" fill="#f1f1f1" stroke="#000" stroke-width="1.2" stroke-linejoin="round"/>
<polygon points="1924.5,1501.7 1919.1,1504.4 1919.1,1513.1 1924.5,1510.4" fill="#f1f1f1" stroke="#000" stroke-width="1" /><polygon points="1919.1,1504.4 1912.4,1501.7 1912.4,1510.4 1919.1,1513.1" fill="#f1f1f1" stroke="#000" stroke-width="1" /><polygon points="1912.4,1501.7 1917.9,1499 1924.5,1501.7 1919.1,1504.4" fill="#f1f1f1" stroke="#000" stroke-width="1" />
<polygon points="2315.8,1507.1 2263.2,1515.5 2263.2,1523.8 2315.8,1515.5" fill="#f1f1f1" stroke="#000" stroke-width="1.2" /><polygon points="2263.2,1515.5 2258.8,1504.4 2258.8,1512.8 2263.2,1523.8" fill="#f1f1f1" stroke="#000" stroke-width="1.2" /><polygon points="2258.8,1504.4 2311.5,1496.3 2315.8,1507.1 2263.2,1515.5" fill="#f1f1f1" stroke="#000" stroke-width="1.2" />
<polygon points="2247.8,1515.5 2196.1,1526.5 2196.1,1535.9 2247.8,1524.8" fill="#f1f1f1" stroke="#000" stroke-width="1.2" /><polygon points="2196.1,1526.5 2190.1,1514.4 2190.1,1523.8 2196.1,1535.9" fill="#f1f1f1" stroke="#000" stroke-width="1.2" /><polygon points="2190.1,1514.4 2242.1,1504.4 2247.8,1515.5 2196.1,1526.5" fill="#f1f1f1" stroke="#000" stroke-width="1.2" />
<polygon points="1704,1460.1 1736.8,1463.7 1767.8,1480 1767.8,1496.4 1759,1516.9 1728.6,1528.6 1712.2,1523.4 1690.5,1515.2 1690.5,1494.7" fill="#ff0000" stroke="#000" stroke-width="1.4" />
<polyline points="1690.5,1496.4 1752.6,1504.6 1767.8,1481.2" fill="none" stroke="#000" stroke-width="1.3"/>
<polyline points="1752.6,1504.6 1752.6,1519.3" fill="none" stroke="#000" stroke-width="1.3"/>
<polyline points="1736.8,1463.7 1756.1,1495.3" fill="none" stroke="#000" stroke-width="1.3"/>
<polygon points="2181.7,1528.9 2130.4,1540.6 2130.4,1550 2181.7,1538.3" fill="#f1f1f1" stroke="#000" stroke-width="1.2" /><polygon points="2130.4,1540.6 2123,1527.9 2123,1537.3 2130.4,1550" fill="#f1f1f1" stroke="#000" stroke-width="1.2" /><polygon points="2123,1527.9 2173.3,1516.5 2181.7,1528.9 2130.4,1540.6" fill="#f1f1f1" stroke="#000" stroke-width="1.2" />
<polygon points="1609.2,1439.3 1604.7,1440.5 1603.4,1440.9 1602.5,1441.6 1601.9,1442.5 1601.6,1443.6 1601.6,1495.8 1601.7,1497.1 1601.7,1497.3 1602.1,1498.7 1602.7,1499.8 1603.5,1500.8 1604.5,1501.6 1605.8,1502.2 1609.4,1503.5 1612.1,1504.3 1614.7,1504.8 1617.4,1505 1620.1,1504.8 1622.8,1504.3 1628.5,1503 1629.8,1502.6 1630.7,1501.9 1631.3,1501 1631.6,1499.9 1631.6,1447.8 1631.5,1446.4 1631.5,1446.2 1631.1,1444.9 1630.5,1443.7 1629.7,1442.8 1628.7,1442 1627.4,1441.4 1622.6,1439.9 1620,1439.1 1617.3,1438.7 1614.6,1438.6 1611.9,1438.8" fill="#f1f1f1" stroke="#000" stroke-width="1.2" stroke-linejoin="round"/><polygon points="1601.7,1445 1601.6,1443.6 1601.9,1442.5 1602.5,1441.6 1603.4,1440.9 1604.7,1440.5 1609.2,1439.3 1611.9,1438.8 1614.6,1438.6 1617.3,1438.7 1620,1439.1 1622.6,1439.9 1627.4,1441.4 1628.7,1442 1629.7,1442.8 1630.5,1443.7 1631.1,1444.9 1631.5,1446.2 1631.5,1446.4 1631.6,1447.8 1631.3,1448.9 1630.7,1449.8 1629.8,1450.4 1628.5,1450.9 1622.8,1452.2 1620.1,1452.7 1617.4,1452.8 1614.7,1452.7 1612.1,1452.2 1609.4,1451.4 1605.8,1450.1 1604.5,1449.5 1603.5,1448.7 1602.7,1447.7 1602.1,1446.5 1601.7,1445.2" fill="#f1f1f1" stroke="#000" stroke-width="1.2" stroke-linejoin="round"/>
<polygon points="2010.7,1555.7 1960.4,1567.4 1960.4,1575.8 2010.7,1564.1" fill="#f1f1f1" stroke="#000" stroke-width="1.2" /><polygon points="1960.4,1567.4 1952,1555.7 1952,1564.1 1960.4,1575.8" fill="#f1f1f1" stroke="#000" stroke-width="1.2" /><polygon points="1952,1555.7 2001.6,1543.3 2010.7,1555.7 1960.4,1567.4" fill="#f1f1f1" stroke="#000" stroke-width="1.2" />
<polygon points="1686.4,1573.5 1668.6,1578.2 1668.6,1587.6 1686.4,1582.9" fill="#f1f1f1" stroke="#000" stroke-width="1.2" /><polygon points="1668.6,1578.2 1661.2,1568.1 1661.2,1577.5 1668.6,1587.6" fill="#f1f1f1" stroke="#000" stroke-width="1.2" /><polygon points="1661.2,1568.1 1680.4,1563.1 1686.4,1573.5 1668.6,1578.2" fill="#f1f1f1" stroke="#000" stroke-width="1.2" />
<polygon points="1944.6,1569.1 1894.3,1581.5 1894.3,1590.9 1944.6,1578.5" fill="#f1f1f1" stroke="#000" stroke-width="1.2" /><polygon points="1894.3,1581.5 1888.3,1572.5 1888.3,1581.9 1894.3,1590.9" fill="#f1f1f1" stroke="#000" stroke-width="1.2" /><polygon points="1888.3,1572.5 1938.6,1560.1 1944.6,1569.1 1894.3,1581.5" fill="#f1f1f1" stroke="#000" stroke-width="1.2" />
<polygon points="1880.9,1584.9 1829.6,1597.6 1829.6,1607 1880.9,1594.3" fill="#f1f1f1" stroke="#000" stroke-width="1.2" /><polygon points="1829.6,1597.6 1823.9,1589.2 1823.9,1598.6 1829.6,1607" fill="#f1f1f1" stroke="#000" stroke-width="1.2" /><polygon points="1823.9,1589.2 1874.9,1575.8 1880.9,1584.9 1829.6,1597.6" fill="#f1f1f1" stroke="#000" stroke-width="1.2" />
<polygon points="1672,1595.9 1656.2,1601 1656.2,1614.4 1672,1609.3" fill="#f1f1f1" stroke="#000" stroke-width="1.2" /><polygon points="1656.2,1601 1646.2,1588.6 1646.2,1602 1656.2,1614.4" fill="#f1f1f1" stroke="#000" stroke-width="1.2" /><polygon points="1646.2,1588.6 1661.9,1584.2 1672,1595.9 1656.2,1601" fill="#f1f1f1" stroke="#000" stroke-width="1.2" />
<polygon points="1743.4,1609.3 1725.6,1613.7 1725.6,1621.1 1743.4,1616.7" fill="#f1f1f1" stroke="#000" stroke-width="1.2" /><polygon points="1725.6,1613.7 1717.9,1603.6 1717.9,1611 1725.6,1621.1" fill="#f1f1f1" stroke="#000" stroke-width="1.2" /><polygon points="1717.9,1603.6 1735.7,1599.3 1743.4,1609.3 1725.6,1613.7" fill="#f1f1f1" stroke="#000" stroke-width="1.2" />
<polygon points="1688.7,1616.1 1672,1621.1 1672,1636.2 1688.7,1631.1" fill="#f1f1f1" stroke="#000" stroke-width="1.2" /><polygon points="1672,1621.1 1661.9,1605 1661.9,1620.1 1672,1636.2" fill="#f1f1f1" stroke="#000" stroke-width="1.2" /><polygon points="1661.9,1605 1679.7,1600.3 1688.7,1616.1 1672,1621.1" fill="#f1f1f1" stroke="#000" stroke-width="1.2" />
<polygon points="1756.8,1625.1 1718.9,1636.2 1718.9,1643.6 1756.8,1632.5" fill="#f1f1f1" stroke="#000" stroke-width="1.2" /><polygon points="1718.9,1636.2 1713.2,1628.5 1713.2,1635.8 1718.9,1643.6" fill="#f1f1f1" stroke="#000" stroke-width="1.2" /><polygon points="1713.2,1628.5 1750.8,1617.7 1756.8,1625.1 1718.9,1636.2" fill="#f1f1f1" stroke="#000" stroke-width="1.2" />
</g>
<line x1="399" y1="683" x2="2734" y2="683" stroke="#000" stroke-width="3.6" stroke-dasharray="3 1.7"/>
<circle cx="2734" cy="683" r="8.8" fill="#000"/>
<line x1="399" y1="808.4" x2="2285" y2="808.4" stroke="#000" stroke-width="3.2" stroke-dasharray="3 1.7"/>
<circle cx="2285" cy="808.4" r="8.8" fill="#000"/>
<line x1="399" y1="1000" x2="2180" y2="1000" stroke="#000" stroke-width="3.3" stroke-dasharray="3 1.7"/>
<circle cx="2180" cy="1000" r="8.8" fill="#000"/>
<line x1="399" y1="1370" x2="2342.5" y2="1370" stroke="#000" stroke-width="4" stroke-dasharray="3 1.7"/>
<circle cx="2342.5" cy="1370" r="8.8" fill="#000"/>
<line x1="399" y1="1437" x2="2761" y2="1437" stroke="#000" stroke-width="4" stroke-dasharray="3 1.7"/>
<circle cx="2761" cy="1437" r="8.8" fill="#000"/>
<line x1="399" y1="1520" x2="1721" y2="1520" stroke="#000" stroke-width="4" stroke-dasharray="3 1.7"/>
<circle cx="1721" cy="1520" r="8.8" fill="#000"/>
<line x1="399" y1="1914.8" x2="2376.5" y2="1914.8" stroke="#000" stroke-width="3.6" stroke-dasharray="3 1.7"/>
<circle cx="2376.5" cy="1914.8" r="8.8" fill="#000"/>
<line x1="399" y1="2813.6" x2="1846" y2="2813.6" stroke="#000" stroke-width="3.4" stroke-dasharray="3 1.7"/>
<circle cx="1846" cy="2813.6" r="8.8" fill="#000"/>
<polyline points="399,3147 1723,3147 1723,3246" stroke="#000" stroke-width="4" stroke-dasharray="3 1.7" fill="none"/>
<circle cx="1723" cy="3246.5" r="8.8" fill="#000"/>
<rect x="399.00" y="350.30" width="35.00" height="5.70" fill="#000"/><text transform="translate(433.32,350.10) scale(0.4857,1)" font-size="69.77" letter-spacing="5.353" fill="#000">SCHÉMA HMOTOVO-PRIESTOROVÉHO RIEŠENIA</text><text transform="translate(434.32,350.10) scale(0.4857,1)" font-size="69.77" letter-spacing="5.353" fill="#000">SCHÉMA HMOTOVO-PRIESTOROVÉHO RIEŠENIA</text><text transform="translate(435.32,350.10) scale(0.4857,1)" font-size="69.77" letter-spacing="5.353" fill="#000">SCHÉMA HMOTOVO-PRIESTOROVÉHO RIEŠENIA</text><text transform="translate(436.32,350.10) scale(0.4857,1)" font-size="69.77" letter-spacing="5.353" fill="#000">SCHÉMA HMOTOVO-PRIESTOROVÉHO RIEŠENIA</text><text transform="translate(437.32,350.10) scale(0.4857,1)" font-size="69.77" letter-spacing="5.353" fill="#000">SCHÉMA HMOTOVO-PRIESTOROVÉHO RIEŠENIA</text>
<text transform="translate(396.82,665.00) scale(0.4679,1)" font-size="69.77" letter-spacing="5.557" fill="#000">PORTÁL</text><text transform="translate(397.82,665.00) scale(0.4679,1)" font-size="69.77" letter-spacing="5.557" fill="#000">PORTÁL</text><text transform="translate(398.82,665.00) scale(0.4679,1)" font-size="69.77" letter-spacing="5.557" fill="#000">PORTÁL</text><text transform="translate(399.82,665.00) scale(0.4679,1)" font-size="69.77" letter-spacing="5.557" fill="#000">PORTÁL</text><text transform="translate(400.82,665.00) scale(0.4679,1)" font-size="69.77" letter-spacing="5.557" fill="#000">PORTÁL</text>
<text transform="translate(396.75,789.70) scale(0.4811,1)" font-size="69.77" letter-spacing="5.404" fill="#000">MULTIFUNKČNÁ ŠPORTOVÁ HALA</text><text transform="translate(397.75,789.70) scale(0.4811,1)" font-size="69.77" letter-spacing="5.404" fill="#000">MULTIFUNKČNÁ ŠPORTOVÁ HALA</text><text transform="translate(398.75,789.70) scale(0.4811,1)" font-size="69.77" letter-spacing="5.404" fill="#000">MULTIFUNKČNÁ ŠPORTOVÁ HALA</text><text transform="translate(399.75,789.70) scale(0.4811,1)" font-size="69.77" letter-spacing="5.404" fill="#000">MULTIFUNKČNÁ ŠPORTOVÁ HALA</text><text transform="translate(400.75,789.70) scale(0.4811,1)" font-size="69.77" letter-spacing="5.404" fill="#000">MULTIFUNKČNÁ ŠPORTOVÁ HALA</text>
<text transform="translate(398.04,983.50) scale(0.4785,1)" font-size="69.77" letter-spacing="5.434" fill="#000">SAKRÁLNA STAVBA</text><text transform="translate(399.04,983.50) scale(0.4785,1)" font-size="69.77" letter-spacing="5.434" fill="#000">SAKRÁLNA STAVBA</text><text transform="translate(400.04,983.50) scale(0.4785,1)" font-size="69.77" letter-spacing="5.434" fill="#000">SAKRÁLNA STAVBA</text><text transform="translate(401.04,983.50) scale(0.4785,1)" font-size="69.77" letter-spacing="5.434" fill="#000">SAKRÁLNA STAVBA</text><text transform="translate(402.04,983.50) scale(0.4785,1)" font-size="69.77" letter-spacing="5.434" fill="#000">SAKRÁLNA STAVBA</text>
<text transform="translate(397.86,1354.00) scale(0.4695,1)" font-size="69.77" letter-spacing="5.538" fill="#000">GALÉRIA</text><text transform="translate(398.86,1354.00) scale(0.4695,1)" font-size="69.77" letter-spacing="5.538" fill="#000">GALÉRIA</text><text transform="translate(399.86,1354.00) scale(0.4695,1)" font-size="69.77" letter-spacing="5.538" fill="#000">GALÉRIA</text><text transform="translate(400.86,1354.00) scale(0.4695,1)" font-size="69.77" letter-spacing="5.538" fill="#000">GALÉRIA</text><text transform="translate(401.86,1354.00) scale(0.4695,1)" font-size="69.77" letter-spacing="5.538" fill="#000">GALÉRIA</text>
<text transform="translate(396.93,1425.80) scale(0.4866,1)" font-size="69.77" letter-spacing="5.344" fill="#000">ROZHLADŇA</text><text transform="translate(397.93,1425.80) scale(0.4866,1)" font-size="69.77" letter-spacing="5.344" fill="#000">ROZHLADŇA</text><text transform="translate(398.93,1425.80) scale(0.4866,1)" font-size="69.77" letter-spacing="5.344" fill="#000">ROZHLADŇA</text><text transform="translate(399.93,1425.80) scale(0.4866,1)" font-size="69.77" letter-spacing="5.344" fill="#000">ROZHLADŇA</text><text transform="translate(400.93,1425.80) scale(0.4866,1)" font-size="69.77" letter-spacing="5.344" fill="#000">ROZHLADŇA</text>
<text transform="translate(397.87,1503.00) scale(0.4659,1)" font-size="69.77" letter-spacing="5.581" fill="#000">OPERA</text><text transform="translate(398.87,1503.00) scale(0.4659,1)" font-size="69.77" letter-spacing="5.581" fill="#000">OPERA</text><text transform="translate(399.87,1503.00) scale(0.4659,1)" font-size="69.77" letter-spacing="5.581" fill="#000">OPERA</text><text transform="translate(400.87,1503.00) scale(0.4659,1)" font-size="69.77" letter-spacing="5.581" fill="#000">OPERA</text><text transform="translate(401.87,1503.00) scale(0.4659,1)" font-size="69.77" letter-spacing="5.581" fill="#000">OPERA</text>
<rect x="399.80" y="1684.90" width="25.81" height="4.20" fill="#000"/><text transform="translate(424.21,1684.70) scale(0.4953,1)" font-size="51.45" letter-spacing="5.250" fill="#000">NÁVRH</text><text transform="translate(424.86,1684.70) scale(0.4953,1)" font-size="51.45" letter-spacing="5.250" fill="#000">NÁVRH</text><text transform="translate(425.51,1684.70) scale(0.4953,1)" font-size="51.45" letter-spacing="5.250" fill="#000">NÁVRH</text><text transform="translate(426.16,1684.70) scale(0.4953,1)" font-size="51.45" letter-spacing="5.250" fill="#000">NÁVRH</text><text transform="translate(426.81,1684.70) scale(0.4953,1)" font-size="51.45" letter-spacing="5.250" fill="#000">NÁVRH</text>
<text transform="translate(396.75,1904.10) scale(0.4819,1)" font-size="69.77" letter-spacing="5.396" fill="#000">HARBOUR CITY</text><text transform="translate(397.75,1904.10) scale(0.4819,1)" font-size="69.77" letter-spacing="5.396" fill="#000">HARBOUR CITY</text><text transform="translate(398.75,1904.10) scale(0.4819,1)" font-size="69.77" letter-spacing="5.396" fill="#000">HARBOUR CITY</text><text transform="translate(399.75,1904.10) scale(0.4819,1)" font-size="69.77" letter-spacing="5.396" fill="#000">HARBOUR CITY</text><text transform="translate(400.75,1904.10) scale(0.4819,1)" font-size="69.77" letter-spacing="5.396" fill="#000">HARBOUR CITY</text><rect x="686.84" y="1904.30" width="35.00" height="5.70" fill="#000"/><text transform="translate(719.90,1904.10) scale(0.4819,1)" font-size="69.77" letter-spacing="5.396" fill="#000">FOSTER AND PARTNERS</text><text transform="translate(720.90,1904.10) scale(0.4819,1)" font-size="69.77" letter-spacing="5.396" fill="#000">FOSTER AND PARTNERS</text><text transform="translate(721.90,1904.10) scale(0.4819,1)" font-size="69.77" letter-spacing="5.396" fill="#000">FOSTER AND PARTNERS</text><text transform="translate(722.90,1904.10) scale(0.4819,1)" font-size="69.77" letter-spacing="5.396" fill="#000">FOSTER AND PARTNERS</text><text transform="translate(723.90,1904.10) scale(0.4819,1)" font-size="69.77" letter-spacing="5.396" fill="#000">FOSTER AND PARTNERS</text><path d="M 1206.30 1856.74 Q 1196.38 1880.10 1206.30 1903.46" fill="none" stroke="#000" stroke-width="8.20"/><text transform="translate(1208.53,1904.10) scale(0.4819,1)" font-size="69.77" letter-spacing="5.396" fill="#000">SIEBERT+TALAŠ</text><text transform="translate(1209.53,1904.10) scale(0.4819,1)" font-size="69.77" letter-spacing="5.396" fill="#000">SIEBERT+TALAŠ</text><text transform="translate(1210.53,1904.10) scale(0.4819,1)" font-size="69.77" letter-spacing="5.396" fill="#000">SIEBERT+TALAŠ</text><text transform="translate(1211.53,1904.10) scale(0.4819,1)" font-size="69.77" letter-spacing="5.396" fill="#000">SIEBERT+TALAŠ</text><text transform="translate(1212.53,1904.10) scale(0.4819,1)" font-size="69.77" letter-spacing="5.396" fill="#000">SIEBERT+TALAŠ</text><path d="M 1523.00 1856.74 Q 1532.92 1880.10 1523.00 1903.46" fill="none" stroke="#000" stroke-width="8.20"/>
<rect x="402.10" y="2687.20" width="25.81" height="4.20" fill="#000"/><text transform="translate(426.62,2687.00) scale(0.4626,1)" font-size="51.45" letter-spacing="5.621" fill="#000">EXISTUJÚCE PROJEKTY</text><text transform="translate(427.27,2687.00) scale(0.4626,1)" font-size="51.45" letter-spacing="5.621" fill="#000">EXISTUJÚCE PROJEKTY</text><text transform="translate(427.92,2687.00) scale(0.4626,1)" font-size="51.45" letter-spacing="5.621" fill="#000">EXISTUJÚCE PROJEKTY</text><text transform="translate(428.57,2687.00) scale(0.4626,1)" font-size="51.45" letter-spacing="5.621" fill="#000">EXISTUJÚCE PROJEKTY</text><text transform="translate(429.22,2687.00) scale(0.4626,1)" font-size="51.45" letter-spacing="5.621" fill="#000">EXISTUJÚCE PROJEKTY</text>
<text transform="translate(396.95,2802.20) scale(0.4813,1)" font-size="69.77" letter-spacing="5.402" fill="#000">KOTOLŇA, KOMÍN, HALA PLYNÁRNE</text><text transform="translate(397.95,2802.20) scale(0.4813,1)" font-size="69.77" letter-spacing="5.402" fill="#000">KOTOLŇA, KOMÍN, HALA PLYNÁRNE</text><text transform="translate(398.95,2802.20) scale(0.4813,1)" font-size="69.77" letter-spacing="5.402" fill="#000">KOTOLŇA, KOMÍN, HALA PLYNÁRNE</text><text transform="translate(399.95,2802.20) scale(0.4813,1)" font-size="69.77" letter-spacing="5.402" fill="#000">KOTOLŇA, KOMÍN, HALA PLYNÁRNE</text><text transform="translate(400.95,2802.20) scale(0.4813,1)" font-size="69.77" letter-spacing="5.402" fill="#000">KOTOLŇA, KOMÍN, HALA PLYNÁRNE</text>
<text transform="translate(397.65,3027.40) scale(0.4730,1)" font-size="69.77" letter-spacing="5.497" fill="#000">ČERPACIA STANICA ODPADOVÝCH VÔD</text><text transform="translate(398.65,3027.40) scale(0.4730,1)" font-size="69.77" letter-spacing="5.497" fill="#000">ČERPACIA STANICA ODPADOVÝCH VÔD</text><text transform="translate(399.65,3027.40) scale(0.4730,1)" font-size="69.77" letter-spacing="5.497" fill="#000">ČERPACIA STANICA ODPADOVÝCH VÔD</text><text transform="translate(400.65,3027.40) scale(0.4730,1)" font-size="69.77" letter-spacing="5.497" fill="#000">ČERPACIA STANICA ODPADOVÝCH VÔD</text><text transform="translate(401.65,3027.40) scale(0.4730,1)" font-size="69.77" letter-spacing="5.497" fill="#000">ČERPACIA STANICA ODPADOVÝCH VÔD</text>
<text transform="translate(396.76,3074.00) scale(0.4807,1)" font-size="69.77" letter-spacing="5.409" fill="#000">DOM LODNÍKOV</text><text transform="translate(397.76,3074.00) scale(0.4807,1)" font-size="69.77" letter-spacing="5.409" fill="#000">DOM LODNÍKOV</text><text transform="translate(398.76,3074.00) scale(0.4807,1)" font-size="69.77" letter-spacing="5.409" fill="#000">DOM LODNÍKOV</text><text transform="translate(399.76,3074.00) scale(0.4807,1)" font-size="69.77" letter-spacing="5.409" fill="#000">DOM LODNÍKOV</text><text transform="translate(400.76,3074.00) scale(0.4807,1)" font-size="69.77" letter-spacing="5.409" fill="#000">DOM LODNÍKOV</text>
<text transform="translate(396.76,3124.10) scale(0.4810,1)" font-size="69.77" letter-spacing="5.406" fill="#000">LODNÁ DIELŇA</text><text transform="translate(397.76,3124.10) scale(0.4810,1)" font-size="69.77" letter-spacing="5.406" fill="#000">LODNÁ DIELŇA</text><text transform="translate(398.76,3124.10) scale(0.4810,1)" font-size="69.77" letter-spacing="5.406" fill="#000">LODNÁ DIELŇA</text><text transform="translate(399.76,3124.10) scale(0.4810,1)" font-size="69.77" letter-spacing="5.406" fill="#000">LODNÁ DIELŇA</text><text transform="translate(400.76,3124.10) scale(0.4810,1)" font-size="69.77" letter-spacing="5.406" fill="#000">LODNÁ DIELŇA</text>
<rect x="402.20" y="3312.00" width="25.81" height="4.20" fill="#000"/><text transform="translate(426.69,3311.80) scale(0.4703,1)" font-size="51.45" letter-spacing="5.529" fill="#000">EXISTUJÚCA ZÁSTAVBA</text><text transform="translate(427.34,3311.80) scale(0.4703,1)" font-size="51.45" letter-spacing="5.529" fill="#000">EXISTUJÚCA ZÁSTAVBA</text><text transform="translate(427.99,3311.80) scale(0.4703,1)" font-size="51.45" letter-spacing="5.529" fill="#000">EXISTUJÚCA ZÁSTAVBA</text><text transform="translate(428.64,3311.80) scale(0.4703,1)" font-size="51.45" letter-spacing="5.529" fill="#000">EXISTUJÚCA ZÁSTAVBA</text><text transform="translate(429.29,3311.80) scale(0.4703,1)" font-size="51.45" letter-spacing="5.529" fill="#000">EXISTUJÚCA ZÁSTAVBA</text>
<text transform="translate(3847.79,1003.90) scale(0.4745,1)" font-size="69.77" letter-spacing="5.479" fill="#000">IKONICKÉ STAVBY</text><text transform="translate(3848.79,1003.90) scale(0.4745,1)" font-size="69.77" letter-spacing="5.479" fill="#000">IKONICKÉ STAVBY</text><text transform="translate(3849.79,1003.90) scale(0.4745,1)" font-size="69.77" letter-spacing="5.479" fill="#000">IKONICKÉ STAVBY</text><text transform="translate(3850.79,1003.90) scale(0.4745,1)" font-size="69.77" letter-spacing="5.479" fill="#000">IKONICKÉ STAVBY</text><text transform="translate(3851.79,1003.90) scale(0.4745,1)" font-size="69.77" letter-spacing="5.479" fill="#000">IKONICKÉ STAVBY</text><rect x="4193.30" y="1004.10" width="35.00" height="5.70" fill="#000"/>
<text transform="translate(3847.75,1083.90) scale(0.4824,1)" font-size="69.77" letter-spacing="5.390" fill="#000">NA KTORÝCH ARCHITEKTONICKÉ STVÁRNENIE</text><text transform="translate(3848.75,1083.90) scale(0.4824,1)" font-size="69.77" letter-spacing="5.390" fill="#000">NA KTORÝCH ARCHITEKTONICKÉ STVÁRNENIE</text><text transform="translate(3849.75,1083.90) scale(0.4824,1)" font-size="69.77" letter-spacing="5.390" fill="#000">NA KTORÝCH ARCHITEKTONICKÉ STVÁRNENIE</text><text transform="translate(3850.75,1083.90) scale(0.4824,1)" font-size="69.77" letter-spacing="5.390" fill="#000">NA KTORÝCH ARCHITEKTONICKÉ STVÁRNENIE</text><text transform="translate(3851.75,1083.90) scale(0.4824,1)" font-size="69.77" letter-spacing="5.390" fill="#000">NA KTORÝCH ARCHITEKTONICKÉ STVÁRNENIE</text>
<text transform="translate(3847.76,1163.90) scale(0.4810,1)" font-size="69.77" letter-spacing="5.405" fill="#000">BY MAL BYŤ KLADENÝ OSOBITÝ DÔRAZ</text><text transform="translate(3848.76,1163.90) scale(0.4810,1)" font-size="69.77" letter-spacing="5.405" fill="#000">BY MAL BYŤ KLADENÝ OSOBITÝ DÔRAZ</text><text transform="translate(3849.76,1163.90) scale(0.4810,1)" font-size="69.77" letter-spacing="5.405" fill="#000">BY MAL BYŤ KLADENÝ OSOBITÝ DÔRAZ</text><text transform="translate(3850.76,1163.90) scale(0.4810,1)" font-size="69.77" letter-spacing="5.405" fill="#000">BY MAL BYŤ KLADENÝ OSOBITÝ DÔRAZ</text><text transform="translate(3851.76,1163.90) scale(0.4810,1)" font-size="69.77" letter-spacing="5.405" fill="#000">BY MAL BYŤ KLADENÝ OSOBITÝ DÔRAZ</text>
<text transform="translate(3850.87,1944.00) scale(0.4566,1)" font-size="69.77" letter-spacing="5.694" fill="#000">PROJEKT</text><text transform="translate(3851.87,1944.00) scale(0.4566,1)" font-size="69.77" letter-spacing="5.694" fill="#000">PROJEKT</text><text transform="translate(3852.87,1944.00) scale(0.4566,1)" font-size="69.77" letter-spacing="5.694" fill="#000">PROJEKT</text><text transform="translate(3853.87,1944.00) scale(0.4566,1)" font-size="69.77" letter-spacing="5.694" fill="#000">PROJEKT</text><text transform="translate(3854.87,1944.00) scale(0.4566,1)" font-size="69.77" letter-spacing="5.694" fill="#000">PROJEKT</text><rect x="4020.90" y="1944.20" width="35.00" height="5.70" fill="#000"/>
<text transform="translate(3850.71,2024.20) scale(0.4906,1)" font-size="69.77" letter-spacing="5.300" fill="#000">KTORÝ ZÁSADNE MENÍ</text><text transform="translate(3851.71,2024.20) scale(0.4906,1)" font-size="69.77" letter-spacing="5.300" fill="#000">KTORÝ ZÁSADNE MENÍ</text><text transform="translate(3852.71,2024.20) scale(0.4906,1)" font-size="69.77" letter-spacing="5.300" fill="#000">KTORÝ ZÁSADNE MENÍ</text><text transform="translate(3853.71,2024.20) scale(0.4906,1)" font-size="69.77" letter-spacing="5.300" fill="#000">KTORÝ ZÁSADNE MENÍ</text><text transform="translate(3854.71,2024.20) scale(0.4906,1)" font-size="69.77" letter-spacing="5.300" fill="#000">KTORÝ ZÁSADNE MENÍ</text>
<text transform="translate(3851.61,2104.00) scale(0.4856,1)" font-size="69.77" letter-spacing="5.354" fill="#000">CHARAKTER RIEŠENÉHO ÚZEMIA</text><text transform="translate(3852.61,2104.00) scale(0.4856,1)" font-size="69.77" letter-spacing="5.354" fill="#000">CHARAKTER RIEŠENÉHO ÚZEMIA</text><text transform="translate(3853.61,2104.00) scale(0.4856,1)" font-size="69.77" letter-spacing="5.354" fill="#000">CHARAKTER RIEŠENÉHO ÚZEMIA</text><text transform="translate(3854.61,2104.00) scale(0.4856,1)" font-size="69.77" letter-spacing="5.354" fill="#000">CHARAKTER RIEŠENÉHO ÚZEMIA</text><text transform="translate(3855.61,2104.00) scale(0.4856,1)" font-size="69.77" letter-spacing="5.354" fill="#000">CHARAKTER RIEŠENÉHO ÚZEMIA</text>
<text transform="translate(3858.76,2709.80) scale(0.4810,1)" font-size="69.77" letter-spacing="5.406" fill="#000">NÁRODNÉ KULTÚRNE PAMIATKY V PROSTREDÍ</text><text transform="translate(3859.76,2709.80) scale(0.4810,1)" font-size="69.77" letter-spacing="5.406" fill="#000">NÁRODNÉ KULTÚRNE PAMIATKY V PROSTREDÍ</text><text transform="translate(3860.76,2709.80) scale(0.4810,1)" font-size="69.77" letter-spacing="5.406" fill="#000">NÁRODNÉ KULTÚRNE PAMIATKY V PROSTREDÍ</text><text transform="translate(3861.76,2709.80) scale(0.4810,1)" font-size="69.77" letter-spacing="5.406" fill="#000">NÁRODNÉ KULTÚRNE PAMIATKY V PROSTREDÍ</text><text transform="translate(3862.76,2709.80) scale(0.4810,1)" font-size="69.77" letter-spacing="5.406" fill="#000">NÁRODNÉ KULTÚRNE PAMIATKY V PROSTREDÍ</text>
<rect x="3707" y="956" width="101" height="101" fill="#ff0000"/>
<rect x="3708" y="1884" width="101" height="101" fill="#1a1a1a"/>
<rect x="3707" y="2650" width="101" height="101" fill="#ff0000"/>
</svg></body></html>
